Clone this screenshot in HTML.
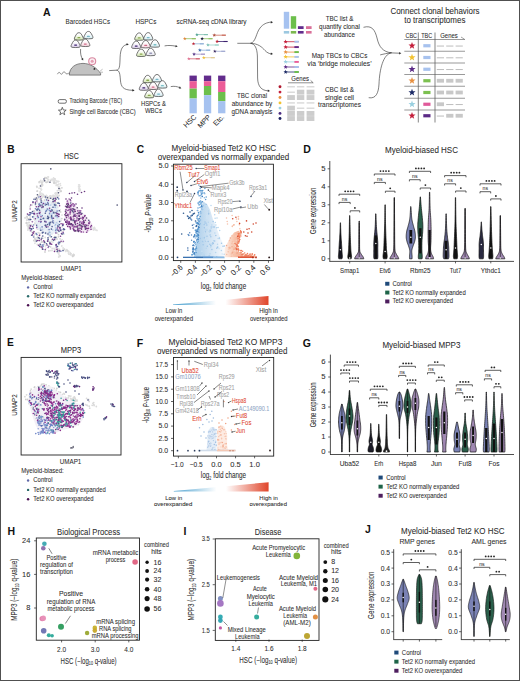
<!DOCTYPE html><html><head><meta charset="utf-8"><title>Figure</title><style>html,body{margin:0;padding:0;background:#fff;width:520px;height:681px;overflow:hidden}svg{display:block;font-family:"Liberation Sans",sans-serif}</style></head><body><svg width="520" height="681" viewBox="0 0 520 681" font-family="Liberation Sans, sans-serif" fill="#333"><defs><linearGradient id="cg_green" x1="0" y1="0" x2="0" y2="1"><stop offset="0.25" stop-color="#ffffff"/><stop offset="1" stop-color="#d2e6b0"/></linearGradient><linearGradient id="cg_blue" x1="0" y1="0" x2="0" y2="1"><stop offset="0.25" stop-color="#ffffff"/><stop offset="1" stop-color="#d4ecf2"/></linearGradient><linearGradient id="cg_purple" x1="0" y1="0" x2="0" y2="1"><stop offset="0.25" stop-color="#ffffff"/><stop offset="1" stop-color="#ddd0ec"/></linearGradient><linearGradient id="cg_pink" x1="0" y1="0" x2="0" y2="1"><stop offset="0.25" stop-color="#ffffff"/><stop offset="1" stop-color="#f6d2dc"/></linearGradient><linearGradient id="cg_gray" x1="0" y1="0" x2="0" y2="1"><stop offset="0.25" stop-color="#ffffff"/><stop offset="1" stop-color="#e4e4ee"/></linearGradient><linearGradient id="cg_teal" x1="0" y1="0" x2="0" y2="1"><stop offset="0.25" stop-color="#ffffff"/><stop offset="1" stop-color="#d6eef0"/></linearGradient><linearGradient id="gblue" x1="0" y1="0" x2="1" y2="0"><stop offset="0" stop-color="#a6cbea"/><stop offset="0.35" stop-color="#c4dcf0"/><stop offset="0.75" stop-color="#e4eef8"/><stop offset="1" stop-color="#fafcfe"/></linearGradient><linearGradient id="gred" x1="0" y1="0" x2="1" y2="0"><stop offset="0" stop-color="#fdeee6"/><stop offset="0.3" stop-color="#f8c4ac"/><stop offset="1" stop-color="#ec6a48"/></linearGradient><linearGradient id="gwedge" x1="0" y1="0" x2="1" y2="0"><stop offset="0" stop-color="#4aa0cf"/><stop offset="0.45" stop-color="#ffffff"/><stop offset="0.55" stop-color="#ffffff"/><stop offset="1" stop-color="#e0452a"/></linearGradient></defs><rect x="0" y="0" width="520" height="681" fill="#fff"/><text x="43.00" y="15.80" font-size="10.50" fill="#111" font-weight="bold">A</text><text x="87.80" y="24.20" font-size="7.26" text-anchor="middle" fill="#2c2c2c" textLength="44.50" lengthAdjust="spacingAndGlyphs" stroke="#2c2c2c" stroke-width="0.06">Barcoded HSCs</text><text x="145.90" y="24.20" font-size="7.26" text-anchor="middle" fill="#2c2c2c" textLength="21.00" lengthAdjust="spacingAndGlyphs" stroke="#2c2c2c" stroke-width="0.06">HSPCs</text><text x="211.60" y="24.20" font-size="7.26" text-anchor="middle" fill="#2c2c2c" textLength="70.00" lengthAdjust="spacingAndGlyphs" stroke="#2c2c2c" stroke-width="0.06">scRNA-seq cDNA library</text><g transform="translate(78.90,36.40) scale(1.0)"><path d="M -3.6,3.5 C -4.7,3.5 -4.8,2.0 -4.0,0.6 C -3.2,-0.9 -2.6,-2.2 -1.8,-3.0 C -0.9,-3.9 0.9,-3.9 1.8,-3.0 C 2.6,-2.2 3.2,-0.9 4.0,0.6 C 4.8,2.0 4.7,3.5 3.6,3.5 C 1.4,3.8 -1.4,3.8 -3.6,3.5 Z" fill="url(#cg_green)" stroke="#454545" stroke-width="0.75"/><rect x="-1.5" y="0.6" width="3.0" height="1.3" rx="0.6" fill="#8aa850"/></g><g transform="translate(88.40,35.10) scale(1.0)"><path d="M -3.6,3.5 C -4.7,3.5 -4.8,2.0 -4.0,0.6 C -3.2,-0.9 -2.6,-2.2 -1.8,-3.0 C -0.9,-3.9 0.9,-3.9 1.8,-3.0 C 2.6,-2.2 3.2,-0.9 4.0,0.6 C 4.8,2.0 4.7,3.5 3.6,3.5 C 1.4,3.8 -1.4,3.8 -3.6,3.5 Z" fill="url(#cg_blue)" stroke="#454545" stroke-width="0.75"/><rect x="-1.5" y="0.6" width="3.0" height="1.3" rx="0.6" fill="#7ab8c8"/></g><g transform="translate(75.60,43.80) scale(1.0)"><path d="M -3.6,3.5 C -4.7,3.5 -4.8,2.0 -4.0,0.6 C -3.2,-0.9 -2.6,-2.2 -1.8,-3.0 C -0.9,-3.9 0.9,-3.9 1.8,-3.0 C 2.6,-2.2 3.2,-0.9 4.0,0.6 C 4.8,2.0 4.7,3.5 3.6,3.5 C 1.4,3.8 -1.4,3.8 -3.6,3.5 Z" fill="url(#cg_purple)" stroke="#454545" stroke-width="0.75"/><rect x="-1.5" y="0.6" width="3.0" height="1.3" rx="0.6" fill="#3d2370"/></g><g transform="translate(85.30,42.80) scale(1.0)"><path d="M -3.6,3.5 C -4.7,3.5 -4.8,2.0 -4.0,0.6 C -3.2,-0.9 -2.6,-2.2 -1.8,-3.0 C -0.9,-3.9 0.9,-3.9 1.8,-3.0 C 2.6,-2.2 3.2,-0.9 4.0,0.6 C 4.8,2.0 4.7,3.5 3.6,3.5 C 1.4,3.8 -1.4,3.8 -3.6,3.5 Z" fill="url(#cg_pink)" stroke="#454545" stroke-width="0.75"/><rect x="-1.5" y="0.6" width="3.0" height="1.3" rx="0.6" fill="#d06a88"/></g><path d="M 80.6,49 C 80.2,53 81,57 82.6,59.2" fill="none" stroke="#2c2c2c" stroke-width="0.6"/><polygon points="83.20,60.40 81.05,59.10 83.15,57.89" fill="#2c2c2c"/><path d="M 57.4,74.2 C 58.4,72.2 59.4,71.6 60.2,73.2 C 61,74.8 62,74.6 62.8,72.8 C 63.6,71.2 64.6,71.4 65.4,73 C 66.2,74.4 67.4,74.2 69.6,72.6" fill="none" stroke="#444" stroke-width="0.55"/><path d="M 69.3,75.1 C 69.5,67 76,63.4 83,63.4 C 90,63.4 96.5,67.5 100.6,73.4 L 100.6,75.1 Z" fill="#c2c2c2" stroke="#4a4a4a" stroke-width="0.65"/><circle cx="92.2" cy="61.3" r="3.5" fill="#fbeef2" stroke="#d98aa2" stroke-width="1.1"/><circle cx="92.2" cy="61.3" r="1.5" fill="#e4a0b4"/><circle cx="94.4" cy="68.9" r="0.9" fill="#222"/><path d="M 100.2,71 L 102.6,69.2 M 100.2,72.2 L 103,72.2" fill="none" stroke="#555" stroke-width="0.4"/><path d="M 109.2,70.6 L 116.5,70.2 C 119.5,70 119.8,66 120,60 C 120.2,52 121,46 126.5,44.6" fill="none" stroke="#2c2c2c" stroke-width="0.6"/><path d="M 126,44.6 L 127.5,44.3" fill="none" stroke="#2c2c2c" stroke-width="0.6"/><polygon points="128.80,44.20 126.71,45.60 126.50,43.19" fill="#2c2c2c"/><path d="M 116.5,70.2 C 119.5,70.4 120,74 120.4,80 C 121,87 123,90 132.5,90.3" fill="none" stroke="#2c2c2c" stroke-width="0.6"/><path d="M 132,90.3 L 133,90.35" fill="none" stroke="#2c2c2c" stroke-width="0.6"/><polygon points="134.60,90.40 132.36,91.53 132.44,89.11" fill="#2c2c2c"/><g transform="translate(139.20,36.60) scale(1.0)"><path d="M -3.6,3.5 C -4.7,3.5 -4.8,2.0 -4.0,0.6 C -3.2,-0.9 -2.6,-2.2 -1.8,-3.0 C -0.9,-3.9 0.9,-3.9 1.8,-3.0 C 2.6,-2.2 3.2,-0.9 4.0,0.6 C 4.8,2.0 4.7,3.5 3.6,3.5 C 1.4,3.8 -1.4,3.8 -3.6,3.5 Z" fill="url(#cg_green)" stroke="#454545" stroke-width="0.75"/><rect x="-1.5" y="0.6" width="3.0" height="1.3" rx="0.6" fill="#8aa850"/></g><g transform="translate(148.20,36.30) scale(1.0)"><path d="M -3.6,3.5 C -4.7,3.5 -4.8,2.0 -4.0,0.6 C -3.2,-0.9 -2.6,-2.2 -1.8,-3.0 C -0.9,-3.9 0.9,-3.9 1.8,-3.0 C 2.6,-2.2 3.2,-0.9 4.0,0.6 C 4.8,2.0 4.7,3.5 3.6,3.5 C 1.4,3.8 -1.4,3.8 -3.6,3.5 Z" fill="url(#cg_blue)" stroke="#454545" stroke-width="0.75"/><rect x="-1.5" y="0.6" width="3.0" height="1.3" rx="0.6" fill="#7ab8c8"/></g><g transform="translate(136.20,44.80) scale(1.0)"><path d="M -3.6,3.5 C -4.7,3.5 -4.8,2.0 -4.0,0.6 C -3.2,-0.9 -2.6,-2.2 -1.8,-3.0 C -0.9,-3.9 0.9,-3.9 1.8,-3.0 C 2.6,-2.2 3.2,-0.9 4.0,0.6 C 4.8,2.0 4.7,3.5 3.6,3.5 C 1.4,3.8 -1.4,3.8 -3.6,3.5 Z" fill="url(#cg_purple)" stroke="#454545" stroke-width="0.75"/><rect x="-1.5" y="0.6" width="3.0" height="1.3" rx="0.6" fill="#3d2370"/></g><g transform="translate(145.70,44.20) scale(1.0)"><path d="M -3.6,3.5 C -4.7,3.5 -4.8,2.0 -4.0,0.6 C -3.2,-0.9 -2.6,-2.2 -1.8,-3.0 C -0.9,-3.9 0.9,-3.9 1.8,-3.0 C 2.6,-2.2 3.2,-0.9 4.0,0.6 C 4.8,2.0 4.7,3.5 3.6,3.5 C 1.4,3.8 -1.4,3.8 -3.6,3.5 Z" fill="url(#cg_pink)" stroke="#454545" stroke-width="0.75"/><rect x="-1.5" y="0.6" width="3.0" height="1.3" rx="0.6" fill="#d06a88"/></g><g transform="translate(155.00,43.50) scale(1.0)"><path d="M -3.6,3.5 C -4.7,3.5 -4.8,2.0 -4.0,0.6 C -3.2,-0.9 -2.6,-2.2 -1.8,-3.0 C -0.9,-3.9 0.9,-3.9 1.8,-3.0 C 2.6,-2.2 3.2,-0.9 4.0,0.6 C 4.8,2.0 4.7,3.5 3.6,3.5 C 1.4,3.8 -1.4,3.8 -3.6,3.5 Z" fill="url(#cg_teal)" stroke="#454545" stroke-width="0.75"/><rect x="-1.5" y="0.6" width="3.0" height="1.3" rx="0.6" fill="#7cc0c8"/></g><g transform="translate(141.10,52.80) scale(1.0)"><path d="M -3.6,3.5 C -4.7,3.5 -4.8,2.0 -4.0,0.6 C -3.2,-0.9 -2.6,-2.2 -1.8,-3.0 C -0.9,-3.9 0.9,-3.9 1.8,-3.0 C 2.6,-2.2 3.2,-0.9 4.0,0.6 C 4.8,2.0 4.7,3.5 3.6,3.5 C 1.4,3.8 -1.4,3.8 -3.6,3.5 Z" fill="url(#cg_green)" stroke="#454545" stroke-width="0.75"/><rect x="-1.5" y="0.6" width="3.0" height="1.3" rx="0.6" fill="#8aa850"/></g><g transform="translate(150.70,52.00) scale(1.0)"><path d="M -3.6,3.5 C -4.7,3.5 -4.8,2.0 -4.0,0.6 C -3.2,-0.9 -2.6,-2.2 -1.8,-3.0 C -0.9,-3.9 0.9,-3.9 1.8,-3.0 C 2.6,-2.2 3.2,-0.9 4.0,0.6 C 4.8,2.0 4.7,3.5 3.6,3.5 C 1.4,3.8 -1.4,3.8 -3.6,3.5 Z" fill="url(#cg_gray)" stroke="#454545" stroke-width="0.75"/><rect x="-1.5" y="0.6" width="3.0" height="1.3" rx="0.6" fill="#9a9ab8"/></g><g transform="translate(147.70,79.00) scale(1.0)"><path d="M -3.6,3.5 C -4.7,3.5 -4.8,2.0 -4.0,0.6 C -3.2,-0.9 -2.6,-2.2 -1.8,-3.0 C -0.9,-3.9 0.9,-3.9 1.8,-3.0 C 2.6,-2.2 3.2,-0.9 4.0,0.6 C 4.8,2.0 4.7,3.5 3.6,3.5 C 1.4,3.8 -1.4,3.8 -3.6,3.5 Z" fill="url(#cg_green)" stroke="#454545" stroke-width="0.75"/><rect x="-1.5" y="0.6" width="3.0" height="1.3" rx="0.6" fill="#8aa850"/></g><g transform="translate(157.00,78.20) scale(1.0)"><path d="M -3.6,3.5 C -4.7,3.5 -4.8,2.0 -4.0,0.6 C -3.2,-0.9 -2.6,-2.2 -1.8,-3.0 C -0.9,-3.9 0.9,-3.9 1.8,-3.0 C 2.6,-2.2 3.2,-0.9 4.0,0.6 C 4.8,2.0 4.7,3.5 3.6,3.5 C 1.4,3.8 -1.4,3.8 -3.6,3.5 Z" fill="url(#cg_blue)" stroke="#454545" stroke-width="0.75"/><rect x="-1.5" y="0.6" width="3.0" height="1.3" rx="0.6" fill="#7ab8c8"/></g><g transform="translate(143.80,86.60) scale(1.0)"><path d="M -3.6,3.5 C -4.7,3.5 -4.8,2.0 -4.0,0.6 C -3.2,-0.9 -2.6,-2.2 -1.8,-3.0 C -0.9,-3.9 0.9,-3.9 1.8,-3.0 C 2.6,-2.2 3.2,-0.9 4.0,0.6 C 4.8,2.0 4.7,3.5 3.6,3.5 C 1.4,3.8 -1.4,3.8 -3.6,3.5 Z" fill="url(#cg_purple)" stroke="#454545" stroke-width="0.75"/><rect x="-1.5" y="0.6" width="3.0" height="1.3" rx="0.6" fill="#3d2370"/></g><g transform="translate(153.10,85.80) scale(1.0)"><path d="M -3.6,3.5 C -4.7,3.5 -4.8,2.0 -4.0,0.6 C -3.2,-0.9 -2.6,-2.2 -1.8,-3.0 C -0.9,-3.9 0.9,-3.9 1.8,-3.0 C 2.6,-2.2 3.2,-0.9 4.0,0.6 C 4.8,2.0 4.7,3.5 3.6,3.5 C 1.4,3.8 -1.4,3.8 -3.6,3.5 Z" fill="url(#cg_pink)" stroke="#454545" stroke-width="0.75"/><rect x="-1.5" y="0.6" width="3.0" height="1.3" rx="0.6" fill="#d06a88"/></g><g transform="translate(162.40,84.40) scale(1.0)"><path d="M -3.6,3.5 C -4.7,3.5 -4.8,2.0 -4.0,0.6 C -3.2,-0.9 -2.6,-2.2 -1.8,-3.0 C -0.9,-3.9 0.9,-3.9 1.8,-3.0 C 2.6,-2.2 3.2,-0.9 4.0,0.6 C 4.8,2.0 4.7,3.5 3.6,3.5 C 1.4,3.8 -1.4,3.8 -3.6,3.5 Z" fill="url(#cg_teal)" stroke="#454545" stroke-width="0.75"/><rect x="-1.5" y="0.6" width="3.0" height="1.3" rx="0.6" fill="#7cc0c8"/></g><g transform="translate(149.20,94.20) scale(1.0)"><path d="M -3.6,3.5 C -4.7,3.5 -4.8,2.0 -4.0,0.6 C -3.2,-0.9 -2.6,-2.2 -1.8,-3.0 C -0.9,-3.9 0.9,-3.9 1.8,-3.0 C 2.6,-2.2 3.2,-0.9 4.0,0.6 C 4.8,2.0 4.7,3.5 3.6,3.5 C 1.4,3.8 -1.4,3.8 -3.6,3.5 Z" fill="url(#cg_green)" stroke="#454545" stroke-width="0.75"/><rect x="-1.5" y="0.6" width="3.0" height="1.3" rx="0.6" fill="#8aa850"/></g><g transform="translate(158.60,92.80) scale(1.0)"><path d="M -3.6,3.5 C -4.7,3.5 -4.8,2.0 -4.0,0.6 C -3.2,-0.9 -2.6,-2.2 -1.8,-3.0 C -0.9,-3.9 0.9,-3.9 1.8,-3.0 C 2.6,-2.2 3.2,-0.9 4.0,0.6 C 4.8,2.0 4.7,3.5 3.6,3.5 C 1.4,3.8 -1.4,3.8 -3.6,3.5 Z" fill="url(#cg_blue)" stroke="#454545" stroke-width="0.75"/><rect x="-1.5" y="0.6" width="3.0" height="1.3" rx="0.6" fill="#7ab8c8"/></g><text x="153.40" y="105.60" font-size="7.26" text-anchor="middle" fill="#2c2c2c" textLength="25.00" lengthAdjust="spacingAndGlyphs" stroke="#2c2c2c" stroke-width="0.06">HSPCs &amp;</text><text x="153.40" y="113.40" font-size="7.26" text-anchor="middle" fill="#2c2c2c" textLength="17.00" lengthAdjust="spacingAndGlyphs" stroke="#2c2c2c" stroke-width="0.06">WBCs</text><path d="M 164.6,45.9 C 168,45.2 172,45.4 175.8,46.2" fill="none" stroke="#2c2c2c" stroke-width="0.6"/><polygon points="177.70,46.60 175.30,47.33 175.80,44.96" fill="#2c2c2c"/><path d="M 170.8,86.6 C 174,86 177,86.4 179.6,87.6" fill="none" stroke="#2c2c2c" stroke-width="0.6"/><polygon points="181.30,88.40 178.79,88.57 179.82,86.37" fill="#2c2c2c"/><line x1="196.90" y1="34.60" x2="207.90" y2="34.60" stroke="#7fc0b0" stroke-width="0.8"/><rect x="203.90" y="34.05" width="4.00" height="1.10" fill="#7fc0b0"/><polygon points="196.90,32.70 197.37,33.95 198.71,34.01 197.66,34.85 198.02,36.14 196.90,35.40 195.78,36.14 196.14,34.85 195.09,34.01 196.43,33.95" fill="#5aa79a"/><line x1="214.20" y1="35.20" x2="225.80" y2="35.20" stroke="#c96a5a" stroke-width="0.8"/><rect x="221.80" y="34.65" width="4.00" height="1.10" fill="#c96a5a"/><polygon points="214.20,33.30 214.67,34.55 216.01,34.61 214.96,35.45 215.32,36.74 214.20,36.00 213.08,36.74 213.44,35.45 212.39,34.61 213.73,34.55" fill="#b05040"/><line x1="184.80" y1="38.70" x2="195.80" y2="38.70" stroke="#8fbf60" stroke-width="0.8"/><rect x="191.80" y="38.15" width="4.00" height="1.10" fill="#8fbf60"/><polygon points="184.80,36.80 185.27,38.05 186.61,38.11 185.56,38.95 185.92,40.24 184.80,39.50 183.68,40.24 184.04,38.95 182.99,38.11 184.33,38.05" fill="#e08a40"/><line x1="202.10" y1="38.70" x2="212.50" y2="38.70" stroke="#8fc060" stroke-width="0.8"/><rect x="208.50" y="38.15" width="4.00" height="1.10" fill="#8fc060"/><polygon points="202.10,36.80 202.57,38.05 203.91,38.11 202.86,38.95 203.22,40.24 202.10,39.50 200.98,40.24 201.34,38.95 200.29,38.11 201.63,38.05" fill="#222244"/><line x1="217.10" y1="41.50" x2="227.50" y2="41.50" stroke="#3d2370" stroke-width="0.8"/><rect x="223.50" y="40.95" width="4.00" height="1.10" fill="#3d2370"/><polygon points="217.10,39.60 217.57,40.85 218.91,40.91 217.86,41.75 218.22,43.04 217.10,42.30 215.98,43.04 216.34,41.75 215.29,40.91 216.63,40.85" fill="#c02030"/><line x1="193.50" y1="43.80" x2="203.80" y2="43.80" stroke="#8fb0d8" stroke-width="0.8"/><rect x="199.80" y="43.25" width="4.00" height="1.10" fill="#8fb0d8"/><polygon points="193.50,41.90 193.97,43.15 195.31,43.21 194.26,44.05 194.62,45.34 193.50,44.60 192.38,45.34 192.74,44.05 191.69,43.21 193.03,43.15" fill="#c02030"/><line x1="207.90" y1="45.00" x2="218.80" y2="45.00" stroke="#9ad0c8" stroke-width="0.8"/><rect x="214.80" y="44.45" width="4.00" height="1.10" fill="#9ad0c8"/><polygon points="207.90,43.10 208.37,44.35 209.71,44.41 208.66,45.25 209.02,46.54 207.90,45.80 206.78,46.54 207.14,45.25 206.09,44.41 207.43,44.35" fill="#7fc0b8"/><line x1="199.80" y1="50.20" x2="210.20" y2="50.20" stroke="#8fb0d8" stroke-width="0.8"/><rect x="206.20" y="49.65" width="4.00" height="1.10" fill="#8fb0d8"/><polygon points="199.80,48.30 200.27,49.55 201.61,49.61 200.56,50.45 200.92,51.74 199.80,51.00 198.68,51.74 199.04,50.45 197.99,49.61 199.33,49.55" fill="#3a6ab0"/><line x1="214.80" y1="51.30" x2="225.20" y2="51.30" stroke="#a0a8d0" stroke-width="0.8"/><rect x="221.20" y="50.75" width="4.00" height="1.10" fill="#a0a8d0"/><polygon points="214.80,49.40 215.27,50.65 216.61,50.71 215.56,51.55 215.92,52.84 214.80,52.10 213.68,52.84 214.04,51.55 212.99,50.71 214.33,50.65" fill="#3d2a60"/><line x1="194.00" y1="54.20" x2="205.00" y2="54.20" stroke="#a898c8" stroke-width="0.8"/><rect x="201.00" y="53.65" width="4.00" height="1.10" fill="#a898c8"/><polygon points="194.00,52.30 194.47,53.55 195.81,53.61 194.76,54.45 195.12,55.74 194.00,55.00 192.88,55.74 193.24,54.45 192.19,53.61 193.53,53.55" fill="#5a3a8a"/><line x1="203.80" y1="57.70" x2="214.80" y2="57.70" stroke="#e0c890" stroke-width="0.8"/><rect x="210.80" y="57.15" width="4.00" height="1.10" fill="#e0c890"/><polygon points="203.80,55.80 204.27,57.05 205.61,57.11 204.56,57.95 204.92,59.24 203.80,58.50 202.68,59.24 203.04,57.95 201.99,57.11 203.33,57.05" fill="#f0c040"/><line x1="188.80" y1="58.80" x2="199.80" y2="58.80" stroke="#d06070" stroke-width="0.8"/><rect x="195.80" y="58.25" width="4.00" height="1.10" fill="#d06070"/><polygon points="188.80,56.90 189.27,58.15 190.61,58.21 189.56,59.05 189.92,60.34 188.80,59.60 187.68,60.34 188.04,59.05 186.99,58.21 188.33,58.15" fill="#e07090"/><rect x="189.50" y="75.60" width="7.30" height="5.60" fill="#622c8c"/><rect x="189.50" y="81.20" width="7.30" height="7.40" fill="#ec5c98"/><rect x="189.50" y="88.60" width="7.30" height="9.90" fill="#6cbf4b"/><rect x="189.50" y="98.50" width="7.30" height="14.80" fill="#a6c2f0"/><rect x="203.90" y="75.60" width="7.30" height="5.60" fill="#622c8c"/><rect x="203.90" y="81.20" width="7.30" height="4.80" fill="#ec5c98"/><rect x="203.90" y="86.00" width="7.30" height="9.10" fill="#6cbf4b"/><rect x="203.90" y="95.10" width="7.30" height="18.20" fill="#a6c2f0"/><rect x="218.10" y="75.60" width="7.30" height="5.60" fill="#622c8c"/><rect x="218.10" y="81.20" width="7.30" height="10.80" fill="#ec5c98"/><rect x="218.10" y="92.00" width="7.30" height="9.10" fill="#6cbf4b"/><rect x="218.10" y="101.10" width="7.30" height="12.20" fill="#a6c2f0"/><text x="196.80" y="117.60" font-size="7.04" text-anchor="end" fill="#2c2c2c" transform="rotate(-45 196.80 117.60)" stroke="#2c2c2c" stroke-width="0.06">HSC</text><text x="211.20" y="117.60" font-size="7.04" text-anchor="end" fill="#2c2c2c" transform="rotate(-45 211.20 117.60)" stroke="#2c2c2c" stroke-width="0.06">MPP</text><text x="224.60" y="117.60" font-size="7.04" text-anchor="end" fill="#2c2c2c" transform="rotate(-45 224.60 117.60)" stroke="#2c2c2c" stroke-width="0.06">Etc.</text><text x="252.00" y="98.40" font-size="7.26" text-anchor="middle" fill="#2c2c2c" textLength="30.20" lengthAdjust="spacingAndGlyphs" stroke="#2c2c2c" stroke-width="0.06">TBC clonal</text><text x="252.00" y="106.30" font-size="7.26" text-anchor="middle" fill="#2c2c2c" textLength="40.40" lengthAdjust="spacingAndGlyphs" stroke="#2c2c2c" stroke-width="0.06">abundance by</text><text x="252.00" y="113.70" font-size="7.26" text-anchor="middle" fill="#2c2c2c" textLength="40.90" lengthAdjust="spacingAndGlyphs" stroke="#2c2c2c" stroke-width="0.06">gDNA analysis</text><rect x="58.20" y="99.60" width="8.20" height="3.60" fill="none" stroke="#333" stroke-width="0.7" rx="1.5"/><text x="69.40" y="103.30" font-size="6.82" fill="#2c2c2c" textLength="52.80" lengthAdjust="spacingAndGlyphs" stroke="#2c2c2c" stroke-width="0.06">Tracking Barcode (TBC)</text><polygon points="62.30,107.30 63.33,109.98 66.20,110.13 63.96,111.94 64.71,114.72 62.30,113.15 59.89,114.72 60.64,111.94 58.40,110.13 61.27,109.98" fill="none" stroke="#333" stroke-width="0.7" stroke-linejoin="round"/><text x="69.40" y="113.50" font-size="6.82" fill="#2c2c2c" textLength="66.30" lengthAdjust="spacingAndGlyphs" stroke="#2c2c2c" stroke-width="0.06">Single cell Barcode (CBC)</text><path d="M 237.3,43.3 L 250.5,43.3" fill="none" stroke="#2c2c2c" stroke-width="0.6"/><path d="M 250.5,43.3 C 256,42 256,33 260,28 C 263,24 267,22.4 271,22.2" fill="none" stroke="#2c2c2c" stroke-width="0.6"/><polygon points="273.00,22.20 270.80,23.41 270.80,20.99" fill="#2c2c2c"/><path d="M 250.5,43.3 C 258,43.5 262,47 265,50.5 C 267,52.6 269,53.6 271,53.8" fill="none" stroke="#2c2c2c" stroke-width="0.6"/><polygon points="273.00,53.90 270.70,54.91 270.91,52.50" fill="#2c2c2c"/><path d="M 250.5,43.3 C 255,44 257,48 257.4,56 L 257.6,78 C 257.8,87 262,90.5 268,90.8" fill="none" stroke="#2c2c2c" stroke-width="0.6"/><polygon points="270.00,90.90 267.74,91.99 267.87,89.58" fill="#2c2c2c"/><rect x="283.80" y="11.80" width="5.40" height="16.90" fill="#a6c2f0"/><rect x="290.80" y="16.20" width="5.40" height="12.50" fill="#6cbf4b"/><rect x="297.90" y="26.20" width="5.70" height="2.80" fill="#622c8c"/><rect x="306.00" y="26.20" width="5.60" height="2.80" fill="#d97098"/><rect x="283.80" y="31.00" width="5.40" height="2.60" fill="#9cc8e0"/><rect x="290.80" y="31.00" width="5.40" height="2.60" fill="#7cb850"/><rect x="297.90" y="31.00" width="5.70" height="2.60" fill="#622c8c"/><rect x="306.00" y="31.00" width="5.60" height="2.60" fill="#d97098"/><line x1="285.60" y1="41.70" x2="298.80" y2="41.70" stroke="#c41e3a" stroke-width="0.8"/><rect x="294.40" y="40.75" width="4.40" height="1.90" fill="#a7c2ee"/><polygon points="285.60,39.40 286.17,40.92 287.79,40.99 286.52,42.00 286.95,43.56 285.60,42.67 284.25,43.56 284.68,42.00 283.41,40.99 285.03,40.92" fill="#c41e3a"/><line x1="285.60" y1="47.10" x2="298.80" y2="47.10" stroke="#c41e3a" stroke-width="0.8"/><rect x="294.40" y="46.15" width="4.40" height="1.90" fill="#622c8c"/><polygon points="285.60,44.80 286.17,46.32 287.79,46.39 286.52,47.40 286.95,48.96 285.60,48.07 284.25,48.96 284.68,47.40 283.41,46.39 285.03,46.32" fill="#c41e3a"/><line x1="285.60" y1="52.10" x2="298.80" y2="52.10" stroke="#e89040" stroke-width="0.8"/><rect x="294.40" y="51.15" width="4.40" height="1.90" fill="#6cbf4b"/><polygon points="285.60,49.80 286.17,51.32 287.79,51.39 286.52,52.40 286.95,53.96 285.60,53.07 284.25,53.96 284.68,52.40 283.41,51.39 285.03,51.32" fill="#e89040"/><line x1="285.60" y1="56.90" x2="298.80" y2="56.90" stroke="#f2c230" stroke-width="0.8"/><rect x="294.40" y="55.95" width="4.40" height="1.90" fill="#a7c2ee"/><polygon points="285.60,54.60 286.17,56.12 287.79,56.19 286.52,57.20 286.95,58.76 285.60,57.87 284.25,58.76 284.68,57.20 283.41,56.19 285.03,56.12" fill="#f2c230"/><line x1="285.60" y1="61.90" x2="298.80" y2="61.90" stroke="#9ad0e0" stroke-width="0.8"/><rect x="294.40" y="60.95" width="4.40" height="1.90" fill="#ec5c98"/><polygon points="285.60,59.60 286.17,61.12 287.79,61.19 286.52,62.20 286.95,63.76 285.60,62.87 284.25,63.76 284.68,62.20 283.41,61.19 285.03,61.12" fill="#9ad0e0"/><line x1="285.60" y1="67.00" x2="298.80" y2="67.00" stroke="#5b2a86" stroke-width="0.8"/><rect x="294.40" y="66.05" width="4.40" height="1.90" fill="#a7c2ee"/><polygon points="285.60,64.70 286.17,66.22 287.79,66.29 286.52,67.30 286.95,68.86 285.60,67.97 284.25,68.86 284.68,67.30 283.41,66.29 285.03,66.22" fill="#5b2a86"/><line x1="285.60" y1="72.00" x2="298.80" y2="72.00" stroke="#1c2a66" stroke-width="0.8"/><rect x="294.40" y="71.05" width="4.40" height="1.90" fill="#6cbf4b"/><polygon points="285.60,69.70 286.17,71.22 287.79,71.29 286.52,72.30 286.95,73.86 285.60,72.97 284.25,73.86 284.68,72.30 283.41,71.29 285.03,71.22" fill="#1c2a66"/><text x="300.20" y="80.80" font-size="7.48" text-anchor="middle" fill="#2c2c2c" textLength="17.80" lengthAdjust="spacingAndGlyphs" stroke="#2c2c2c" stroke-width="0.06">Genes</text><path d="M 288,82.8 L 313.2,82.8 L 310.6,80.4" fill="none" stroke="#444" stroke-width="0.6"/><circle cx="280.0" cy="86.8" r="1.45" fill="#b0182e"/><circle cx="280.0" cy="92.1" r="1.45" fill="#c41e3a"/><circle cx="280.0" cy="97.5" r="1.45" fill="#e89040"/><circle cx="280.0" cy="102.9" r="1.45" fill="#f2c230"/><circle cx="280.0" cy="108.1" r="1.45" fill="#9ad0e0"/><circle cx="280.0" cy="113.4" r="1.45" fill="#4a2a80"/><circle cx="280.0" cy="118.5" r="1.45" fill="#1c2060"/><rect x="287.20" y="86.40" width="7.70" height="0.90" fill="#c4c4c4"/><rect x="296.90" y="86.40" width="7.40" height="0.90" fill="#c4c4c4"/><rect x="306.60" y="86.40" width="7.80" height="0.90" fill="#c4c4c4"/><rect x="287.20" y="91.70" width="7.70" height="0.90" fill="#c4c4c4"/><rect x="296.90" y="89.70" width="7.40" height="4.90" fill="#cdcdcd"/><rect x="306.60" y="89.70" width="7.80" height="4.90" fill="#cdcdcd"/><rect x="287.20" y="95.10" width="7.70" height="4.90" fill="#cdcdcd"/><rect x="296.90" y="95.10" width="7.40" height="4.90" fill="#cdcdcd"/><rect x="306.60" y="95.10" width="7.80" height="4.90" fill="#cdcdcd"/><rect x="287.20" y="102.50" width="7.70" height="0.90" fill="#c4c4c4"/><rect x="296.90" y="102.50" width="7.40" height="0.90" fill="#c4c4c4"/><rect x="306.60" y="102.50" width="7.80" height="0.90" fill="#c4c4c4"/><rect x="287.20" y="105.70" width="7.70" height="4.90" fill="#cdcdcd"/><rect x="296.90" y="107.70" width="7.40" height="0.90" fill="#c4c4c4"/><rect x="306.60" y="107.70" width="7.80" height="0.90" fill="#c4c4c4"/><rect x="287.20" y="111.00" width="7.70" height="4.90" fill="#cdcdcd"/><rect x="296.90" y="111.00" width="7.40" height="4.90" fill="#cdcdcd"/><rect x="306.60" y="111.00" width="7.80" height="4.90" fill="#cdcdcd"/><rect x="287.20" y="116.10" width="7.70" height="4.90" fill="#cdcdcd"/><rect x="296.90" y="116.10" width="7.40" height="4.90" fill="#cdcdcd"/><rect x="306.60" y="116.10" width="7.80" height="4.90" fill="#cdcdcd"/><text x="339.50" y="21.30" font-size="7.26" text-anchor="middle" fill="#2c2c2c" textLength="27.60" lengthAdjust="spacingAndGlyphs" stroke="#2c2c2c" stroke-width="0.06">TBC list &amp;</text><text x="339.50" y="29.20" font-size="7.26" text-anchor="middle" fill="#2c2c2c" textLength="40.80" lengthAdjust="spacingAndGlyphs" stroke="#2c2c2c" stroke-width="0.06">quantify clonal</text><text x="339.50" y="36.60" font-size="7.26" text-anchor="middle" fill="#2c2c2c" textLength="30.80" lengthAdjust="spacingAndGlyphs" stroke="#2c2c2c" stroke-width="0.06">abundance</text><text x="339.50" y="57.80" font-size="7.26" text-anchor="middle" fill="#2c2c2c" textLength="55.70" lengthAdjust="spacingAndGlyphs" stroke="#2c2c2c" stroke-width="0.06">Map TBCs to CBCs</text><text x="339.50" y="65.60" font-size="7.26" text-anchor="middle" fill="#2c2c2c" textLength="64.30" lengthAdjust="spacingAndGlyphs" stroke="#2c2c2c" stroke-width="0.06">via ‘bridge molecules’</text><text x="339.50" y="91.70" font-size="7.26" text-anchor="middle" fill="#2c2c2c" textLength="29.20" lengthAdjust="spacingAndGlyphs" stroke="#2c2c2c" stroke-width="0.06">CBC list &amp;</text><text x="339.50" y="99.50" font-size="7.26" text-anchor="middle" fill="#2c2c2c" textLength="29.00" lengthAdjust="spacingAndGlyphs" stroke="#2c2c2c" stroke-width="0.06">single cell</text><text x="339.50" y="107.10" font-size="7.26" text-anchor="middle" fill="#2c2c2c" textLength="42.80" lengthAdjust="spacingAndGlyphs" stroke="#2c2c2c" stroke-width="0.06">transcriptomes</text><path d="M 363.5,27.3 C 372,25 375,30 377,38 C 379,47 383,52 391.6,52.8" fill="none" stroke="#2c2c2c" stroke-width="0.6"/><path d="M 380.2,54.9 C 384,54 387,53.2 391.6,52.8" fill="none" stroke="#2c2c2c" stroke-width="0.6"/><path d="M 368.7,97.7 C 376,99 378.5,93 379,84 C 379.5,70 383,54 391.6,52.8" fill="none" stroke="#2c2c2c" stroke-width="0.6"/><path d="M 391.6,52.9 L 399,53.2" fill="none" stroke="#2c2c2c" stroke-width="0.6"/><polygon points="401.30,53.30 399.06,54.43 399.14,52.01" fill="#2c2c2c"/><text x="435.00" y="13.80" font-size="8.80" text-anchor="middle" fill="#2c2c2c" textLength="89.20" lengthAdjust="spacingAndGlyphs" stroke="#2c2c2c" stroke-width="0.06">Connect clonal behaviors</text><text x="434.80" y="22.70" font-size="8.80" text-anchor="middle" fill="#2c2c2c" textLength="61.20" lengthAdjust="spacingAndGlyphs" stroke="#2c2c2c" stroke-width="0.06">to transcriptomes</text><text x="411.30" y="37.80" font-size="6.60" text-anchor="middle" fill="#2c2c2c" textLength="11.50" lengthAdjust="spacingAndGlyphs" stroke="#2c2c2c" stroke-width="0.06">CBC</text><text x="426.70" y="37.80" font-size="6.60" text-anchor="middle" fill="#2c2c2c" textLength="11.00" lengthAdjust="spacingAndGlyphs" stroke="#2c2c2c" stroke-width="0.06">TBC</text><text x="449.00" y="37.80" font-size="6.60" text-anchor="middle" fill="#2c2c2c" textLength="17.50" lengthAdjust="spacingAndGlyphs" stroke="#2c2c2c" stroke-width="0.06">Genes</text><path d="M 461,37 L 464.5,39.2" fill="none" stroke="#444" stroke-width="0.5"/><line x1="418.30" y1="32.50" x2="418.30" y2="122.50" stroke="#333" stroke-width="0.6"/><line x1="435.00" y1="32.50" x2="435.00" y2="122.50" stroke="#333" stroke-width="0.6"/><line x1="404.30" y1="39.50" x2="465.00" y2="39.50" stroke="#555" stroke-width="0.6"/><line x1="404.30" y1="51.25" x2="465.00" y2="51.25" stroke="#555" stroke-width="0.6"/><line x1="404.30" y1="63.00" x2="465.00" y2="63.00" stroke="#555" stroke-width="0.6"/><line x1="404.30" y1="74.50" x2="465.00" y2="74.50" stroke="#555" stroke-width="0.6"/><line x1="404.30" y1="86.25" x2="465.00" y2="86.25" stroke="#555" stroke-width="0.6"/><line x1="404.30" y1="98.25" x2="465.00" y2="98.25" stroke="#555" stroke-width="0.6"/><line x1="404.30" y1="110.00" x2="465.00" y2="110.00" stroke="#555" stroke-width="0.6"/><polygon points="412.00,42.05 412.91,44.49 415.52,44.61 413.48,46.23 414.17,48.74 412.00,47.30 409.83,48.74 410.52,46.23 408.48,44.61 411.09,44.49" fill="#c41e3a"/><rect x="423.30" y="44.15" width="7.20" height="3.20" fill="#a7c2ee"/><rect x="436.80" y="45.55" width="7.20" height="1.00" fill="#bdbdbd"/><rect x="446.20" y="45.55" width="7.20" height="1.00" fill="#bdbdbd"/><rect x="455.60" y="45.55" width="7.20" height="1.00" fill="#bdbdbd"/><polygon points="412.00,53.80 412.91,56.24 415.52,56.36 413.48,57.98 414.17,60.49 412.00,59.05 409.83,60.49 410.52,57.98 408.48,56.36 411.09,56.24" fill="#f2c230"/><rect x="423.30" y="55.90" width="7.20" height="3.20" fill="#a7c2ee"/><rect x="436.80" y="57.30" width="7.20" height="1.00" fill="#bdbdbd"/><rect x="446.20" y="57.30" width="7.20" height="1.00" fill="#bdbdbd"/><rect x="455.60" y="57.30" width="7.20" height="1.00" fill="#bdbdbd"/><polygon points="412.00,65.55 412.91,67.99 415.52,68.11 413.48,69.73 414.17,72.24 412.00,70.80 409.83,72.24 410.52,69.73 408.48,68.11 411.09,67.99" fill="#5b2a86"/><rect x="423.30" y="67.65" width="7.20" height="3.20" fill="#a7c2ee"/><rect x="436.80" y="69.05" width="7.20" height="1.00" fill="#bdbdbd"/><rect x="446.20" y="69.05" width="7.20" height="1.00" fill="#bdbdbd"/><rect x="455.60" y="69.05" width="7.20" height="1.00" fill="#bdbdbd"/><polygon points="412.00,77.05 412.91,79.49 415.52,79.61 413.48,81.23 414.17,83.74 412.00,82.30 409.83,83.74 410.52,81.23 408.48,79.61 411.09,79.49" fill="#e89040"/><rect x="423.30" y="79.15" width="7.20" height="3.20" fill="#7cc050"/><rect x="436.80" y="78.85" width="7.20" height="3.80" fill="#c8c8c8"/><rect x="446.20" y="78.85" width="7.20" height="3.80" fill="#c8c8c8"/><rect x="455.60" y="78.85" width="7.20" height="3.80" fill="#c8c8c8"/><polygon points="412.00,88.80 412.91,91.24 415.52,91.36 413.48,92.98 414.17,95.49 412.00,94.05 409.83,95.49 410.52,92.98 408.48,91.36 411.09,91.24" fill="#1c2a66"/><rect x="423.30" y="90.90" width="7.20" height="3.20" fill="#7cc050"/><rect x="436.80" y="90.60" width="7.20" height="3.80" fill="#c8c8c8"/><rect x="446.20" y="90.60" width="7.20" height="3.80" fill="#c8c8c8"/><rect x="455.60" y="90.60" width="7.20" height="3.80" fill="#c8c8c8"/><polygon points="412.00,100.55 412.91,102.99 415.52,103.11 413.48,104.73 414.17,107.24 412.00,105.80 409.83,107.24 410.52,104.73 408.48,103.11 411.09,102.99" fill="#9ad0e0"/><rect x="423.30" y="102.65" width="7.20" height="3.20" fill="#e05a9a"/><rect x="436.80" y="102.35" width="7.20" height="3.80" fill="#c8c8c8"/><rect x="446.20" y="104.05" width="7.20" height="1.00" fill="#bdbdbd"/><rect x="455.60" y="104.05" width="7.20" height="1.00" fill="#bdbdbd"/><polygon points="412.00,112.05 412.91,114.49 415.52,114.61 413.48,116.23 414.17,118.74 412.00,117.30 409.83,118.74 410.52,116.23 408.48,114.61 411.09,114.49" fill="#c41e3a"/><rect x="423.30" y="114.15" width="7.20" height="3.20" fill="#5b2a86"/><rect x="436.80" y="115.55" width="7.20" height="1.00" fill="#bdbdbd"/><rect x="446.20" y="113.85" width="7.20" height="3.80" fill="#c8c8c8"/><rect x="455.60" y="113.85" width="7.20" height="3.80" fill="#c8c8c8"/><text x="7.20" y="153.10" font-size="10.20" fill="#111" font-weight="bold">B</text><text x="71.40" y="158.80" font-size="8.80" text-anchor="middle" fill="#2c2c2c" textLength="14.80" lengthAdjust="spacingAndGlyphs" stroke="#2c2c2c" stroke-width="0.06">HSC</text><circle cx="43.4" cy="194.6" r="0.9" fill="#e0e0e0"/><circle cx="56.8" cy="195.7" r="0.9" fill="#e0e0e0"/><circle cx="57.3" cy="194.9" r="0.9" fill="#e0e0e0"/><circle cx="41.3" cy="189.9" r="0.9" fill="#e0e0e0"/><circle cx="37.5" cy="191.0" r="0.9" fill="#e0e0e0"/><circle cx="47.8" cy="199.2" r="0.9" fill="#d2d2d2"/><circle cx="42.4" cy="182.6" r="0.9" fill="#d2d2d2"/><circle cx="59.2" cy="195.4" r="0.9" fill="#e0e0e0"/><circle cx="52.1" cy="196.1" r="0.9" fill="#e0e0e0"/><circle cx="54.8" cy="183.0" r="0.9" fill="#e0e0e0"/><circle cx="45.5" cy="180.8" r="0.9" fill="#e0e0e0"/><circle cx="55.3" cy="193.7" r="0.9" fill="#e0e0e0"/><circle cx="47.9" cy="179.9" r="0.9" fill="#e0e0e0"/><circle cx="42.5" cy="182.0" r="0.9" fill="#e0e0e0"/><circle cx="55.3" cy="180.1" r="0.9" fill="#e0e0e0"/><circle cx="41.8" cy="182.2" r="0.9" fill="#d2d2d2"/><circle cx="50.7" cy="180.6" r="0.9" fill="#d2d2d2"/><circle cx="54.1" cy="196.9" r="0.9" fill="#d2d2d2"/><circle cx="52.4" cy="198.1" r="0.9" fill="#e0e0e0"/><circle cx="46.7" cy="178.3" r="0.9" fill="#e0e0e0"/><circle cx="57.4" cy="185.0" r="0.9" fill="#e0e0e0"/><circle cx="42.5" cy="181.2" r="0.9" fill="#e0e0e0"/><circle cx="58.7" cy="181.3" r="0.9" fill="#e0e0e0"/><circle cx="47.3" cy="181.9" r="0.9" fill="#e0e0e0"/><circle cx="44.9" cy="177.6" r="0.9" fill="#d2d2d2"/><circle cx="44.4" cy="196.8" r="0.9" fill="#e0e0e0"/><circle cx="58.2" cy="193.0" r="0.9" fill="#e0e0e0"/><circle cx="53.2" cy="195.3" r="0.9" fill="#d2d2d2"/><circle cx="53.1" cy="196.4" r="0.9" fill="#e0e0e0"/><circle cx="56.2" cy="185.4" r="0.9" fill="#e0e0e0"/><circle cx="39.2" cy="182.4" r="0.9" fill="#d2d2d2"/><circle cx="56.9" cy="184.6" r="0.9" fill="#e0e0e0"/><circle cx="39.0" cy="195.4" r="0.9" fill="#d2d2d2"/><circle cx="51.9" cy="196.5" r="0.9" fill="#e0e0e0"/><circle cx="47.2" cy="198.3" r="0.9" fill="#e0e0e0"/><circle cx="46.4" cy="195.5" r="0.9" fill="#e0e0e0"/><circle cx="40.1" cy="194.0" r="0.9" fill="#d2d2d2"/><circle cx="48.4" cy="179.3" r="0.9" fill="#e0e0e0"/><circle cx="47.9" cy="181.8" r="0.9" fill="#d2d2d2"/><circle cx="54.9" cy="178.8" r="0.9" fill="#d2d2d2"/><circle cx="40.2" cy="192.3" r="0.9" fill="#e0e0e0"/><circle cx="45.9" cy="182.3" r="0.9" fill="#e0e0e0"/><circle cx="48.9" cy="196.8" r="0.9" fill="#e0e0e0"/><circle cx="55.3" cy="193.1" r="0.9" fill="#e0e0e0"/><circle cx="54.8" cy="196.2" r="0.9" fill="#e0e0e0"/><circle cx="58.7" cy="184.2" r="0.9" fill="#e0e0e0"/><circle cx="46.3" cy="197.4" r="0.9" fill="#e0e0e0"/><circle cx="54.9" cy="199.0" r="0.9" fill="#d2d2d2"/><circle cx="39.1" cy="188.2" r="0.9" fill="#e0e0e0"/><circle cx="54.7" cy="196.1" r="0.9" fill="#e0e0e0"/><circle cx="55.2" cy="183.5" r="0.9" fill="#e0e0e0"/><circle cx="59.5" cy="188.9" r="0.9" fill="#e0e0e0"/><circle cx="42.7" cy="185.1" r="0.9" fill="#e0e0e0"/><circle cx="61.1" cy="190.9" r="0.9" fill="#e0e0e0"/><circle cx="45.8" cy="197.3" r="0.9" fill="#e0e0e0"/><circle cx="53.6" cy="180.2" r="0.9" fill="#d2d2d2"/><circle cx="42.9" cy="194.7" r="0.9" fill="#d2d2d2"/><circle cx="61.0" cy="191.3" r="0.9" fill="#d2d2d2"/><circle cx="56.8" cy="180.9" r="0.9" fill="#e0e0e0"/><circle cx="40.5" cy="185.5" r="0.9" fill="#e0e0e0"/><circle cx="57.2" cy="192.9" r="0.9" fill="#e0e0e0"/><circle cx="48.4" cy="177.0" r="0.9" fill="#e0e0e0"/><circle cx="61.9" cy="187.8" r="0.9" fill="#d2d2d2"/><circle cx="41.7" cy="193.3" r="0.9" fill="#e0e0e0"/><circle cx="49.5" cy="197.1" r="0.9" fill="#e0e0e0"/><circle cx="60.5" cy="185.4" r="0.9" fill="#e0e0e0"/><circle cx="45.6" cy="178.4" r="0.9" fill="#e0e0e0"/><circle cx="46.0" cy="177.7" r="0.9" fill="#d2d2d2"/><circle cx="52.2" cy="179.9" r="0.9" fill="#e0e0e0"/><circle cx="54.0" cy="181.5" r="0.9" fill="#d2d2d2"/><circle cx="58.8" cy="190.1" r="0.9" fill="#e0e0e0"/><circle cx="60.6" cy="188.6" r="0.9" fill="#e0e0e0"/><circle cx="53.0" cy="195.9" r="0.9" fill="#d2d2d2"/><circle cx="54.3" cy="182.8" r="0.9" fill="#d2d2d2"/><circle cx="60.0" cy="190.8" r="0.9" fill="#e0e0e0"/><circle cx="42.4" cy="184.6" r="0.9" fill="#e0e0e0"/><circle cx="60.1" cy="190.2" r="0.9" fill="#e0e0e0"/><circle cx="59.0" cy="187.9" r="0.9" fill="#d2d2d2"/><circle cx="55.3" cy="183.2" r="0.9" fill="#e0e0e0"/><circle cx="44.4" cy="195.9" r="0.9" fill="#e0e0e0"/><circle cx="45.8" cy="197.6" r="0.9" fill="#e0e0e0"/><circle cx="58.3" cy="186.7" r="0.9" fill="#e0e0e0"/><circle cx="40.8" cy="180.4" r="0.9" fill="#e0e0e0"/><circle cx="59.2" cy="186.9" r="0.9" fill="#e0e0e0"/><circle cx="42.3" cy="185.9" r="0.9" fill="#e0e0e0"/><circle cx="50.1" cy="196.0" r="0.9" fill="#d2d2d2"/><circle cx="51.1" cy="198.3" r="0.9" fill="#e0e0e0"/><circle cx="41.8" cy="183.7" r="0.9" fill="#e0e0e0"/><circle cx="39.9" cy="182.3" r="0.9" fill="#e0e0e0"/><circle cx="42.3" cy="183.8" r="0.9" fill="#e0e0e0"/><circle cx="53.6" cy="180.3" r="0.9" fill="#e0e0e0"/><circle cx="53.6" cy="178.0" r="0.9" fill="#e0e0e0"/><circle cx="43.7" cy="180.9" r="0.9" fill="#e0e0e0"/><circle cx="48.6" cy="179.7" r="0.9" fill="#e0e0e0"/><circle cx="36.9" cy="187.1" r="0.9" fill="#e0e0e0"/><circle cx="60.3" cy="183.6" r="0.9" fill="#e0e0e0"/><circle cx="39.4" cy="181.6" r="0.9" fill="#d2d2d2"/><circle cx="52.5" cy="196.0" r="0.9" fill="#e0e0e0"/><circle cx="55.6" cy="194.7" r="0.9" fill="#e0e0e0"/><circle cx="46.8" cy="178.2" r="0.9" fill="#d2d2d2"/><circle cx="52.6" cy="199.2" r="0.9" fill="#e0e0e0"/><circle cx="53.6" cy="199.8" r="0.9" fill="#d2d2d2"/><circle cx="47.8" cy="200.9" r="0.9" fill="#e0e0e0"/><circle cx="36.8" cy="186.3" r="0.9" fill="#d2d2d2"/><circle cx="51.7" cy="197.9" r="0.9" fill="#e0e0e0"/><circle cx="42.7" cy="194.2" r="0.9" fill="#e0e0e0"/><circle cx="50.2" cy="182.0" r="0.9" fill="#e0e0e0"/><circle cx="41.5" cy="189.5" r="0.9" fill="#e0e0e0"/><circle cx="44.4" cy="180.5" r="0.9" fill="#e0e0e0"/><circle cx="60.7" cy="191.3" r="0.9" fill="#d2d2d2"/><circle cx="54.4" cy="195.9" r="0.9" fill="#e0e0e0"/><circle cx="53.4" cy="181.6" r="0.9" fill="#e0e0e0"/><circle cx="37.1" cy="191.2" r="0.9" fill="#d2d2d2"/><circle cx="46.3" cy="196.3" r="0.9" fill="#d2d2d2"/><circle cx="40.9" cy="181.8" r="0.9" fill="#e0e0e0"/><circle cx="58.0" cy="195.5" r="0.9" fill="#e0e0e0"/><circle cx="58.3" cy="197.1" r="0.9" fill="#e0e0e0"/><circle cx="53.9" cy="183.0" r="0.9" fill="#d2d2d2"/><circle cx="58.3" cy="196.6" r="0.9" fill="#e0e0e0"/><circle cx="41.3" cy="195.4" r="0.9" fill="#d2d2d2"/><circle cx="45.9" cy="196.0" r="0.9" fill="#e0e0e0"/><circle cx="47.4" cy="196.4" r="0.9" fill="#e0e0e0"/><circle cx="56.3" cy="193.7" r="0.9" fill="#e0e0e0"/><circle cx="42.3" cy="197.7" r="0.9" fill="#e0e0e0"/><circle cx="41.1" cy="186.7" r="0.9" fill="#e0e0e0"/><circle cx="57.3" cy="192.3" r="0.9" fill="#e0e0e0"/><circle cx="51.2" cy="179.3" r="0.9" fill="#e0e0e0"/><circle cx="36.9" cy="187.3" r="0.9" fill="#e0e0e0"/><circle cx="55.8" cy="182.1" r="0.9" fill="#e0e0e0"/><circle cx="56.3" cy="182.9" r="0.9" fill="#e0e0e0"/><circle cx="48.0" cy="176.9" r="0.9" fill="#e0e0e0"/><circle cx="57.4" cy="181.7" r="0.9" fill="#e0e0e0"/><circle cx="40.2" cy="191.6" r="0.9" fill="#e0e0e0"/><circle cx="52.7" cy="195.6" r="0.9" fill="#e0e0e0"/><circle cx="46.4" cy="196.4" r="0.9" fill="#e0e0e0"/><circle cx="58.5" cy="181.6" r="0.9" fill="#e0e0e0"/><circle cx="44.9" cy="196.2" r="0.9" fill="#e0e0e0"/><circle cx="40.8" cy="188.6" r="0.9" fill="#e0e0e0"/><circle cx="44.5" cy="200.1" r="0.9" fill="#d2d2d2"/><circle cx="41.9" cy="184.4" r="0.9" fill="#d2d2d2"/><circle cx="43.3" cy="195.9" r="0.9" fill="#e0e0e0"/><circle cx="40.1" cy="193.1" r="0.9" fill="#e0e0e0"/><circle cx="49.3" cy="198.6" r="0.9" fill="#e0e0e0"/><circle cx="46.1" cy="195.9" r="0.9" fill="#e0e0e0"/><circle cx="55.7" cy="192.8" r="0.9" fill="#e0e0e0"/><circle cx="47.2" cy="198.9" r="0.9" fill="#e0e0e0"/><circle cx="52.5" cy="179.1" r="0.9" fill="#e0e0e0"/><circle cx="57.8" cy="185.0" r="0.9" fill="#e0e0e0"/><circle cx="57.4" cy="190.6" r="0.9" fill="#e0e0e0"/><circle cx="46.4" cy="182.3" r="0.9" fill="#d2d2d2"/><circle cx="28.4" cy="228.6" r="0.9" fill="#d2d2d2"/><circle cx="29.7" cy="227.1" r="0.9" fill="#d2d2d2"/><circle cx="26.5" cy="223.3" r="0.9" fill="#d2d2d2"/><circle cx="28.4" cy="227.6" r="0.9" fill="#d2d2d2"/><circle cx="27.5" cy="225.7" r="0.9" fill="#e0e0e0"/><circle cx="27.2" cy="216.2" r="0.9" fill="#e0e0e0"/><circle cx="25.3" cy="217.7" r="0.9" fill="#d2d2d2"/><circle cx="27.5" cy="224.9" r="0.9" fill="#d2d2d2"/><circle cx="29.0" cy="222.5" r="0.9" fill="#d2d2d2"/><circle cx="28.3" cy="226.5" r="0.9" fill="#d2d2d2"/><circle cx="29.4" cy="224.9" r="0.9" fill="#d2d2d2"/><circle cx="28.1" cy="219.3" r="0.9" fill="#e0e0e0"/><circle cx="29.2" cy="226.0" r="0.9" fill="#d2d2d2"/><circle cx="29.1" cy="229.7" r="0.9" fill="#e0e0e0"/><circle cx="26.9" cy="222.9" r="0.9" fill="#d2d2d2"/><circle cx="27.5" cy="224.8" r="0.9" fill="#e0e0e0"/><circle cx="27.2" cy="217.9" r="0.9" fill="#d2d2d2"/><circle cx="26.7" cy="220.3" r="0.9" fill="#e0e0e0"/><circle cx="26.9" cy="216.7" r="0.9" fill="#d2d2d2"/><circle cx="27.6" cy="225.8" r="0.9" fill="#e0e0e0"/><circle cx="27.7" cy="223.2" r="0.9" fill="#e0e0e0"/><circle cx="25.1" cy="217.9" r="0.9" fill="#e0e0e0"/><circle cx="27.8" cy="230.0" r="0.9" fill="#e0e0e0"/><circle cx="26.4" cy="222.7" r="0.9" fill="#d2d2d2"/><circle cx="68.1" cy="251.2" r="0.9" fill="#e0e0e0"/><circle cx="73.6" cy="254.7" r="0.9" fill="#d2d2d2"/><circle cx="64.4" cy="249.2" r="0.9" fill="#d2d2d2"/><circle cx="63.8" cy="249.8" r="0.9" fill="#d2d2d2"/><circle cx="72.2" cy="255.4" r="0.9" fill="#e0e0e0"/><circle cx="72.7" cy="255.0" r="0.9" fill="#e0e0e0"/><circle cx="63.1" cy="248.0" r="0.9" fill="#e0e0e0"/><circle cx="66.8" cy="249.7" r="0.9" fill="#e0e0e0"/><circle cx="65.7" cy="251.4" r="0.9" fill="#e0e0e0"/><circle cx="70.5" cy="254.8" r="0.9" fill="#e0e0e0"/><circle cx="72.7" cy="255.8" r="0.9" fill="#d2d2d2"/><circle cx="66.2" cy="250.1" r="0.9" fill="#e0e0e0"/><circle cx="73.6" cy="256.0" r="0.9" fill="#e0e0e0"/><circle cx="67.9" cy="251.1" r="0.9" fill="#e0e0e0"/><circle cx="63.5" cy="249.6" r="0.9" fill="#e0e0e0"/><circle cx="73.5" cy="254.7" r="0.9" fill="#e0e0e0"/><circle cx="68.8" cy="251.5" r="0.9" fill="#e0e0e0"/><circle cx="72.7" cy="256.4" r="0.9" fill="#d2d2d2"/><circle cx="69.0" cy="254.1" r="0.9" fill="#d2d2d2"/><circle cx="68.4" cy="253.0" r="0.9" fill="#e0e0e0"/><circle cx="70.9" cy="253.7" r="0.9" fill="#d2d2d2"/><circle cx="70.2" cy="252.7" r="0.9" fill="#e0e0e0"/><circle cx="73.6" cy="254.4" r="0.9" fill="#e0e0e0"/><circle cx="66.9" cy="250.4" r="0.9" fill="#d2d2d2"/><circle cx="73.9" cy="255.1" r="0.9" fill="#d2d2d2"/><circle cx="66.0" cy="250.6" r="0.9" fill="#e0e0e0"/><circle cx="58.2" cy="251.6" r="0.9" fill="#e0e0e0"/><circle cx="59.7" cy="256.4" r="0.9" fill="#e0e0e0"/><circle cx="58.7" cy="257.0" r="0.9" fill="#e0e0e0"/><circle cx="58.1" cy="251.5" r="0.9" fill="#e0e0e0"/><circle cx="58.9" cy="252.6" r="0.9" fill="#e0e0e0"/><circle cx="57.6" cy="252.6" r="0.9" fill="#e0e0e0"/><circle cx="59.4" cy="255.4" r="0.9" fill="#e0e0e0"/><circle cx="58.8" cy="254.0" r="0.9" fill="#e0e0e0"/><circle cx="57.7" cy="251.1" r="0.9" fill="#e0e0e0"/><circle cx="57.4" cy="251.8" r="0.9" fill="#e0e0e0"/><circle cx="60.2" cy="255.9" r="0.9" fill="#e0e0e0"/><circle cx="58.0" cy="252.4" r="0.9" fill="#e0e0e0"/><circle cx="79.2" cy="191.3" r="0.9" fill="#e0e0e0"/><circle cx="79.5" cy="184.9" r="0.9" fill="#e0e0e0"/><circle cx="79.9" cy="190.8" r="0.9" fill="#e0e0e0"/><circle cx="78.7" cy="184.9" r="0.9" fill="#e0e0e0"/><circle cx="79.0" cy="190.5" r="0.9" fill="#e0e0e0"/><circle cx="79.8" cy="186.4" r="0.9" fill="#e0e0e0"/><circle cx="79.0" cy="188.5" r="0.9" fill="#e0e0e0"/><circle cx="79.3" cy="189.7" r="0.9" fill="#e0e0e0"/><circle cx="79.2" cy="188.0" r="0.9" fill="#e0e0e0"/><circle cx="80.3" cy="190.0" r="0.9" fill="#e0e0e0"/><circle cx="80.0" cy="189.1" r="0.9" fill="#e0e0e0"/><circle cx="78.6" cy="186.7" r="0.9" fill="#e0e0e0"/><circle cx="89.5" cy="225.4" r="0.9" fill="#e0e0e0"/><circle cx="93.7" cy="228.2" r="0.9" fill="#e0e0e0"/><circle cx="94.4" cy="227.5" r="0.9" fill="#e0e0e0"/><circle cx="92.0" cy="228.9" r="0.9" fill="#e0e0e0"/><circle cx="96.1" cy="230.2" r="0.9" fill="#e0e0e0"/><circle cx="89.9" cy="228.1" r="0.9" fill="#e0e0e0"/><circle cx="91.4" cy="226.0" r="0.9" fill="#e0e0e0"/><circle cx="94.4" cy="228.8" r="0.9" fill="#e0e0e0"/><circle cx="93.6" cy="229.8" r="0.9" fill="#e0e0e0"/><circle cx="88.5" cy="225.7" r="0.9" fill="#e0e0e0"/><circle cx="94.8" cy="228.4" r="0.9" fill="#e0e0e0"/><circle cx="94.8" cy="229.4" r="0.9" fill="#e0e0e0"/><circle cx="97.0" cy="230.4" r="0.9" fill="#e0e0e0"/><circle cx="90.5" cy="226.2" r="0.9" fill="#e0e0e0"/><circle cx="90.4" cy="228.2" r="0.9" fill="#e0e0e0"/><circle cx="90.1" cy="226.1" r="0.9" fill="#e0e0e0"/><circle cx="93.5" cy="229.8" r="0.9" fill="#e0e0e0"/><circle cx="92.1" cy="226.8" r="0.9" fill="#e0e0e0"/><circle cx="28.3" cy="218.9" r="0.9" fill="#d2d2d2"/><circle cx="60.1" cy="238.8" r="0.9" fill="#d2d2d2"/><circle cx="62.0" cy="215.1" r="0.9" fill="#e0e0e0"/><circle cx="62.1" cy="239.6" r="0.9" fill="#e0e0e0"/><circle cx="51.6" cy="218.0" r="0.9" fill="#e0e0e0"/><circle cx="38.8" cy="205.7" r="0.9" fill="#e0e0e0"/><circle cx="36.8" cy="216.4" r="0.9" fill="#d2d2d2"/><circle cx="34.0" cy="216.7" r="0.9" fill="#d2d2d2"/><circle cx="57.7" cy="221.2" r="0.9" fill="#e0e0e0"/><circle cx="44.3" cy="217.7" r="0.9" fill="#d2d2d2"/><circle cx="33.5" cy="217.2" r="0.9" fill="#d2d2d2"/><circle cx="27.2" cy="219.9" r="0.9" fill="#d2d2d2"/><circle cx="55.6" cy="198.2" r="0.9" fill="#e0e0e0"/><circle cx="35.9" cy="239.7" r="0.9" fill="#d2d2d2"/><circle cx="39.1" cy="211.8" r="0.9" fill="#d2d2d2"/><circle cx="49.8" cy="211.2" r="0.9" fill="#d2d2d2"/><circle cx="38.2" cy="212.0" r="0.9" fill="#e0e0e0"/><circle cx="55.2" cy="249.6" r="0.9" fill="#e0e0e0"/><circle cx="35.0" cy="223.7" r="0.9" fill="#d2d2d2"/><circle cx="35.7" cy="221.0" r="0.9" fill="#e0e0e0"/><circle cx="57.0" cy="239.1" r="0.9" fill="#d2d2d2"/><circle cx="55.8" cy="231.4" r="0.9" fill="#e0e0e0"/><circle cx="38.3" cy="217.0" r="0.9" fill="#d2d2d2"/><circle cx="55.1" cy="210.3" r="0.9" fill="#e0e0e0"/><circle cx="36.2" cy="200.7" r="0.9" fill="#e0e0e0"/><circle cx="45.2" cy="237.5" r="0.9" fill="#e0e0e0"/><circle cx="35.0" cy="220.3" r="0.9" fill="#e0e0e0"/><circle cx="52.0" cy="239.7" r="0.9" fill="#d2d2d2"/><circle cx="51.6" cy="202.9" r="0.9" fill="#d2d2d2"/><circle cx="37.3" cy="229.1" r="0.9" fill="#e0e0e0"/><circle cx="54.5" cy="207.5" r="0.9" fill="#e0e0e0"/><circle cx="35.5" cy="204.8" r="0.9" fill="#d2d2d2"/><circle cx="48.3" cy="215.0" r="0.9" fill="#e0e0e0"/><circle cx="34.9" cy="243.3" r="0.9" fill="#e0e0e0"/><circle cx="44.3" cy="243.9" r="0.9" fill="#d2d2d2"/><circle cx="37.3" cy="202.8" r="0.9" fill="#e0e0e0"/><circle cx="63.6" cy="230.0" r="0.9" fill="#d2d2d2"/><circle cx="40.4" cy="246.6" r="0.9" fill="#e0e0e0"/><circle cx="36.0" cy="241.5" r="0.9" fill="#d2d2d2"/><circle cx="30.1" cy="230.8" r="0.9" fill="#e0e0e0"/><circle cx="34.4" cy="217.4" r="0.9" fill="#e0e0e0"/><circle cx="33.9" cy="210.8" r="0.9" fill="#e0e0e0"/><circle cx="51.2" cy="207.7" r="0.9" fill="#e0e0e0"/><circle cx="38.6" cy="235.6" r="0.9" fill="#e0e0e0"/><circle cx="38.1" cy="207.7" r="0.9" fill="#d2d2d2"/><circle cx="47.2" cy="199.5" r="0.9" fill="#e0e0e0"/><circle cx="41.3" cy="228.1" r="0.9" fill="#e0e0e0"/><circle cx="52.8" cy="219.9" r="0.9" fill="#e0e0e0"/><circle cx="38.1" cy="229.1" r="0.9" fill="#e0e0e0"/><circle cx="42.1" cy="246.5" r="0.9" fill="#d2d2d2"/><circle cx="40.0" cy="207.4" r="0.9" fill="#d2d2d2"/><circle cx="60.8" cy="220.7" r="0.9" fill="#d2d2d2"/><circle cx="41.7" cy="247.6" r="0.9" fill="#e0e0e0"/><circle cx="47.3" cy="233.4" r="0.9" fill="#d2d2d2"/><circle cx="40.3" cy="225.4" r="0.9" fill="#e0e0e0"/><circle cx="36.9" cy="226.4" r="0.9" fill="#d2d2d2"/><circle cx="30.2" cy="224.6" r="0.9" fill="#d2d2d2"/><circle cx="63.7" cy="224.1" r="0.9" fill="#e0e0e0"/><circle cx="61.8" cy="218.6" r="0.9" fill="#d2d2d2"/><circle cx="49.9" cy="244.2" r="0.9" fill="#e0e0e0"/><circle cx="56.3" cy="208.8" r="0.9" fill="#e0e0e0"/><circle cx="58.7" cy="244.5" r="0.9" fill="#e0e0e0"/><circle cx="34.4" cy="219.3" r="0.9" fill="#e0e0e0"/><circle cx="40.8" cy="203.0" r="0.9" fill="#e0e0e0"/><circle cx="54.0" cy="248.5" r="0.9" fill="#e0e0e0"/><circle cx="47.7" cy="240.3" r="0.9" fill="#e0e0e0"/><circle cx="58.4" cy="202.7" r="0.9" fill="#e0e0e0"/><circle cx="47.2" cy="232.6" r="0.9" fill="#e0e0e0"/><circle cx="42.2" cy="230.0" r="0.9" fill="#e0e0e0"/><circle cx="51.4" cy="222.0" r="0.9" fill="#e0e0e0"/><circle cx="44.9" cy="209.6" r="0.9" fill="#d2d2d2"/><circle cx="56.1" cy="222.7" r="0.9" fill="#e0e0e0"/><circle cx="44.3" cy="202.1" r="0.9" fill="#e0e0e0"/><circle cx="42.6" cy="201.2" r="0.9" fill="#e0e0e0"/><circle cx="45.7" cy="198.2" r="0.9" fill="#e0e0e0"/><circle cx="56.0" cy="225.8" r="0.9" fill="#e0e0e0"/><circle cx="45.5" cy="218.0" r="0.9" fill="#d2d2d2"/><circle cx="57.5" cy="207.2" r="0.9" fill="#d2d2d2"/><circle cx="45.0" cy="252.0" r="0.9" fill="#d2d2d2"/><circle cx="39.5" cy="240.2" r="0.9" fill="#e0e0e0"/><circle cx="60.6" cy="211.9" r="0.9" fill="#d2d2d2"/><circle cx="31.5" cy="225.3" r="0.9" fill="#d2d2d2"/><circle cx="34.0" cy="211.2" r="0.9" fill="#e0e0e0"/><circle cx="38.3" cy="198.0" r="0.9" fill="#e0e0e0"/><circle cx="52.2" cy="248.4" r="0.9" fill="#e0e0e0"/><circle cx="56.3" cy="202.6" r="0.9" fill="#e0e0e0"/><circle cx="50.6" cy="216.9" r="0.9" fill="#d2d2d2"/><circle cx="47.4" cy="229.8" r="0.9" fill="#d2d2d2"/><circle cx="50.3" cy="218.9" r="0.9" fill="#d2d2d2"/><circle cx="48.3" cy="216.9" r="0.9" fill="#d2d2d2"/><circle cx="43.1" cy="206.2" r="0.9" fill="#d2d2d2"/><circle cx="35.8" cy="233.3" r="0.9" fill="#d2d2d2"/><circle cx="48.6" cy="234.8" r="0.9" fill="#e0e0e0"/><circle cx="31.8" cy="232.0" r="0.9" fill="#e0e0e0"/><circle cx="45.8" cy="248.4" r="0.9" fill="#e0e0e0"/><circle cx="34.8" cy="234.1" r="0.9" fill="#e0e0e0"/><circle cx="30.1" cy="216.8" r="0.9" fill="#e0e0e0"/><circle cx="48.5" cy="230.4" r="0.9" fill="#e0e0e0"/><circle cx="50.1" cy="223.7" r="0.9" fill="#e0e0e0"/><circle cx="50.6" cy="246.9" r="0.9" fill="#d2d2d2"/><circle cx="41.5" cy="211.3" r="0.9" fill="#e0e0e0"/><circle cx="50.9" cy="228.8" r="0.9" fill="#e0e0e0"/><circle cx="50.9" cy="221.8" r="0.9" fill="#d2d2d2"/><circle cx="54.3" cy="210.4" r="0.9" fill="#d2d2d2"/><circle cx="41.7" cy="209.8" r="0.9" fill="#e0e0e0"/><circle cx="56.1" cy="196.5" r="0.9" fill="#e0e0e0"/><circle cx="33.7" cy="231.5" r="0.9" fill="#e0e0e0"/><circle cx="50.8" cy="243.5" r="0.9" fill="#e0e0e0"/><circle cx="37.9" cy="213.4" r="0.9" fill="#e0e0e0"/><circle cx="60.3" cy="241.8" r="0.9" fill="#d2d2d2"/><circle cx="54.8" cy="223.1" r="0.9" fill="#d2d2d2"/><circle cx="43.5" cy="209.1" r="0.9" fill="#e0e0e0"/><circle cx="35.0" cy="198.1" r="0.9" fill="#e0e0e0"/><circle cx="54.9" cy="236.6" r="0.9" fill="#d2d2d2"/><circle cx="53.5" cy="211.4" r="0.9" fill="#e0e0e0"/><circle cx="42.8" cy="242.1" r="0.9" fill="#e0e0e0"/><circle cx="36.2" cy="233.5" r="0.9" fill="#d2d2d2"/><circle cx="35.1" cy="239.5" r="0.9" fill="#d2d2d2"/><circle cx="54.8" cy="215.0" r="0.9" fill="#d2d2d2"/><circle cx="38.7" cy="209.8" r="0.9" fill="#d2d2d2"/><circle cx="50.3" cy="236.5" r="0.9" fill="#e0e0e0"/><circle cx="58.4" cy="236.8" r="0.9" fill="#d2d2d2"/><circle cx="42.9" cy="238.3" r="0.9" fill="#e0e0e0"/><circle cx="37.9" cy="208.2" r="0.9" fill="#e0e0e0"/><circle cx="39.3" cy="204.1" r="0.9" fill="#e0e0e0"/><circle cx="50.5" cy="236.7" r="0.9" fill="#d2d2d2"/><circle cx="40.0" cy="243.8" r="0.9" fill="#d2d2d2"/><circle cx="59.5" cy="249.5" r="0.9" fill="#d2d2d2"/><circle cx="30.1" cy="207.9" r="0.9" fill="#e0e0e0"/><circle cx="57.3" cy="233.0" r="0.9" fill="#d2d2d2"/><circle cx="50.4" cy="212.7" r="0.9" fill="#e0e0e0"/><circle cx="33.9" cy="214.5" r="0.9" fill="#e0e0e0"/><circle cx="36.9" cy="237.8" r="0.9" fill="#e0e0e0"/><circle cx="45.4" cy="245.8" r="0.9" fill="#e0e0e0"/><circle cx="27.2" cy="220.0" r="0.9" fill="#e0e0e0"/><circle cx="55.8" cy="216.2" r="0.9" fill="#d2d2d2"/><circle cx="46.8" cy="208.5" r="0.9" fill="#d2d2d2"/><circle cx="33.8" cy="240.5" r="0.9" fill="#d2d2d2"/><circle cx="45.0" cy="242.6" r="0.9" fill="#e0e0e0"/><circle cx="45.1" cy="216.2" r="0.9" fill="#d2d2d2"/><circle cx="37.0" cy="208.4" r="0.9" fill="#d2d2d2"/><circle cx="45.2" cy="202.3" r="0.9" fill="#e0e0e0"/><circle cx="52.9" cy="242.0" r="0.9" fill="#e0e0e0"/><circle cx="39.7" cy="219.4" r="0.9" fill="#e0e0e0"/><circle cx="34.0" cy="211.2" r="0.9" fill="#d2d2d2"/><circle cx="45.3" cy="218.1" r="0.9" fill="#d2d2d2"/><circle cx="35.0" cy="222.9" r="0.9" fill="#e0e0e0"/><circle cx="55.1" cy="240.0" r="0.9" fill="#e0e0e0"/><circle cx="39.5" cy="215.0" r="0.9" fill="#e0e0e0"/><circle cx="58.5" cy="234.7" r="0.9" fill="#d2d2d2"/><circle cx="32.5" cy="221.6" r="0.9" fill="#d2d2d2"/><circle cx="48.4" cy="203.2" r="0.9" fill="#e0e0e0"/><circle cx="60.2" cy="209.8" r="0.9" fill="#e0e0e0"/><circle cx="37.6" cy="237.1" r="0.9" fill="#d2d2d2"/><circle cx="32.0" cy="205.0" r="0.9" fill="#e0e0e0"/><circle cx="38.6" cy="226.5" r="0.9" fill="#e0e0e0"/><circle cx="38.7" cy="206.9" r="0.9" fill="#d2d2d2"/><circle cx="54.1" cy="201.8" r="0.9" fill="#d2d2d2"/><circle cx="29.9" cy="218.4" r="0.9" fill="#d2d2d2"/><circle cx="56.7" cy="238.8" r="0.9" fill="#e0e0e0"/><circle cx="33.6" cy="233.2" r="0.9" fill="#e0e0e0"/><circle cx="34.0" cy="218.6" r="0.9" fill="#e0e0e0"/><circle cx="41.4" cy="242.2" r="0.9" fill="#d2d2d2"/><circle cx="45.3" cy="232.9" r="0.9" fill="#e0e0e0"/><circle cx="31.5" cy="231.2" r="0.9" fill="#e0e0e0"/><circle cx="54.6" cy="249.1" r="0.9" fill="#e0e0e0"/><circle cx="48.2" cy="239.8" r="0.9" fill="#e0e0e0"/><circle cx="34.8" cy="238.2" r="0.9" fill="#d2d2d2"/><circle cx="55.9" cy="236.9" r="0.9" fill="#d2d2d2"/><circle cx="52.2" cy="233.5" r="0.9" fill="#e0e0e0"/><circle cx="38.1" cy="232.7" r="0.9" fill="#e0e0e0"/><circle cx="42.2" cy="241.7" r="0.9" fill="#d2d2d2"/><circle cx="50.3" cy="210.5" r="0.9" fill="#e0e0e0"/><circle cx="43.6" cy="232.3" r="0.9" fill="#e0e0e0"/><circle cx="52.1" cy="250.4" r="0.9" fill="#e0e0e0"/><circle cx="51.3" cy="241.5" r="0.9" fill="#e0e0e0"/><circle cx="62.3" cy="226.3" r="0.9" fill="#e0e0e0"/><circle cx="48.2" cy="227.6" r="0.9" fill="#d2d2d2"/><circle cx="45.8" cy="233.3" r="0.9" fill="#d2d2d2"/><circle cx="46.1" cy="219.9" r="0.9" fill="#d2d2d2"/><circle cx="34.1" cy="236.0" r="0.9" fill="#e0e0e0"/><circle cx="55.4" cy="203.0" r="0.9" fill="#d2d2d2"/><circle cx="39.7" cy="199.1" r="0.9" fill="#e0e0e0"/><circle cx="41.4" cy="196.6" r="0.9" fill="#e0e0e0"/><circle cx="42.2" cy="236.8" r="0.9" fill="#e0e0e0"/><circle cx="36.2" cy="209.0" r="0.9" fill="#d2d2d2"/><circle cx="62.3" cy="226.7" r="0.9" fill="#e0e0e0"/><circle cx="56.9" cy="218.8" r="0.9" fill="#e0e0e0"/><circle cx="57.2" cy="233.0" r="0.9" fill="#e0e0e0"/><circle cx="47.7" cy="209.1" r="0.9" fill="#d2d2d2"/><circle cx="39.6" cy="233.3" r="0.9" fill="#d2d2d2"/><circle cx="57.5" cy="223.3" r="0.9" fill="#e0e0e0"/><circle cx="47.2" cy="203.1" r="0.9" fill="#d2d2d2"/><circle cx="39.7" cy="245.7" r="0.9" fill="#e0e0e0"/><circle cx="40.5" cy="210.7" r="0.9" fill="#e0e0e0"/><circle cx="53.9" cy="212.3" r="0.9" fill="#e0e0e0"/><circle cx="37.7" cy="223.9" r="0.9" fill="#e0e0e0"/><circle cx="50.6" cy="234.5" r="0.9" fill="#e0e0e0"/><circle cx="61.8" cy="246.0" r="0.9" fill="#e0e0e0"/><circle cx="58.0" cy="249.0" r="0.9" fill="#d2d2d2"/><circle cx="50.4" cy="196.7" r="0.9" fill="#e0e0e0"/><circle cx="62.7" cy="234.3" r="0.9" fill="#e0e0e0"/><circle cx="35.0" cy="241.4" r="0.9" fill="#e0e0e0"/><circle cx="56.6" cy="205.7" r="0.9" fill="#d2d2d2"/><circle cx="49.5" cy="241.7" r="0.9" fill="#d2d2d2"/><circle cx="60.5" cy="242.1" r="0.9" fill="#d2d2d2"/><circle cx="33.6" cy="236.5" r="0.9" fill="#e0e0e0"/><circle cx="54.6" cy="221.5" r="0.9" fill="#d2d2d2"/><circle cx="47.4" cy="211.3" r="0.9" fill="#e0e0e0"/><circle cx="31.4" cy="224.7" r="0.9" fill="#e0e0e0"/><circle cx="44.0" cy="204.3" r="0.9" fill="#e0e0e0"/><circle cx="45.2" cy="227.5" r="0.9" fill="#d2d2d2"/><circle cx="44.1" cy="228.8" r="0.9" fill="#e0e0e0"/><circle cx="58.4" cy="217.8" r="0.9" fill="#e0e0e0"/><circle cx="50.6" cy="233.1" r="0.9" fill="#e0e0e0"/><circle cx="49.5" cy="235.9" r="0.9" fill="#d2d2d2"/><circle cx="45.7" cy="224.3" r="0.9" fill="#d2d2d2"/><circle cx="50.1" cy="215.7" r="0.9" fill="#d2d2d2"/><circle cx="40.1" cy="223.7" r="0.9" fill="#e0e0e0"/><circle cx="55.7" cy="208.2" r="0.9" fill="#e0e0e0"/><circle cx="42.3" cy="228.3" r="0.9" fill="#d2d2d2"/><circle cx="37.3" cy="244.4" r="0.9" fill="#e0e0e0"/><circle cx="45.4" cy="211.7" r="0.9" fill="#e0e0e0"/><circle cx="63.6" cy="234.2" r="0.9" fill="#d2d2d2"/><circle cx="38.8" cy="214.4" r="0.9" fill="#e0e0e0"/><circle cx="48.6" cy="233.1" r="0.9" fill="#d2d2d2"/><circle cx="60.2" cy="227.8" r="0.9" fill="#e0e0e0"/><circle cx="37.6" cy="196.2" r="0.9" fill="#e0e0e0"/><circle cx="61.6" cy="231.5" r="0.9" fill="#e0e0e0"/><circle cx="56.5" cy="249.2" r="0.9" fill="#e0e0e0"/><circle cx="49.8" cy="232.6" r="0.9" fill="#d2d2d2"/><circle cx="49.0" cy="235.8" r="0.9" fill="#e0e0e0"/><circle cx="51.7" cy="222.7" r="0.9" fill="#d2d2d2"/><circle cx="29.9" cy="206.4" r="0.9" fill="#e0e0e0"/><circle cx="55.9" cy="249.5" r="0.9" fill="#e0e0e0"/><circle cx="40.2" cy="244.1" r="0.9" fill="#d2d2d2"/><circle cx="47.7" cy="210.9" r="0.9" fill="#e0e0e0"/><circle cx="42.3" cy="214.5" r="0.9" fill="#e0e0e0"/><circle cx="50.8" cy="250.6" r="0.9" fill="#e0e0e0"/><circle cx="47.9" cy="198.1" r="0.9" fill="#e0e0e0"/><circle cx="57.3" cy="229.6" r="0.9" fill="#d2d2d2"/><circle cx="43.2" cy="196.6" r="0.9" fill="#e0e0e0"/><circle cx="48.9" cy="250.8" r="0.9" fill="#d2d2d2"/><circle cx="44.4" cy="220.0" r="0.9" fill="#e0e0e0"/><circle cx="50.9" cy="208.3" r="0.9" fill="#e0e0e0"/><circle cx="52.4" cy="202.9" r="0.9" fill="#d2d2d2"/><circle cx="53.8" cy="210.0" r="0.9" fill="#d2d2d2"/><circle cx="55.9" cy="237.7" r="0.9" fill="#d2d2d2"/><circle cx="54.2" cy="200.7" r="0.9" fill="#e0e0e0"/><circle cx="53.4" cy="222.8" r="0.9" fill="#d2d2d2"/><circle cx="53.7" cy="196.5" r="0.9" fill="#e0e0e0"/><circle cx="51.1" cy="243.8" r="0.9" fill="#e0e0e0"/><circle cx="38.0" cy="238.6" r="0.9" fill="#e0e0e0"/><circle cx="59.2" cy="224.3" r="0.9" fill="#e0e0e0"/><circle cx="40.2" cy="229.6" r="0.9" fill="#e0e0e0"/><circle cx="52.1" cy="204.3" r="0.9" fill="#d2d2d2"/><circle cx="40.0" cy="233.7" r="0.9" fill="#e0e0e0"/><circle cx="42.1" cy="218.4" r="0.9" fill="#d2d2d2"/><circle cx="62.5" cy="241.9" r="0.9" fill="#e0e0e0"/><circle cx="37.3" cy="199.4" r="0.9" fill="#d2d2d2"/><path d="M 38.5,202.0 L 50.0,200.0 L 58.0,206.0 L 61.0,220.0 L 58.0,232.0 L 48.0,236.0 L 38.0,230.0 L 33.0,216.0 Z" fill="#e4ecf6" opacity="0.75"/><circle cx="52.7" cy="229.8" r="0.85" fill="#b8cce8"/><circle cx="50.0" cy="235.2" r="0.85" fill="#9eb8e0"/><circle cx="49.8" cy="211.1" r="0.85" fill="#b8cce8"/><circle cx="57.9" cy="213.6" r="0.85" fill="#9eb8e0"/><circle cx="49.8" cy="232.3" r="0.85" fill="#9eb8e0"/><circle cx="40.4" cy="215.2" r="0.85" fill="#b8cce8"/><circle cx="55.8" cy="231.9" r="0.85" fill="#b8cce8"/><circle cx="56.3" cy="229.2" r="0.85" fill="#9eb8e0"/><circle cx="49.0" cy="209.9" r="0.85" fill="#9eb8e0"/><circle cx="55.6" cy="224.6" r="0.85" fill="#9eb8e0"/><circle cx="42.7" cy="203.1" r="0.85" fill="#b8cce8"/><circle cx="55.3" cy="207.2" r="0.85" fill="#9eb8e0"/><circle cx="50.0" cy="224.4" r="0.85" fill="#b8cce8"/><circle cx="38.8" cy="209.2" r="0.85" fill="#9eb8e0"/><circle cx="55.2" cy="216.5" r="0.85" fill="#b8cce8"/><circle cx="55.6" cy="227.8" r="0.85" fill="#b8cce8"/><circle cx="49.2" cy="232.3" r="0.85" fill="#9eb8e0"/><circle cx="47.6" cy="217.2" r="0.85" fill="#b8cce8"/><circle cx="38.3" cy="206.9" r="0.85" fill="#b8cce8"/><circle cx="52.6" cy="213.1" r="0.85" fill="#b8cce8"/><circle cx="44.3" cy="218.6" r="0.85" fill="#b8cce8"/><circle cx="43.5" cy="203.8" r="0.85" fill="#b8cce8"/><circle cx="55.0" cy="205.6" r="0.85" fill="#b8cce8"/><circle cx="42.7" cy="218.7" r="0.85" fill="#b8cce8"/><circle cx="57.3" cy="217.5" r="0.85" fill="#b8cce8"/><circle cx="40.3" cy="228.1" r="0.85" fill="#b8cce8"/><circle cx="38.6" cy="206.5" r="0.85" fill="#b8cce8"/><circle cx="57.4" cy="216.5" r="0.85" fill="#9eb8e0"/><circle cx="49.7" cy="214.3" r="0.85" fill="#b8cce8"/><circle cx="48.8" cy="223.1" r="0.85" fill="#9eb8e0"/><circle cx="51.8" cy="214.2" r="0.85" fill="#b8cce8"/><circle cx="42.9" cy="232.5" r="0.85" fill="#9eb8e0"/><circle cx="55.0" cy="225.5" r="0.85" fill="#b8cce8"/><circle cx="37.1" cy="227.2" r="0.85" fill="#9eb8e0"/><circle cx="52.0" cy="210.8" r="0.85" fill="#b8cce8"/><circle cx="54.2" cy="203.8" r="0.85" fill="#b8cce8"/><circle cx="40.2" cy="204.5" r="0.85" fill="#b8cce8"/><circle cx="37.7" cy="208.6" r="0.85" fill="#b8cce8"/><circle cx="53.1" cy="207.0" r="0.85" fill="#b8cce8"/><circle cx="45.5" cy="203.5" r="0.85" fill="#9eb8e0"/><circle cx="56.6" cy="222.6" r="0.85" fill="#b8cce8"/><circle cx="42.5" cy="229.6" r="0.85" fill="#b8cce8"/><circle cx="50.6" cy="205.1" r="0.85" fill="#b8cce8"/><circle cx="48.5" cy="205.2" r="0.85" fill="#9eb8e0"/><circle cx="40.5" cy="214.8" r="0.85" fill="#b8cce8"/><circle cx="40.6" cy="230.2" r="0.85" fill="#b8cce8"/><circle cx="37.7" cy="217.7" r="0.85" fill="#b8cce8"/><circle cx="58.1" cy="224.1" r="0.85" fill="#b8cce8"/><circle cx="46.4" cy="210.3" r="0.85" fill="#b8cce8"/><circle cx="38.6" cy="213.1" r="0.85" fill="#9eb8e0"/><circle cx="29.8" cy="212.8" r="0.8" fill="#7a3a8a"/><circle cx="39.2" cy="204.0" r="0.8" fill="#4f5a8e"/><circle cx="58.1" cy="226.7" r="0.8" fill="#4f5a8e"/><circle cx="42.8" cy="249.3" r="0.8" fill="#4f5a8e"/><circle cx="48.1" cy="203.9" r="0.8" fill="#4f5a8e"/><circle cx="55.7" cy="237.6" r="0.8" fill="#4f5a8e"/><circle cx="49.5" cy="224.9" r="0.8" fill="#4f5a8e"/><circle cx="34.0" cy="231.7" r="0.8" fill="#7a3a8a"/><circle cx="57.3" cy="230.0" r="0.8" fill="#4f5a8e"/><circle cx="41.8" cy="238.2" r="0.8" fill="#4f5a8e"/><circle cx="57.3" cy="215.5" r="0.8" fill="#7a3a8a"/><circle cx="59.4" cy="224.7" r="0.8" fill="#4f5a8e"/><circle cx="61.1" cy="223.8" r="0.8" fill="#7a3a8a"/><circle cx="36.3" cy="206.7" r="0.8" fill="#7a3a8a"/><circle cx="40.2" cy="205.4" r="0.8" fill="#4f5a8e"/><circle cx="46.1" cy="222.0" r="0.8" fill="#6f80bc"/><circle cx="57.5" cy="246.6" r="0.8" fill="#4f5a8e"/><circle cx="53.5" cy="218.2" r="0.8" fill="#7a3a8a"/><circle cx="62.8" cy="224.8" r="0.8" fill="#6f80bc"/><circle cx="46.5" cy="227.3" r="0.8" fill="#4f5a8e"/><circle cx="33.0" cy="201.8" r="0.8" fill="#4f5a8e"/><circle cx="57.5" cy="197.6" r="0.8" fill="#4f5a8e"/><circle cx="53.0" cy="207.3" r="0.8" fill="#4f5a8e"/><circle cx="49.1" cy="229.6" r="0.8" fill="#6f80bc"/><circle cx="53.1" cy="201.8" r="0.8" fill="#7a3a8a"/><circle cx="53.7" cy="198.5" r="0.8" fill="#4f5a8e"/><circle cx="45.1" cy="225.2" r="0.8" fill="#4f5a8e"/><circle cx="30.7" cy="219.6" r="0.8" fill="#4f5a8e"/><circle cx="48.8" cy="246.3" r="0.8" fill="#4f5a8e"/><circle cx="48.1" cy="239.6" r="0.8" fill="#4f5a8e"/><circle cx="57.9" cy="250.8" r="0.8" fill="#4f5a8e"/><circle cx="42.2" cy="245.1" r="0.8" fill="#6f80bc"/><circle cx="56.0" cy="215.7" r="0.8" fill="#4f5a8e"/><circle cx="38.9" cy="221.4" r="0.8" fill="#9a6ab0"/><circle cx="57.0" cy="249.4" r="0.8" fill="#7a3a8a"/><circle cx="58.7" cy="198.9" r="0.8" fill="#6f80bc"/><circle cx="63.0" cy="250.6" r="0.8" fill="#4f5a8e"/><circle cx="42.3" cy="232.9" r="0.8" fill="#4f5a8e"/><circle cx="46.5" cy="199.9" r="0.8" fill="#6f80bc"/><circle cx="45.5" cy="197.0" r="0.8" fill="#4f5a8e"/><circle cx="63.4" cy="241.4" r="0.8" fill="#9a6ab0"/><circle cx="50.4" cy="243.3" r="0.8" fill="#7a3a8a"/><circle cx="50.8" cy="211.4" r="0.8" fill="#7a3a8a"/><circle cx="36.6" cy="227.6" r="0.8" fill="#9a6ab0"/><circle cx="50.0" cy="210.5" r="0.8" fill="#6f80bc"/><circle cx="37.1" cy="213.7" r="0.8" fill="#7a3a8a"/><circle cx="30.6" cy="230.7" r="0.8" fill="#9a6ab0"/><circle cx="45.8" cy="211.6" r="0.8" fill="#6f80bc"/><circle cx="46.6" cy="204.5" r="0.8" fill="#4f5a8e"/><circle cx="31.1" cy="213.0" r="0.8" fill="#4f5a8e"/><circle cx="37.1" cy="210.1" r="0.8" fill="#4f5a8e"/><circle cx="47.1" cy="245.1" r="0.8" fill="#7a3a8a"/><circle cx="48.0" cy="234.0" r="0.8" fill="#4f5a8e"/><circle cx="53.4" cy="222.9" r="0.8" fill="#6f80bc"/><circle cx="49.7" cy="223.3" r="0.8" fill="#4f5a8e"/><circle cx="35.4" cy="208.8" r="0.8" fill="#6f80bc"/><circle cx="40.8" cy="230.2" r="0.8" fill="#4f5a8e"/><circle cx="39.6" cy="246.4" r="0.8" fill="#4f5a8e"/><circle cx="47.5" cy="224.6" r="0.8" fill="#4f5a8e"/><circle cx="55.8" cy="205.1" r="0.8" fill="#4f5a8e"/><circle cx="59.6" cy="221.6" r="0.8" fill="#4f5a8e"/><circle cx="41.0" cy="221.6" r="0.8" fill="#7a3a8a"/><circle cx="30.2" cy="209.0" r="0.8" fill="#9a6ab0"/><circle cx="54.5" cy="204.9" r="0.8" fill="#4f5a8e"/><circle cx="39.6" cy="235.4" r="0.8" fill="#7a3a8a"/><circle cx="58.8" cy="244.0" r="0.8" fill="#6f80bc"/><circle cx="54.5" cy="239.4" r="0.8" fill="#7a3a8a"/><circle cx="44.3" cy="241.9" r="0.8" fill="#7a3a8a"/><circle cx="55.6" cy="230.2" r="0.8" fill="#6f80bc"/><circle cx="63.2" cy="229.4" r="0.8" fill="#6f80bc"/><circle cx="56.3" cy="247.0" r="0.8" fill="#7a3a8a"/><circle cx="40.7" cy="222.3" r="0.8" fill="#6f80bc"/><circle cx="53.9" cy="213.0" r="0.8" fill="#4f5a8e"/><circle cx="47.4" cy="218.4" r="0.8" fill="#4f5a8e"/><circle cx="56.4" cy="245.7" r="0.8" fill="#6f80bc"/><circle cx="43.1" cy="206.6" r="0.8" fill="#4f5a8e"/><circle cx="31.6" cy="229.6" r="0.8" fill="#6f80bc"/><circle cx="38.5" cy="245.3" r="0.8" fill="#7a3a8a"/><circle cx="42.5" cy="249.3" r="0.8" fill="#4f5a8e"/><circle cx="45.2" cy="249.8" r="0.8" fill="#7a3a8a"/><circle cx="46.0" cy="226.2" r="0.8" fill="#7a3a8a"/><circle cx="41.0" cy="216.8" r="0.8" fill="#7a3a8a"/><circle cx="52.1" cy="226.6" r="0.8" fill="#4f5a8e"/><circle cx="40.5" cy="219.3" r="0.8" fill="#6f80bc"/><circle cx="48.2" cy="247.4" r="0.8" fill="#9a6ab0"/><circle cx="44.8" cy="221.6" r="0.8" fill="#7a3a8a"/><circle cx="46.5" cy="243.7" r="0.8" fill="#4f5a8e"/><circle cx="57.9" cy="225.9" r="0.8" fill="#4f5a8e"/><circle cx="60.5" cy="236.3" r="0.8" fill="#7a3a8a"/><circle cx="42.2" cy="205.0" r="0.8" fill="#4f5a8e"/><circle cx="45.7" cy="225.4" r="0.8" fill="#4f5a8e"/><circle cx="33.0" cy="232.8" r="0.8" fill="#7a3a8a"/><circle cx="50.6" cy="198.3" r="0.8" fill="#4f5a8e"/><circle cx="56.4" cy="213.8" r="0.8" fill="#7a3a8a"/><circle cx="58.5" cy="230.2" r="0.8" fill="#7a3a8a"/><circle cx="33.6" cy="225.0" r="0.8" fill="#6f80bc"/><circle cx="36.3" cy="233.8" r="0.8" fill="#6f80bc"/><circle cx="64.5" cy="229.5" r="0.8" fill="#4f5a8e"/><circle cx="30.7" cy="205.0" r="0.8" fill="#7a3a8a"/><circle cx="32.6" cy="226.5" r="0.8" fill="#7a3a8a"/><circle cx="49.7" cy="243.1" r="0.8" fill="#4f5a8e"/><circle cx="38.5" cy="237.8" r="0.8" fill="#4f5a8e"/><circle cx="32.5" cy="211.5" r="0.8" fill="#4f5a8e"/><circle cx="60.9" cy="230.0" r="0.8" fill="#4f5a8e"/><circle cx="43.4" cy="218.4" r="0.8" fill="#4f5a8e"/><circle cx="60.4" cy="230.0" r="0.8" fill="#9a6ab0"/><circle cx="43.0" cy="232.2" r="0.8" fill="#4f5a8e"/><circle cx="59.0" cy="214.3" r="0.8" fill="#7a3a8a"/><circle cx="57.5" cy="213.6" r="0.8" fill="#7a3a8a"/><circle cx="63.1" cy="224.9" r="0.8" fill="#9a6ab0"/><circle cx="35.4" cy="218.7" r="0.8" fill="#7a3a8a"/><circle cx="34.5" cy="213.9" r="0.8" fill="#7a3a8a"/><circle cx="44.7" cy="242.3" r="0.8" fill="#4f5a8e"/><circle cx="32.7" cy="216.8" r="0.8" fill="#4f5a8e"/><circle cx="47.7" cy="202.5" r="0.8" fill="#6f80bc"/><circle cx="40.9" cy="219.5" r="0.8" fill="#4f5a8e"/><circle cx="39.6" cy="210.2" r="0.8" fill="#4f5a8e"/><circle cx="36.9" cy="209.7" r="0.8" fill="#4f5a8e"/><circle cx="51.6" cy="215.8" r="0.8" fill="#4f5a8e"/><circle cx="53.2" cy="201.2" r="0.8" fill="#4f5a8e"/><circle cx="58.2" cy="203.3" r="0.8" fill="#6f80bc"/><circle cx="58.3" cy="243.0" r="0.8" fill="#4f5a8e"/><circle cx="39.6" cy="238.2" r="0.8" fill="#4f5a8e"/><circle cx="62.7" cy="225.4" r="0.8" fill="#4f5a8e"/><circle cx="43.5" cy="203.5" r="0.8" fill="#7a3a8a"/><circle cx="48.7" cy="217.4" r="0.8" fill="#4f5a8e"/><circle cx="49.5" cy="208.3" r="0.8" fill="#7a3a8a"/><circle cx="30.7" cy="225.9" r="0.8" fill="#6f80bc"/><circle cx="36.4" cy="241.1" r="0.8" fill="#4f5a8e"/><circle cx="51.4" cy="229.1" r="0.8" fill="#4f5a8e"/><circle cx="41.1" cy="200.9" r="0.8" fill="#4f5a8e"/><circle cx="58.8" cy="214.6" r="0.8" fill="#7a3a8a"/><circle cx="30.2" cy="228.8" r="0.8" fill="#4f5a8e"/><circle cx="45.3" cy="213.2" r="0.8" fill="#4f5a8e"/><circle cx="38.0" cy="209.1" r="0.8" fill="#4f5a8e"/><circle cx="53.7" cy="212.4" r="0.8" fill="#4f5a8e"/><circle cx="61.1" cy="241.3" r="0.8" fill="#7a3a8a"/><circle cx="59.2" cy="203.6" r="0.8" fill="#4f5a8e"/><circle cx="51.6" cy="216.4" r="0.8" fill="#4f5a8e"/><circle cx="51.4" cy="236.8" r="0.8" fill="#4f5a8e"/><circle cx="58.7" cy="216.5" r="0.8" fill="#7a3a8a"/><circle cx="33.0" cy="202.6" r="0.8" fill="#7a3a8a"/><circle cx="54.3" cy="237.6" r="0.8" fill="#4f5a8e"/><circle cx="33.6" cy="213.6" r="0.8" fill="#4f5a8e"/><circle cx="27.5" cy="214.1" r="0.8" fill="#7a3a8a"/><circle cx="48.0" cy="237.9" r="0.8" fill="#4f5a8e"/><circle cx="42.8" cy="236.0" r="0.8" fill="#4f5a8e"/><circle cx="56.0" cy="212.6" r="0.8" fill="#4f5a8e"/><circle cx="59.0" cy="231.5" r="0.8" fill="#4f5a8e"/><circle cx="35.4" cy="202.3" r="0.8" fill="#7a3a8a"/><circle cx="54.9" cy="200.9" r="0.8" fill="#7a3a8a"/><circle cx="41.2" cy="239.7" r="0.8" fill="#7a3a8a"/><circle cx="36.9" cy="201.1" r="0.8" fill="#9a6ab0"/><circle cx="52.7" cy="239.2" r="0.8" fill="#7a3a8a"/><circle cx="50.2" cy="222.4" r="0.8" fill="#4f5a8e"/><circle cx="53.0" cy="220.9" r="0.8" fill="#6f80bc"/><circle cx="55.4" cy="198.4" r="0.8" fill="#7a3a8a"/><circle cx="57.1" cy="211.1" r="0.8" fill="#6f80bc"/><circle cx="63.4" cy="233.2" r="0.8" fill="#6f80bc"/><circle cx="35.6" cy="199.3" r="0.8" fill="#4f5a8e"/><circle cx="41.9" cy="207.6" r="0.8" fill="#4f5a8e"/><circle cx="51.9" cy="209.8" r="0.8" fill="#4f5a8e"/><circle cx="45.9" cy="221.9" r="0.8" fill="#9a6ab0"/><circle cx="39.6" cy="213.4" r="0.8" fill="#7a3a8a"/><circle cx="31.5" cy="228.9" r="0.8" fill="#4f5a8e"/><circle cx="57.5" cy="228.0" r="0.8" fill="#7a3a8a"/><circle cx="32.5" cy="234.9" r="0.8" fill="#7a3a8a"/><circle cx="43.8" cy="240.8" r="0.8" fill="#7a3a8a"/><circle cx="30.4" cy="212.8" r="0.8" fill="#4f5a8e"/><circle cx="34.0" cy="199.3" r="0.8" fill="#4f5a8e"/><circle cx="33.6" cy="237.0" r="0.8" fill="#6f80bc"/><circle cx="30.4" cy="214.8" r="0.8" fill="#6f80bc"/><circle cx="40.0" cy="205.7" r="0.8" fill="#4f5a8e"/><circle cx="55.0" cy="200.7" r="0.8" fill="#7a3a8a"/><circle cx="63.8" cy="228.9" r="0.8" fill="#4f5a8e"/><circle cx="44.9" cy="221.3" r="0.8" fill="#4f5a8e"/><circle cx="61.5" cy="233.6" r="0.8" fill="#7a3a8a"/><circle cx="62.1" cy="234.1" r="0.8" fill="#4f5a8e"/><circle cx="35.5" cy="203.9" r="0.8" fill="#4f5a8e"/><circle cx="55.9" cy="245.1" r="0.8" fill="#4f5a8e"/><circle cx="33.2" cy="233.3" r="0.8" fill="#7a3a8a"/><circle cx="56.3" cy="244.5" r="0.8" fill="#7a3a8a"/><circle cx="38.6" cy="206.6" r="0.8" fill="#7a3a8a"/><circle cx="38.4" cy="217.4" r="0.8" fill="#6f80bc"/><circle cx="40.3" cy="244.6" r="0.8" fill="#4f5a8e"/><circle cx="50.2" cy="243.9" r="0.8" fill="#7a3a8a"/><circle cx="60.9" cy="251.3" r="0.8" fill="#6f80bc"/><circle cx="45.3" cy="205.0" r="0.8" fill="#4f5a8e"/><circle cx="48.4" cy="200.5" r="0.8" fill="#7a3a8a"/><circle cx="32.3" cy="221.8" r="0.8" fill="#9a6ab0"/><circle cx="43.0" cy="207.0" r="0.8" fill="#7a3a8a"/><circle cx="59.0" cy="242.0" r="0.8" fill="#6f80bc"/><circle cx="36.9" cy="234.6" r="0.8" fill="#6f80bc"/><circle cx="42.3" cy="215.7" r="0.8" fill="#6f80bc"/><circle cx="51.7" cy="244.3" r="0.8" fill="#7a3a8a"/><circle cx="32.3" cy="213.2" r="0.8" fill="#6f80bc"/><circle cx="47.7" cy="216.2" r="0.8" fill="#4f5a8e"/><circle cx="29.3" cy="214.8" r="0.8" fill="#6f80bc"/><circle cx="63.1" cy="232.2" r="0.8" fill="#7a3a8a"/><circle cx="49.5" cy="213.2" r="0.8" fill="#6f80bc"/><circle cx="62.8" cy="224.0" r="0.8" fill="#7a3a8a"/><circle cx="37.6" cy="216.0" r="0.8" fill="#7a3a8a"/><circle cx="52.2" cy="222.1" r="0.8" fill="#4f5a8e"/><circle cx="51.5" cy="217.6" r="0.8" fill="#6f80bc"/><circle cx="42.1" cy="226.9" r="0.8" fill="#6f80bc"/><circle cx="41.3" cy="202.5" r="0.8" fill="#4f5a8e"/><circle cx="60.4" cy="228.0" r="0.8" fill="#4f5a8e"/><circle cx="59.3" cy="210.7" r="0.8" fill="#4f5a8e"/><circle cx="46.5" cy="210.6" r="0.8" fill="#6f80bc"/><circle cx="47.4" cy="209.1" r="0.8" fill="#6f80bc"/><circle cx="30.4" cy="225.9" r="0.8" fill="#7a3a8a"/><circle cx="29.1" cy="219.8" r="0.8" fill="#4f5a8e"/><circle cx="43.0" cy="246.5" r="0.8" fill="#6f80bc"/><circle cx="53.6" cy="240.2" r="0.8" fill="#4f5a8e"/><circle cx="41.1" cy="205.9" r="0.8" fill="#9a6ab0"/><circle cx="47.7" cy="241.3" r="0.8" fill="#4f5a8e"/><circle cx="56.0" cy="199.2" r="0.8" fill="#4f5a8e"/><circle cx="40.4" cy="196.7" r="0.8" fill="#7a3a8a"/><circle cx="34.2" cy="213.4" r="0.8" fill="#7a3a8a"/><circle cx="42.4" cy="248.0" r="0.8" fill="#7a3a8a"/><circle cx="59.7" cy="228.8" r="0.8" fill="#9a6ab0"/><circle cx="59.6" cy="205.7" r="0.8" fill="#7a3a8a"/><circle cx="39.2" cy="240.6" r="0.8" fill="#7a3a8a"/><circle cx="57.9" cy="203.0" r="0.8" fill="#4f5a8e"/><circle cx="54.5" cy="251.4" r="0.8" fill="#7a3a8a"/><circle cx="29.8" cy="228.0" r="0.8" fill="#7a3a8a"/><circle cx="52.1" cy="210.7" r="0.8" fill="#4f5a8e"/><circle cx="43.2" cy="245.0" r="0.8" fill="#6f80bc"/><circle cx="33.2" cy="228.3" r="0.8" fill="#4f5a8e"/><circle cx="52.5" cy="218.2" r="0.8" fill="#4f5a8e"/><circle cx="59.8" cy="227.4" r="0.8" fill="#7a3a8a"/><circle cx="57.2" cy="251.5" r="0.8" fill="#4f5a8e"/><circle cx="39.2" cy="204.7" r="0.8" fill="#6f80bc"/><circle cx="59.7" cy="242.8" r="0.8" fill="#4f5a8e"/><circle cx="52.2" cy="218.8" r="0.8" fill="#6f80bc"/><circle cx="41.2" cy="247.0" r="0.8" fill="#7a3a8a"/><circle cx="28.9" cy="215.1" r="0.8" fill="#4f5a8e"/><circle cx="60.5" cy="230.4" r="0.8" fill="#4f5a8e"/><circle cx="32.6" cy="217.0" r="0.8" fill="#6f80bc"/><circle cx="48.3" cy="218.6" r="0.8" fill="#4f5a8e"/><circle cx="38.9" cy="197.0" r="0.8" fill="#6f80bc"/><circle cx="31.6" cy="235.2" r="0.8" fill="#4f5a8e"/><circle cx="36.6" cy="225.2" r="0.8" fill="#4f5a8e"/><circle cx="48.0" cy="226.8" r="0.8" fill="#9a6ab0"/><circle cx="47.6" cy="241.1" r="0.8" fill="#7a3a8a"/><circle cx="55.9" cy="233.0" r="0.8" fill="#7a3a8a"/><circle cx="40.0" cy="212.3" r="0.8" fill="#7a3a8a"/><circle cx="59.7" cy="250.9" r="0.8" fill="#7a3a8a"/><circle cx="37.7" cy="240.6" r="0.8" fill="#7a3a8a"/><circle cx="45.6" cy="233.1" r="0.8" fill="#4f5a8e"/><circle cx="44.6" cy="180.8" r="0.8" fill="#55587a"/><circle cx="49.9" cy="182.3" r="0.8" fill="#55587a"/><circle cx="59.0" cy="188.5" r="0.8" fill="#55587a"/><circle cx="58.5" cy="192.8" r="0.8" fill="#55587a"/><circle cx="37.4" cy="194.8" r="0.8" fill="#55587a"/><circle cx="47.5" cy="197.7" r="0.8" fill="#55587a"/><circle cx="41.0" cy="199.0" r="0.8" fill="#55587a"/><circle cx="53.0" cy="199.5" r="0.8" fill="#55587a"/><circle cx="36.5" cy="198.0" r="0.8" fill="#55587a"/><circle cx="40.5" cy="186.0" r="0.8" fill="#55587a"/><circle cx="44.0" cy="179.0" r="0.8" fill="#55587a"/><path d="M 66.0,201.0 L 69.0,198.0 L 74.0,204.0 L 80.0,210.0 L 86.0,216.0 L 92.3,224.0 L 92.0,230.0 L 86.0,233.0 L 76.0,232.0 L 68.0,228.0 L 64.6,220.0 L 64.6,210.0 Z" fill="#f3e9f3"/><circle cx="79.9" cy="212.2" r="0.8" fill="#7a3488"/><circle cx="73.9" cy="209.3" r="0.8" fill="#5a5a88"/><circle cx="77.9" cy="210.9" r="0.8" fill="#7a3488"/><circle cx="71.1" cy="210.2" r="0.8" fill="#7a3488"/><circle cx="77.2" cy="213.6" r="0.8" fill="#55406e"/><circle cx="73.0" cy="203.9" r="0.8" fill="#7a3488"/><circle cx="73.0" cy="208.8" r="0.8" fill="#55406e"/><circle cx="79.9" cy="230.8" r="0.8" fill="#7a3488"/><circle cx="66.8" cy="204.3" r="0.8" fill="#55406e"/><circle cx="78.0" cy="229.5" r="0.8" fill="#7a3488"/><circle cx="69.2" cy="207.4" r="0.8" fill="#55406e"/><circle cx="70.6" cy="212.0" r="0.8" fill="#7a3488"/><circle cx="81.3" cy="228.2" r="0.8" fill="#55406e"/><circle cx="70.0" cy="223.7" r="0.8" fill="#5a5a88"/><circle cx="87.0" cy="228.6" r="0.8" fill="#7a3488"/><circle cx="68.4" cy="204.6" r="0.8" fill="#55406e"/><circle cx="88.8" cy="220.4" r="0.8" fill="#5a5a88"/><circle cx="70.5" cy="209.4" r="0.8" fill="#55406e"/><circle cx="66.2" cy="212.5" r="0.8" fill="#7a3488"/><circle cx="78.3" cy="218.9" r="0.8" fill="#7a3488"/><circle cx="81.6" cy="223.3" r="0.8" fill="#7a3488"/><circle cx="67.2" cy="203.5" r="0.8" fill="#7a3488"/><circle cx="79.5" cy="218.6" r="0.8" fill="#55406e"/><circle cx="82.8" cy="219.1" r="0.8" fill="#7a3488"/><circle cx="84.3" cy="224.7" r="0.8" fill="#a468b0"/><circle cx="73.2" cy="225.0" r="0.8" fill="#5a5a88"/><circle cx="77.2" cy="207.7" r="0.8" fill="#55406e"/><circle cx="64.9" cy="214.7" r="0.8" fill="#55406e"/><circle cx="66.3" cy="215.6" r="0.8" fill="#55406e"/><circle cx="69.5" cy="223.8" r="0.8" fill="#5a5a88"/><circle cx="69.1" cy="199.0" r="0.8" fill="#a468b0"/><circle cx="78.4" cy="220.3" r="0.8" fill="#7a3488"/><circle cx="73.6" cy="229.6" r="0.8" fill="#7a3488"/><circle cx="80.2" cy="212.3" r="0.8" fill="#5a5a88"/><circle cx="70.8" cy="206.8" r="0.8" fill="#7a3488"/><circle cx="70.2" cy="224.6" r="0.8" fill="#55406e"/><circle cx="70.6" cy="217.9" r="0.8" fill="#7a3488"/><circle cx="88.5" cy="228.4" r="0.8" fill="#7a3488"/><circle cx="85.4" cy="226.8" r="0.8" fill="#7a3488"/><circle cx="73.8" cy="215.0" r="0.8" fill="#a468b0"/><circle cx="69.1" cy="221.9" r="0.8" fill="#55406e"/><circle cx="77.1" cy="218.3" r="0.8" fill="#a468b0"/><circle cx="70.4" cy="228.9" r="0.8" fill="#7a3488"/><circle cx="86.2" cy="228.2" r="0.8" fill="#7a3488"/><circle cx="68.8" cy="223.8" r="0.8" fill="#7a3488"/><circle cx="69.3" cy="221.9" r="0.8" fill="#7a3488"/><circle cx="74.0" cy="230.1" r="0.8" fill="#55406e"/><circle cx="65.5" cy="206.2" r="0.8" fill="#a468b0"/><circle cx="73.4" cy="228.8" r="0.8" fill="#7a3488"/><circle cx="85.0" cy="215.5" r="0.8" fill="#7a3488"/><circle cx="74.4" cy="215.4" r="0.8" fill="#5a5a88"/><circle cx="74.3" cy="205.5" r="0.8" fill="#5a5a88"/><circle cx="89.1" cy="223.6" r="0.8" fill="#7a3488"/><circle cx="69.5" cy="207.3" r="0.8" fill="#7a3488"/><circle cx="65.8" cy="215.8" r="0.8" fill="#7a3488"/><circle cx="80.0" cy="210.7" r="0.8" fill="#7a3488"/><circle cx="83.7" cy="220.9" r="0.8" fill="#55406e"/><circle cx="79.8" cy="222.2" r="0.8" fill="#5a5a88"/><circle cx="88.8" cy="223.1" r="0.8" fill="#7a3488"/><circle cx="73.4" cy="212.7" r="0.8" fill="#5a5a88"/><circle cx="75.3" cy="211.5" r="0.8" fill="#7a3488"/><circle cx="64.7" cy="219.3" r="0.8" fill="#5a5a88"/><circle cx="71.7" cy="219.4" r="0.8" fill="#7a3488"/><circle cx="71.3" cy="204.9" r="0.8" fill="#7a3488"/><circle cx="88.0" cy="225.4" r="0.8" fill="#a468b0"/><circle cx="66.0" cy="222.3" r="0.8" fill="#7a3488"/><circle cx="82.5" cy="217.2" r="0.8" fill="#7a3488"/><circle cx="85.3" cy="227.9" r="0.8" fill="#55406e"/><circle cx="71.1" cy="220.0" r="0.8" fill="#55406e"/><circle cx="75.1" cy="222.9" r="0.8" fill="#7a3488"/><circle cx="79.2" cy="219.4" r="0.8" fill="#55406e"/><circle cx="73.5" cy="220.0" r="0.8" fill="#55406e"/><circle cx="70.8" cy="219.4" r="0.8" fill="#7a3488"/><circle cx="84.6" cy="216.3" r="0.8" fill="#7a3488"/><circle cx="70.7" cy="203.0" r="0.8" fill="#5a5a88"/><circle cx="79.2" cy="216.3" r="0.8" fill="#55406e"/><circle cx="69.4" cy="226.8" r="0.8" fill="#7a3488"/><circle cx="82.3" cy="227.0" r="0.8" fill="#a468b0"/><circle cx="75.2" cy="227.1" r="0.8" fill="#a468b0"/><circle cx="68.0" cy="203.4" r="0.8" fill="#7a3488"/><circle cx="67.4" cy="210.5" r="0.8" fill="#a468b0"/><circle cx="79.0" cy="213.8" r="0.8" fill="#7a3488"/><circle cx="77.9" cy="225.9" r="0.8" fill="#a468b0"/><circle cx="68.8" cy="221.8" r="0.8" fill="#7a3488"/><circle cx="74.9" cy="209.9" r="0.8" fill="#7a3488"/><circle cx="69.5" cy="223.1" r="0.8" fill="#7a3488"/><circle cx="73.6" cy="206.5" r="0.8" fill="#a468b0"/><circle cx="67.1" cy="220.3" r="0.8" fill="#a468b0"/><circle cx="70.2" cy="212.8" r="0.8" fill="#a468b0"/><circle cx="65.8" cy="213.5" r="0.8" fill="#7a3488"/><circle cx="75.9" cy="220.7" r="0.8" fill="#a468b0"/><circle cx="74.4" cy="211.5" r="0.8" fill="#55406e"/><circle cx="74.9" cy="221.3" r="0.8" fill="#7a3488"/><circle cx="66.6" cy="224.5" r="0.8" fill="#7a3488"/><circle cx="79.2" cy="215.4" r="0.8" fill="#a468b0"/><circle cx="81.0" cy="214.2" r="0.8" fill="#7a3488"/><circle cx="77.7" cy="229.2" r="0.8" fill="#7a3488"/><circle cx="78.2" cy="215.9" r="0.8" fill="#a468b0"/><circle cx="83.2" cy="223.9" r="0.8" fill="#7a3488"/><circle cx="65.7" cy="221.8" r="0.8" fill="#55406e"/><circle cx="85.9" cy="224.9" r="0.8" fill="#7a3488"/><circle cx="70.7" cy="200.7" r="0.8" fill="#a468b0"/><circle cx="67.4" cy="201.1" r="0.8" fill="#a468b0"/><circle cx="83.5" cy="222.9" r="0.8" fill="#7a3488"/><circle cx="66.1" cy="222.2" r="0.8" fill="#7a3488"/><circle cx="87.2" cy="228.5" r="0.8" fill="#7a3488"/><circle cx="73.9" cy="216.1" r="0.8" fill="#7a3488"/><circle cx="71.9" cy="209.0" r="0.8" fill="#7a3488"/><circle cx="78.8" cy="212.7" r="0.8" fill="#7a3488"/><circle cx="73.0" cy="228.3" r="0.8" fill="#a468b0"/><circle cx="70.2" cy="199.8" r="0.8" fill="#55406e"/><circle cx="75.0" cy="214.2" r="0.8" fill="#7a3488"/><circle cx="80.8" cy="210.8" r="0.8" fill="#a468b0"/><circle cx="73.3" cy="216.7" r="0.8" fill="#7a3488"/><circle cx="72.2" cy="225.9" r="0.8" fill="#7a3488"/><circle cx="84.3" cy="226.1" r="0.8" fill="#55406e"/><circle cx="77.2" cy="230.7" r="0.8" fill="#7a3488"/><circle cx="76.6" cy="220.4" r="0.8" fill="#7a3488"/><circle cx="83.3" cy="221.6" r="0.8" fill="#7a3488"/><circle cx="70.4" cy="227.3" r="0.8" fill="#7a3488"/><circle cx="67.4" cy="201.3" r="0.8" fill="#a468b0"/><circle cx="89.7" cy="222.0" r="0.8" fill="#7a3488"/><circle cx="66.2" cy="222.3" r="0.8" fill="#7a3488"/><circle cx="71.0" cy="218.4" r="0.8" fill="#7a3488"/><circle cx="86.7" cy="232.3" r="0.8" fill="#7a3488"/><circle cx="65.5" cy="211.3" r="0.8" fill="#55406e"/><circle cx="70.8" cy="217.1" r="0.8" fill="#7a3488"/><circle cx="77.5" cy="223.5" r="0.8" fill="#7a3488"/><circle cx="72.7" cy="210.2" r="0.8" fill="#a468b0"/><circle cx="78.4" cy="230.5" r="0.8" fill="#7a3488"/><circle cx="78.0" cy="228.2" r="0.8" fill="#55406e"/><circle cx="68.5" cy="207.5" r="0.8" fill="#a468b0"/><circle cx="81.2" cy="231.9" r="0.8" fill="#7a3488"/><circle cx="66.0" cy="209.7" r="0.8" fill="#7a3488"/><circle cx="71.5" cy="224.0" r="0.8" fill="#7a3488"/><circle cx="66.5" cy="217.6" r="0.8" fill="#7a3488"/><circle cx="79.9" cy="225.6" r="0.8" fill="#55406e"/><circle cx="75.0" cy="221.2" r="0.8" fill="#7a3488"/><circle cx="73.8" cy="227.5" r="0.8" fill="#a468b0"/><circle cx="67.8" cy="215.4" r="0.8" fill="#55406e"/><circle cx="67.9" cy="214.4" r="0.8" fill="#7a3488"/><circle cx="79.4" cy="215.7" r="0.8" fill="#7a3488"/><circle cx="70.1" cy="212.1" r="0.8" fill="#7a3488"/><circle cx="68.1" cy="206.4" r="0.8" fill="#a468b0"/><circle cx="78.5" cy="229.2" r="0.8" fill="#7a3488"/><circle cx="86.5" cy="218.0" r="0.8" fill="#55406e"/><circle cx="71.0" cy="224.3" r="0.8" fill="#7a3488"/><circle cx="75.5" cy="216.1" r="0.8" fill="#7a3488"/><circle cx="81.1" cy="225.4" r="0.8" fill="#55406e"/><circle cx="66.3" cy="206.6" r="0.8" fill="#55406e"/><circle cx="81.7" cy="222.2" r="0.8" fill="#a468b0"/><circle cx="74.1" cy="226.4" r="0.8" fill="#7a3488"/><circle cx="71.4" cy="223.7" r="0.8" fill="#55406e"/><circle cx="68.8" cy="210.1" r="0.8" fill="#7a3488"/><circle cx="70.1" cy="205.7" r="0.8" fill="#7a3488"/><circle cx="78.4" cy="225.3" r="0.8" fill="#a468b0"/><circle cx="85.4" cy="220.3" r="0.8" fill="#7a3488"/><circle cx="81.9" cy="227.6" r="0.8" fill="#a468b0"/><circle cx="67.2" cy="223.1" r="0.8" fill="#7a3488"/><circle cx="83.2" cy="224.1" r="0.8" fill="#7a3488"/><circle cx="87.5" cy="230.8" r="0.8" fill="#a468b0"/><circle cx="85.2" cy="227.1" r="0.8" fill="#a468b0"/><circle cx="81.0" cy="213.2" r="0.8" fill="#a468b0"/><circle cx="86.3" cy="228.5" r="0.8" fill="#7a3488"/><circle cx="91.4" cy="225.6" r="0.8" fill="#7a3488"/><circle cx="70.1" cy="214.0" r="0.8" fill="#7a3488"/><circle cx="78.2" cy="229.8" r="0.8" fill="#55406e"/><circle cx="86.3" cy="225.8" r="0.8" fill="#55406e"/><circle cx="90.7" cy="226.9" r="0.8" fill="#7a3488"/><circle cx="67.0" cy="220.8" r="0.8" fill="#a468b0"/><circle cx="74.0" cy="218.8" r="0.8" fill="#a468b0"/><circle cx="67.7" cy="226.4" r="0.8" fill="#7a3488"/><circle cx="81.4" cy="214.0" r="0.8" fill="#7a3488"/><circle cx="70.5" cy="210.4" r="0.8" fill="#a468b0"/><circle cx="67.0" cy="207.5" r="0.8" fill="#55406e"/><circle cx="76.8" cy="221.1" r="0.8" fill="#a468b0"/><circle cx="67.9" cy="221.9" r="0.8" fill="#7a3488"/><circle cx="74.6" cy="205.8" r="0.8" fill="#a468b0"/><circle cx="81.5" cy="229.3" r="0.8" fill="#7a3488"/><circle cx="78.4" cy="231.5" r="0.8" fill="#55406e"/><circle cx="77.2" cy="226.3" r="0.8" fill="#7a3488"/><circle cx="79.9" cy="228.2" r="0.8" fill="#55406e"/><circle cx="75.0" cy="230.5" r="0.8" fill="#a468b0"/><circle cx="81.9" cy="213.5" r="0.8" fill="#5a5a88"/><circle cx="74.6" cy="221.1" r="0.8" fill="#55406e"/><circle cx="75.0" cy="216.3" r="0.8" fill="#55406e"/><circle cx="83.5" cy="217.5" r="0.8" fill="#7a3488"/><circle cx="85.4" cy="229.2" r="0.8" fill="#55406e"/><circle cx="91.0" cy="229.2" r="0.8" fill="#7a3488"/><circle cx="80.9" cy="218.2" r="0.8" fill="#7a3488"/><circle cx="75.5" cy="224.2" r="0.8" fill="#55406e"/><circle cx="72.4" cy="224.7" r="0.8" fill="#7a3488"/><circle cx="79.7" cy="212.7" r="0.8" fill="#5a5a88"/><circle cx="82.6" cy="226.2" r="0.8" fill="#55406e"/><circle cx="84.3" cy="222.2" r="0.8" fill="#7a3488"/><circle cx="69.1" cy="218.1" r="0.8" fill="#a468b0"/><circle cx="68.5" cy="216.1" r="0.8" fill="#a468b0"/><circle cx="69.1" cy="223.8" r="0.8" fill="#7a3488"/><circle cx="72.8" cy="211.4" r="0.8" fill="#5a5a88"/><circle cx="70.1" cy="209.2" r="0.8" fill="#7a3488"/><circle cx="67.6" cy="207.1" r="0.8" fill="#7a3488"/><circle cx="72.0" cy="205.1" r="0.8" fill="#a468b0"/><circle cx="77.1" cy="227.3" r="0.8" fill="#55406e"/><circle cx="68.8" cy="224.5" r="0.8" fill="#7a3488"/><circle cx="80.1" cy="221.5" r="0.8" fill="#a468b0"/><circle cx="72.2" cy="210.7" r="0.8" fill="#5a5a88"/><circle cx="74.4" cy="230.9" r="0.8" fill="#7a3488"/><circle cx="79.8" cy="224.4" r="0.8" fill="#55406e"/><circle cx="76.0" cy="226.3" r="0.8" fill="#7a3488"/><circle cx="73.1" cy="220.6" r="0.8" fill="#5a5a88"/><circle cx="82.2" cy="222.2" r="0.8" fill="#a468b0"/><circle cx="75.5" cy="230.9" r="0.8" fill="#55406e"/><circle cx="74.1" cy="211.7" r="0.8" fill="#a468b0"/><circle cx="74.3" cy="204.5" r="0.8" fill="#a468b0"/><circle cx="79.3" cy="216.2" r="0.8" fill="#55406e"/><circle cx="76.0" cy="215.6" r="0.8" fill="#a468b0"/><circle cx="83.1" cy="218.2" r="0.8" fill="#7a3488"/><circle cx="88.0" cy="225.6" r="0.8" fill="#a468b0"/><circle cx="68.8" cy="221.5" r="0.8" fill="#a468b0"/><circle cx="78.5" cy="229.4" r="0.8" fill="#a468b0"/><circle cx="85.2" cy="226.7" r="0.8" fill="#55406e"/><circle cx="84.1" cy="222.6" r="0.8" fill="#55406e"/><circle cx="81.3" cy="226.8" r="0.8" fill="#7a3488"/><circle cx="70.5" cy="205.8" r="0.8" fill="#7a3488"/><circle cx="83.3" cy="232.1" r="0.8" fill="#a468b0"/><circle cx="74.6" cy="222.5" r="0.8" fill="#7a3488"/><circle cx="64.7" cy="220.0" r="0.8" fill="#7a3488"/><circle cx="76.9" cy="217.4" r="0.8" fill="#a468b0"/><circle cx="67.7" cy="205.9" r="0.8" fill="#55406e"/><circle cx="74.0" cy="209.6" r="0.8" fill="#55406e"/><circle cx="69.5" cy="193.5" r="0.8" fill="#6a3a80"/><circle cx="72.0" cy="193.0" r="0.8" fill="#6a3a80"/><circle cx="74.5" cy="192.8" r="0.8" fill="#6a3a80"/><circle cx="77.5" cy="194.2" r="0.8" fill="#6a3a80"/><circle cx="81.5" cy="192.5" r="0.8" fill="#6a3a80"/><circle cx="84.5" cy="191.5" r="0.8" fill="#6a3a80"/><circle cx="71.5" cy="198.0" r="0.8" fill="#6a3a80"/><circle cx="76.0" cy="204.0" r="0.8" fill="#6a3a80"/><circle cx="82.0" cy="208.0" r="0.8" fill="#6a3a80"/><circle cx="66.0" cy="199.0" r="0.8" fill="#6a3a80"/><circle cx="50.8" cy="168.8" r="0.85" fill="#55587a"/><circle cx="117.2" cy="205.0" r="0.85" fill="#55587a"/><rect x="21.10" y="163.70" width="100.80" height="98.30" fill="none" stroke="#222" stroke-width="0.9"/><text x="14.50" y="213.17" font-size="6.82" text-anchor="middle" fill="#2c2c2c" textLength="21.50" lengthAdjust="spacingAndGlyphs" transform="rotate(-90 14.50 211.00)" stroke="#2c2c2c" stroke-width="0.06">UMAP2</text><text x="71.20" y="270.70" font-size="6.82" text-anchor="middle" fill="#2c2c2c" textLength="20.90" lengthAdjust="spacingAndGlyphs" stroke="#2c2c2c" stroke-width="0.06">UMAP1</text><text x="21.20" y="280.30" font-size="7.15" fill="#2c2c2c" textLength="42.60" lengthAdjust="spacingAndGlyphs" stroke="#2c2c2c" stroke-width="0.06">Myeloid-biased:</text><circle cx="28.1" cy="287.4" r="1.2" fill="#6068a8"/><text x="33.30" y="289.27" font-size="7.15" fill="#2c2c2c" textLength="19.20" lengthAdjust="spacingAndGlyphs" stroke="#2c2c2c" stroke-width="0.06">Control</text><circle cx="28.1" cy="296.3" r="1.2" fill="#2a6a6a"/><text x="33.30" y="298.24" font-size="7.15" fill="#2c2c2c" textLength="72.50" lengthAdjust="spacingAndGlyphs" stroke="#2c2c2c" stroke-width="0.06">Tet2 KO normally expanded</text><circle cx="28.1" cy="305.3" r="1.2" fill="#4a1050"/><text x="33.30" y="307.21" font-size="7.15" fill="#2c2c2c" textLength="60.20" lengthAdjust="spacingAndGlyphs" stroke="#2c2c2c" stroke-width="0.06">Tet2 KO overexpanded</text><text x="136.80" y="153.40" font-size="10.20" fill="#111" font-weight="bold">C</text><text x="223.80" y="151.00" font-size="8.80" text-anchor="middle" fill="#2c2c2c" textLength="104.60" lengthAdjust="spacingAndGlyphs" stroke="#2c2c2c" stroke-width="0.06">Myeloid-biased Tet2 KO HSC</text><text x="223.50" y="160.20" font-size="8.80" text-anchor="middle" fill="#2c2c2c" textLength="131.60" lengthAdjust="spacingAndGlyphs" stroke="#2c2c2c" stroke-width="0.06">overexpanded vs normally expanded</text><path d="M 224.6,257.3 L 224.6,246.3 L 220.9,239.0 L 217.3,229.9 L 212.9,219.0 L 210.0,209.8 L 207.1,204.3 L 203.4,201.6 L 201.2,206.2 L 199.7,215.3 L 198.3,226.3 L 196.8,239.0 L 195.4,250.0 L 193.9,257.3 Z" fill="url(#gblue)"/><circle cx="198.2" cy="219.5" r="0.75" fill="#8ab8e0"/><circle cx="198.3" cy="220.4" r="0.75" fill="#3f7fbf"/><circle cx="200.2" cy="201.9" r="0.75" fill="#8ab8e0"/><circle cx="197.5" cy="242.1" r="0.75" fill="#5a9ad0"/><circle cx="198.9" cy="195.8" r="0.75" fill="#8ab8e0"/><circle cx="197.9" cy="192.7" r="0.75" fill="#8ab8e0"/><circle cx="196.4" cy="232.7" r="0.75" fill="#5a9ad0"/><circle cx="199.7" cy="190.7" r="0.75" fill="#5a9ad0"/><circle cx="201.4" cy="202.4" r="0.75" fill="#5a9ad0"/><circle cx="198.6" cy="220.3" r="0.75" fill="#8ab8e0"/><circle cx="197.3" cy="223.8" r="0.75" fill="#3f7fbf"/><circle cx="197.0" cy="233.4" r="0.75" fill="#5a9ad0"/><circle cx="191.8" cy="255.0" r="0.75" fill="#8ab8e0"/><circle cx="197.3" cy="236.4" r="0.75" fill="#5a9ad0"/><circle cx="201.7" cy="208.9" r="0.75" fill="#8ab8e0"/><circle cx="197.4" cy="215.9" r="0.75" fill="#3f7fbf"/><circle cx="192.8" cy="252.5" r="0.75" fill="#5a9ad0"/><circle cx="198.4" cy="203.5" r="0.75" fill="#3f7fbf"/><circle cx="194.5" cy="254.2" r="0.75" fill="#5a9ad0"/><circle cx="195.9" cy="231.0" r="0.75" fill="#5a9ad0"/><circle cx="200.9" cy="195.4" r="0.75" fill="#8ab8e0"/><circle cx="197.7" cy="239.8" r="0.75" fill="#5a9ad0"/><circle cx="202.2" cy="196.2" r="0.75" fill="#8ab8e0"/><circle cx="200.0" cy="201.4" r="0.75" fill="#3f7fbf"/><circle cx="199.2" cy="202.2" r="0.75" fill="#5a9ad0"/><circle cx="198.7" cy="232.3" r="0.75" fill="#3f7fbf"/><circle cx="201.2" cy="203.8" r="0.75" fill="#8ab8e0"/><circle cx="196.5" cy="242.7" r="0.75" fill="#8ab8e0"/><circle cx="200.6" cy="203.7" r="0.75" fill="#8ab8e0"/><circle cx="198.7" cy="232.2" r="0.75" fill="#8ab8e0"/><circle cx="201.2" cy="203.9" r="0.75" fill="#8ab8e0"/><circle cx="200.4" cy="211.6" r="0.75" fill="#5a9ad0"/><circle cx="199.9" cy="195.7" r="0.75" fill="#5a9ad0"/><circle cx="197.9" cy="229.4" r="0.75" fill="#3f7fbf"/><circle cx="194.3" cy="252.8" r="0.75" fill="#3f7fbf"/><circle cx="196.4" cy="246.9" r="0.75" fill="#5a9ad0"/><circle cx="193.3" cy="249.3" r="0.75" fill="#5a9ad0"/><circle cx="199.2" cy="202.2" r="0.75" fill="#8ab8e0"/><circle cx="198.2" cy="202.6" r="0.75" fill="#8ab8e0"/><circle cx="197.6" cy="229.5" r="0.75" fill="#5a9ad0"/><circle cx="197.9" cy="192.5" r="0.75" fill="#5a9ad0"/><circle cx="197.5" cy="236.2" r="0.75" fill="#8ab8e0"/><circle cx="198.2" cy="229.1" r="0.75" fill="#5a9ad0"/><circle cx="198.2" cy="237.4" r="0.75" fill="#5a9ad0"/><circle cx="196.1" cy="226.4" r="0.75" fill="#3f7fbf"/><circle cx="198.0" cy="208.1" r="0.75" fill="#5a9ad0"/><circle cx="200.8" cy="190.8" r="0.75" fill="#3f7fbf"/><circle cx="201.5" cy="193.6" r="0.75" fill="#5a9ad0"/><circle cx="199.1" cy="227.6" r="0.75" fill="#5a9ad0"/><circle cx="192.8" cy="248.0" r="0.75" fill="#8ab8e0"/><circle cx="196.2" cy="235.2" r="0.75" fill="#5a9ad0"/><circle cx="202.0" cy="191.9" r="0.75" fill="#8ab8e0"/><circle cx="194.5" cy="235.6" r="0.75" fill="#5a9ad0"/><circle cx="197.1" cy="231.6" r="0.75" fill="#8ab8e0"/><circle cx="197.4" cy="210.5" r="0.75" fill="#5a9ad0"/><circle cx="196.7" cy="225.6" r="0.75" fill="#8ab8e0"/><circle cx="195.3" cy="238.1" r="0.75" fill="#8ab8e0"/><circle cx="195.3" cy="250.0" r="0.75" fill="#8ab8e0"/><circle cx="193.1" cy="248.8" r="0.75" fill="#3f7fbf"/><circle cx="194.1" cy="241.5" r="0.75" fill="#3f7fbf"/><circle cx="197.6" cy="230.9" r="0.75" fill="#3f7fbf"/><circle cx="199.1" cy="230.0" r="0.75" fill="#8ab8e0"/><circle cx="192.3" cy="254.8" r="0.75" fill="#8ab8e0"/><circle cx="198.0" cy="215.2" r="0.75" fill="#3f7fbf"/><circle cx="197.1" cy="218.6" r="0.75" fill="#5a9ad0"/><circle cx="198.1" cy="239.4" r="0.75" fill="#3f7fbf"/><circle cx="199.4" cy="221.5" r="0.75" fill="#8ab8e0"/><circle cx="197.6" cy="222.4" r="0.75" fill="#8ab8e0"/><circle cx="202.1" cy="206.8" r="0.75" fill="#5a9ad0"/><circle cx="198.0" cy="234.5" r="0.75" fill="#5a9ad0"/><circle cx="194.0" cy="249.2" r="0.75" fill="#3f7fbf"/><circle cx="195.6" cy="248.5" r="0.75" fill="#8ab8e0"/><circle cx="200.5" cy="202.9" r="0.75" fill="#8ab8e0"/><circle cx="193.0" cy="249.6" r="0.75" fill="#3f7fbf"/><circle cx="198.2" cy="228.2" r="0.75" fill="#5a9ad0"/><circle cx="196.6" cy="222.3" r="0.75" fill="#8ab8e0"/><circle cx="194.5" cy="236.3" r="0.75" fill="#5a9ad0"/><circle cx="200.6" cy="200.9" r="0.75" fill="#5a9ad0"/><circle cx="200.5" cy="203.9" r="0.75" fill="#8ab8e0"/><circle cx="198.9" cy="222.3" r="0.75" fill="#8ab8e0"/><circle cx="194.3" cy="254.3" r="0.75" fill="#5a9ad0"/><circle cx="198.3" cy="191.9" r="0.75" fill="#5a9ad0"/><circle cx="196.1" cy="236.3" r="0.75" fill="#5a9ad0"/><circle cx="197.8" cy="242.1" r="0.75" fill="#5a9ad0"/><circle cx="200.5" cy="220.0" r="0.75" fill="#8ab8e0"/><circle cx="201.6" cy="205.5" r="0.75" fill="#5a9ad0"/><circle cx="197.3" cy="231.2" r="0.75" fill="#8ab8e0"/><circle cx="195.6" cy="232.7" r="0.75" fill="#8ab8e0"/><circle cx="198.0" cy="235.0" r="0.75" fill="#3f7fbf"/><circle cx="202.4" cy="201.7" r="0.75" fill="#3f7fbf"/><circle cx="197.8" cy="236.9" r="0.75" fill="#5a9ad0"/><circle cx="198.5" cy="212.4" r="0.75" fill="#3f7fbf"/><circle cx="196.1" cy="230.1" r="0.75" fill="#3f7fbf"/><circle cx="193.9" cy="241.6" r="0.75" fill="#5a9ad0"/><circle cx="193.5" cy="250.9" r="0.75" fill="#5a9ad0"/><circle cx="197.9" cy="219.5" r="0.75" fill="#8ab8e0"/><circle cx="198.8" cy="214.5" r="0.75" fill="#8ab8e0"/><circle cx="193.7" cy="241.9" r="0.75" fill="#3f7fbf"/><circle cx="198.2" cy="232.8" r="0.75" fill="#8ab8e0"/><circle cx="194.9" cy="243.5" r="0.75" fill="#8ab8e0"/><circle cx="198.4" cy="203.7" r="0.75" fill="#8ab8e0"/><circle cx="193.9" cy="254.0" r="0.75" fill="#8ab8e0"/><circle cx="197.8" cy="210.6" r="0.75" fill="#8ab8e0"/><circle cx="201.2" cy="213.0" r="0.75" fill="#3f7fbf"/><circle cx="196.5" cy="225.8" r="0.75" fill="#3f7fbf"/><circle cx="198.5" cy="191.7" r="0.75" fill="#5a9ad0"/><circle cx="197.1" cy="242.5" r="0.75" fill="#5a9ad0"/><circle cx="197.3" cy="241.8" r="0.75" fill="#5a9ad0"/><circle cx="197.0" cy="223.6" r="0.75" fill="#8ab8e0"/><circle cx="194.7" cy="234.8" r="0.75" fill="#3f7fbf"/><circle cx="196.1" cy="252.4" r="0.75" fill="#5a9ad0"/><circle cx="198.8" cy="224.5" r="0.75" fill="#8ab8e0"/><circle cx="196.9" cy="231.8" r="0.75" fill="#8ab8e0"/><circle cx="198.4" cy="226.7" r="0.75" fill="#3f7fbf"/><circle cx="193.5" cy="245.1" r="0.75" fill="#5a9ad0"/><circle cx="193.2" cy="245.4" r="0.75" fill="#3f7fbf"/><circle cx="198.8" cy="227.6" r="0.75" fill="#3f7fbf"/><circle cx="197.6" cy="222.8" r="0.75" fill="#5a9ad0"/><circle cx="194.1" cy="253.5" r="0.75" fill="#3f7fbf"/><circle cx="195.4" cy="242.4" r="0.75" fill="#3f7fbf"/><circle cx="198.5" cy="235.5" r="0.75" fill="#3f7fbf"/><circle cx="196.8" cy="216.7" r="0.75" fill="#8ab8e0"/><circle cx="200.0" cy="207.5" r="0.75" fill="#5a9ad0"/><circle cx="197.2" cy="218.1" r="0.75" fill="#8ab8e0"/><circle cx="199.0" cy="221.2" r="0.75" fill="#5a9ad0"/><circle cx="195.3" cy="230.2" r="0.75" fill="#5a9ad0"/><circle cx="197.9" cy="241.3" r="0.75" fill="#5a9ad0"/><circle cx="199.3" cy="204.7" r="0.75" fill="#5a9ad0"/><circle cx="198.8" cy="213.1" r="0.75" fill="#5a9ad0"/><circle cx="197.9" cy="238.0" r="0.75" fill="#3f7fbf"/><circle cx="201.3" cy="206.4" r="0.75" fill="#3f7fbf"/><circle cx="199.1" cy="218.6" r="0.75" fill="#3f7fbf"/><circle cx="199.3" cy="224.8" r="0.75" fill="#5a9ad0"/><circle cx="196.5" cy="231.2" r="0.75" fill="#3f7fbf"/><circle cx="194.7" cy="245.7" r="0.75" fill="#8ab8e0"/><circle cx="199.0" cy="205.0" r="0.75" fill="#8ab8e0"/><circle cx="195.6" cy="249.2" r="0.75" fill="#5a9ad0"/><circle cx="195.8" cy="250.6" r="0.75" fill="#8ab8e0"/><circle cx="196.5" cy="248.3" r="0.75" fill="#5a9ad0"/><circle cx="197.3" cy="237.7" r="0.75" fill="#5a9ad0"/><circle cx="195.7" cy="244.5" r="0.75" fill="#8ab8e0"/><circle cx="200.8" cy="198.0" r="0.75" fill="#8ab8e0"/><circle cx="201.2" cy="190.8" r="0.75" fill="#8ab8e0"/><circle cx="192.6" cy="249.4" r="0.75" fill="#5a9ad0"/><circle cx="196.9" cy="222.9" r="0.75" fill="#3f7fbf"/><circle cx="198.0" cy="235.0" r="0.75" fill="#5a9ad0"/><circle cx="202.3" cy="196.6" r="0.75" fill="#3f7fbf"/><circle cx="197.7" cy="223.6" r="0.75" fill="#5a9ad0"/><circle cx="201.6" cy="202.0" r="0.75" fill="#8ab8e0"/><circle cx="192.1" cy="254.6" r="0.75" fill="#5a9ad0"/><circle cx="198.1" cy="194.0" r="0.75" fill="#3f7fbf"/><circle cx="196.7" cy="240.1" r="0.75" fill="#3f7fbf"/><circle cx="198.3" cy="223.7" r="0.75" fill="#3f7fbf"/><circle cx="198.9" cy="190.7" r="0.75" fill="#8ab8e0"/><circle cx="200.5" cy="201.7" r="0.75" fill="#8ab8e0"/><circle cx="200.2" cy="216.6" r="0.75" fill="#5a9ad0"/><circle cx="200.1" cy="223.7" r="0.75" fill="#8ab8e0"/><circle cx="194.7" cy="242.4" r="0.75" fill="#8ab8e0"/><circle cx="197.5" cy="231.2" r="0.75" fill="#3f7fbf"/><circle cx="195.9" cy="222.7" r="0.75" fill="#8ab8e0"/><circle cx="201.8" cy="252.4" r="0.75" fill="#b8d6ee"/><circle cx="217.8" cy="247.0" r="0.75" fill="#b8d6ee"/><circle cx="221.4" cy="250.6" r="0.75" fill="#b8d6ee"/><circle cx="217.5" cy="244.2" r="0.75" fill="#b8d6ee"/><circle cx="204.4" cy="227.7" r="0.75" fill="#a0c6e8"/><circle cx="204.8" cy="237.2" r="0.75" fill="#b8d6ee"/><circle cx="201.0" cy="254.2" r="0.75" fill="#b8d6ee"/><circle cx="204.3" cy="238.4" r="0.75" fill="#b8d6ee"/><circle cx="210.3" cy="223.3" r="0.75" fill="#d0e4f4"/><circle cx="213.6" cy="240.7" r="0.75" fill="#b8d6ee"/><circle cx="212.8" cy="242.8" r="0.75" fill="#a0c6e8"/><circle cx="206.2" cy="204.4" r="0.75" fill="#a0c6e8"/><circle cx="205.4" cy="207.1" r="0.75" fill="#a0c6e8"/><circle cx="209.5" cy="255.5" r="0.75" fill="#b8d6ee"/><circle cx="212.2" cy="243.9" r="0.75" fill="#a0c6e8"/><circle cx="208.4" cy="211.0" r="0.75" fill="#b8d6ee"/><circle cx="210.1" cy="234.9" r="0.75" fill="#a0c6e8"/><circle cx="202.7" cy="238.1" r="0.75" fill="#b8d6ee"/><circle cx="202.6" cy="241.5" r="0.75" fill="#a0c6e8"/><circle cx="221.5" cy="243.3" r="0.75" fill="#a0c6e8"/><circle cx="224.3" cy="254.2" r="0.75" fill="#a0c6e8"/><circle cx="208.6" cy="255.8" r="0.75" fill="#a0c6e8"/><circle cx="210.0" cy="253.8" r="0.75" fill="#b8d6ee"/><circle cx="208.3" cy="256.1" r="0.75" fill="#d0e4f4"/><circle cx="213.1" cy="227.0" r="0.75" fill="#a0c6e8"/><circle cx="214.4" cy="227.0" r="0.75" fill="#a0c6e8"/><circle cx="211.8" cy="225.0" r="0.75" fill="#b8d6ee"/><circle cx="210.2" cy="257.2" r="0.75" fill="#d0e4f4"/><circle cx="197.4" cy="251.3" r="0.75" fill="#b8d6ee"/><circle cx="213.1" cy="221.6" r="0.75" fill="#a0c6e8"/><circle cx="214.9" cy="233.1" r="0.75" fill="#b8d6ee"/><circle cx="213.3" cy="243.6" r="0.75" fill="#a0c6e8"/><circle cx="201.5" cy="256.2" r="0.75" fill="#d0e4f4"/><circle cx="207.0" cy="236.3" r="0.75" fill="#a0c6e8"/><circle cx="210.8" cy="236.8" r="0.75" fill="#a0c6e8"/><circle cx="208.6" cy="213.3" r="0.75" fill="#a0c6e8"/><circle cx="216.8" cy="248.3" r="0.75" fill="#a0c6e8"/><circle cx="197.6" cy="246.7" r="0.75" fill="#b8d6ee"/><circle cx="206.9" cy="216.0" r="0.75" fill="#d0e4f4"/><circle cx="205.2" cy="238.0" r="0.75" fill="#d0e4f4"/><circle cx="203.9" cy="232.2" r="0.75" fill="#b8d6ee"/><circle cx="205.2" cy="207.0" r="0.75" fill="#d0e4f4"/><circle cx="211.2" cy="228.6" r="0.75" fill="#b8d6ee"/><circle cx="203.1" cy="244.8" r="0.75" fill="#a0c6e8"/><circle cx="200.4" cy="238.5" r="0.75" fill="#a0c6e8"/><circle cx="203.2" cy="242.0" r="0.75" fill="#b8d6ee"/><circle cx="202.6" cy="209.6" r="0.75" fill="#a0c6e8"/><circle cx="197.5" cy="241.1" r="0.75" fill="#b8d6ee"/><circle cx="222.1" cy="254.0" r="0.75" fill="#d0e4f4"/><circle cx="207.3" cy="246.3" r="0.75" fill="#a0c6e8"/><circle cx="203.6" cy="223.9" r="0.75" fill="#d0e4f4"/><circle cx="205.0" cy="222.0" r="0.75" fill="#a0c6e8"/><circle cx="206.0" cy="223.2" r="0.75" fill="#a0c6e8"/><circle cx="211.2" cy="246.0" r="0.75" fill="#b8d6ee"/><circle cx="199.3" cy="243.9" r="0.75" fill="#d0e4f4"/><circle cx="209.7" cy="231.9" r="0.75" fill="#b8d6ee"/><circle cx="210.7" cy="245.5" r="0.75" fill="#a0c6e8"/><circle cx="196.4" cy="242.7" r="0.75" fill="#d0e4f4"/><circle cx="198.3" cy="243.1" r="0.75" fill="#b8d6ee"/><circle cx="201.4" cy="213.9" r="0.75" fill="#b8d6ee"/><circle cx="209.9" cy="244.2" r="0.75" fill="#a0c6e8"/><circle cx="204.3" cy="255.5" r="0.75" fill="#b8d6ee"/><circle cx="209.1" cy="231.5" r="0.75" fill="#b8d6ee"/><circle cx="215.6" cy="252.6" r="0.75" fill="#b8d6ee"/><circle cx="219.3" cy="238.7" r="0.75" fill="#d0e4f4"/><circle cx="218.6" cy="248.0" r="0.75" fill="#d0e4f4"/><circle cx="210.0" cy="241.2" r="0.75" fill="#d0e4f4"/><circle cx="206.8" cy="225.0" r="0.75" fill="#a0c6e8"/><circle cx="216.7" cy="256.8" r="0.75" fill="#a0c6e8"/><circle cx="206.9" cy="217.9" r="0.75" fill="#d0e4f4"/><circle cx="197.4" cy="237.7" r="0.75" fill="#b8d6ee"/><circle cx="208.0" cy="234.1" r="0.75" fill="#d0e4f4"/><circle cx="201.1" cy="241.6" r="0.75" fill="#b8d6ee"/><circle cx="200.8" cy="211.9" r="0.75" fill="#a0c6e8"/><circle cx="199.2" cy="243.8" r="0.75" fill="#a0c6e8"/><circle cx="210.7" cy="247.1" r="0.75" fill="#b8d6ee"/><circle cx="201.9" cy="251.0" r="0.75" fill="#d0e4f4"/><circle cx="204.4" cy="232.1" r="0.75" fill="#d0e4f4"/><circle cx="208.7" cy="213.9" r="0.75" fill="#a0c6e8"/><circle cx="223.0" cy="246.2" r="0.75" fill="#a0c6e8"/><circle cx="210.1" cy="230.3" r="0.75" fill="#a0c6e8"/><circle cx="208.4" cy="222.3" r="0.75" fill="#b8d6ee"/><circle cx="215.8" cy="235.4" r="0.75" fill="#a0c6e8"/><circle cx="201.9" cy="250.0" r="0.75" fill="#b8d6ee"/><circle cx="213.5" cy="256.9" r="0.75" fill="#a0c6e8"/><circle cx="219.1" cy="248.7" r="0.75" fill="#d0e4f4"/><circle cx="208.6" cy="227.7" r="0.75" fill="#d0e4f4"/><circle cx="211.9" cy="249.4" r="0.75" fill="#a0c6e8"/><circle cx="210.6" cy="230.9" r="0.75" fill="#a0c6e8"/><circle cx="203.4" cy="205.8" r="0.75" fill="#a0c6e8"/><circle cx="208.2" cy="241.4" r="0.75" fill="#a0c6e8"/><circle cx="206.0" cy="227.3" r="0.75" fill="#d0e4f4"/><circle cx="219.4" cy="238.0" r="0.75" fill="#a0c6e8"/><circle cx="205.5" cy="241.1" r="0.75" fill="#a0c6e8"/><circle cx="211.2" cy="227.1" r="0.75" fill="#a0c6e8"/><circle cx="224.3" cy="246.1" r="0.75" fill="#a0c6e8"/><circle cx="205.4" cy="231.7" r="0.75" fill="#a0c6e8"/><circle cx="204.3" cy="223.4" r="0.75" fill="#b8d6ee"/><circle cx="201.8" cy="212.7" r="0.75" fill="#b8d6ee"/><circle cx="204.0" cy="254.2" r="0.75" fill="#b8d6ee"/><circle cx="214.7" cy="241.1" r="0.75" fill="#a0c6e8"/><circle cx="206.2" cy="248.2" r="0.75" fill="#b8d6ee"/><circle cx="206.4" cy="205.7" r="0.75" fill="#d0e4f4"/><circle cx="207.0" cy="230.1" r="0.75" fill="#b8d6ee"/><circle cx="217.4" cy="247.3" r="0.75" fill="#a0c6e8"/><circle cx="204.1" cy="224.6" r="0.75" fill="#a0c6e8"/><circle cx="206.2" cy="240.6" r="0.75" fill="#d0e4f4"/><circle cx="218.1" cy="238.4" r="0.75" fill="#b8d6ee"/><circle cx="204.4" cy="237.8" r="0.75" fill="#a0c6e8"/><circle cx="205.5" cy="230.0" r="0.75" fill="#b8d6ee"/><circle cx="193.8" cy="236.9" r="0.75" fill="#5a8ac0"/><circle cx="193.3" cy="248.1" r="0.75" fill="#3a6aa8"/><circle cx="189.7" cy="232.7" r="0.75" fill="#5a8ac0"/><circle cx="192.8" cy="251.3" r="0.75" fill="#3a6aa8"/><circle cx="192.9" cy="245.5" r="0.75" fill="#5a8ac0"/><circle cx="188.3" cy="216.7" r="0.75" fill="#5a8ac0"/><circle cx="191.6" cy="240.2" r="0.75" fill="#5a8ac0"/><circle cx="190.6" cy="218.2" r="0.75" fill="#8ab0d8"/><circle cx="187.8" cy="248.1" r="0.75" fill="#3a6aa8"/><circle cx="191.5" cy="235.0" r="0.75" fill="#5a8ac0"/><circle cx="193.8" cy="236.5" r="0.75" fill="#5a8ac0"/><circle cx="193.8" cy="224.5" r="0.75" fill="#8ab0d8"/><circle cx="188.7" cy="235.5" r="0.75" fill="#8ab0d8"/><circle cx="188.2" cy="234.5" r="0.75" fill="#5a8ac0"/><circle cx="192.4" cy="225.3" r="0.75" fill="#3a6aa8"/><circle cx="193.1" cy="228.1" r="0.75" fill="#3a6aa8"/><circle cx="193.6" cy="214.1" r="0.75" fill="#5a8ac0"/><circle cx="190.7" cy="219.0" r="0.75" fill="#5a8ac0"/><circle cx="191.6" cy="220.1" r="0.75" fill="#3a6aa8"/><circle cx="188.9" cy="235.3" r="0.75" fill="#5a8ac0"/><circle cx="192.2" cy="214.9" r="0.75" fill="#3a6aa8"/><circle cx="187.9" cy="250.3" r="0.75" fill="#3a6aa8"/><circle cx="202.4" cy="190.7" r="0.75" fill="#5a9ad0"/><circle cx="204.3" cy="197.7" r="0.75" fill="#8ab8e0"/><circle cx="205.6" cy="199.6" r="0.75" fill="#5a9ad0"/><circle cx="202.1" cy="193.8" r="0.75" fill="#8ab8e0"/><circle cx="202.9" cy="193.0" r="0.75" fill="#5a9ad0"/><circle cx="206.2" cy="197.1" r="0.75" fill="#5a9ad0"/><circle cx="204.9" cy="188.6" r="0.75" fill="#5a9ad0"/><circle cx="198.9" cy="184.9" r="0.75" fill="#5a9ad0"/><circle cx="202.7" cy="190.4" r="0.75" fill="#5a9ad0"/><circle cx="204.4" cy="193.0" r="0.75" fill="#5a9ad0"/><circle cx="201.0" cy="190.4" r="0.75" fill="#5a9ad0"/><circle cx="204.8" cy="193.8" r="0.75" fill="#8ab8e0"/><circle cx="200.4" cy="188.4" r="0.75" fill="#5a9ad0"/><circle cx="201.4" cy="194.2" r="0.75" fill="#5a9ad0"/><circle cx="201.0" cy="192.4" r="0.75" fill="#8ab8e0"/><circle cx="200.1" cy="188.4" r="0.75" fill="#8ab8e0"/><circle cx="219.7" cy="230.6" r="0.75" fill="#b8d6ee"/><circle cx="211.0" cy="205.5" r="0.75" fill="#b8d6ee"/><circle cx="216.8" cy="227.7" r="0.75" fill="#b8d6ee"/><circle cx="215.1" cy="218.3" r="0.75" fill="#b8d6ee"/><circle cx="215.4" cy="222.4" r="0.75" fill="#b8d6ee"/><circle cx="216.7" cy="227.5" r="0.75" fill="#b8d6ee"/><circle cx="217.0" cy="217.9" r="0.75" fill="#b8d6ee"/><circle cx="218.1" cy="227.6" r="0.75" fill="#b8d6ee"/><circle cx="215.9" cy="225.0" r="0.75" fill="#b8d6ee"/><circle cx="214.7" cy="214.7" r="0.75" fill="#b8d6ee"/><circle cx="187.5" cy="216.1" r="0.8" fill="#2f5a8f"/><circle cx="188.7" cy="218.4" r="0.8" fill="#2f5a8f"/><circle cx="191.0" cy="216.0" r="0.8" fill="#2f5a8f"/><circle cx="193.3" cy="213.8" r="0.8" fill="#2f5a8f"/><circle cx="194.4" cy="213.3" r="0.8" fill="#2f5a8f"/><circle cx="189.8" cy="217.6" r="0.8" fill="#2f5a8f"/><circle cx="192.2" cy="215.5" r="0.8" fill="#2f5a8f"/><circle cx="183.5" cy="213.3" r="0.8" fill="#2f5a8f"/><circle cx="181.7" cy="234.0" r="0.8" fill="#2f5a8f"/><circle cx="195.5" cy="221.0" r="0.8" fill="#2f5a8f"/><circle cx="196.5" cy="226.0" r="0.8" fill="#2f5a8f"/><circle cx="190.0" cy="212.0" r="0.8" fill="#2f5a8f"/><circle cx="192.0" cy="210.5" r="0.8" fill="#2f5a8f"/><rect x="196.00" y="256.40" width="28.60" height="1.90" fill="#8ab8e2"/><rect x="183.00" y="256.70" width="20.00" height="1.30" fill="#3a72b0"/><rect x="203.00" y="256.60" width="10.00" height="1.40" fill="#5a92cc"/><circle cx="177.5" cy="257.3" r="0.9" fill="#1f3f6f"/><path d="M 224.6,257.3 L 224.6,248.2 L 227.5,242.7 L 230.4,237.2 L 234.1,232.6 L 238.5,230.8 L 241.4,233.6 L 238.5,240.0 L 235.6,246.3 L 237.0,250.9 L 242.9,253.6 L 250.9,255.5 L 256.8,256.6 L 256.8,257.3 Z" fill="url(#gred)"/><circle cx="236.6" cy="240.4" r="0.75" fill="#f07a58"/><circle cx="251.7" cy="255.7" r="0.75" fill="#f49a7a"/><circle cx="247.5" cy="253.6" r="0.75" fill="#f07a58"/><circle cx="238.6" cy="243.0" r="0.75" fill="#f07a58"/><circle cx="240.9" cy="252.4" r="0.75" fill="#f07a58"/><circle cx="240.4" cy="250.4" r="0.75" fill="#f49a7a"/><circle cx="239.6" cy="237.5" r="0.75" fill="#f07a58"/><circle cx="243.0" cy="254.4" r="0.75" fill="#f49a7a"/><circle cx="240.3" cy="233.2" r="0.75" fill="#f07a58"/><circle cx="236.6" cy="238.4" r="0.75" fill="#f07a58"/><circle cx="236.5" cy="249.5" r="0.75" fill="#e05a3a"/><circle cx="239.2" cy="236.3" r="0.75" fill="#f49a7a"/><circle cx="241.1" cy="232.6" r="0.75" fill="#e05a3a"/><circle cx="239.4" cy="236.3" r="0.75" fill="#f07a58"/><circle cx="238.3" cy="246.4" r="0.75" fill="#f07a58"/><circle cx="255.0" cy="257.1" r="0.75" fill="#f49a7a"/><circle cx="238.9" cy="239.8" r="0.75" fill="#f49a7a"/><circle cx="238.0" cy="240.0" r="0.75" fill="#e05a3a"/><circle cx="236.9" cy="244.7" r="0.75" fill="#e05a3a"/><circle cx="241.3" cy="250.6" r="0.75" fill="#f07a58"/><circle cx="242.6" cy="251.3" r="0.75" fill="#f07a58"/><circle cx="243.1" cy="254.6" r="0.75" fill="#f49a7a"/><circle cx="251.0" cy="255.1" r="0.75" fill="#f07a58"/><circle cx="249.4" cy="254.5" r="0.75" fill="#f49a7a"/><circle cx="238.7" cy="239.1" r="0.75" fill="#f07a58"/><circle cx="238.9" cy="250.1" r="0.75" fill="#f07a58"/><circle cx="238.3" cy="238.9" r="0.75" fill="#f07a58"/><circle cx="235.3" cy="248.0" r="0.75" fill="#f49a7a"/><circle cx="250.2" cy="254.0" r="0.75" fill="#f07a58"/><circle cx="239.2" cy="233.4" r="0.75" fill="#f07a58"/><circle cx="239.1" cy="241.7" r="0.75" fill="#f07a58"/><circle cx="238.0" cy="240.8" r="0.75" fill="#e05a3a"/><circle cx="244.7" cy="253.0" r="0.75" fill="#f07a58"/><circle cx="237.4" cy="236.2" r="0.75" fill="#f07a58"/><circle cx="246.1" cy="255.1" r="0.75" fill="#e05a3a"/><circle cx="241.1" cy="231.8" r="0.75" fill="#f07a58"/><circle cx="238.4" cy="233.6" r="0.75" fill="#f07a58"/><circle cx="246.5" cy="254.4" r="0.75" fill="#f07a58"/><circle cx="237.5" cy="245.4" r="0.75" fill="#f07a58"/><circle cx="238.6" cy="236.4" r="0.75" fill="#f07a58"/><circle cx="237.2" cy="242.6" r="0.75" fill="#f49a7a"/><circle cx="238.4" cy="235.7" r="0.75" fill="#f07a58"/><circle cx="244.5" cy="254.4" r="0.75" fill="#f07a58"/><circle cx="239.1" cy="238.8" r="0.75" fill="#f49a7a"/><circle cx="237.0" cy="246.0" r="0.75" fill="#e05a3a"/><circle cx="238.8" cy="239.6" r="0.75" fill="#f07a58"/><circle cx="239.8" cy="239.5" r="0.75" fill="#f07a58"/><circle cx="241.2" cy="252.6" r="0.75" fill="#f49a7a"/><circle cx="254.5" cy="255.3" r="0.75" fill="#f49a7a"/><circle cx="252.4" cy="254.5" r="0.75" fill="#f49a7a"/><circle cx="242.0" cy="254.5" r="0.75" fill="#e05a3a"/><circle cx="237.5" cy="239.5" r="0.75" fill="#f07a58"/><circle cx="237.2" cy="246.8" r="0.75" fill="#f07a58"/><circle cx="237.1" cy="245.1" r="0.75" fill="#f07a58"/><circle cx="238.6" cy="241.7" r="0.75" fill="#f07a58"/><circle cx="238.4" cy="248.5" r="0.75" fill="#f49a7a"/><circle cx="239.3" cy="240.3" r="0.75" fill="#f07a58"/><circle cx="238.0" cy="246.4" r="0.75" fill="#f49a7a"/><circle cx="243.8" cy="253.7" r="0.75" fill="#f49a7a"/><circle cx="240.8" cy="231.8" r="0.75" fill="#f07a58"/><circle cx="240.3" cy="233.3" r="0.75" fill="#f07a58"/><circle cx="237.1" cy="249.6" r="0.75" fill="#f07a58"/><circle cx="237.6" cy="243.3" r="0.75" fill="#f07a58"/><circle cx="235.2" cy="243.4" r="0.75" fill="#f49a7a"/><circle cx="237.0" cy="240.5" r="0.75" fill="#f07a58"/><circle cx="236.8" cy="248.6" r="0.75" fill="#e05a3a"/><circle cx="236.1" cy="244.3" r="0.75" fill="#e05a3a"/><circle cx="246.4" cy="254.8" r="0.75" fill="#f49a7a"/><circle cx="237.0" cy="246.2" r="0.75" fill="#f07a58"/><circle cx="248.5" cy="256.1" r="0.75" fill="#f07a58"/><circle cx="252.2" cy="253.8" r="0.75" fill="#f07a58"/><circle cx="238.2" cy="249.8" r="0.75" fill="#f07a58"/><circle cx="254.7" cy="254.8" r="0.75" fill="#f07a58"/><circle cx="237.4" cy="239.2" r="0.75" fill="#f07a58"/><circle cx="240.5" cy="230.8" r="0.75" fill="#f07a58"/><circle cx="237.9" cy="239.8" r="0.75" fill="#f49a7a"/><circle cx="238.2" cy="251.6" r="0.75" fill="#f49a7a"/><circle cx="248.5" cy="256.5" r="0.75" fill="#f07a58"/><circle cx="235.2" cy="243.4" r="0.75" fill="#f07a58"/><circle cx="244.1" cy="254.4" r="0.75" fill="#f49a7a"/><circle cx="253.7" cy="257.0" r="0.75" fill="#f07a58"/><circle cx="241.0" cy="252.3" r="0.75" fill="#f49a7a"/><circle cx="237.1" cy="244.5" r="0.75" fill="#f49a7a"/><circle cx="238.2" cy="250.1" r="0.75" fill="#f07a58"/><circle cx="237.9" cy="243.4" r="0.75" fill="#f49a7a"/><circle cx="240.8" cy="236.0" r="0.75" fill="#f07a58"/><circle cx="238.8" cy="234.5" r="0.75" fill="#f07a58"/><circle cx="236.1" cy="248.0" r="0.75" fill="#f07a58"/><circle cx="237.6" cy="236.6" r="0.75" fill="#e05a3a"/><circle cx="240.9" cy="233.1" r="0.75" fill="#f49a7a"/><circle cx="235.3" cy="250.9" r="0.75" fill="#f8d6c6"/><circle cx="232.0" cy="235.7" r="0.75" fill="#f6c0a8"/><circle cx="243.4" cy="255.7" r="0.75" fill="#f8d6c6"/><circle cx="228.9" cy="249.0" r="0.75" fill="#f6c0a8"/><circle cx="254.6" cy="257.0" r="0.75" fill="#f6c0a8"/><circle cx="248.1" cy="257.1" r="0.75" fill="#f6c0a8"/><circle cx="236.6" cy="239.0" r="0.75" fill="#f8d6c6"/><circle cx="249.2" cy="256.8" r="0.75" fill="#f6c0a8"/><circle cx="240.3" cy="234.0" r="0.75" fill="#f6c0a8"/><circle cx="229.2" cy="247.4" r="0.75" fill="#f6c0a8"/><circle cx="231.9" cy="243.6" r="0.75" fill="#f6c0a8"/><circle cx="226.7" cy="254.5" r="0.75" fill="#f6c0a8"/><circle cx="240.1" cy="257.2" r="0.75" fill="#f6c0a8"/><circle cx="237.9" cy="252.2" r="0.75" fill="#f6c0a8"/><circle cx="226.5" cy="245.4" r="0.75" fill="#f0a88c"/><circle cx="231.4" cy="256.2" r="0.75" fill="#f6c0a8"/><circle cx="237.4" cy="252.1" r="0.75" fill="#f8d6c6"/><circle cx="249.3" cy="256.9" r="0.75" fill="#f6c0a8"/><circle cx="237.1" cy="240.6" r="0.75" fill="#f0a88c"/><circle cx="233.6" cy="254.8" r="0.75" fill="#f6c0a8"/><circle cx="235.9" cy="242.2" r="0.75" fill="#f6c0a8"/><circle cx="234.9" cy="245.0" r="0.75" fill="#f8d6c6"/><circle cx="231.2" cy="254.1" r="0.75" fill="#f6c0a8"/><circle cx="230.3" cy="238.1" r="0.75" fill="#f0a88c"/><circle cx="230.5" cy="240.3" r="0.75" fill="#f8d6c6"/><circle cx="229.4" cy="247.6" r="0.75" fill="#f6c0a8"/><circle cx="244.4" cy="254.3" r="0.75" fill="#f8d6c6"/><circle cx="232.0" cy="246.7" r="0.75" fill="#f0a88c"/><circle cx="239.7" cy="257.1" r="0.75" fill="#f8d6c6"/><circle cx="234.7" cy="250.3" r="0.75" fill="#f8d6c6"/><circle cx="237.5" cy="253.8" r="0.75" fill="#f6c0a8"/><circle cx="232.1" cy="253.1" r="0.75" fill="#f0a88c"/><circle cx="232.7" cy="252.2" r="0.75" fill="#f0a88c"/><circle cx="241.9" cy="253.7" r="0.75" fill="#f6c0a8"/><circle cx="233.6" cy="247.9" r="0.75" fill="#f6c0a8"/><circle cx="229.5" cy="240.5" r="0.75" fill="#f6c0a8"/><circle cx="237.1" cy="253.3" r="0.75" fill="#f0a88c"/><circle cx="234.7" cy="247.5" r="0.75" fill="#f6c0a8"/><circle cx="236.1" cy="236.0" r="0.75" fill="#f8d6c6"/><circle cx="236.2" cy="239.0" r="0.75" fill="#f6c0a8"/><circle cx="229.3" cy="247.5" r="0.75" fill="#f6c0a8"/><circle cx="239.2" cy="255.5" r="0.75" fill="#f6c0a8"/><circle cx="239.0" cy="232.5" r="0.75" fill="#f6c0a8"/><circle cx="233.6" cy="242.5" r="0.75" fill="#f8d6c6"/><circle cx="234.0" cy="249.2" r="0.75" fill="#f0a88c"/><circle cx="232.5" cy="241.7" r="0.75" fill="#f6c0a8"/><circle cx="238.1" cy="239.9" r="0.75" fill="#f8d6c6"/><circle cx="236.3" cy="240.7" r="0.75" fill="#f8d6c6"/><circle cx="253.5" cy="256.0" r="0.75" fill="#f6c0a8"/><circle cx="236.2" cy="243.1" r="0.75" fill="#f6c0a8"/><circle cx="255.8" cy="256.7" r="0.75" fill="#f8d6c6"/><circle cx="237.3" cy="252.8" r="0.75" fill="#f0a88c"/><circle cx="247.1" cy="257.2" r="0.75" fill="#f6c0a8"/><circle cx="236.5" cy="234.6" r="0.75" fill="#f6c0a8"/><circle cx="230.0" cy="248.0" r="0.75" fill="#f0a88c"/><circle cx="252.3" cy="255.8" r="0.75" fill="#f8d6c6"/><circle cx="228.2" cy="251.7" r="0.75" fill="#f6c0a8"/><circle cx="240.9" cy="234.1" r="0.75" fill="#f0a88c"/><circle cx="237.9" cy="232.3" r="0.75" fill="#f6c0a8"/><circle cx="239.4" cy="253.3" r="0.75" fill="#f6c0a8"/><circle cx="238.5" cy="219.0" r="0.75" fill="#f0a88c"/><circle cx="233.7" cy="225.0" r="0.75" fill="#f0a88c"/><circle cx="232.1" cy="215.6" r="0.75" fill="#f6c0a8"/><circle cx="236.5" cy="219.0" r="0.75" fill="#f6c0a8"/><circle cx="226.5" cy="217.9" r="0.75" fill="#f6c0a8"/><circle cx="238.5" cy="216.4" r="0.75" fill="#f6c0a8"/><circle cx="227.2" cy="221.5" r="0.75" fill="#f6c0a8"/><circle cx="239.5" cy="223.1" r="0.75" fill="#f6c0a8"/><circle cx="239.9" cy="228.8" r="0.75" fill="#f6c0a8"/><circle cx="239.3" cy="224.7" r="0.75" fill="#f6c0a8"/><circle cx="236.9" cy="221.4" r="0.75" fill="#f6c0a8"/><circle cx="232.3" cy="226.6" r="0.75" fill="#f6c0a8"/><circle cx="232.4" cy="226.0" r="0.75" fill="#f6c0a8"/><circle cx="238.3" cy="216.8" r="0.75" fill="#f6c0a8"/><circle cx="234.1" cy="224.8" r="0.75" fill="#f6c0a8"/><circle cx="227.5" cy="224.1" r="0.75" fill="#f6c0a8"/><circle cx="246.5" cy="220.9" r="0.8" fill="#d0482e"/><circle cx="253.3" cy="224.0" r="0.8" fill="#d0482e"/><circle cx="256.0" cy="223.0" r="0.8" fill="#d0482e"/><circle cx="247.0" cy="229.3" r="0.8" fill="#d0482e"/><circle cx="249.1" cy="228.8" r="0.8" fill="#d0482e"/><circle cx="243.8" cy="232.0" r="0.8" fill="#d0482e"/><circle cx="248.0" cy="233.0" r="0.8" fill="#d0482e"/><circle cx="251.7" cy="232.0" r="0.8" fill="#d0482e"/><circle cx="245.4" cy="235.7" r="0.8" fill="#d0482e"/><circle cx="247.0" cy="236.2" r="0.8" fill="#d0482e"/><circle cx="239.6" cy="223.5" r="0.8" fill="#d0482e"/><circle cx="235.9" cy="217.2" r="0.8" fill="#d0482e"/><circle cx="232.7" cy="218.8" r="0.8" fill="#d0482e"/><rect x="238.00" y="256.40" width="16.00" height="1.60" fill="#e0583a"/><circle cx="252.8" cy="257.4" r="0.9" fill="#b0301e"/><circle cx="256.0" cy="257.4" r="0.9" fill="#b0301e"/><circle cx="269.2" cy="257.4" r="0.95" fill="#2a1a1a"/><circle cx="269.2" cy="209.8" r="0.95" fill="#2a1a1a"/><path d="M 264.4,204.5 C 266,206.5 267.5,208.3 269,209.6" fill="none" stroke="#333" stroke-width="0.55"/><circle cx="177.2" cy="187.2" r="0.85" fill="#1f2f4f"/><circle cx="177.2" cy="190.7" r="0.85" fill="#1f2f4f"/><circle cx="187.0" cy="191.3" r="0.85" fill="#1f2f4f"/><text x="183.50" y="170.37" font-size="6.82" text-anchor="middle" fill="#e0442e" textLength="18.50" lengthAdjust="spacingAndGlyphs" stroke="#e0442e" stroke-width="0.06">Rbm25</text><text x="212.40" y="170.37" font-size="6.82" text-anchor="middle" fill="#e0442e" textLength="16.10" lengthAdjust="spacingAndGlyphs" stroke="#e0442e" stroke-width="0.06">Smap1</text><text x="193.90" y="176.67" font-size="6.82" text-anchor="middle" fill="#e0442e" textLength="11.60" lengthAdjust="spacingAndGlyphs" stroke="#e0442e" stroke-width="0.06">Tut7</text><text x="202.50" y="184.17" font-size="6.82" text-anchor="middle" fill="#e0442e" textLength="11.50" lengthAdjust="spacingAndGlyphs" stroke="#e0442e" stroke-width="0.06">Etv6</text><text x="183.20" y="208.47" font-size="6.82" text-anchor="middle" fill="#e0442e" textLength="17.90" lengthAdjust="spacingAndGlyphs" stroke="#e0442e" stroke-width="0.06">Ythdc1</text><text x="212.60" y="176.47" font-size="6.82" text-anchor="middle" fill="#a0a0a0" textLength="15.50" lengthAdjust="spacingAndGlyphs" stroke="#a0a0a0" stroke-width="0.06">Ogfrl1</text><text x="236.90" y="184.97" font-size="6.82" text-anchor="middle" fill="#a0a0a0" textLength="15.40" lengthAdjust="spacingAndGlyphs" stroke="#a0a0a0" stroke-width="0.06">Gsk3b</text><text x="220.70" y="190.27" font-size="6.82" text-anchor="middle" fill="#a0a0a0" textLength="17.90" lengthAdjust="spacingAndGlyphs" stroke="#a0a0a0" stroke-width="0.06">Mapk4</text><text x="218.40" y="196.87" font-size="6.82" text-anchor="middle" fill="#a0a0a0" textLength="15.60" lengthAdjust="spacingAndGlyphs" stroke="#a0a0a0" stroke-width="0.06">Runx3</text><text x="183.50" y="196.57" font-size="6.82" text-anchor="middle" fill="#a0a0a0" textLength="17.30" lengthAdjust="spacingAndGlyphs" stroke="#a0a0a0" stroke-width="0.06">Rpl23a</text><text x="258.10" y="190.47" font-size="6.82" text-anchor="middle" fill="#a0a0a0" textLength="18.20" lengthAdjust="spacingAndGlyphs" stroke="#a0a0a0" stroke-width="0.06">Rps3a1</text><text x="225.10" y="203.77" font-size="6.82" text-anchor="middle" fill="#a0a0a0" textLength="14.80" lengthAdjust="spacingAndGlyphs" stroke="#a0a0a0" stroke-width="0.06">Rps20</text><text x="223.20" y="211.97" font-size="6.82" text-anchor="middle" fill="#a0a0a0" textLength="18.50" lengthAdjust="spacingAndGlyphs" stroke="#a0a0a0" stroke-width="0.06">Rpl10a</text><text x="252.60" y="209.07" font-size="6.82" text-anchor="middle" fill="#a0a0a0" textLength="10.60" lengthAdjust="spacingAndGlyphs" stroke="#a0a0a0" stroke-width="0.06">Ubb</text><text x="268.20" y="202.67" font-size="6.82" text-anchor="middle" fill="#a0a0a0" textLength="9.50" lengthAdjust="spacingAndGlyphs" stroke="#a0a0a0" stroke-width="0.06">Xist</text><line x1="180.10" y1="171.70" x2="183.00" y2="190.10" stroke="#333" stroke-width="0.55"/><line x1="196.20" y1="168.50" x2="204.30" y2="168.50" stroke="#333" stroke-width="0.55"/><line x1="195.00" y1="175.70" x2="186.80" y2="182.60" stroke="#333" stroke-width="0.55"/><line x1="204.30" y1="174.50" x2="194.50" y2="181.50" stroke="#333" stroke-width="0.55"/><line x1="196.80" y1="183.80" x2="191.00" y2="185.50" stroke="#333" stroke-width="0.55"/><line x1="228.50" y1="183.20" x2="200.30" y2="186.60" stroke="#333" stroke-width="0.55"/><line x1="211.80" y1="187.80" x2="201.40" y2="187.20" stroke="#333" stroke-width="0.55"/><line x1="210.60" y1="192.40" x2="208.30" y2="190.10" stroke="#333" stroke-width="0.55"/><line x1="189.90" y1="202.80" x2="194.50" y2="193.60" stroke="#333" stroke-width="0.55"/><line x1="255.00" y1="191.00" x2="251.00" y2="196.00" stroke="#333" stroke-width="0.55"/><line x1="232.50" y1="201.60" x2="240.00" y2="201.00" stroke="#333" stroke-width="0.55"/><line x1="232.50" y1="209.00" x2="241.00" y2="207.00" stroke="#333" stroke-width="0.55"/><line x1="246.00" y1="207.00" x2="240.00" y2="208.00" stroke="#333" stroke-width="0.55"/><circle cx="183.0" cy="190.1" r="0.75" fill="#2a3a5a"/><circle cx="196.2" cy="168.5" r="0.75" fill="#2a3a5a"/><circle cx="186.8" cy="182.6" r="0.75" fill="#2a3a5a"/><circle cx="194.5" cy="181.5" r="0.75" fill="#2a3a5a"/><circle cx="191.0" cy="185.5" r="0.75" fill="#2a3a5a"/><circle cx="200.3" cy="186.6" r="0.75" fill="#2a3a5a"/><circle cx="201.4" cy="187.2" r="0.75" fill="#2a3a5a"/><circle cx="208.3" cy="190.1" r="0.75" fill="#2a3a5a"/><circle cx="194.5" cy="193.6" r="0.75" fill="#2a3a5a"/><circle cx="240.0" cy="201.2" r="0.75" fill="#2a3a5a"/><circle cx="241.0" cy="207.0" r="0.75" fill="#2a3a5a"/><circle cx="251.0" cy="196.5" r="0.75" fill="#2a3a5a"/><rect x="173.40" y="164.20" width="100.00" height="96.40" fill="none" stroke="#222" stroke-width="0.9"/><line x1="171.00" y1="166.00" x2="173.40" y2="166.00" stroke="#222" stroke-width="0.7"/><text x="168.60" y="168.31" font-size="7.26" text-anchor="end" fill="#2c2c2c" textLength="10.20" lengthAdjust="spacingAndGlyphs" stroke="#2c2c2c" stroke-width="0.06">5.0</text><line x1="171.00" y1="184.26" x2="173.40" y2="184.26" stroke="#222" stroke-width="0.7"/><text x="168.60" y="186.57" font-size="7.26" text-anchor="end" fill="#2c2c2c" textLength="10.20" lengthAdjust="spacingAndGlyphs" stroke="#2c2c2c" stroke-width="0.06">4.0</text><line x1="171.00" y1="202.52" x2="173.40" y2="202.52" stroke="#222" stroke-width="0.7"/><text x="168.60" y="204.83" font-size="7.26" text-anchor="end" fill="#2c2c2c" textLength="10.20" lengthAdjust="spacingAndGlyphs" stroke="#2c2c2c" stroke-width="0.06">3.0</text><line x1="171.00" y1="220.78" x2="173.40" y2="220.78" stroke="#222" stroke-width="0.7"/><text x="168.60" y="223.09" font-size="7.26" text-anchor="end" fill="#2c2c2c" textLength="10.20" lengthAdjust="spacingAndGlyphs" stroke="#2c2c2c" stroke-width="0.06">2.0</text><line x1="171.00" y1="239.04" x2="173.40" y2="239.04" stroke="#222" stroke-width="0.7"/><text x="168.60" y="241.35" font-size="7.26" text-anchor="end" fill="#2c2c2c" textLength="10.20" lengthAdjust="spacingAndGlyphs" stroke="#2c2c2c" stroke-width="0.06">1.0</text><line x1="171.00" y1="257.30" x2="173.40" y2="257.30" stroke="#222" stroke-width="0.7"/><text x="168.60" y="259.61" font-size="7.26" text-anchor="end" fill="#2c2c2c" textLength="10.20" lengthAdjust="spacingAndGlyphs" stroke="#2c2c2c" stroke-width="0.06">0.0</text><line x1="180.74" y1="260.60" x2="180.74" y2="262.80" stroke="#222" stroke-width="0.7"/><text x="183.14" y="268.00" font-size="7.92" text-anchor="end" fill="#2c2c2c" textLength="13.60" lengthAdjust="spacingAndGlyphs" transform="rotate(-45 183.14 268.00)" stroke="#2c2c2c" stroke-width="0.06">−0.6</text><line x1="195.36" y1="260.60" x2="195.36" y2="262.80" stroke="#222" stroke-width="0.7"/><text x="197.76" y="268.00" font-size="7.92" text-anchor="end" fill="#2c2c2c" textLength="13.60" lengthAdjust="spacingAndGlyphs" transform="rotate(-45 197.76 268.00)" stroke="#2c2c2c" stroke-width="0.06">−0.4</text><line x1="209.98" y1="260.60" x2="209.98" y2="262.80" stroke="#222" stroke-width="0.7"/><text x="212.38" y="268.00" font-size="7.92" text-anchor="end" fill="#2c2c2c" textLength="13.60" lengthAdjust="spacingAndGlyphs" transform="rotate(-45 212.38 268.00)" stroke="#2c2c2c" stroke-width="0.06">−0.2</text><line x1="224.60" y1="260.60" x2="224.60" y2="262.80" stroke="#222" stroke-width="0.7"/><text x="227.00" y="268.00" font-size="7.92" text-anchor="end" fill="#2c2c2c" textLength="11.20" lengthAdjust="spacingAndGlyphs" transform="rotate(-45 227.00 268.00)" stroke="#2c2c2c" stroke-width="0.06">0.0</text><line x1="239.22" y1="260.60" x2="239.22" y2="262.80" stroke="#222" stroke-width="0.7"/><text x="241.62" y="268.00" font-size="7.92" text-anchor="end" fill="#2c2c2c" textLength="11.20" lengthAdjust="spacingAndGlyphs" transform="rotate(-45 241.62 268.00)" stroke="#2c2c2c" stroke-width="0.06">0.2</text><line x1="253.84" y1="260.60" x2="253.84" y2="262.80" stroke="#222" stroke-width="0.7"/><text x="256.24" y="268.00" font-size="7.92" text-anchor="end" fill="#2c2c2c" textLength="11.20" lengthAdjust="spacingAndGlyphs" transform="rotate(-45 256.24 268.00)" stroke="#2c2c2c" stroke-width="0.06">0.4</text><line x1="268.46" y1="260.60" x2="268.46" y2="262.80" stroke="#222" stroke-width="0.7"/><text x="270.86" y="268.00" font-size="7.92" text-anchor="end" fill="#2c2c2c" textLength="11.20" lengthAdjust="spacingAndGlyphs" transform="rotate(-45 270.86 268.00)" stroke="#2c2c2c" stroke-width="0.06">0.6</text><text x="223.50" y="289.00" font-size="9.35" text-anchor="middle" fill="#2c2c2c" textLength="45.50" lengthAdjust="spacingAndGlyphs" stroke="#2c2c2c" stroke-width="0.06">log<tspan font-size="5.4" dy="1.8">2</tspan><tspan dy="-1.8"> fold change</tspan></text><text x="148.60" y="216.10" font-size="8.80" text-anchor="middle" fill="#2c2c2c" textLength="38.50" lengthAdjust="spacingAndGlyphs" transform="rotate(-90 148.60 213.30)" stroke="#2c2c2c" stroke-width="0.06">-log<tspan font-size="5.2" dy="1.8">10</tspan><tspan dy="-1.8"> </tspan><tspan font-style="italic">P</tspan>-value</text><path d="M 173,304.4 L 268.5,296 L 268.5,304.9 L 173,305.0 Z" fill="url(#gwedge)"/><text x="173.90" y="313.30" font-size="6.60" text-anchor="middle" fill="#2c2c2c" textLength="16.90" lengthAdjust="spacingAndGlyphs" stroke="#2c2c2c" stroke-width="0.06">Low in</text><text x="173.90" y="320.50" font-size="6.60" text-anchor="middle" fill="#2c2c2c" textLength="38.40" lengthAdjust="spacingAndGlyphs" stroke="#2c2c2c" stroke-width="0.06">overexpanded</text><text x="268.50" y="313.30" font-size="6.60" text-anchor="middle" fill="#2c2c2c" textLength="18.50" lengthAdjust="spacingAndGlyphs" stroke="#2c2c2c" stroke-width="0.06">High in</text><text x="268.80" y="320.50" font-size="6.60" text-anchor="middle" fill="#2c2c2c" textLength="37.50" lengthAdjust="spacingAndGlyphs" stroke="#2c2c2c" stroke-width="0.06">overexpanded</text><text x="303.30" y="153.40" font-size="10.50" fill="#111" font-weight="bold">D</text><text x="421.50" y="152.60" font-size="8.80" text-anchor="middle" fill="#2c2c2c" textLength="73.00" lengthAdjust="spacingAndGlyphs" stroke="#2c2c2c" stroke-width="0.06">Myeloid-biased HSC</text><line x1="329.80" y1="161.00" x2="329.80" y2="261.40" stroke="#222" stroke-width="0.8"/><line x1="329.40" y1="261.40" x2="514.00" y2="261.40" stroke="#222" stroke-width="0.8"/><line x1="327.60" y1="258.80" x2="329.80" y2="258.80" stroke="#222" stroke-width="0.7"/><text x="323.30" y="261.25" font-size="7.70" text-anchor="middle" fill="#2c2c2c" stroke="#2c2c2c" stroke-width="0.06">0</text><line x1="327.60" y1="240.80" x2="329.80" y2="240.80" stroke="#222" stroke-width="0.7"/><text x="323.30" y="243.25" font-size="7.70" text-anchor="middle" fill="#2c2c2c" stroke="#2c2c2c" stroke-width="0.06">1</text><line x1="327.60" y1="222.80" x2="329.80" y2="222.80" stroke="#222" stroke-width="0.7"/><text x="323.30" y="225.25" font-size="7.70" text-anchor="middle" fill="#2c2c2c" stroke="#2c2c2c" stroke-width="0.06">2</text><line x1="327.60" y1="204.80" x2="329.80" y2="204.80" stroke="#222" stroke-width="0.7"/><text x="323.30" y="207.25" font-size="7.70" text-anchor="middle" fill="#2c2c2c" stroke="#2c2c2c" stroke-width="0.06">3</text><line x1="327.60" y1="186.80" x2="329.80" y2="186.80" stroke="#222" stroke-width="0.7"/><text x="323.30" y="189.25" font-size="7.70" text-anchor="middle" fill="#2c2c2c" stroke="#2c2c2c" stroke-width="0.06">4</text><line x1="327.60" y1="168.80" x2="329.80" y2="168.80" stroke="#222" stroke-width="0.7"/><text x="323.30" y="171.25" font-size="7.70" text-anchor="middle" fill="#2c2c2c" stroke="#2c2c2c" stroke-width="0.06">5</text><text x="313.30" y="213.39" font-size="8.14" text-anchor="middle" fill="#2c2c2c" textLength="46.40" lengthAdjust="spacingAndGlyphs" transform="rotate(-90 313.30 210.80)" stroke="#2c2c2c" stroke-width="0.06">Gene expression</text><line x1="349.70" y1="261.40" x2="349.70" y2="263.40" stroke="#222" stroke-width="0.7"/><text x="349.70" y="273.30" font-size="6.60" text-anchor="middle" fill="#2c2c2c" textLength="19.20" lengthAdjust="spacingAndGlyphs" stroke="#2c2c2c" stroke-width="0.06">Smap1</text><line x1="385.10" y1="261.40" x2="385.10" y2="263.40" stroke="#222" stroke-width="0.7"/><text x="385.10" y="273.30" font-size="6.60" text-anchor="middle" fill="#2c2c2c" textLength="11.40" lengthAdjust="spacingAndGlyphs" stroke="#2c2c2c" stroke-width="0.06">Etv6</text><line x1="420.30" y1="261.40" x2="420.30" y2="263.40" stroke="#222" stroke-width="0.7"/><text x="420.30" y="273.30" font-size="6.60" text-anchor="middle" fill="#2c2c2c" textLength="20.50" lengthAdjust="spacingAndGlyphs" stroke="#2c2c2c" stroke-width="0.06">Rbm25</text><line x1="455.50" y1="261.40" x2="455.50" y2="263.40" stroke="#222" stroke-width="0.7"/><text x="455.50" y="273.30" font-size="6.60" text-anchor="middle" fill="#2c2c2c" textLength="11.50" lengthAdjust="spacingAndGlyphs" stroke="#2c2c2c" stroke-width="0.06">Tut7</text><line x1="490.80" y1="261.40" x2="490.80" y2="263.40" stroke="#222" stroke-width="0.7"/><text x="490.80" y="273.30" font-size="6.60" text-anchor="middle" fill="#2c2c2c" textLength="20.00" lengthAdjust="spacingAndGlyphs" stroke="#2c2c2c" stroke-width="0.06">Ythdc1</text><path d="M 342.00,258.80 L 342.05,258.60 L 342.13,258.35 L 342.23,258.03 L 342.31,257.65 L 342.38,257.19 L 342.40,256.64 L 342.38,255.99 L 342.33,255.25 L 342.25,254.44 L 342.16,253.55 L 342.08,252.60 L 342.00,251.60 L 341.93,250.53 L 341.87,249.36 L 341.81,248.14 L 341.74,246.88 L 341.67,245.63 L 341.60,244.40 L 341.52,243.20 L 341.44,242.00 L 341.35,240.80 L 341.26,239.60 L 341.18,238.40 L 341.10,237.20 L 341.03,236.00 L 340.97,234.80 L 340.91,233.60 L 340.85,232.40 L 340.80,231.20 L 340.75,230.00 L 340.71,228.72 L 340.66,227.33 L 340.63,225.95 L 340.60,224.67 L 340.57,223.58 L 340.55,222.80 L 340.25,222.80 L 340.23,223.58 L 340.20,224.67 L 340.17,225.95 L 340.14,227.33 L 340.09,228.72 L 340.05,230.00 L 340.00,231.20 L 339.95,232.40 L 339.89,233.60 L 339.83,234.80 L 339.77,236.00 L 339.70,237.20 L 339.62,238.40 L 339.54,239.60 L 339.45,240.80 L 339.36,242.00 L 339.28,243.20 L 339.20,244.40 L 339.13,245.63 L 339.06,246.88 L 338.99,248.14 L 338.93,249.36 L 338.87,250.53 L 338.80,251.60 L 338.72,252.60 L 338.64,253.55 L 338.55,254.44 L 338.47,255.25 L 338.42,255.99 L 338.40,256.64 L 338.42,257.19 L 338.49,257.65 L 338.57,258.03 L 338.67,258.35 L 338.75,258.60 L 338.80,258.80 Z" fill="#15151f" stroke="#111" stroke-width="0.7" stroke-linejoin="round"/><circle cx="340.4" cy="249.8" r="0.75" fill="#fff"/><path d="M 351.20,258.80 L 351.26,258.60 L 351.34,258.35 L 351.44,258.03 L 351.53,257.65 L 351.59,257.19 L 351.60,256.64 L 351.56,255.99 L 351.47,255.25 L 351.35,254.44 L 351.22,253.55 L 351.10,252.60 L 351.00,251.60 L 350.92,250.57 L 350.85,249.49 L 350.79,248.36 L 350.73,247.15 L 350.66,245.83 L 350.60,244.40 L 350.53,242.81 L 350.46,241.07 L 350.39,239.23 L 350.32,237.33 L 350.26,235.44 L 350.20,233.60 L 350.15,231.76 L 350.12,229.87 L 350.08,227.97 L 350.06,226.13 L 350.03,224.39 L 350.00,222.80 L 349.97,221.31 L 349.94,219.87 L 349.91,218.53 L 349.89,217.33 L 349.87,216.34 L 349.85,215.60 L 349.55,215.60 L 349.53,216.34 L 349.51,217.33 L 349.49,218.53 L 349.46,219.87 L 349.43,221.31 L 349.40,222.80 L 349.37,224.39 L 349.34,226.13 L 349.32,227.97 L 349.28,229.87 L 349.25,231.76 L 349.20,233.60 L 349.14,235.44 L 349.08,237.33 L 349.01,239.23 L 348.94,241.07 L 348.87,242.81 L 348.80,244.40 L 348.74,245.83 L 348.67,247.15 L 348.61,248.36 L 348.55,249.49 L 348.48,250.57 L 348.40,251.60 L 348.30,252.60 L 348.18,253.55 L 348.05,254.44 L 347.93,255.25 L 347.84,255.99 L 347.80,256.64 L 347.81,257.19 L 347.87,257.65 L 347.96,258.03 L 348.06,258.35 L 348.14,258.60 L 348.20,258.80 Z" fill="#111" stroke="#111" stroke-width="0.7" stroke-linejoin="round"/><circle cx="349.7" cy="257.9" r="0.75" fill="#fff"/><path d="M 363.80,258.80 L 363.76,258.63 L 363.71,258.40 L 363.65,258.12 L 363.56,257.80 L 363.41,257.43 L 363.20,257.00 L 362.89,256.50 L 362.49,255.93 L 362.03,255.31 L 361.57,254.67 L 361.15,254.02 L 360.80,253.40 L 360.53,252.90 L 360.30,252.53 L 360.11,252.16 L 359.95,251.67 L 359.81,250.92 L 359.70,249.80 L 359.62,248.26 L 359.58,246.40 L 359.57,244.29 L 359.57,242.00 L 359.57,239.61 L 359.55,237.20 L 359.52,234.52 L 359.48,231.47 L 359.44,228.31 L 359.40,225.33 L 359.37,222.80 L 359.35,221.00 L 359.05,221.00 L 359.03,222.80 L 359.00,225.33 L 358.96,228.31 L 358.92,231.47 L 358.88,234.52 L 358.85,237.20 L 358.83,239.61 L 358.83,242.00 L 358.83,244.29 L 358.82,246.40 L 358.78,248.26 L 358.70,249.80 L 358.59,250.92 L 358.45,251.67 L 358.29,252.16 L 358.10,252.53 L 357.87,252.90 L 357.60,253.40 L 357.25,254.02 L 356.83,254.67 L 356.37,255.31 L 355.91,255.93 L 355.51,256.50 L 355.20,257.00 L 354.99,257.43 L 354.84,257.80 L 354.75,258.12 L 354.69,258.40 L 354.64,258.63 L 354.60,258.80 Z" fill="#a088b2" stroke="#111" stroke-width="0.7" stroke-linejoin="round"/><line x1="359.20" y1="258.80" x2="359.20" y2="222.80" stroke="#111" stroke-width="0.6"/><circle cx="359.2" cy="257.9" r="0.75" fill="#fff"/><path d="M 377.60,258.80 L 377.64,258.62 L 377.69,258.41 L 377.76,258.15 L 377.82,257.79 L 377.87,257.30 L 377.90,256.64 L 377.91,255.77 L 377.89,254.72 L 377.87,253.53 L 377.84,252.28 L 377.82,251.02 L 377.80,249.80 L 377.80,248.62 L 377.81,247.43 L 377.83,246.22 L 377.84,245.01 L 377.83,243.80 L 377.80,242.60 L 377.74,241.42 L 377.65,240.27 L 377.55,239.11 L 377.44,237.93 L 377.32,236.70 L 377.20,235.40 L 377.07,234.05 L 376.94,232.67 L 376.79,231.24 L 376.65,229.73 L 376.52,228.13 L 376.40,226.40 L 376.30,224.36 L 376.21,222.00 L 376.12,219.54 L 376.05,217.20 L 375.99,215.21 L 375.95,213.80 L 375.65,213.80 L 375.61,215.21 L 375.55,217.20 L 375.48,219.54 L 375.39,222.00 L 375.30,224.36 L 375.20,226.40 L 375.08,228.13 L 374.95,229.73 L 374.81,231.24 L 374.66,232.67 L 374.53,234.05 L 374.40,235.40 L 374.28,236.70 L 374.16,237.93 L 374.05,239.11 L 373.95,240.27 L 373.86,241.42 L 373.80,242.60 L 373.77,243.80 L 373.76,245.01 L 373.77,246.22 L 373.79,247.43 L 373.80,248.62 L 373.80,249.80 L 373.78,251.02 L 373.76,252.28 L 373.73,253.53 L 373.71,254.72 L 373.69,255.77 L 373.70,256.64 L 373.73,257.30 L 373.78,257.79 L 373.84,258.15 L 373.91,258.41 L 373.96,258.62 L 374.00,258.80 Z" fill="#3a3a58" stroke="#111" stroke-width="0.7" stroke-linejoin="round"/><rect x="374.40" y="235.40" width="2.80" height="23.40" fill="#111"/><circle cx="375.8" cy="243.5" r="0.75" fill="#fff"/><path d="M 386.80,258.80 L 386.86,258.55 L 386.94,258.23 L 387.04,257.84 L 387.13,257.37 L 387.19,256.79 L 387.20,256.10 L 387.14,255.29 L 387.04,254.37 L 386.90,253.34 L 386.75,252.23 L 386.61,251.05 L 386.50,249.80 L 386.42,248.48 L 386.34,247.07 L 386.28,245.58 L 386.22,244.03 L 386.16,242.44 L 386.10,240.80 L 386.03,239.12 L 385.96,237.40 L 385.89,235.63 L 385.83,233.80 L 385.76,231.93 L 385.70,230.00 L 385.64,228.00 L 385.59,225.93 L 385.53,223.81 L 385.49,221.67 L 385.44,219.52 L 385.40,217.40 L 385.36,215.15 L 385.33,212.73 L 385.31,210.31 L 385.28,208.07 L 385.26,206.17 L 385.25,204.80 L 384.95,204.80 L 384.94,206.17 L 384.92,208.07 L 384.89,210.31 L 384.87,212.73 L 384.84,215.15 L 384.80,217.40 L 384.76,219.52 L 384.71,221.67 L 384.67,223.81 L 384.61,225.93 L 384.56,228.00 L 384.50,230.00 L 384.44,231.93 L 384.37,233.80 L 384.31,235.63 L 384.24,237.40 L 384.17,239.12 L 384.10,240.80 L 384.04,242.44 L 383.98,244.03 L 383.92,245.58 L 383.86,247.07 L 383.78,248.48 L 383.70,249.80 L 383.59,251.05 L 383.45,252.23 L 383.30,253.34 L 383.16,254.37 L 383.06,255.29 L 383.00,256.10 L 383.01,256.79 L 383.07,257.37 L 383.16,257.84 L 383.26,258.23 L 383.34,258.55 L 383.40,258.80 Z" fill="#111" stroke="#111" stroke-width="0.7" stroke-linejoin="round"/><circle cx="385.1" cy="251.6" r="0.75" fill="#fff"/><path d="M 398.80,258.80 L 398.74,258.63 L 398.67,258.40 L 398.58,258.12 L 398.46,257.80 L 398.31,257.43 L 398.10,257.00 L 397.82,256.51 L 397.47,255.97 L 397.08,255.37 L 396.68,254.73 L 396.31,254.07 L 396.00,253.40 L 395.75,252.85 L 395.53,252.43 L 395.33,251.99 L 395.17,251.37 L 395.02,250.39 L 394.90,248.90 L 394.81,246.98 L 394.75,244.77 L 394.72,242.21 L 394.70,239.23 L 394.68,235.79 L 394.65,231.80 L 394.61,226.69 L 394.57,220.40 L 394.53,213.63 L 394.50,207.10 L 394.47,201.52 L 394.45,197.60 L 394.15,197.60 L 394.13,201.52 L 394.10,207.10 L 394.07,213.63 L 394.03,220.40 L 393.99,226.69 L 393.95,231.80 L 393.92,235.79 L 393.90,239.23 L 393.88,242.21 L 393.85,244.77 L 393.79,246.98 L 393.70,248.90 L 393.58,250.39 L 393.43,251.37 L 393.27,251.99 L 393.07,252.43 L 392.85,252.85 L 392.60,253.40 L 392.29,254.07 L 391.92,254.73 L 391.52,255.37 L 391.13,255.97 L 390.78,256.51 L 390.50,257.00 L 390.29,257.43 L 390.14,257.80 L 390.02,258.12 L 389.93,258.40 L 389.86,258.63 L 389.80,258.80 Z" fill="#a088b2" stroke="#111" stroke-width="0.7" stroke-linejoin="round"/><line x1="394.30" y1="258.80" x2="394.30" y2="197.60" stroke="#111" stroke-width="0.6"/><circle cx="394.3" cy="257.9" r="0.75" fill="#fff"/><path d="M 412.10,258.80 L 412.10,258.54 L 412.11,258.20 L 412.12,257.79 L 412.12,257.30 L 412.12,256.74 L 412.10,256.10 L 412.05,255.35 L 411.97,254.47 L 411.88,253.51 L 411.80,252.53 L 411.77,251.58 L 411.80,250.70 L 411.91,249.90 L 412.07,249.13 L 412.28,248.39 L 412.51,247.67 L 412.76,246.94 L 413.00,246.20 L 413.25,245.45 L 413.53,244.70 L 413.82,243.95 L 414.11,243.20 L 414.38,242.45 L 414.60,241.70 L 414.79,240.96 L 414.97,240.23 L 415.13,239.51 L 415.25,238.77 L 415.35,238.00 L 415.40,237.20 L 415.41,236.35 L 415.39,235.47 L 415.34,234.56 L 415.25,233.63 L 415.14,232.71 L 415.00,231.80 L 414.82,230.90 L 414.61,230.00 L 414.36,229.10 L 414.10,228.20 L 413.84,227.30 L 413.60,226.40 L 413.36,225.50 L 413.11,224.60 L 412.86,223.70 L 412.61,222.80 L 412.39,221.90 L 412.20,221.00 L 412.04,220.14 L 411.91,219.33 L 411.80,218.53 L 411.70,217.67 L 411.60,216.71 L 411.50,215.60 L 411.39,214.20 L 411.29,212.53 L 411.18,210.76 L 411.09,209.07 L 411.01,207.62 L 410.95,206.60 L 410.65,206.60 L 410.59,207.62 L 410.51,209.07 L 410.42,210.76 L 410.31,212.53 L 410.21,214.20 L 410.10,215.60 L 410.00,216.71 L 409.90,217.67 L 409.80,218.53 L 409.69,219.33 L 409.56,220.14 L 409.40,221.00 L 409.21,221.90 L 408.99,222.80 L 408.74,223.70 L 408.49,224.60 L 408.24,225.50 L 408.00,226.40 L 407.76,227.30 L 407.50,228.20 L 407.24,229.10 L 406.99,230.00 L 406.78,230.90 L 406.60,231.80 L 406.46,232.71 L 406.35,233.63 L 406.26,234.56 L 406.21,235.47 L 406.19,236.35 L 406.20,237.20 L 406.25,238.00 L 406.35,238.77 L 406.47,239.51 L 406.63,240.23 L 406.81,240.96 L 407.00,241.70 L 407.23,242.45 L 407.49,243.20 L 407.78,243.95 L 408.07,244.70 L 408.35,245.45 L 408.60,246.20 L 408.84,246.94 L 409.09,247.67 L 409.32,248.39 L 409.53,249.13 L 409.69,249.90 L 409.80,250.70 L 409.83,251.58 L 409.80,252.53 L 409.72,253.51 L 409.63,254.47 L 409.55,255.35 L 409.50,256.10 L 409.48,256.74 L 409.48,257.30 L 409.48,257.79 L 409.49,258.20 L 409.50,258.54 L 409.50,258.80 Z" fill="#7a82b4" stroke="#111" stroke-width="0.7" stroke-linejoin="round"/><rect x="409.40" y="230.00" width="2.80" height="13.50" fill="#111"/><circle cx="410.8" cy="237.2" r="0.75" fill="#fff"/><path d="M 422.10,258.80 L 422.13,258.62 L 422.17,258.41 L 422.23,258.15 L 422.27,257.79 L 422.30,257.30 L 422.30,256.64 L 422.26,255.80 L 422.19,254.79 L 422.11,253.65 L 422.02,252.41 L 421.94,251.12 L 421.90,249.80 L 421.88,248.43 L 421.87,246.96 L 421.88,245.44 L 421.90,243.88 L 421.94,242.33 L 422.00,240.80 L 422.09,239.27 L 422.21,237.70 L 422.34,236.13 L 422.48,234.60 L 422.61,233.14 L 422.70,231.80 L 422.77,230.61 L 422.83,229.57 L 422.88,228.59 L 422.91,227.63 L 422.92,226.62 L 422.90,225.50 L 422.85,224.29 L 422.78,223.03 L 422.68,221.73 L 422.57,220.37 L 422.44,218.93 L 422.30,217.40 L 422.14,215.74 L 421.96,213.96 L 421.76,212.10 L 421.56,210.22 L 421.37,208.37 L 421.20,206.60 L 421.05,204.81 L 420.90,202.92 L 420.76,201.07 L 420.63,199.36 L 420.53,197.93 L 420.45,196.88 L 420.15,196.88 L 420.07,197.93 L 419.97,199.36 L 419.84,201.07 L 419.70,202.92 L 419.55,204.81 L 419.40,206.60 L 419.23,208.37 L 419.04,210.22 L 418.84,212.10 L 418.64,213.96 L 418.46,215.74 L 418.30,217.40 L 418.16,218.93 L 418.03,220.37 L 417.92,221.73 L 417.82,223.03 L 417.75,224.29 L 417.70,225.50 L 417.68,226.62 L 417.69,227.63 L 417.72,228.59 L 417.77,229.57 L 417.83,230.61 L 417.90,231.80 L 417.99,233.14 L 418.12,234.60 L 418.26,236.13 L 418.39,237.70 L 418.51,239.27 L 418.60,240.80 L 418.66,242.33 L 418.70,243.88 L 418.72,245.44 L 418.73,246.96 L 418.72,248.43 L 418.70,249.80 L 418.66,251.12 L 418.58,252.41 L 418.49,253.65 L 418.41,254.79 L 418.34,255.80 L 418.30,256.64 L 418.30,257.30 L 418.33,257.79 L 418.38,258.15 L 418.43,258.41 L 418.47,258.62 L 418.50,258.80 Z" fill="#2a5e4a" stroke="#111" stroke-width="0.7" stroke-linejoin="round"/><rect x="419.10" y="228.20" width="2.40" height="25.20" fill="#111"/><circle cx="420.3" cy="237.2" r="0.75" fill="#fff"/><path d="M 433.60,258.80 L 433.57,258.63 L 433.55,258.40 L 433.51,258.12 L 433.45,257.80 L 433.35,257.43 L 433.20,257.00 L 432.97,256.51 L 432.67,255.97 L 432.33,255.37 L 431.98,254.73 L 431.66,254.07 L 431.40,253.40 L 431.19,252.74 L 431.01,252.10 L 430.86,251.43 L 430.74,250.70 L 430.65,249.87 L 430.60,248.90 L 430.60,247.79 L 430.66,246.57 L 430.74,245.24 L 430.84,243.83 L 430.94,242.35 L 431.00,240.80 L 431.04,239.16 L 431.07,237.40 L 431.09,235.57 L 431.11,233.70 L 431.11,231.83 L 431.10,230.00 L 431.08,228.20 L 431.04,226.40 L 431.00,224.60 L 430.94,222.80 L 430.88,221.00 L 430.80,219.20 L 430.70,217.46 L 430.58,215.80 L 430.45,214.14 L 430.32,212.40 L 430.20,210.51 L 430.10,208.40 L 430.02,205.83 L 429.94,202.80 L 429.88,199.62 L 429.83,196.60 L 429.78,194.03 L 429.75,192.20 L 429.45,192.20 L 429.42,194.03 L 429.37,196.60 L 429.32,199.62 L 429.26,202.80 L 429.18,205.83 L 429.10,208.40 L 429.00,210.51 L 428.88,212.40 L 428.75,214.14 L 428.62,215.80 L 428.50,217.46 L 428.40,219.20 L 428.32,221.00 L 428.26,222.80 L 428.20,224.60 L 428.16,226.40 L 428.12,228.20 L 428.10,230.00 L 428.09,231.83 L 428.09,233.70 L 428.11,235.57 L 428.13,237.40 L 428.16,239.16 L 428.20,240.80 L 428.26,242.35 L 428.36,243.83 L 428.46,245.24 L 428.54,246.57 L 428.60,247.79 L 428.60,248.90 L 428.55,249.87 L 428.46,250.70 L 428.34,251.43 L 428.19,252.10 L 428.01,252.74 L 427.80,253.40 L 427.54,254.07 L 427.22,254.73 L 426.88,255.37 L 426.53,255.97 L 426.23,256.51 L 426.00,257.00 L 425.85,257.43 L 425.75,257.80 L 425.69,258.12 L 425.65,258.40 L 425.63,258.63 L 425.60,258.80 Z" fill="#a088b2" stroke="#111" stroke-width="0.7" stroke-linejoin="round"/><rect x="428.50" y="230.00" width="2.20" height="27.00" fill="#111"/><circle cx="429.6" cy="257.9" r="0.75" fill="#fff"/><path d="M 448.50,258.80 L 448.56,258.60 L 448.65,258.35 L 448.76,258.03 L 448.86,257.65 L 448.95,257.19 L 449.00,256.64 L 449.02,255.99 L 449.02,255.25 L 449.01,254.44 L 448.98,253.55 L 448.94,252.60 L 448.90,251.60 L 448.86,250.53 L 448.81,249.36 L 448.76,248.14 L 448.69,246.88 L 448.60,245.63 L 448.50,244.40 L 448.37,243.22 L 448.20,242.07 L 448.03,240.91 L 447.84,239.73 L 447.66,238.50 L 447.50,237.20 L 447.35,235.87 L 447.21,234.53 L 447.07,233.15 L 446.93,231.67 L 446.81,230.03 L 446.70,228.20 L 446.60,225.95 L 446.51,223.27 L 446.43,220.44 L 446.35,217.73 L 446.29,215.43 L 446.25,213.80 L 445.95,213.80 L 445.91,215.43 L 445.85,217.73 L 445.77,220.44 L 445.69,223.27 L 445.60,225.95 L 445.50,228.20 L 445.39,230.03 L 445.27,231.67 L 445.13,233.15 L 444.99,234.53 L 444.85,235.87 L 444.70,237.20 L 444.54,238.50 L 444.36,239.73 L 444.18,240.91 L 444.00,242.07 L 443.83,243.22 L 443.70,244.40 L 443.60,245.63 L 443.51,246.88 L 443.44,248.14 L 443.39,249.36 L 443.34,250.53 L 443.30,251.60 L 443.26,252.60 L 443.22,253.55 L 443.19,254.44 L 443.18,255.25 L 443.18,255.99 L 443.20,256.64 L 443.25,257.19 L 443.34,257.65 L 443.44,258.03 L 443.55,258.35 L 443.64,258.60 L 443.70,258.80 Z" fill="#5a5a80" stroke="#111" stroke-width="0.7" stroke-linejoin="round"/><rect x="444.70" y="240.80" width="2.80" height="18.00" fill="#111"/><circle cx="446.1" cy="249.8" r="0.75" fill="#fff"/><path d="M 457.20,258.80 L 457.25,258.55 L 457.34,258.23 L 457.43,257.84 L 457.52,257.37 L 457.58,256.79 L 457.60,256.10 L 457.57,255.29 L 457.50,254.37 L 457.40,253.34 L 457.29,252.23 L 457.19,251.05 L 457.10,249.80 L 457.03,248.52 L 456.97,247.20 L 456.91,245.81 L 456.84,244.30 L 456.78,242.64 L 456.70,240.80 L 456.61,238.71 L 456.50,236.40 L 456.39,233.94 L 456.29,231.40 L 456.18,228.86 L 456.10,226.40 L 456.03,224.00 L 455.97,221.60 L 455.92,219.20 L 455.88,216.80 L 455.84,214.40 L 455.80,212.00 L 455.76,209.43 L 455.73,206.67 L 455.71,203.90 L 455.68,201.33 L 455.66,199.17 L 455.65,197.60 L 455.35,197.60 L 455.34,199.17 L 455.32,201.33 L 455.29,203.90 L 455.27,206.67 L 455.24,209.43 L 455.20,212.00 L 455.16,214.40 L 455.12,216.80 L 455.08,219.20 L 455.03,221.60 L 454.97,224.00 L 454.90,226.40 L 454.82,228.86 L 454.71,231.40 L 454.61,233.94 L 454.50,236.40 L 454.39,238.71 L 454.30,240.80 L 454.22,242.64 L 454.16,244.30 L 454.09,245.81 L 454.03,247.20 L 453.97,248.52 L 453.90,249.80 L 453.81,251.05 L 453.71,252.23 L 453.60,253.34 L 453.50,254.37 L 453.43,255.29 L 453.40,256.10 L 453.42,256.79 L 453.48,257.37 L 453.57,257.84 L 453.66,258.23 L 453.75,258.55 L 453.80,258.80 Z" fill="#111" stroke="#111" stroke-width="0.7" stroke-linejoin="round"/><circle cx="455.5" cy="248.0" r="0.75" fill="#fff"/><path d="M 469.40,258.80 L 469.35,258.63 L 469.30,258.40 L 469.23,258.12 L 469.13,257.80 L 468.99,257.43 L 468.80,257.00 L 468.54,256.51 L 468.20,255.97 L 467.83,255.37 L 467.45,254.73 L 467.10,254.07 L 466.80,253.40 L 466.55,252.83 L 466.34,252.37 L 466.14,251.88 L 465.97,251.23 L 465.82,250.29 L 465.70,248.90 L 465.61,247.09 L 465.55,244.97 L 465.52,242.54 L 465.50,239.83 L 465.48,236.85 L 465.45,233.60 L 465.41,229.68 L 465.37,225.00 L 465.33,220.04 L 465.30,215.30 L 465.27,211.26 L 465.25,208.40 L 464.95,208.40 L 464.93,211.26 L 464.90,215.30 L 464.87,220.04 L 464.83,225.00 L 464.79,229.68 L 464.75,233.60 L 464.72,236.85 L 464.70,239.83 L 464.68,242.54 L 464.65,244.97 L 464.59,247.09 L 464.50,248.90 L 464.38,250.29 L 464.23,251.23 L 464.06,251.88 L 463.86,252.37 L 463.65,252.83 L 463.40,253.40 L 463.10,254.07 L 462.75,254.73 L 462.37,255.37 L 462.00,255.97 L 461.66,256.51 L 461.40,257.00 L 461.21,257.43 L 461.07,257.80 L 460.98,258.12 L 460.90,258.40 L 460.85,258.63 L 460.80,258.80 Z" fill="#a088b2" stroke="#111" stroke-width="0.7" stroke-linejoin="round"/><line x1="465.10" y1="258.80" x2="465.10" y2="208.40" stroke="#111" stroke-width="0.6"/><circle cx="465.1" cy="257.9" r="0.75" fill="#fff"/><path d="M 483.20,258.80 L 483.25,258.62 L 483.32,258.41 L 483.41,258.15 L 483.49,257.79 L 483.56,257.30 L 483.60,256.64 L 483.61,255.77 L 483.60,254.72 L 483.58,253.53 L 483.55,252.28 L 483.52,251.02 L 483.50,249.80 L 483.49,248.62 L 483.50,247.43 L 483.50,246.22 L 483.49,245.01 L 483.46,243.80 L 483.40,242.60 L 483.29,241.40 L 483.15,240.20 L 482.99,239.00 L 482.81,237.80 L 482.65,236.60 L 482.50,235.40 L 482.37,234.19 L 482.24,232.97 L 482.12,231.74 L 482.00,230.53 L 481.89,229.35 L 481.80,228.20 L 481.72,227.03 L 481.64,225.80 L 481.58,224.60 L 481.53,223.50 L 481.48,222.58 L 481.45,221.90 L 481.15,221.90 L 481.12,222.58 L 481.07,223.50 L 481.02,224.60 L 480.96,225.80 L 480.88,227.03 L 480.80,228.20 L 480.71,229.35 L 480.60,230.53 L 480.48,231.74 L 480.36,232.97 L 480.23,234.19 L 480.10,235.40 L 479.95,236.60 L 479.79,237.80 L 479.61,239.00 L 479.45,240.20 L 479.31,241.40 L 479.20,242.60 L 479.14,243.80 L 479.11,245.01 L 479.10,246.22 L 479.10,247.43 L 479.11,248.62 L 479.10,249.80 L 479.08,251.02 L 479.05,252.28 L 479.02,253.53 L 479.00,254.72 L 478.99,255.77 L 479.00,256.64 L 479.04,257.30 L 479.11,257.79 L 479.19,258.15 L 479.28,258.41 L 479.35,258.62 L 479.40,258.80 Z" fill="#2a2a40" stroke="#111" stroke-width="0.7" stroke-linejoin="round"/><circle cx="481.3" cy="244.4" r="0.75" fill="#fff"/><path d="M 492.60,258.80 L 492.64,258.55 L 492.71,258.23 L 492.78,257.84 L 492.85,257.37 L 492.89,256.79 L 492.90,256.10 L 492.86,255.29 L 492.79,254.37 L 492.70,253.34 L 492.60,252.23 L 492.49,251.05 L 492.40,249.80 L 492.32,248.52 L 492.23,247.20 L 492.15,245.81 L 492.07,244.30 L 491.98,242.64 L 491.90,240.80 L 491.82,238.78 L 491.73,236.60 L 491.65,234.28 L 491.56,231.80 L 491.48,229.18 L 491.40,226.40 L 491.32,223.18 L 491.23,219.47 L 491.14,215.60 L 491.06,211.93 L 491.00,208.82 L 490.95,206.60 L 490.65,206.60 L 490.60,208.82 L 490.54,211.93 L 490.46,215.60 L 490.37,219.47 L 490.28,223.18 L 490.20,226.40 L 490.12,229.18 L 490.04,231.80 L 489.95,234.28 L 489.87,236.60 L 489.78,238.78 L 489.70,240.80 L 489.62,242.64 L 489.53,244.30 L 489.45,245.81 L 489.37,247.20 L 489.28,248.52 L 489.20,249.80 L 489.11,251.05 L 489.00,252.23 L 488.90,253.34 L 488.81,254.37 L 488.74,255.29 L 488.70,256.10 L 488.71,256.79 L 488.75,257.37 L 488.82,257.84 L 488.89,258.23 L 488.96,258.55 L 489.00,258.80 Z" fill="#111" stroke="#111" stroke-width="0.7" stroke-linejoin="round"/><circle cx="490.8" cy="248.0" r="0.75" fill="#fff"/><path d="M 504.90,258.80 L 504.84,258.63 L 504.77,258.40 L 504.69,258.12 L 504.57,257.80 L 504.41,257.43 L 504.20,257.00 L 503.91,256.51 L 503.54,255.97 L 503.12,255.37 L 502.71,254.73 L 502.32,254.07 L 502.00,253.40 L 501.74,252.81 L 501.52,252.30 L 501.33,251.77 L 501.16,251.10 L 501.02,250.18 L 500.90,248.90 L 500.81,247.24 L 500.75,245.30 L 500.72,243.11 L 500.70,240.70 L 500.68,238.12 L 500.65,235.40 L 500.61,232.24 L 500.57,228.53 L 500.53,224.66 L 500.50,220.97 L 500.47,217.83 L 500.45,215.60 L 500.15,215.60 L 500.13,217.83 L 500.10,220.97 L 500.07,224.66 L 500.03,228.53 L 499.99,232.24 L 499.95,235.40 L 499.92,238.12 L 499.90,240.70 L 499.88,243.11 L 499.85,245.30 L 499.79,247.24 L 499.70,248.90 L 499.58,250.18 L 499.44,251.10 L 499.27,251.77 L 499.08,252.30 L 498.86,252.81 L 498.60,253.40 L 498.28,254.07 L 497.89,254.73 L 497.48,255.37 L 497.06,255.97 L 496.69,256.51 L 496.40,257.00 L 496.19,257.43 L 496.03,257.80 L 495.91,258.12 L 495.83,258.40 L 495.76,258.63 L 495.70,258.80 Z" fill="#a088b2" stroke="#111" stroke-width="0.7" stroke-linejoin="round"/><line x1="500.30" y1="258.80" x2="500.30" y2="215.60" stroke="#111" stroke-width="0.6"/><circle cx="500.3" cy="257.9" r="0.75" fill="#fff"/><path d="M 339.00,195.90 L 339.00,194.20 L 359.70,194.20 L 359.70,195.90" fill="none" stroke="#2a2a2a" stroke-width="0.75" stroke-linejoin="round"/><circle cx="345.2" cy="191.3" r="0.92" fill="#262626"/><circle cx="348.0" cy="191.3" r="0.92" fill="#262626"/><circle cx="350.7" cy="191.3" r="0.92" fill="#262626"/><circle cx="353.5" cy="191.3" r="0.92" fill="#262626"/><path d="M 339.00,204.10 L 339.00,202.40 L 350.20,202.40 L 350.20,204.10" fill="none" stroke="#2a2a2a" stroke-width="0.75" stroke-linejoin="round"/><text x="344.60" y="200.80" font-size="6.16" text-anchor="middle" textLength="5.50" lengthAdjust="spacingAndGlyphs" stroke="#333" stroke-width="0.06">ns</text><path d="M 350.20,212.50 L 350.20,210.80 L 359.70,210.80 L 359.70,212.50" fill="none" stroke="#2a2a2a" stroke-width="0.75" stroke-linejoin="round"/><circle cx="354.9" cy="207.9" r="0.92" fill="#262626"/><path d="M 374.30,175.70 L 374.30,174.00 L 395.00,174.00 L 395.00,175.70" fill="none" stroke="#2a2a2a" stroke-width="0.75" stroke-linejoin="round"/><circle cx="380.5" cy="171.1" r="0.92" fill="#262626"/><circle cx="383.3" cy="171.1" r="0.92" fill="#262626"/><circle cx="386.0" cy="171.1" r="0.92" fill="#262626"/><circle cx="388.8" cy="171.1" r="0.92" fill="#262626"/><path d="M 374.30,184.10 L 374.30,182.40 L 385.40,182.40 L 385.40,184.10" fill="none" stroke="#2a2a2a" stroke-width="0.75" stroke-linejoin="round"/><text x="379.85" y="180.80" font-size="6.16" text-anchor="middle" textLength="5.50" lengthAdjust="spacingAndGlyphs" stroke="#333" stroke-width="0.06">ns</text><path d="M 385.40,192.90 L 385.40,191.20 L 395.00,191.20 L 395.00,192.90" fill="none" stroke="#2a2a2a" stroke-width="0.75" stroke-linejoin="round"/><circle cx="390.2" cy="188.3" r="0.92" fill="#262626"/><path d="M 409.40,173.00 L 409.40,171.30 L 430.60,171.30 L 430.60,173.00" fill="none" stroke="#2a2a2a" stroke-width="0.75" stroke-linejoin="round"/><circle cx="415.9" cy="168.4" r="0.92" fill="#262626"/><circle cx="418.6" cy="168.4" r="0.92" fill="#262626"/><circle cx="421.4" cy="168.4" r="0.92" fill="#262626"/><circle cx="424.1" cy="168.4" r="0.92" fill="#262626"/><path d="M 409.40,181.40 L 409.40,179.70 L 420.20,179.70 L 420.20,181.40" fill="none" stroke="#2a2a2a" stroke-width="0.75" stroke-linejoin="round"/><text x="414.80" y="178.10" font-size="6.16" text-anchor="middle" textLength="5.50" lengthAdjust="spacingAndGlyphs" stroke="#333" stroke-width="0.06">ns</text><path d="M 420.20,189.70 L 420.20,188.00 L 430.60,188.00 L 430.60,189.70" fill="none" stroke="#2a2a2a" stroke-width="0.75" stroke-linejoin="round"/><circle cx="425.4" cy="185.1" r="0.92" fill="#262626"/><path d="M 444.60,177.30 L 444.60,175.60 L 466.00,175.60 L 466.00,177.30" fill="none" stroke="#2a2a2a" stroke-width="0.75" stroke-linejoin="round"/><circle cx="451.2" cy="172.7" r="0.92" fill="#262626"/><circle cx="453.9" cy="172.7" r="0.92" fill="#262626"/><circle cx="456.7" cy="172.7" r="0.92" fill="#262626"/><circle cx="459.4" cy="172.7" r="0.92" fill="#262626"/><path d="M 444.60,185.50 L 444.60,183.80 L 455.60,183.80 L 455.60,185.50" fill="none" stroke="#2a2a2a" stroke-width="0.75" stroke-linejoin="round"/><text x="450.10" y="182.20" font-size="6.16" text-anchor="middle" textLength="5.50" lengthAdjust="spacingAndGlyphs" stroke="#333" stroke-width="0.06">ns</text><path d="M 455.60,192.70 L 455.60,191.00 L 466.00,191.00 L 466.00,192.70" fill="none" stroke="#2a2a2a" stroke-width="0.75" stroke-linejoin="round"/><circle cx="460.8" cy="188.1" r="0.92" fill="#262626"/><path d="M 480.00,185.50 L 480.00,183.80 L 501.00,183.80 L 501.00,185.50" fill="none" stroke="#2a2a2a" stroke-width="0.75" stroke-linejoin="round"/><circle cx="486.4" cy="180.9" r="0.92" fill="#262626"/><circle cx="489.1" cy="180.9" r="0.92" fill="#262626"/><circle cx="491.9" cy="180.9" r="0.92" fill="#262626"/><circle cx="494.6" cy="180.9" r="0.92" fill="#262626"/><path d="M 480.00,193.40 L 480.00,191.70 L 490.70,191.70 L 490.70,193.40" fill="none" stroke="#2a2a2a" stroke-width="0.75" stroke-linejoin="round"/><text x="485.35" y="190.10" font-size="6.16" text-anchor="middle" textLength="5.50" lengthAdjust="spacingAndGlyphs" stroke="#333" stroke-width="0.06">ns</text><path d="M 490.70,200.60 L 490.70,198.90 L 501.00,198.90 L 501.00,200.60" fill="none" stroke="#2a2a2a" stroke-width="0.75" stroke-linejoin="round"/><circle cx="495.9" cy="196.0" r="0.92" fill="#262626"/><rect x="385.20" y="281.80" width="4.20" height="3.90" fill="#1f4a7a"/><text x="392.50" y="285.70" font-size="7.04" fill="#2c2c2c" textLength="19.40" lengthAdjust="spacingAndGlyphs" stroke="#2c2c2c" stroke-width="0.06">Control</text><rect x="385.20" y="290.60" width="4.20" height="3.90" fill="#1e6448"/><text x="392.50" y="294.50" font-size="7.04" fill="#2c2c2c" textLength="73.20" lengthAdjust="spacingAndGlyphs" stroke="#2c2c2c" stroke-width="0.06">Tet2 KO normally expanded</text><rect x="385.20" y="299.50" width="4.20" height="3.90" fill="#4e1e5e"/><text x="392.50" y="303.40" font-size="7.04" fill="#2c2c2c" textLength="60.50" lengthAdjust="spacingAndGlyphs" stroke="#2c2c2c" stroke-width="0.06">Tet2 KO overexpanded</text><text x="302.70" y="346.60" font-size="10.50" fill="#111" font-weight="bold">G</text><text x="421.40" y="348.40" font-size="8.80" text-anchor="middle" fill="#2c2c2c" textLength="78.00" lengthAdjust="spacingAndGlyphs" stroke="#2c2c2c" stroke-width="0.06">Myeloid-biased MPP3</text><line x1="330.40" y1="354.60" x2="330.40" y2="454.50" stroke="#222" stroke-width="0.8"/><line x1="330.00" y1="454.50" x2="514.00" y2="454.50" stroke="#222" stroke-width="0.8"/><line x1="328.20" y1="452.00" x2="330.40" y2="452.00" stroke="#222" stroke-width="0.7"/><text x="323.30" y="454.45" font-size="7.70" text-anchor="middle" fill="#2c2c2c" stroke="#2c2c2c" stroke-width="0.06">0</text><line x1="328.20" y1="437.00" x2="330.40" y2="437.00" stroke="#222" stroke-width="0.7"/><text x="323.30" y="439.45" font-size="7.70" text-anchor="middle" fill="#2c2c2c" stroke="#2c2c2c" stroke-width="0.06">1</text><line x1="328.20" y1="422.00" x2="330.40" y2="422.00" stroke="#222" stroke-width="0.7"/><text x="323.30" y="424.45" font-size="7.70" text-anchor="middle" fill="#2c2c2c" stroke="#2c2c2c" stroke-width="0.06">2</text><line x1="328.20" y1="407.00" x2="330.40" y2="407.00" stroke="#222" stroke-width="0.7"/><text x="323.30" y="409.45" font-size="7.70" text-anchor="middle" fill="#2c2c2c" stroke="#2c2c2c" stroke-width="0.06">3</text><line x1="328.20" y1="392.00" x2="330.40" y2="392.00" stroke="#222" stroke-width="0.7"/><text x="323.30" y="394.45" font-size="7.70" text-anchor="middle" fill="#2c2c2c" stroke="#2c2c2c" stroke-width="0.06">4</text><line x1="328.20" y1="377.00" x2="330.40" y2="377.00" stroke="#222" stroke-width="0.7"/><text x="323.30" y="379.45" font-size="7.70" text-anchor="middle" fill="#2c2c2c" stroke="#2c2c2c" stroke-width="0.06">5</text><line x1="328.20" y1="362.00" x2="330.40" y2="362.00" stroke="#222" stroke-width="0.7"/><text x="323.30" y="364.45" font-size="7.70" text-anchor="middle" fill="#2c2c2c" stroke="#2c2c2c" stroke-width="0.06">6</text><text x="313.20" y="407.39" font-size="8.14" text-anchor="middle" fill="#2c2c2c" textLength="45.00" lengthAdjust="spacingAndGlyphs" transform="rotate(-90 313.20 404.80)" stroke="#2c2c2c" stroke-width="0.06">Gene expression</text><line x1="349.50" y1="454.50" x2="349.50" y2="456.50" stroke="#222" stroke-width="0.7"/><text x="349.50" y="466.40" font-size="6.60" text-anchor="middle" fill="#2c2c2c" textLength="19.50" lengthAdjust="spacingAndGlyphs" stroke="#2c2c2c" stroke-width="0.06">Uba52</text><line x1="378.80" y1="454.50" x2="378.80" y2="456.50" stroke="#222" stroke-width="0.7"/><text x="378.80" y="466.40" font-size="6.60" text-anchor="middle" fill="#2c2c2c" textLength="9.20" lengthAdjust="spacingAndGlyphs" stroke="#2c2c2c" stroke-width="0.06">Erh</text><line x1="407.50" y1="454.50" x2="407.50" y2="456.50" stroke="#222" stroke-width="0.7"/><text x="407.50" y="466.40" font-size="6.60" text-anchor="middle" fill="#2c2c2c" textLength="17.50" lengthAdjust="spacingAndGlyphs" stroke="#2c2c2c" stroke-width="0.06">Hspa8</text><line x1="436.40" y1="454.50" x2="436.40" y2="456.50" stroke="#222" stroke-width="0.7"/><text x="436.40" y="466.40" font-size="6.60" text-anchor="middle" fill="#2c2c2c" textLength="11.00" lengthAdjust="spacingAndGlyphs" stroke="#2c2c2c" stroke-width="0.06">Jun</text><line x1="465.10" y1="454.50" x2="465.10" y2="456.50" stroke="#222" stroke-width="0.7"/><text x="465.10" y="466.40" font-size="6.60" text-anchor="middle" fill="#2c2c2c" textLength="13.00" lengthAdjust="spacingAndGlyphs" stroke="#2c2c2c" stroke-width="0.06">Fut8</text><line x1="494.00" y1="454.50" x2="494.00" y2="456.50" stroke="#222" stroke-width="0.7"/><text x="494.00" y="466.40" font-size="6.60" text-anchor="middle" fill="#2c2c2c" textLength="11.00" lengthAdjust="spacingAndGlyphs" stroke="#2c2c2c" stroke-width="0.06">Fos</text><path d="M 342.10,452.00 L 342.11,450.99 L 342.11,449.56 L 342.12,447.88 L 342.13,446.11 L 342.16,444.43 L 342.20,443.00 L 342.25,441.84 L 342.29,440.83 L 342.34,439.91 L 342.42,439.00 L 342.54,438.05 L 342.70,437.00 L 342.94,435.84 L 343.24,434.61 L 343.58,433.34 L 343.93,432.06 L 344.24,430.77 L 344.50,429.50 L 344.71,428.25 L 344.89,427.00 L 345.05,425.75 L 345.17,424.50 L 345.26,423.25 L 345.30,422.00 L 345.29,420.73 L 345.23,419.44 L 345.14,418.16 L 345.01,416.89 L 344.86,415.66 L 344.70,414.50 L 344.51,413.40 L 344.29,412.33 L 344.04,411.31 L 343.78,410.33 L 343.53,409.40 L 343.30,408.50 L 343.07,407.61 L 342.84,406.72 L 342.61,405.88 L 342.40,405.11 L 342.23,404.47 L 342.10,404.00 L 341.70,404.00 L 341.57,404.47 L 341.40,405.11 L 341.19,405.88 L 340.96,406.72 L 340.73,407.61 L 340.50,408.50 L 340.27,409.40 L 340.02,410.33 L 339.76,411.31 L 339.51,412.33 L 339.29,413.40 L 339.10,414.50 L 338.94,415.66 L 338.79,416.89 L 338.66,418.16 L 338.57,419.44 L 338.51,420.73 L 338.50,422.00 L 338.54,423.25 L 338.63,424.50 L 338.75,425.75 L 338.91,427.00 L 339.09,428.25 L 339.30,429.50 L 339.56,430.77 L 339.87,432.06 L 340.22,433.34 L 340.56,434.61 L 340.86,435.84 L 341.10,437.00 L 341.26,438.05 L 341.38,439.00 L 341.46,439.91 L 341.51,440.83 L 341.55,441.84 L 341.60,443.00 L 341.64,444.43 L 341.67,446.11 L 341.68,447.88 L 341.69,449.56 L 341.69,450.99 L 341.70,452.00 Z" fill="#7a82b4" stroke="#111" stroke-width="0.7" stroke-linejoin="round"/><line x1="341.90" y1="452.00" x2="341.90" y2="404.00" stroke="#111" stroke-width="0.6"/><rect x="341.00" y="416.00" width="1.80" height="13.50" fill="#111"/><circle cx="341.9" cy="422.8" r="0.75" fill="#fff"/><path d="M 349.70,452.00 L 349.70,450.66 L 349.70,448.78 L 349.69,446.56 L 349.70,444.22 L 349.74,441.97 L 349.80,440.00 L 349.89,438.33 L 350.01,436.78 L 350.14,435.31 L 350.30,433.89 L 350.49,432.47 L 350.70,431.00 L 350.96,429.47 L 351.28,427.89 L 351.62,426.31 L 351.96,424.78 L 352.26,423.33 L 352.50,422.00 L 352.67,420.84 L 352.81,419.83 L 352.92,418.91 L 352.99,418.00 L 353.01,417.05 L 353.00,416.00 L 352.94,414.85 L 352.83,413.67 L 352.68,412.44 L 352.50,411.17 L 352.31,409.85 L 352.10,408.50 L 351.86,407.09 L 351.59,405.61 L 351.29,404.09 L 351.00,402.56 L 350.73,401.02 L 350.50,399.50 L 350.31,397.90 L 350.14,396.17 L 350.00,394.44 L 349.88,392.83 L 349.78,391.48 L 349.70,390.50 L 349.30,390.50 L 349.22,391.48 L 349.12,392.83 L 349.00,394.44 L 348.86,396.17 L 348.69,397.90 L 348.50,399.50 L 348.27,401.02 L 348.00,402.56 L 347.71,404.09 L 347.41,405.61 L 347.14,407.09 L 346.90,408.50 L 346.69,409.85 L 346.50,411.17 L 346.32,412.44 L 346.17,413.67 L 346.06,414.85 L 346.00,416.00 L 345.99,417.05 L 346.01,418.00 L 346.08,418.91 L 346.19,419.83 L 346.33,420.84 L 346.50,422.00 L 346.74,423.33 L 347.04,424.78 L 347.38,426.31 L 347.72,427.89 L 348.04,429.47 L 348.30,431.00 L 348.51,432.47 L 348.70,433.89 L 348.86,435.31 L 348.99,436.78 L 349.11,438.33 L 349.20,440.00 L 349.26,441.97 L 349.30,444.22 L 349.31,446.56 L 349.30,448.78 L 349.30,450.66 L 349.30,452.00 Z" fill="#2a5e4a" stroke="#111" stroke-width="0.7" stroke-linejoin="round"/><line x1="349.50" y1="452.00" x2="349.50" y2="390.50" stroke="#111" stroke-width="0.6"/><rect x="348.60" y="408.50" width="1.80" height="16.50" fill="#111"/><circle cx="349.5" cy="416.0" r="0.75" fill="#fff"/><path d="M 357.60,452.00 L 357.61,451.17 L 357.62,450.00 L 357.64,448.62 L 357.67,447.17 L 357.72,445.75 L 357.80,444.50 L 357.91,443.41 L 358.05,442.39 L 358.21,441.41 L 358.39,440.44 L 358.59,439.48 L 358.80,438.50 L 359.05,437.50 L 359.34,436.50 L 359.64,435.50 L 359.94,434.50 L 360.20,433.50 L 360.40,432.50 L 360.54,431.52 L 360.64,430.56 L 360.71,429.59 L 360.74,428.61 L 360.73,427.59 L 360.70,426.50 L 360.62,425.35 L 360.50,424.17 L 360.34,422.94 L 360.17,421.67 L 359.98,420.35 L 359.80,419.00 L 359.62,417.57 L 359.41,416.06 L 359.21,414.50 L 359.00,412.94 L 358.79,411.43 L 358.60,410.00 L 358.41,408.58 L 358.21,407.11 L 358.02,405.69 L 357.85,404.39 L 357.71,403.30 L 357.60,402.50 L 357.20,402.50 L 357.09,403.30 L 356.95,404.39 L 356.77,405.69 L 356.59,407.11 L 356.39,408.58 L 356.20,410.00 L 356.01,411.43 L 355.80,412.94 L 355.59,414.50 L 355.39,416.06 L 355.18,417.57 L 355.00,419.00 L 354.82,420.35 L 354.63,421.67 L 354.46,422.94 L 354.30,424.17 L 354.18,425.35 L 354.10,426.50 L 354.07,427.59 L 354.06,428.61 L 354.09,429.59 L 354.16,430.56 L 354.26,431.52 L 354.40,432.50 L 354.60,433.50 L 354.86,434.50 L 355.16,435.50 L 355.46,436.50 L 355.75,437.50 L 356.00,438.50 L 356.21,439.48 L 356.41,440.44 L 356.59,441.41 L 356.75,442.39 L 356.89,443.41 L 357.00,444.50 L 357.08,445.75 L 357.13,447.17 L 357.16,448.62 L 357.18,450.00 L 357.19,451.17 L 357.20,452.00 Z" fill="#a088b2" stroke="#111" stroke-width="0.7" stroke-linejoin="round"/><line x1="357.40" y1="452.00" x2="357.40" y2="402.50" stroke="#111" stroke-width="0.6"/><rect x="356.50" y="420.50" width="1.80" height="15.00" fill="#111"/><circle cx="357.4" cy="428.8" r="0.75" fill="#fff"/><path d="M 373.00,452.00 L 373.08,451.85 L 373.19,451.67 L 373.32,451.44 L 373.45,451.17 L 373.55,450.85 L 373.60,450.50 L 373.60,450.09 L 373.56,449.61 L 373.50,449.09 L 373.41,448.56 L 373.31,448.02 L 373.20,447.50 L 373.05,447.00 L 372.86,446.50 L 372.65,446.00 L 372.45,445.50 L 372.29,445.00 L 372.20,444.50 L 372.19,444.00 L 372.26,443.50 L 372.36,443.00 L 372.47,442.50 L 372.56,442.00 L 372.60,441.50 L 372.58,441.02 L 372.54,440.56 L 372.48,440.09 L 372.39,439.61 L 372.30,439.09 L 372.20,438.50 L 372.09,437.91 L 371.95,437.33 L 371.80,436.72 L 371.66,436.00 L 371.52,435.11 L 371.40,434.00 L 371.30,432.48 L 371.21,430.56 L 371.12,428.47 L 371.05,426.44 L 370.99,424.71 L 370.95,423.50 L 370.65,423.50 L 370.61,424.71 L 370.55,426.44 L 370.48,428.47 L 370.39,430.56 L 370.30,432.48 L 370.20,434.00 L 370.08,435.11 L 369.94,436.00 L 369.80,436.72 L 369.65,437.33 L 369.51,437.91 L 369.40,438.50 L 369.30,439.09 L 369.21,439.61 L 369.12,440.09 L 369.06,440.56 L 369.02,441.02 L 369.00,441.50 L 369.04,442.00 L 369.13,442.50 L 369.24,443.00 L 369.34,443.50 L 369.41,444.00 L 369.40,444.50 L 369.31,445.00 L 369.15,445.50 L 368.95,446.00 L 368.74,446.50 L 368.55,447.00 L 368.40,447.50 L 368.29,448.02 L 368.19,448.56 L 368.10,449.09 L 368.04,449.61 L 368.00,450.09 L 368.00,450.50 L 368.05,450.85 L 368.15,451.17 L 368.28,451.44 L 368.41,451.67 L 368.52,451.85 L 368.60,452.00 Z" fill="#1a1a26" stroke="#111" stroke-width="0.7" stroke-linejoin="round"/><circle cx="370.8" cy="442.2" r="0.75" fill="#fff"/><path d="M 381.00,452.00 L 381.08,451.85 L 381.19,451.67 L 381.32,451.44 L 381.45,451.17 L 381.55,450.85 L 381.60,450.50 L 381.60,450.09 L 381.57,449.61 L 381.51,449.09 L 381.42,448.56 L 381.32,448.02 L 381.20,447.50 L 381.04,447.00 L 380.83,446.50 L 380.61,446.00 L 380.39,445.50 L 380.21,445.00 L 380.10,444.50 L 380.08,444.00 L 380.12,443.50 L 380.21,443.00 L 380.30,442.50 L 380.37,442.00 L 380.40,441.50 L 380.38,441.02 L 380.33,440.56 L 380.26,440.09 L 380.18,439.61 L 380.09,439.09 L 380.00,438.50 L 379.90,437.90 L 379.78,437.31 L 379.65,436.67 L 379.52,435.94 L 379.40,435.07 L 379.30,434.00 L 379.22,432.57 L 379.14,430.78 L 379.08,428.84 L 379.03,426.97 L 378.98,425.37 L 378.95,424.25 L 378.65,424.25 L 378.62,425.37 L 378.57,426.97 L 378.52,428.84 L 378.46,430.78 L 378.38,432.57 L 378.30,434.00 L 378.20,435.07 L 378.08,435.94 L 377.95,436.67 L 377.82,437.31 L 377.70,437.90 L 377.60,438.50 L 377.51,439.09 L 377.42,439.61 L 377.34,440.09 L 377.27,440.56 L 377.22,441.02 L 377.20,441.50 L 377.23,442.00 L 377.30,442.50 L 377.39,443.00 L 377.48,443.50 L 377.52,444.00 L 377.50,444.50 L 377.39,445.00 L 377.21,445.50 L 376.99,446.00 L 376.77,446.50 L 376.56,447.00 L 376.40,447.50 L 376.28,448.02 L 376.18,448.56 L 376.09,449.09 L 376.03,449.61 L 376.00,450.09 L 376.00,450.50 L 376.05,450.85 L 376.15,451.17 L 376.28,451.44 L 376.41,451.67 L 376.52,451.85 L 376.60,452.00 Z" fill="#111" stroke="#111" stroke-width="0.7" stroke-linejoin="round"/><circle cx="378.8" cy="442.2" r="0.75" fill="#fff"/><path d="M 389.50,452.00 L 389.49,451.85 L 389.49,451.64 L 389.47,451.39 L 389.45,451.11 L 389.39,450.81 L 389.30,450.50 L 389.15,450.19 L 388.95,449.86 L 388.73,449.52 L 388.49,449.14 L 388.28,448.72 L 388.10,448.25 L 387.96,447.72 L 387.84,447.14 L 387.74,446.52 L 387.65,445.86 L 387.57,445.19 L 387.50,444.50 L 387.44,443.81 L 387.41,443.11 L 387.38,442.39 L 387.36,441.64 L 387.33,440.85 L 387.30,440.00 L 387.26,439.24 L 387.21,438.61 L 387.16,437.94 L 387.11,437.06 L 387.05,435.80 L 387.00,434.00 L 386.94,431.31 L 386.87,427.78 L 386.81,423.88 L 386.74,420.06 L 386.69,416.78 L 386.65,414.50 L 386.35,414.50 L 386.31,416.78 L 386.26,420.06 L 386.19,423.88 L 386.13,427.78 L 386.06,431.31 L 386.00,434.00 L 385.95,435.80 L 385.89,437.06 L 385.84,437.94 L 385.79,438.61 L 385.74,439.24 L 385.70,440.00 L 385.67,440.85 L 385.64,441.64 L 385.62,442.39 L 385.59,443.11 L 385.56,443.81 L 385.50,444.50 L 385.43,445.19 L 385.35,445.86 L 385.26,446.52 L 385.16,447.14 L 385.04,447.72 L 384.90,448.25 L 384.72,448.72 L 384.51,449.14 L 384.27,449.52 L 384.05,449.86 L 383.85,450.19 L 383.70,450.50 L 383.61,450.81 L 383.55,451.11 L 383.53,451.39 L 383.51,451.64 L 383.51,451.85 L 383.50,452.00 Z" fill="#222" stroke="#111" stroke-width="0.7" stroke-linejoin="round"/><circle cx="386.5" cy="451.2" r="0.9" fill="#fff"/><path d="M 399.55,438.50 L 399.56,436.60 L 399.57,433.89 L 399.59,430.72 L 399.62,427.44 L 399.69,424.42 L 399.80,422.00 L 399.96,420.23 L 400.17,418.83 L 400.42,417.69 L 400.68,416.67 L 400.94,415.65 L 401.20,414.50 L 401.48,413.23 L 401.79,411.94 L 402.11,410.66 L 402.40,409.39 L 402.64,408.16 L 402.80,407.00 L 402.87,405.91 L 402.88,404.89 L 402.83,403.91 L 402.74,402.94 L 402.63,401.98 L 402.50,401.00 L 402.34,399.97 L 402.14,398.89 L 401.92,397.81 L 401.68,396.78 L 401.43,395.83 L 401.20,395.00 L 400.96,394.29 L 400.69,393.67 L 400.42,393.12 L 400.17,392.67 L 399.95,392.29 L 399.80,392.00 L 399.00,392.00 L 398.85,392.29 L 398.63,392.67 L 398.38,393.12 L 398.11,393.67 L 397.84,394.29 L 397.60,395.00 L 397.37,395.83 L 397.12,396.78 L 396.88,397.81 L 396.66,398.89 L 396.46,399.97 L 396.30,401.00 L 396.17,401.98 L 396.06,402.94 L 395.97,403.91 L 395.92,404.89 L 395.93,405.91 L 396.00,407.00 L 396.16,408.16 L 396.40,409.39 L 396.69,410.66 L 397.01,411.94 L 397.32,413.23 L 397.60,414.50 L 397.86,415.65 L 398.12,416.67 L 398.38,417.69 L 398.63,418.83 L 398.84,420.23 L 399.00,422.00 L 399.11,424.42 L 399.18,427.44 L 399.21,430.72 L 399.23,433.89 L 399.24,436.60 L 399.25,438.50 Z" fill="#7a82b4" stroke="#111" stroke-width="0.7" stroke-linejoin="round"/><line x1="399.40" y1="438.50" x2="399.40" y2="392.00" stroke="#111" stroke-width="0.6"/><rect x="398.50" y="401.00" width="1.80" height="10.50" fill="#111"/><circle cx="399.4" cy="406.2" r="0.75" fill="#fff"/><path d="M 407.65,452.00 L 407.65,449.45 L 407.65,445.83 L 407.64,441.59 L 407.66,437.17 L 407.71,432.99 L 407.80,429.50 L 407.95,426.66 L 408.13,424.11 L 408.35,421.81 L 408.59,419.72 L 408.85,417.80 L 409.10,416.00 L 409.38,414.40 L 409.70,413.06 L 410.04,411.88 L 410.35,410.78 L 410.62,409.68 L 410.80,408.50 L 410.90,407.25 L 410.96,406.00 L 410.96,404.75 L 410.91,403.50 L 410.82,402.25 L 410.70,401.00 L 410.52,399.72 L 410.27,398.39 L 409.97,397.06 L 409.67,395.78 L 409.37,394.58 L 409.10,393.50 L 408.85,392.52 L 408.60,391.61 L 408.35,390.78 L 408.13,390.06 L 407.94,389.45 L 407.80,389.00 L 407.20,389.00 L 407.06,389.45 L 406.87,390.06 L 406.65,390.78 L 406.40,391.61 L 406.15,392.52 L 405.90,393.50 L 405.63,394.58 L 405.33,395.78 L 405.03,397.06 L 404.73,398.39 L 404.48,399.72 L 404.30,401.00 L 404.18,402.25 L 404.09,403.50 L 404.04,404.75 L 404.04,406.00 L 404.10,407.25 L 404.20,408.50 L 404.38,409.68 L 404.65,410.78 L 404.96,411.88 L 405.30,413.06 L 405.62,414.40 L 405.90,416.00 L 406.15,417.80 L 406.41,419.72 L 406.65,421.81 L 406.87,424.11 L 407.05,426.66 L 407.20,429.50 L 407.29,432.99 L 407.34,437.17 L 407.36,441.59 L 407.35,445.83 L 407.35,449.45 L 407.35,452.00 Z" fill="#2a5e4a" stroke="#111" stroke-width="0.7" stroke-linejoin="round"/><line x1="407.50" y1="452.00" x2="407.50" y2="389.00" stroke="#111" stroke-width="0.6"/><rect x="406.60" y="401.00" width="1.80" height="12.00" fill="#111"/><circle cx="407.5" cy="407.0" r="0.75" fill="#fff"/><path d="M 415.55,452.00 L 415.55,449.47 L 415.54,445.89 L 415.53,441.69 L 415.54,437.28 L 415.60,433.08 L 415.70,429.50 L 415.87,426.48 L 416.10,423.67 L 416.37,421.06 L 416.65,418.67 L 416.93,416.48 L 417.20,414.50 L 417.47,412.82 L 417.75,411.44 L 418.04,410.28 L 418.30,409.22 L 418.53,408.16 L 418.70,407.00 L 418.82,405.73 L 418.89,404.44 L 418.93,403.16 L 418.93,401.89 L 418.89,400.66 L 418.80,399.50 L 418.66,398.40 L 418.45,397.33 L 418.21,396.31 L 417.94,395.33 L 417.66,394.40 L 417.40,393.50 L 417.13,392.61 L 416.82,391.72 L 416.51,390.88 L 416.22,390.11 L 415.98,389.47 L 415.80,389.00 L 415.00,389.00 L 414.82,389.47 L 414.58,390.11 L 414.29,390.88 L 413.98,391.72 L 413.67,392.61 L 413.40,393.50 L 413.14,394.40 L 412.86,395.33 L 412.59,396.31 L 412.35,397.33 L 412.14,398.40 L 412.00,399.50 L 411.91,400.66 L 411.87,401.89 L 411.87,403.16 L 411.91,404.44 L 411.98,405.73 L 412.10,407.00 L 412.27,408.16 L 412.50,409.22 L 412.76,410.28 L 413.05,411.44 L 413.33,412.82 L 413.60,414.50 L 413.87,416.48 L 414.15,418.67 L 414.43,421.06 L 414.70,423.67 L 414.93,426.48 L 415.10,429.50 L 415.20,433.08 L 415.26,437.28 L 415.27,441.69 L 415.26,445.89 L 415.25,449.47 L 415.25,452.00 Z" fill="#a088b2" stroke="#111" stroke-width="0.7" stroke-linejoin="round"/><line x1="415.40" y1="452.00" x2="415.40" y2="389.00" stroke="#111" stroke-width="0.6"/><rect x="414.50" y="398.00" width="1.80" height="12.00" fill="#111"/><circle cx="415.4" cy="403.2" r="0.75" fill="#fff"/><path d="M 430.50,452.00 L 430.45,451.71 L 430.37,451.33 L 430.29,450.88 L 430.20,450.33 L 430.14,449.71 L 430.10,449.00 L 430.09,448.21 L 430.10,447.33 L 430.12,446.38 L 430.17,445.33 L 430.22,444.21 L 430.30,443.00 L 430.40,441.67 L 430.53,440.22 L 430.67,438.69 L 430.83,437.11 L 430.97,435.53 L 431.10,434.00 L 431.22,432.50 L 431.34,431.00 L 431.45,429.50 L 431.55,428.00 L 431.64,426.50 L 431.70,425.00 L 431.75,423.50 L 431.78,422.00 L 431.80,420.50 L 431.80,419.00 L 431.76,417.50 L 431.70,416.00 L 431.59,414.48 L 431.44,412.94 L 431.27,411.41 L 431.08,409.89 L 430.88,408.41 L 430.70,407.00 L 430.52,405.65 L 430.33,404.33 L 430.13,403.06 L 429.94,401.83 L 429.76,400.65 L 429.60,399.50 L 429.45,398.34 L 429.31,397.17 L 429.18,396.03 L 429.07,395.00 L 428.97,394.14 L 428.90,393.50 L 428.50,393.50 L 428.43,394.14 L 428.33,395.00 L 428.22,396.03 L 428.09,397.17 L 427.95,398.34 L 427.80,399.50 L 427.64,400.65 L 427.46,401.83 L 427.27,403.06 L 427.07,404.33 L 426.88,405.65 L 426.70,407.00 L 426.52,408.41 L 426.32,409.89 L 426.13,411.41 L 425.96,412.94 L 425.81,414.48 L 425.70,416.00 L 425.64,417.50 L 425.60,419.00 L 425.60,420.50 L 425.62,422.00 L 425.65,423.50 L 425.70,425.00 L 425.76,426.50 L 425.85,428.00 L 425.95,429.50 L 426.06,431.00 L 426.18,432.50 L 426.30,434.00 L 426.43,435.53 L 426.57,437.11 L 426.73,438.69 L 426.87,440.22 L 427.00,441.67 L 427.10,443.00 L 427.18,444.21 L 427.23,445.33 L 427.28,446.38 L 427.30,447.33 L 427.31,448.21 L 427.30,449.00 L 427.26,449.71 L 427.20,450.33 L 427.11,450.88 L 427.03,451.33 L 426.95,451.71 L 426.90,452.00 Z" fill="#7a82b4" stroke="#111" stroke-width="0.7" stroke-linejoin="round"/><rect x="427.60" y="416.00" width="2.20" height="24.00" fill="#111"/><circle cx="428.7" cy="427.4" r="0.75" fill="#fff"/><path d="M 438.40,452.00 L 438.34,451.71 L 438.25,451.33 L 438.14,450.88 L 438.04,450.33 L 437.95,449.71 L 437.90,449.00 L 437.87,448.21 L 437.86,447.33 L 437.86,446.38 L 437.88,445.33 L 437.92,444.21 L 438.00,443.00 L 438.12,441.67 L 438.29,440.22 L 438.48,438.69 L 438.68,437.11 L 438.86,435.53 L 439.00,434.00 L 439.11,432.50 L 439.20,431.00 L 439.28,429.50 L 439.34,428.00 L 439.38,426.50 L 439.40,425.00 L 439.40,423.50 L 439.38,422.00 L 439.34,420.50 L 439.29,419.00 L 439.20,417.50 L 439.10,416.00 L 438.97,414.55 L 438.80,413.17 L 438.62,411.78 L 438.42,410.33 L 438.21,408.76 L 438.00,407.00 L 437.77,404.85 L 437.50,402.33 L 437.23,399.69 L 436.97,397.17 L 436.76,395.02 L 436.60,393.50 L 436.20,393.50 L 436.04,395.02 L 435.83,397.17 L 435.57,399.69 L 435.30,402.33 L 435.03,404.85 L 434.80,407.00 L 434.59,408.76 L 434.38,410.33 L 434.18,411.78 L 434.00,413.17 L 433.83,414.55 L 433.70,416.00 L 433.60,417.50 L 433.51,419.00 L 433.46,420.50 L 433.42,422.00 L 433.40,423.50 L 433.40,425.00 L 433.42,426.50 L 433.46,428.00 L 433.52,429.50 L 433.60,431.00 L 433.69,432.50 L 433.80,434.00 L 433.94,435.53 L 434.12,437.11 L 434.32,438.69 L 434.51,440.22 L 434.68,441.67 L 434.80,443.00 L 434.88,444.21 L 434.92,445.33 L 434.94,446.38 L 434.94,447.33 L 434.93,448.21 L 434.90,449.00 L 434.85,449.71 L 434.76,450.33 L 434.66,450.88 L 434.55,451.33 L 434.46,451.71 L 434.40,452.00 Z" fill="#2a5e4a" stroke="#111" stroke-width="0.7" stroke-linejoin="round"/><rect x="435.30" y="417.50" width="2.20" height="27.00" fill="#111"/><circle cx="436.4" cy="427.4" r="0.75" fill="#fff"/><path d="M 446.10,452.00 L 446.06,451.71 L 446.00,451.33 L 445.93,450.88 L 445.87,450.33 L 445.82,449.71 L 445.80,449.00 L 445.81,448.21 L 445.84,447.33 L 445.88,446.38 L 445.94,445.33 L 446.01,444.21 L 446.10,443.00 L 446.21,441.67 L 446.34,440.22 L 446.48,438.69 L 446.63,437.11 L 446.77,435.53 L 446.90,434.00 L 447.02,432.50 L 447.14,431.00 L 447.25,429.50 L 447.35,428.00 L 447.44,426.50 L 447.50,425.00 L 447.55,423.50 L 447.58,422.00 L 447.60,420.50 L 447.60,419.00 L 447.56,417.50 L 447.50,416.00 L 447.39,414.50 L 447.25,413.00 L 447.07,411.50 L 446.89,410.00 L 446.69,408.50 L 446.50,407.00 L 446.31,405.52 L 446.10,404.06 L 445.89,402.59 L 445.68,401.11 L 445.48,399.59 L 445.30,398.00 L 445.13,396.22 L 444.97,394.22 L 444.83,392.19 L 444.69,390.28 L 444.58,388.66 L 444.50,387.50 L 444.10,387.50 L 444.02,388.66 L 443.91,390.28 L 443.77,392.19 L 443.63,394.22 L 443.47,396.22 L 443.30,398.00 L 443.12,399.59 L 442.92,401.11 L 442.71,402.59 L 442.50,404.06 L 442.29,405.52 L 442.10,407.00 L 441.91,408.50 L 441.71,410.00 L 441.53,411.50 L 441.35,413.00 L 441.21,414.50 L 441.10,416.00 L 441.04,417.50 L 441.00,419.00 L 441.00,420.50 L 441.02,422.00 L 441.05,423.50 L 441.10,425.00 L 441.16,426.50 L 441.25,428.00 L 441.35,429.50 L 441.46,431.00 L 441.58,432.50 L 441.70,434.00 L 441.83,435.53 L 441.97,437.11 L 442.12,438.69 L 442.26,440.22 L 442.39,441.67 L 442.50,443.00 L 442.59,444.21 L 442.66,445.33 L 442.72,446.38 L 442.76,447.33 L 442.79,448.21 L 442.80,449.00 L 442.78,449.71 L 442.73,450.33 L 442.67,450.88 L 442.60,451.33 L 442.54,451.71 L 442.50,452.00 Z" fill="#a088b2" stroke="#111" stroke-width="0.7" stroke-linejoin="round"/><rect x="443.20" y="411.50" width="2.20" height="22.50" fill="#111"/><circle cx="444.3" cy="422.8" r="0.75" fill="#fff"/><path d="M 459.80,452.00 L 459.86,451.69 L 459.96,451.28 L 460.06,450.78 L 460.16,450.22 L 460.21,449.62 L 460.20,449.00 L 460.10,448.34 L 459.91,447.61 L 459.69,446.84 L 459.47,446.06 L 459.29,445.27 L 459.20,444.50 L 459.21,443.77 L 459.30,443.06 L 459.44,442.34 L 459.59,441.61 L 459.72,440.84 L 459.80,440.00 L 459.85,439.09 L 459.89,438.11 L 459.91,437.09 L 459.91,436.06 L 459.88,435.02 L 459.80,434.00 L 459.67,433.00 L 459.49,432.00 L 459.27,431.00 L 459.04,430.00 L 458.81,429.00 L 458.60,428.00 L 458.39,426.93 L 458.16,425.78 L 457.93,424.62 L 457.71,423.56 L 457.53,422.65 L 457.40,422.00 L 456.60,422.00 L 456.47,422.65 L 456.29,423.56 L 456.07,424.62 L 455.84,425.78 L 455.61,426.93 L 455.40,428.00 L 455.19,429.00 L 454.96,430.00 L 454.73,431.00 L 454.51,432.00 L 454.33,433.00 L 454.20,434.00 L 454.12,435.02 L 454.09,436.06 L 454.09,437.09 L 454.11,438.11 L 454.15,439.09 L 454.20,440.00 L 454.28,440.84 L 454.41,441.61 L 454.56,442.34 L 454.70,443.06 L 454.79,443.77 L 454.80,444.50 L 454.71,445.27 L 454.53,446.06 L 454.31,446.84 L 454.09,447.61 L 453.90,448.34 L 453.80,449.00 L 453.79,449.62 L 453.84,450.22 L 453.94,450.78 L 454.04,451.28 L 454.14,451.69 L 454.20,452.00 Z" fill="#7a82b4" stroke="#111" stroke-width="0.7" stroke-linejoin="round"/><rect x="456.00" y="432.50" width="2.00" height="15.00" fill="#111"/><circle cx="457.0" cy="439.2" r="0.75" fill="#fff"/><path d="M 467.90,452.00 L 467.96,451.69 L 468.06,451.28 L 468.16,450.78 L 468.26,450.22 L 468.31,449.62 L 468.30,449.00 L 468.20,448.35 L 468.02,447.67 L 467.80,446.94 L 467.58,446.17 L 467.40,445.35 L 467.30,444.50 L 467.30,443.60 L 467.37,442.67 L 467.48,441.69 L 467.59,440.67 L 467.68,439.60 L 467.70,438.50 L 467.67,437.35 L 467.60,436.17 L 467.51,434.94 L 467.40,433.67 L 467.26,432.35 L 467.10,431.00 L 466.90,429.59 L 466.66,428.11 L 466.39,426.59 L 466.12,425.06 L 465.88,423.52 L 465.70,422.00 L 465.57,420.40 L 465.48,418.67 L 465.41,416.94 L 465.37,415.33 L 465.33,413.98 L 465.30,413.00 L 464.90,413.00 L 464.87,413.98 L 464.83,415.33 L 464.79,416.94 L 464.72,418.67 L 464.63,420.40 L 464.50,422.00 L 464.32,423.52 L 464.08,425.06 L 463.81,426.59 L 463.54,428.11 L 463.30,429.59 L 463.10,431.00 L 462.94,432.35 L 462.80,433.67 L 462.69,434.94 L 462.60,436.17 L 462.53,437.35 L 462.50,438.50 L 462.53,439.60 L 462.61,440.67 L 462.72,441.69 L 462.83,442.67 L 462.90,443.60 L 462.90,444.50 L 462.80,445.35 L 462.62,446.17 L 462.40,446.94 L 462.18,447.67 L 462.00,448.35 L 461.90,449.00 L 461.89,449.62 L 461.94,450.22 L 462.04,450.78 L 462.14,451.28 L 462.24,451.69 L 462.30,452.00 Z" fill="#2a5e4a" stroke="#111" stroke-width="0.7" stroke-linejoin="round"/><rect x="464.10" y="432.50" width="2.00" height="15.00" fill="#111"/><circle cx="465.1" cy="439.2" r="0.75" fill="#fff"/><path d="M 475.90,452.00 L 475.96,451.69 L 476.06,451.28 L 476.16,450.78 L 476.26,450.22 L 476.31,449.62 L 476.30,449.00 L 476.19,448.35 L 476.00,447.67 L 475.77,446.94 L 475.55,446.17 L 475.38,445.35 L 475.30,444.50 L 475.34,443.59 L 475.46,442.61 L 475.64,441.59 L 475.83,440.56 L 475.99,439.52 L 476.10,438.50 L 476.16,437.52 L 476.20,436.56 L 476.23,435.59 L 476.22,434.61 L 476.18,433.59 L 476.10,432.50 L 475.97,431.34 L 475.79,430.11 L 475.57,428.84 L 475.34,427.56 L 475.11,426.27 L 474.90,425.00 L 474.70,423.75 L 474.50,422.50 L 474.31,421.25 L 474.12,420.00 L 473.95,418.75 L 473.80,417.50 L 473.68,416.16 L 473.57,414.72 L 473.48,413.28 L 473.41,411.94 L 473.35,410.82 L 473.30,410.00 L 472.90,410.00 L 472.85,410.82 L 472.79,411.94 L 472.72,413.28 L 472.63,414.72 L 472.52,416.16 L 472.40,417.50 L 472.25,418.75 L 472.08,420.00 L 471.89,421.25 L 471.70,422.50 L 471.50,423.75 L 471.30,425.00 L 471.09,426.27 L 470.86,427.56 L 470.63,428.84 L 470.41,430.11 L 470.23,431.34 L 470.10,432.50 L 470.02,433.59 L 469.98,434.61 L 469.98,435.59 L 470.00,436.56 L 470.04,437.52 L 470.10,438.50 L 470.21,439.52 L 470.37,440.56 L 470.56,441.59 L 470.74,442.61 L 470.86,443.59 L 470.90,444.50 L 470.82,445.35 L 470.65,446.17 L 470.43,446.94 L 470.20,447.67 L 470.01,448.35 L 469.90,449.00 L 469.89,449.62 L 469.94,450.22 L 470.04,450.78 L 470.14,451.28 L 470.24,451.69 L 470.30,452.00 Z" fill="#a088b2" stroke="#111" stroke-width="0.7" stroke-linejoin="round"/><rect x="472.10" y="426.50" width="2.00" height="16.50" fill="#111"/><circle cx="473.1" cy="435.5" r="0.75" fill="#fff"/><path d="M 489.10,452.00 L 489.13,451.74 L 489.17,451.44 L 489.23,451.06 L 489.27,450.56 L 489.30,449.88 L 489.30,449.00 L 489.27,447.86 L 489.22,446.50 L 489.15,444.97 L 489.07,443.33 L 488.99,441.66 L 488.90,440.00 L 488.81,438.35 L 488.72,436.67 L 488.62,434.94 L 488.52,433.17 L 488.41,431.35 L 488.30,429.50 L 488.18,427.59 L 488.04,425.61 L 487.91,423.59 L 487.77,421.56 L 487.63,419.52 L 487.50,417.50 L 487.37,415.52 L 487.25,413.56 L 487.12,411.59 L 487.00,409.61 L 486.90,407.59 L 486.80,405.50 L 486.72,403.18 L 486.64,400.61 L 486.58,398.00 L 486.53,395.56 L 486.48,393.49 L 486.45,392.00 L 486.15,392.00 L 486.12,393.49 L 486.07,395.56 L 486.02,398.00 L 485.96,400.61 L 485.88,403.18 L 485.80,405.50 L 485.70,407.59 L 485.60,409.61 L 485.48,411.59 L 485.35,413.56 L 485.23,415.52 L 485.10,417.50 L 484.97,419.52 L 484.83,421.56 L 484.69,423.59 L 484.56,425.61 L 484.42,427.59 L 484.30,429.50 L 484.19,431.35 L 484.08,433.17 L 483.98,434.94 L 483.88,436.67 L 483.79,438.35 L 483.70,440.00 L 483.61,441.66 L 483.53,443.33 L 483.45,444.97 L 483.38,446.50 L 483.33,447.86 L 483.30,449.00 L 483.30,449.88 L 483.33,450.56 L 483.38,451.06 L 483.43,451.44 L 483.47,451.74 L 483.50,452.00 Z" fill="#7a82b4" stroke="#111" stroke-width="0.7" stroke-linejoin="round"/><rect x="485.10" y="428.00" width="2.40" height="24.00" fill="#111"/><circle cx="486.3" cy="438.5" r="0.75" fill="#fff"/><path d="M 496.80,452.00 L 496.83,451.74 L 496.87,451.44 L 496.93,451.06 L 496.97,450.56 L 497.00,449.88 L 497.00,449.00 L 496.97,447.86 L 496.92,446.50 L 496.85,444.97 L 496.77,443.33 L 496.69,441.66 L 496.60,440.00 L 496.51,438.35 L 496.42,436.67 L 496.33,434.94 L 496.22,433.17 L 496.11,431.35 L 496.00,429.50 L 495.88,427.59 L 495.74,425.61 L 495.61,423.59 L 495.47,421.56 L 495.33,419.52 L 495.20,417.50 L 495.07,415.52 L 494.95,413.56 L 494.82,411.59 L 494.70,409.61 L 494.60,407.59 L 494.50,405.50 L 494.42,403.18 L 494.34,400.61 L 494.28,398.00 L 494.23,395.56 L 494.18,393.49 L 494.15,392.00 L 493.85,392.00 L 493.82,393.49 L 493.77,395.56 L 493.72,398.00 L 493.66,400.61 L 493.58,403.18 L 493.50,405.50 L 493.40,407.59 L 493.30,409.61 L 493.18,411.59 L 493.05,413.56 L 492.93,415.52 L 492.80,417.50 L 492.67,419.52 L 492.53,421.56 L 492.39,423.59 L 492.26,425.61 L 492.12,427.59 L 492.00,429.50 L 491.89,431.35 L 491.78,433.17 L 491.67,434.94 L 491.58,436.67 L 491.49,438.35 L 491.40,440.00 L 491.31,441.66 L 491.23,443.33 L 491.15,444.97 L 491.08,446.50 L 491.03,447.86 L 491.00,449.00 L 491.00,449.88 L 491.03,450.56 L 491.07,451.06 L 491.13,451.44 L 491.17,451.74 L 491.20,452.00 Z" fill="#2a5e4a" stroke="#111" stroke-width="0.7" stroke-linejoin="round"/><rect x="492.80" y="423.50" width="2.40" height="28.50" fill="#111"/><circle cx="494.0" cy="438.5" r="0.75" fill="#fff"/><path d="M 504.80,452.00 L 504.83,451.74 L 504.87,451.44 L 504.91,451.06 L 504.96,450.56 L 504.99,449.88 L 505.00,449.00 L 504.99,447.86 L 504.97,446.50 L 504.94,444.97 L 504.90,443.33 L 504.85,441.66 L 504.80,440.00 L 504.75,438.35 L 504.70,436.67 L 504.64,434.94 L 504.57,433.17 L 504.49,431.35 L 504.40,429.50 L 504.29,427.59 L 504.17,425.61 L 504.04,423.59 L 503.90,421.56 L 503.75,419.52 L 503.60,417.50 L 503.44,415.50 L 503.26,413.50 L 503.08,411.50 L 502.90,409.50 L 502.74,407.50 L 502.60,405.50 L 502.49,403.36 L 502.39,401.06 L 502.31,398.75 L 502.25,396.61 L 502.19,394.81 L 502.15,393.50 L 501.85,393.50 L 501.81,394.81 L 501.75,396.61 L 501.69,398.75 L 501.61,401.06 L 501.51,403.36 L 501.40,405.50 L 501.26,407.50 L 501.10,409.50 L 500.92,411.50 L 500.74,413.50 L 500.56,415.50 L 500.40,417.50 L 500.25,419.52 L 500.10,421.56 L 499.96,423.59 L 499.83,425.61 L 499.71,427.59 L 499.60,429.50 L 499.51,431.35 L 499.43,433.17 L 499.36,434.94 L 499.30,436.67 L 499.25,438.35 L 499.20,440.00 L 499.15,441.66 L 499.10,443.33 L 499.06,444.97 L 499.03,446.50 L 499.01,447.86 L 499.00,449.00 L 499.01,449.88 L 499.04,450.56 L 499.09,451.06 L 499.13,451.44 L 499.17,451.74 L 499.20,452.00 Z" fill="#a088b2" stroke="#111" stroke-width="0.7" stroke-linejoin="round"/><rect x="500.80" y="419.00" width="2.40" height="33.00" fill="#111"/><circle cx="502.0" cy="432.5" r="0.75" fill="#fff"/><path d="M 344.20,366.70 L 344.20,365.00 L 358.50,365.00 L 358.50,366.70" fill="none" stroke="#2a2a2a" stroke-width="0.75" stroke-linejoin="round"/><circle cx="347.2" cy="362.1" r="0.92" fill="#262626"/><circle cx="350.0" cy="362.1" r="0.92" fill="#262626"/><circle cx="352.7" cy="362.1" r="0.92" fill="#262626"/><circle cx="355.5" cy="362.1" r="0.92" fill="#262626"/><path d="M 340.80,374.70 L 340.80,373.00 L 349.50,373.00 L 349.50,374.70" fill="none" stroke="#2a2a2a" stroke-width="0.75" stroke-linejoin="round"/><circle cx="341.0" cy="370.1" r="0.92" fill="#262626"/><circle cx="343.8" cy="370.1" r="0.92" fill="#262626"/><circle cx="346.5" cy="370.1" r="0.92" fill="#262626"/><circle cx="349.3" cy="370.1" r="0.92" fill="#262626"/><path d="M 349.50,382.70 L 349.50,381.00 L 358.50,381.00 L 358.50,382.70" fill="none" stroke="#2a2a2a" stroke-width="0.75" stroke-linejoin="round"/><circle cx="349.9" cy="378.1" r="0.92" fill="#262626"/><circle cx="352.6" cy="378.1" r="0.92" fill="#262626"/><circle cx="355.4" cy="378.1" r="0.92" fill="#262626"/><circle cx="358.1" cy="378.1" r="0.92" fill="#262626"/><path d="M 370.30,390.90 L 370.30,389.20 L 387.00,389.20 L 387.00,390.90" fill="none" stroke="#2a2a2a" stroke-width="0.75" stroke-linejoin="round"/><circle cx="374.5" cy="386.3" r="0.92" fill="#262626"/><circle cx="377.3" cy="386.3" r="0.92" fill="#262626"/><circle cx="380.0" cy="386.3" r="0.92" fill="#262626"/><circle cx="382.8" cy="386.3" r="0.92" fill="#262626"/><path d="M 369.60,399.50 L 369.60,397.80 L 378.80,397.80 L 378.80,399.50" fill="none" stroke="#2a2a2a" stroke-width="0.75" stroke-linejoin="round"/><text x="374.20" y="396.20" font-size="6.16" text-anchor="middle" textLength="5.50" lengthAdjust="spacingAndGlyphs" stroke="#333" stroke-width="0.06">ns</text><path d="M 378.80,407.10 L 378.80,405.40 L 387.00,405.40 L 387.00,407.10" fill="none" stroke="#2a2a2a" stroke-width="0.75" stroke-linejoin="round"/><circle cx="378.8" cy="402.5" r="0.92" fill="#262626"/><circle cx="381.5" cy="402.5" r="0.92" fill="#262626"/><circle cx="384.3" cy="402.5" r="0.92" fill="#262626"/><circle cx="387.0" cy="402.5" r="0.92" fill="#262626"/><path d="M 399.30,368.00 L 399.30,366.30 L 415.40,366.30 L 415.40,368.00" fill="none" stroke="#2a2a2a" stroke-width="0.75" stroke-linejoin="round"/><circle cx="403.2" cy="363.4" r="0.92" fill="#262626"/><circle cx="406.0" cy="363.4" r="0.92" fill="#262626"/><circle cx="408.7" cy="363.4" r="0.92" fill="#262626"/><circle cx="411.5" cy="363.4" r="0.92" fill="#262626"/><path d="M 398.60,377.10 L 398.60,375.40 L 405.80,375.40 L 405.80,377.10" fill="none" stroke="#2a2a2a" stroke-width="0.75" stroke-linejoin="round"/><text x="402.20" y="373.80" font-size="6.16" text-anchor="middle" textLength="5.50" lengthAdjust="spacingAndGlyphs" stroke="#333" stroke-width="0.06">ns</text><path d="M 407.50,384.70 L 407.50,383.00 L 415.40,383.00 L 415.40,384.70" fill="none" stroke="#2a2a2a" stroke-width="0.75" stroke-linejoin="round"/><circle cx="407.3" cy="380.1" r="0.92" fill="#262626"/><circle cx="410.1" cy="380.1" r="0.92" fill="#262626"/><circle cx="412.8" cy="380.1" r="0.92" fill="#262626"/><circle cx="415.6" cy="380.1" r="0.92" fill="#262626"/><path d="M 428.20,366.70 L 428.20,365.00 L 444.30,365.00 L 444.30,366.70" fill="none" stroke="#2a2a2a" stroke-width="0.75" stroke-linejoin="round"/><circle cx="434.9" cy="362.1" r="0.92" fill="#262626"/><circle cx="437.6" cy="362.1" r="0.92" fill="#262626"/><path d="M 427.50,374.40 L 427.50,372.70 L 434.70,372.70 L 434.70,374.40" fill="none" stroke="#2a2a2a" stroke-width="0.75" stroke-linejoin="round"/><text x="431.10" y="371.10" font-size="6.16" text-anchor="middle" textLength="5.50" lengthAdjust="spacingAndGlyphs" stroke="#333" stroke-width="0.06">ns</text><path d="M 436.30,381.90 L 436.30,380.20 L 444.30,380.20 L 444.30,381.90" fill="none" stroke="#2a2a2a" stroke-width="0.75" stroke-linejoin="round"/><circle cx="438.9" cy="377.3" r="0.92" fill="#262626"/><circle cx="441.7" cy="377.3" r="0.92" fill="#262626"/><path d="M 456.30,386.50 L 456.30,384.80 L 472.40,384.80 L 472.40,386.50" fill="none" stroke="#2a2a2a" stroke-width="0.75" stroke-linejoin="round"/><circle cx="460.2" cy="381.9" r="0.92" fill="#262626"/><circle cx="463.0" cy="381.9" r="0.92" fill="#262626"/><circle cx="465.7" cy="381.9" r="0.92" fill="#262626"/><circle cx="468.5" cy="381.9" r="0.92" fill="#262626"/><path d="M 455.60,394.40 L 455.60,392.70 L 462.80,392.70 L 462.80,394.40" fill="none" stroke="#2a2a2a" stroke-width="0.75" stroke-linejoin="round"/><text x="459.20" y="391.10" font-size="6.16" text-anchor="middle" textLength="5.50" lengthAdjust="spacingAndGlyphs" stroke="#333" stroke-width="0.06">ns</text><path d="M 464.70,401.60 L 464.70,399.90 L 472.40,399.90 L 472.40,401.60" fill="none" stroke="#2a2a2a" stroke-width="0.75" stroke-linejoin="round"/><circle cx="464.4" cy="397.0" r="0.92" fill="#262626"/><circle cx="467.2" cy="397.0" r="0.92" fill="#262626"/><circle cx="469.9" cy="397.0" r="0.92" fill="#262626"/><circle cx="472.7" cy="397.0" r="0.92" fill="#262626"/><path d="M 485.10,372.00 L 485.10,370.30 L 500.80,370.30 L 500.80,372.00" fill="none" stroke="#2a2a2a" stroke-width="0.75" stroke-linejoin="round"/><circle cx="491.6" cy="367.4" r="0.92" fill="#262626"/><circle cx="494.3" cy="367.4" r="0.92" fill="#262626"/><path d="M 484.40,380.50 L 484.40,378.80 L 491.60,378.80 L 491.60,380.50" fill="none" stroke="#2a2a2a" stroke-width="0.75" stroke-linejoin="round"/><text x="488.00" y="377.20" font-size="6.16" text-anchor="middle" textLength="5.50" lengthAdjust="spacingAndGlyphs" stroke="#333" stroke-width="0.06">ns</text><path d="M 494.00,388.40 L 494.00,386.70 L 500.80,386.70 L 500.80,388.40" fill="none" stroke="#2a2a2a" stroke-width="0.75" stroke-linejoin="round"/><circle cx="496.0" cy="383.8" r="0.92" fill="#262626"/><circle cx="498.8" cy="383.8" r="0.92" fill="#262626"/><rect x="378.50" y="475.60" width="4.20" height="3.90" fill="#1f4a7a"/><text x="386.20" y="479.50" font-size="7.04" fill="#2c2c2c" textLength="19.40" lengthAdjust="spacingAndGlyphs" stroke="#2c2c2c" stroke-width="0.06">Control</text><rect x="378.50" y="484.70" width="4.20" height="3.90" fill="#1e6448"/><text x="386.20" y="488.60" font-size="7.04" fill="#2c2c2c" textLength="73.20" lengthAdjust="spacingAndGlyphs" stroke="#2c2c2c" stroke-width="0.06">Tet2 KO normally expanded</text><rect x="378.50" y="493.80" width="4.20" height="3.90" fill="#4e1e5e"/><text x="386.20" y="497.70" font-size="7.04" fill="#2c2c2c" textLength="60.50" lengthAdjust="spacingAndGlyphs" stroke="#2c2c2c" stroke-width="0.06">Tet2 KO overexpanded</text><text x="365.00" y="533.40" font-size="10.50" fill="#111" font-weight="bold">J</text><text x="452.80" y="533.60" font-size="8.80" text-anchor="middle" fill="#2c2c2c" textLength="103.60" lengthAdjust="spacingAndGlyphs" stroke="#2c2c2c" stroke-width="0.06">Myeloid-biased Tet2 KO HSC</text><text x="417.20" y="544.00" font-size="7.70" text-anchor="middle" fill="#2c2c2c" textLength="35.60" lengthAdjust="spacingAndGlyphs" stroke="#2c2c2c" stroke-width="0.06">RMP genes</text><text x="489.00" y="544.00" font-size="7.70" text-anchor="middle" fill="#2c2c2c" textLength="35.20" lengthAdjust="spacingAndGlyphs" stroke="#2c2c2c" stroke-width="0.06">AML genes</text><line x1="393.70" y1="549.20" x2="393.70" y2="639.60" stroke="#222" stroke-width="0.8"/><line x1="393.30" y1="639.60" x2="442.20" y2="639.60" stroke="#222" stroke-width="0.8"/><line x1="391.50" y1="631.70" x2="393.70" y2="631.70" stroke="#222" stroke-width="0.7"/><text x="390.10" y="634.15" font-size="7.70" text-anchor="end" fill="#2c2c2c" textLength="9.40" lengthAdjust="spacingAndGlyphs" stroke="#2c2c2c" stroke-width="0.06">0.0</text><line x1="391.50" y1="615.80" x2="393.70" y2="615.80" stroke="#222" stroke-width="0.7"/><text x="390.10" y="618.25" font-size="7.70" text-anchor="end" fill="#2c2c2c" textLength="9.40" lengthAdjust="spacingAndGlyphs" stroke="#2c2c2c" stroke-width="0.06">0.1</text><line x1="391.50" y1="599.90" x2="393.70" y2="599.90" stroke="#222" stroke-width="0.7"/><text x="390.10" y="602.35" font-size="7.70" text-anchor="end" fill="#2c2c2c" textLength="9.40" lengthAdjust="spacingAndGlyphs" stroke="#2c2c2c" stroke-width="0.06">0.2</text><line x1="391.50" y1="584.00" x2="393.70" y2="584.00" stroke="#222" stroke-width="0.7"/><text x="390.10" y="586.45" font-size="7.70" text-anchor="end" fill="#2c2c2c" textLength="9.40" lengthAdjust="spacingAndGlyphs" stroke="#2c2c2c" stroke-width="0.06">0.3</text><line x1="391.50" y1="568.10" x2="393.70" y2="568.10" stroke="#222" stroke-width="0.7"/><text x="390.10" y="570.55" font-size="7.70" text-anchor="end" fill="#2c2c2c" textLength="9.40" lengthAdjust="spacingAndGlyphs" stroke="#2c2c2c" stroke-width="0.06">0.4</text><line x1="391.50" y1="552.20" x2="393.70" y2="552.20" stroke="#222" stroke-width="0.7"/><text x="390.10" y="554.65" font-size="7.70" text-anchor="end" fill="#2c2c2c" textLength="9.40" lengthAdjust="spacingAndGlyphs" stroke="#2c2c2c" stroke-width="0.06">0.5</text><line x1="461.30" y1="549.20" x2="461.30" y2="639.60" stroke="#222" stroke-width="0.8"/><line x1="460.90" y1="639.60" x2="509.80" y2="639.60" stroke="#222" stroke-width="0.8"/><line x1="459.10" y1="631.70" x2="461.30" y2="631.70" stroke="#222" stroke-width="0.7"/><text x="457.70" y="634.15" font-size="7.70" text-anchor="end" fill="#2c2c2c" textLength="9.40" lengthAdjust="spacingAndGlyphs" stroke="#2c2c2c" stroke-width="0.06">0.0</text><line x1="459.10" y1="615.80" x2="461.30" y2="615.80" stroke="#222" stroke-width="0.7"/><text x="457.70" y="618.25" font-size="7.70" text-anchor="end" fill="#2c2c2c" textLength="9.40" lengthAdjust="spacingAndGlyphs" stroke="#2c2c2c" stroke-width="0.06">0.1</text><line x1="459.10" y1="599.90" x2="461.30" y2="599.90" stroke="#222" stroke-width="0.7"/><text x="457.70" y="602.35" font-size="7.70" text-anchor="end" fill="#2c2c2c" textLength="9.40" lengthAdjust="spacingAndGlyphs" stroke="#2c2c2c" stroke-width="0.06">0.2</text><line x1="459.10" y1="584.00" x2="461.30" y2="584.00" stroke="#222" stroke-width="0.7"/><text x="457.70" y="586.45" font-size="7.70" text-anchor="end" fill="#2c2c2c" textLength="9.40" lengthAdjust="spacingAndGlyphs" stroke="#2c2c2c" stroke-width="0.06">0.3</text><line x1="459.10" y1="568.10" x2="461.30" y2="568.10" stroke="#222" stroke-width="0.7"/><text x="457.70" y="570.55" font-size="7.70" text-anchor="end" fill="#2c2c2c" textLength="9.40" lengthAdjust="spacingAndGlyphs" stroke="#2c2c2c" stroke-width="0.06">0.4</text><line x1="459.10" y1="552.20" x2="461.30" y2="552.20" stroke="#222" stroke-width="0.7"/><text x="457.70" y="554.65" font-size="7.70" text-anchor="end" fill="#2c2c2c" textLength="9.40" lengthAdjust="spacingAndGlyphs" stroke="#2c2c2c" stroke-width="0.06">0.5</text><text x="371.40" y="597.79" font-size="8.14" text-anchor="middle" fill="#2c2c2c" textLength="47.60" lengthAdjust="spacingAndGlyphs" transform="rotate(-90 371.40 595.20)" stroke="#2c2c2c" stroke-width="0.06">Gene expression</text><line x1="403.20" y1="639.60" x2="403.20" y2="641.60" stroke="#222" stroke-width="0.7"/><line x1="419.40" y1="639.60" x2="419.40" y2="641.60" stroke="#222" stroke-width="0.7"/><line x1="435.90" y1="639.60" x2="435.90" y2="641.60" stroke="#222" stroke-width="0.7"/><line x1="474.00" y1="639.60" x2="474.00" y2="641.60" stroke="#222" stroke-width="0.7"/><line x1="489.80" y1="639.60" x2="489.80" y2="641.60" stroke="#222" stroke-width="0.7"/><line x1="505.70" y1="639.60" x2="505.70" y2="641.60" stroke="#222" stroke-width="0.7"/><path d="M 403.40,631.70 L 403.42,630.26 L 403.45,628.23 L 403.48,625.84 L 403.53,623.34 L 403.60,620.97 L 403.70,618.98 L 403.82,617.36 L 403.96,615.92 L 404.12,614.61 L 404.31,613.39 L 404.53,612.21 L 404.80,611.03 L 405.13,609.88 L 405.52,608.79 L 405.94,607.75 L 406.38,606.73 L 406.81,605.71 L 407.20,604.67 L 407.59,603.61 L 408.01,602.55 L 408.42,601.49 L 408.79,600.43 L 409.06,599.37 L 409.20,598.31 L 409.20,597.25 L 409.07,596.19 L 408.86,595.13 L 408.59,594.07 L 408.29,593.01 L 408.00,591.95 L 407.69,590.89 L 407.34,589.83 L 406.97,588.77 L 406.58,587.71 L 406.18,586.65 L 405.80,585.59 L 405.40,584.46 L 404.96,583.23 L 404.51,582.01 L 404.10,580.88 L 403.75,579.92 L 403.50,579.23 L 402.90,579.23 L 402.65,579.92 L 402.30,580.88 L 401.89,582.01 L 401.44,583.23 L 401.00,584.46 L 400.60,585.59 L 400.22,586.65 L 399.82,587.71 L 399.43,588.77 L 399.06,589.83 L 398.71,590.89 L 398.40,591.95 L 398.11,593.01 L 397.81,594.07 L 397.54,595.13 L 397.33,596.19 L 397.20,597.25 L 397.20,598.31 L 397.34,599.37 L 397.61,600.43 L 397.98,601.49 L 398.39,602.55 L 398.81,603.61 L 399.20,604.67 L 399.59,605.71 L 400.02,606.73 L 400.46,607.75 L 400.88,608.79 L 401.27,609.88 L 401.60,611.03 L 401.87,612.21 L 402.09,613.39 L 402.28,614.61 L 402.44,615.92 L 402.58,617.36 L 402.70,618.98 L 402.80,620.97 L 402.87,623.34 L 402.92,625.84 L 402.95,628.23 L 402.98,630.26 L 403.00,631.70 Z" fill="#7a82b4" stroke="#111" stroke-width="0.6" stroke-linejoin="round"/><line x1="403.20" y1="631.70" x2="403.20" y2="579.23" stroke="#111" stroke-width="0.6"/><rect x="402.50" y="592.75" width="1.40" height="9.54" fill="#111"/><circle cx="403.2" cy="597.5" r="0.75" fill="#fff"/><path d="M 421.40,623.75 L 421.49,623.46 L 421.63,623.10 L 421.79,622.66 L 421.95,622.10 L 422.09,621.41 L 422.20,620.57 L 422.27,619.58 L 422.32,618.45 L 422.35,617.19 L 422.37,615.80 L 422.39,614.28 L 422.40,612.62 L 422.41,610.78 L 422.42,608.73 L 422.43,606.56 L 422.42,604.32 L 422.41,602.08 L 422.40,599.90 L 422.38,597.72 L 422.36,595.48 L 422.34,593.24 L 422.30,591.07 L 422.26,589.02 L 422.20,587.18 L 422.14,585.54 L 422.07,584.06 L 421.99,582.71 L 421.90,581.47 L 421.77,580.32 L 421.60,579.23 L 421.36,578.20 L 421.05,577.23 L 420.71,576.35 L 420.38,575.58 L 420.10,574.94 L 419.90,574.46 L 418.90,574.46 L 418.70,574.94 L 418.42,575.58 L 418.09,576.35 L 417.75,577.23 L 417.44,578.20 L 417.20,579.23 L 417.03,580.32 L 416.90,581.47 L 416.81,582.71 L 416.73,584.06 L 416.66,585.54 L 416.60,587.18 L 416.54,589.02 L 416.50,591.07 L 416.46,593.24 L 416.44,595.48 L 416.42,597.72 L 416.40,599.90 L 416.39,602.08 L 416.38,604.32 L 416.37,606.56 L 416.38,608.73 L 416.39,610.78 L 416.40,612.62 L 416.41,614.28 L 416.43,615.80 L 416.45,617.19 L 416.48,618.45 L 416.53,619.58 L 416.60,620.57 L 416.71,621.41 L 416.85,622.10 L 417.01,622.66 L 417.17,623.10 L 417.31,623.46 L 417.40,623.75 Z" fill="#2a5e4a" stroke="#111" stroke-width="0.6" stroke-linejoin="round"/><line x1="419.40" y1="623.75" x2="419.40" y2="574.46" stroke="#111" stroke-width="0.6"/><rect x="418.70" y="591.95" width="1.40" height="20.67" fill="#111"/><circle cx="419.4" cy="602.3" r="0.75" fill="#fff"/><path d="M 436.50,628.52 L 436.60,628.21 L 436.74,627.81 L 436.91,627.33 L 437.10,626.75 L 437.30,626.09 L 437.50,625.34 L 437.72,624.50 L 437.96,623.57 L 438.21,622.56 L 438.46,621.45 L 438.70,620.26 L 438.90,618.98 L 439.08,617.57 L 439.25,616.04 L 439.40,614.41 L 439.53,612.74 L 439.63,611.07 L 439.70,609.44 L 439.73,607.87 L 439.73,606.32 L 439.70,604.77 L 439.65,603.20 L 439.58,601.58 L 439.50,599.90 L 439.41,598.10 L 439.29,596.19 L 439.16,594.24 L 439.02,592.30 L 438.86,590.46 L 438.70,588.77 L 438.52,587.22 L 438.33,585.77 L 438.12,584.40 L 437.91,583.12 L 437.70,581.92 L 437.50,580.82 L 437.29,579.79 L 437.06,578.82 L 436.82,577.94 L 436.61,577.17 L 436.43,576.53 L 436.30,576.05 L 435.50,576.05 L 435.37,576.53 L 435.19,577.17 L 434.97,577.94 L 434.74,578.82 L 434.51,579.79 L 434.30,580.82 L 434.10,581.92 L 433.89,583.12 L 433.67,584.40 L 433.47,585.77 L 433.28,587.22 L 433.10,588.77 L 432.94,590.46 L 432.78,592.30 L 432.64,594.24 L 432.51,596.19 L 432.39,598.10 L 432.30,599.90 L 432.22,601.58 L 432.15,603.20 L 432.10,604.77 L 432.07,606.32 L 432.07,607.87 L 432.10,609.44 L 432.17,611.07 L 432.27,612.74 L 432.40,614.41 L 432.55,616.04 L 432.72,617.57 L 432.90,618.98 L 433.10,620.26 L 433.34,621.45 L 433.59,622.56 L 433.84,623.57 L 434.08,624.50 L 434.30,625.34 L 434.50,626.09 L 434.70,626.75 L 434.89,627.33 L 435.06,627.81 L 435.20,628.21 L 435.30,628.52 Z" fill="#a088b2" stroke="#111" stroke-width="0.6" stroke-linejoin="round"/><line x1="435.90" y1="626.93" x2="435.90" y2="576.05" stroke="#111" stroke-width="0.6"/><rect x="435.20" y="599.90" width="1.40" height="15.90" fill="#111"/><circle cx="435.9" cy="607.9" r="0.75" fill="#fff"/><path d="M 474.15,636.47 L 474.18,635.03 L 474.20,633.00 L 474.24,630.61 L 474.30,628.11 L 474.42,625.74 L 474.60,623.75 L 474.86,622.15 L 475.18,620.75 L 475.55,619.48 L 475.96,618.27 L 476.38,617.07 L 476.80,615.80 L 477.27,614.46 L 477.82,613.09 L 478.39,611.73 L 478.91,610.38 L 479.33,609.08 L 479.60,607.85 L 479.69,606.72 L 479.66,605.67 L 479.53,604.67 L 479.32,603.67 L 479.07,602.62 L 478.80,601.49 L 478.48,600.24 L 478.08,598.90 L 477.64,597.52 L 477.19,596.13 L 476.76,594.79 L 476.40,593.54 L 476.10,592.37 L 475.84,591.24 L 475.60,590.16 L 475.39,589.12 L 475.19,588.13 L 475.00,587.18 L 474.82,586.24 L 474.66,585.30 L 474.51,584.40 L 474.39,583.59 L 474.28,582.91 L 474.20,582.41 L 473.80,582.41 L 473.72,582.91 L 473.61,583.59 L 473.49,584.40 L 473.34,585.30 L 473.18,586.24 L 473.00,587.18 L 472.81,588.13 L 472.61,589.12 L 472.40,590.16 L 472.16,591.24 L 471.90,592.37 L 471.60,593.54 L 471.24,594.79 L 470.81,596.13 L 470.36,597.52 L 469.92,598.90 L 469.52,600.24 L 469.20,601.49 L 468.93,602.62 L 468.68,603.67 L 468.47,604.67 L 468.34,605.67 L 468.31,606.72 L 468.40,607.85 L 468.67,609.08 L 469.09,610.38 L 469.61,611.73 L 470.18,613.09 L 470.73,614.46 L 471.20,615.80 L 471.62,617.07 L 472.04,618.27 L 472.45,619.48 L 472.82,620.75 L 473.14,622.15 L 473.40,623.75 L 473.58,625.74 L 473.70,628.11 L 473.76,630.61 L 473.80,633.00 L 473.82,635.03 L 473.85,636.47 Z" fill="#7a82b4" stroke="#111" stroke-width="0.6" stroke-linejoin="round"/><line x1="474.00" y1="636.47" x2="474.00" y2="582.41" stroke="#111" stroke-width="0.6"/><rect x="473.30" y="601.49" width="1.40" height="9.54" fill="#111"/><circle cx="474.0" cy="606.3" r="0.75" fill="#fff"/><path d="M 489.95,636.47 L 490.03,635.41 L 490.12,633.94 L 490.24,632.20 L 490.39,630.35 L 490.57,628.54 L 490.80,626.93 L 491.10,625.53 L 491.48,624.22 L 491.89,622.96 L 492.31,621.69 L 492.69,620.38 L 493.00,618.98 L 493.25,617.48 L 493.48,615.92 L 493.68,614.31 L 493.83,612.68 L 493.94,611.05 L 494.00,609.44 L 494.00,607.83 L 493.95,606.20 L 493.85,604.57 L 493.72,602.96 L 493.56,601.40 L 493.40,599.90 L 493.22,598.46 L 493.01,597.07 L 492.78,595.73 L 492.53,594.42 L 492.27,593.16 L 492.00,591.95 L 491.70,590.72 L 491.36,589.48 L 491.01,588.27 L 490.68,587.18 L 490.40,586.26 L 490.20,585.59 L 489.40,585.59 L 489.20,586.26 L 488.92,587.18 L 488.59,588.27 L 488.24,589.48 L 487.90,590.72 L 487.60,591.95 L 487.33,593.16 L 487.07,594.42 L 486.82,595.73 L 486.59,597.07 L 486.38,598.46 L 486.20,599.90 L 486.04,601.40 L 485.88,602.96 L 485.75,604.57 L 485.65,606.20 L 485.60,607.83 L 485.60,609.44 L 485.66,611.05 L 485.77,612.68 L 485.93,614.31 L 486.12,615.92 L 486.35,617.48 L 486.60,618.98 L 486.91,620.38 L 487.29,621.69 L 487.71,622.96 L 488.12,624.22 L 488.50,625.53 L 488.80,626.93 L 489.03,628.54 L 489.21,630.35 L 489.36,632.20 L 489.48,633.94 L 489.57,635.41 L 489.65,636.47 Z" fill="#2a5e4a" stroke="#111" stroke-width="0.6" stroke-linejoin="round"/><line x1="489.80" y1="636.47" x2="489.80" y2="585.59" stroke="#111" stroke-width="0.6"/><rect x="489.10" y="601.49" width="1.40" height="14.31" fill="#111"/><circle cx="489.8" cy="609.4" r="0.75" fill="#fff"/><path d="M 506.00,631.70 L 506.10,631.20 L 506.24,630.52 L 506.40,629.71 L 506.60,628.81 L 506.83,627.87 L 507.10,626.93 L 507.44,625.96 L 507.87,624.93 L 508.32,623.85 L 508.78,622.75 L 509.18,621.65 L 509.50,620.57 L 509.74,619.53 L 509.93,618.51 L 510.07,617.49 L 510.16,616.45 L 510.21,615.36 L 510.20,614.21 L 510.13,613.00 L 509.99,611.74 L 509.79,610.43 L 509.57,609.09 L 509.33,607.70 L 509.10,606.26 L 508.86,604.76 L 508.60,603.20 L 508.32,601.59 L 508.04,599.96 L 507.77,598.33 L 507.50,596.72 L 507.23,595.02 L 506.94,593.19 L 506.65,591.35 L 506.39,589.65 L 506.16,588.22 L 506.00,587.18 L 505.40,587.18 L 505.24,588.22 L 505.01,589.65 L 504.75,591.35 L 504.46,593.19 L 504.17,595.02 L 503.90,596.72 L 503.63,598.33 L 503.36,599.96 L 503.08,601.59 L 502.80,603.20 L 502.54,604.76 L 502.30,606.26 L 502.07,607.70 L 501.83,609.09 L 501.61,610.43 L 501.41,611.74 L 501.27,613.00 L 501.20,614.21 L 501.19,615.36 L 501.24,616.45 L 501.33,617.49 L 501.47,618.51 L 501.66,619.53 L 501.90,620.57 L 502.22,621.65 L 502.62,622.75 L 503.07,623.85 L 503.53,624.93 L 503.96,625.96 L 504.30,626.93 L 504.57,627.87 L 504.80,628.81 L 505.00,629.71 L 505.16,630.52 L 505.30,631.20 L 505.40,631.70 Z" fill="#a088b2" stroke="#111" stroke-width="0.6" stroke-linejoin="round"/><line x1="505.70" y1="631.70" x2="505.70" y2="587.18" stroke="#111" stroke-width="0.6"/><rect x="505.00" y="607.85" width="1.40" height="12.72" fill="#111"/><circle cx="505.7" cy="614.2" r="0.75" fill="#fff"/><path d="M 403.20,555.60 L 403.20,553.90 L 435.90,553.90 L 435.90,555.60" fill="none" stroke="#2a2a2a" stroke-width="0.75" stroke-linejoin="round"/><circle cx="415.4" cy="551.0" r="0.92" fill="#262626"/><circle cx="418.2" cy="551.0" r="0.92" fill="#262626"/><circle cx="420.9" cy="551.0" r="0.92" fill="#262626"/><circle cx="423.7" cy="551.0" r="0.92" fill="#262626"/><path d="M 403.20,564.20 L 403.20,562.50 L 419.40,562.50 L 419.40,564.20" fill="none" stroke="#2a2a2a" stroke-width="0.75" stroke-linejoin="round"/><circle cx="411.3" cy="559.6" r="0.92" fill="#262626"/><path d="M 419.40,571.50 L 419.40,569.80 L 435.90,569.80 L 435.90,571.50" fill="none" stroke="#2a2a2a" stroke-width="0.75" stroke-linejoin="round"/><circle cx="427.6" cy="566.9" r="0.92" fill="#262626"/><path d="M 474.00,561.00 L 474.00,559.30 L 505.70,559.30 L 505.70,561.00" fill="none" stroke="#2a2a2a" stroke-width="0.75" stroke-linejoin="round"/><circle cx="485.7" cy="556.4" r="0.92" fill="#262626"/><circle cx="488.5" cy="556.4" r="0.92" fill="#262626"/><circle cx="491.2" cy="556.4" r="0.92" fill="#262626"/><circle cx="494.0" cy="556.4" r="0.92" fill="#262626"/><path d="M 474.00,569.00 L 474.00,567.30 L 489.80,567.30 L 489.80,569.00" fill="none" stroke="#2a2a2a" stroke-width="0.75" stroke-linejoin="round"/><text x="481.90" y="565.70" font-size="6.16" text-anchor="middle" textLength="5.50" lengthAdjust="spacingAndGlyphs" stroke="#333" stroke-width="0.06">ns</text><path d="M 489.80,576.30 L 489.80,574.60 L 505.70,574.60 L 505.70,576.30" fill="none" stroke="#2a2a2a" stroke-width="0.75" stroke-linejoin="round"/><circle cx="496.4" cy="571.7" r="0.92" fill="#262626"/><circle cx="499.1" cy="571.7" r="0.92" fill="#262626"/><rect x="394.30" y="650.60" width="4.20" height="3.90" fill="#1f4a7a"/><text x="401.80" y="654.50" font-size="7.04" fill="#2c2c2c" textLength="19.40" lengthAdjust="spacingAndGlyphs" stroke="#2c2c2c" stroke-width="0.06">Control</text><rect x="394.30" y="659.70" width="4.20" height="3.90" fill="#1e6448"/><text x="401.80" y="663.60" font-size="7.04" fill="#2c2c2c" textLength="73.20" lengthAdjust="spacingAndGlyphs" stroke="#2c2c2c" stroke-width="0.06">Tet2 KO normally expanded</text><rect x="394.30" y="668.80" width="4.20" height="3.90" fill="#4e1e5e"/><text x="401.80" y="672.70" font-size="7.04" fill="#2c2c2c" textLength="60.50" lengthAdjust="spacingAndGlyphs" stroke="#2c2c2c" stroke-width="0.06">Tet2 KO overexpanded</text><text x="7.00" y="346.40" font-size="10.20" fill="#111" font-weight="bold">E</text><text x="71.00" y="352.80" font-size="8.80" text-anchor="middle" fill="#2c2c2c" textLength="20.50" lengthAdjust="spacingAndGlyphs" stroke="#2c2c2c" stroke-width="0.06">MPP3</text><circle cx="30.3" cy="398.9" r="0.9" fill="#dadada"/><circle cx="42.2" cy="388.0" r="0.9" fill="#cfcfcf"/><circle cx="54.7" cy="394.8" r="0.9" fill="#dadada"/><circle cx="38.1" cy="396.5" r="0.9" fill="#dadada"/><circle cx="54.2" cy="388.3" r="0.9" fill="#dadada"/><circle cx="52.1" cy="403.1" r="0.9" fill="#dadada"/><circle cx="42.9" cy="385.7" r="0.9" fill="#cfcfcf"/><circle cx="38.0" cy="386.6" r="0.9" fill="#cfcfcf"/><circle cx="41.2" cy="395.7" r="0.9" fill="#dadada"/><circle cx="42.4" cy="387.3" r="0.9" fill="#dadada"/><circle cx="56.9" cy="388.4" r="0.9" fill="#cfcfcf"/><circle cx="58.0" cy="400.4" r="0.9" fill="#cfcfcf"/><circle cx="46.1" cy="399.8" r="0.9" fill="#dadada"/><circle cx="42.1" cy="402.0" r="0.9" fill="#dadada"/><circle cx="39.6" cy="391.4" r="0.9" fill="#dadada"/><circle cx="27.5" cy="399.5" r="0.9" fill="#cfcfcf"/><circle cx="42.8" cy="394.3" r="0.9" fill="#dadada"/><circle cx="52.4" cy="388.1" r="0.9" fill="#dadada"/><circle cx="45.1" cy="397.3" r="0.9" fill="#dadada"/><circle cx="30.5" cy="391.0" r="0.9" fill="#cfcfcf"/><circle cx="37.2" cy="396.7" r="0.9" fill="#dadada"/><circle cx="54.9" cy="400.9" r="0.9" fill="#dadada"/><circle cx="50.0" cy="398.5" r="0.9" fill="#cfcfcf"/><circle cx="60.4" cy="392.4" r="0.9" fill="#cfcfcf"/><circle cx="60.5" cy="396.6" r="0.9" fill="#cfcfcf"/><circle cx="42.7" cy="391.6" r="0.9" fill="#dadada"/><circle cx="53.4" cy="394.1" r="0.9" fill="#cfcfcf"/><circle cx="35.0" cy="392.6" r="0.9" fill="#dadada"/><circle cx="52.3" cy="394.0" r="0.9" fill="#dadada"/><circle cx="60.4" cy="395.1" r="0.9" fill="#dadada"/><circle cx="55.9" cy="401.3" r="0.9" fill="#cfcfcf"/><circle cx="46.9" cy="392.8" r="0.9" fill="#dadada"/><circle cx="56.3" cy="390.1" r="0.9" fill="#dadada"/><circle cx="34.5" cy="400.7" r="0.9" fill="#dadada"/><circle cx="24.9" cy="396.7" r="0.9" fill="#dadada"/><circle cx="56.4" cy="396.4" r="0.9" fill="#dadada"/><circle cx="39.4" cy="405.1" r="0.9" fill="#cfcfcf"/><circle cx="41.0" cy="386.2" r="0.9" fill="#cfcfcf"/><circle cx="48.9" cy="385.9" r="0.9" fill="#dadada"/><circle cx="36.3" cy="394.4" r="0.9" fill="#dadada"/><circle cx="38.4" cy="399.3" r="0.9" fill="#dadada"/><circle cx="25.8" cy="399.4" r="0.9" fill="#cfcfcf"/><circle cx="53.4" cy="401.2" r="0.9" fill="#dadada"/><circle cx="41.6" cy="384.5" r="0.9" fill="#cfcfcf"/><circle cx="30.7" cy="399.4" r="0.9" fill="#dadada"/><circle cx="50.5" cy="390.2" r="0.9" fill="#dadada"/><circle cx="38.8" cy="390.1" r="0.9" fill="#cfcfcf"/><circle cx="35.2" cy="394.6" r="0.9" fill="#dadada"/><circle cx="46.8" cy="394.7" r="0.9" fill="#dadada"/><circle cx="50.6" cy="395.1" r="0.9" fill="#dadada"/><circle cx="36.1" cy="405.8" r="0.9" fill="#dadada"/><circle cx="54.9" cy="400.5" r="0.9" fill="#dadada"/><circle cx="48.5" cy="393.2" r="0.9" fill="#dadada"/><circle cx="38.8" cy="392.2" r="0.9" fill="#dadada"/><circle cx="33.4" cy="399.2" r="0.9" fill="#cfcfcf"/><circle cx="51.5" cy="393.5" r="0.9" fill="#dadada"/><circle cx="38.6" cy="394.2" r="0.9" fill="#dadada"/><circle cx="42.2" cy="394.3" r="0.9" fill="#dadada"/><circle cx="57.8" cy="400.9" r="0.9" fill="#dadada"/><circle cx="52.8" cy="398.4" r="0.9" fill="#cfcfcf"/><circle cx="50.6" cy="398.7" r="0.9" fill="#dadada"/><circle cx="58.8" cy="391.9" r="0.9" fill="#dadada"/><circle cx="35.9" cy="390.2" r="0.9" fill="#dadada"/><circle cx="29.5" cy="395.7" r="0.9" fill="#dadada"/><circle cx="35.5" cy="404.7" r="0.9" fill="#dadada"/><circle cx="41.6" cy="385.5" r="0.9" fill="#cfcfcf"/><circle cx="50.8" cy="387.7" r="0.9" fill="#dadada"/><circle cx="48.4" cy="398.7" r="0.9" fill="#dadada"/><circle cx="33.7" cy="402.4" r="0.9" fill="#dadada"/><circle cx="49.9" cy="387.6" r="0.9" fill="#dadada"/><circle cx="34.5" cy="391.7" r="0.9" fill="#cfcfcf"/><circle cx="41.7" cy="393.0" r="0.9" fill="#dadada"/><circle cx="34.7" cy="387.0" r="0.9" fill="#dadada"/><circle cx="34.4" cy="387.3" r="0.9" fill="#cfcfcf"/><circle cx="59.5" cy="399.2" r="0.9" fill="#dadada"/><circle cx="43.0" cy="383.9" r="0.9" fill="#dadada"/><circle cx="50.6" cy="388.5" r="0.9" fill="#dadada"/><circle cx="44.7" cy="385.2" r="0.9" fill="#dadada"/><circle cx="41.3" cy="403.6" r="0.9" fill="#dadada"/><circle cx="29.1" cy="401.2" r="0.9" fill="#cfcfcf"/><circle cx="44.1" cy="384.1" r="0.9" fill="#dadada"/><circle cx="39.3" cy="395.7" r="0.9" fill="#dadada"/><circle cx="54.5" cy="402.4" r="0.9" fill="#cfcfcf"/><circle cx="46.1" cy="384.9" r="0.9" fill="#cfcfcf"/><circle cx="52.4" cy="400.5" r="0.9" fill="#dadada"/><circle cx="47.0" cy="397.3" r="0.9" fill="#dadada"/><circle cx="54.4" cy="390.8" r="0.9" fill="#dadada"/><circle cx="37.4" cy="389.9" r="0.9" fill="#dadada"/><circle cx="26.6" cy="394.8" r="0.9" fill="#dadada"/><circle cx="31.2" cy="389.2" r="0.9" fill="#dadada"/><circle cx="73.6" cy="398.5" r="0.9" fill="#dadada"/><circle cx="70.8" cy="396.1" r="0.9" fill="#dadada"/><circle cx="74.6" cy="397.2" r="0.9" fill="#dadada"/><circle cx="70.7" cy="398.3" r="0.9" fill="#dadada"/><circle cx="74.2" cy="396.9" r="0.9" fill="#dadada"/><circle cx="77.0" cy="400.1" r="0.9" fill="#dadada"/><circle cx="75.6" cy="401.0" r="0.9" fill="#dadada"/><circle cx="67.8" cy="401.4" r="0.9" fill="#dadada"/><circle cx="67.0" cy="398.1" r="0.9" fill="#dadada"/><circle cx="75.1" cy="398.5" r="0.9" fill="#dadada"/><circle cx="75.5" cy="399.4" r="0.9" fill="#dadada"/><circle cx="70.8" cy="400.1" r="0.9" fill="#dadada"/><circle cx="68.5" cy="397.8" r="0.9" fill="#dadada"/><circle cx="70.5" cy="401.0" r="0.9" fill="#dadada"/><circle cx="62.5" cy="394.4" r="0.9" fill="#dadada"/><circle cx="72.8" cy="399.7" r="0.9" fill="#dadada"/><circle cx="68.6" cy="395.8" r="0.9" fill="#dadada"/><circle cx="65.3" cy="397.4" r="0.9" fill="#dadada"/><circle cx="71.7" cy="400.0" r="0.9" fill="#dadada"/><circle cx="74.6" cy="401.9" r="0.9" fill="#dadada"/><circle cx="73.3" cy="397.8" r="0.9" fill="#dadada"/><circle cx="64.5" cy="399.3" r="0.9" fill="#dadada"/><circle cx="67.4" cy="400.3" r="0.9" fill="#dadada"/><circle cx="69.2" cy="395.9" r="0.9" fill="#dadada"/><circle cx="72.0" cy="398.9" r="0.9" fill="#dadada"/><circle cx="65.0" cy="399.8" r="0.9" fill="#dadada"/><circle cx="77.0" cy="400.9" r="0.9" fill="#dadada"/><circle cx="66.2" cy="398.3" r="0.9" fill="#dadada"/><circle cx="64.4" cy="394.1" r="0.9" fill="#dadada"/><circle cx="63.9" cy="393.4" r="0.9" fill="#dadada"/><circle cx="93.7" cy="402.6" r="0.9" fill="#dadada"/><circle cx="96.3" cy="406.5" r="0.9" fill="#dadada"/><circle cx="94.1" cy="405.5" r="0.9" fill="#dadada"/><circle cx="89.2" cy="406.2" r="0.9" fill="#dadada"/><circle cx="89.1" cy="401.5" r="0.9" fill="#dadada"/><circle cx="92.9" cy="403.3" r="0.9" fill="#dadada"/><circle cx="92.2" cy="405.3" r="0.9" fill="#dadada"/><circle cx="88.6" cy="399.4" r="0.9" fill="#dadada"/><circle cx="86.6" cy="398.4" r="0.9" fill="#dadada"/><circle cx="85.6" cy="404.6" r="0.9" fill="#dadada"/><circle cx="89.7" cy="408.2" r="0.9" fill="#dadada"/><circle cx="93.8" cy="404.6" r="0.9" fill="#dadada"/><circle cx="87.4" cy="405.6" r="0.9" fill="#dadada"/><circle cx="86.9" cy="405.2" r="0.9" fill="#dadada"/><path d="M 30.0,392.0 L 36.0,387.0 L 44.0,385.0 L 52.0,387.0 L 58.0,392.0 L 66.0,398.0 L 74.0,402.0 L 82.0,405.0 L 85.0,411.0 L 83.0,419.0 L 79.0,425.0 L 72.0,428.0 L 62.0,430.0 L 56.0,433.0 L 48.0,434.0 L 40.0,432.0 L 36.0,426.0 L 33.0,418.0 L 30.0,408.0 L 28.0,400.0 Z" fill="#f3f0f6"/><circle cx="57.7" cy="417.5" r="0.8" fill="#8a2a8a"/><circle cx="45.2" cy="400.6" r="0.8" fill="#dadada"/><circle cx="48.4" cy="423.5" r="0.8" fill="#8a2a8a"/><circle cx="56.4" cy="428.7" r="0.8" fill="#dadada"/><circle cx="69.0" cy="411.0" r="0.8" fill="#8a2a8a"/><circle cx="47.4" cy="417.5" r="0.8" fill="#3a9a9a"/><circle cx="50.2" cy="424.3" r="0.8" fill="#8a2a8a"/><circle cx="44.4" cy="389.4" r="0.8" fill="#8a2a8a"/><circle cx="73.2" cy="421.9" r="0.8" fill="#8a2a8a"/><circle cx="45.6" cy="390.5" r="0.8" fill="#3a9a9a"/><circle cx="53.2" cy="396.3" r="0.8" fill="#6f86c8"/><circle cx="77.3" cy="405.8" r="0.8" fill="#6a2a7a"/><circle cx="63.8" cy="408.2" r="0.8" fill="#4a5080"/><circle cx="48.7" cy="394.7" r="0.8" fill="#6f86c8"/><circle cx="45.4" cy="401.2" r="0.8" fill="#8a2a8a"/><circle cx="80.1" cy="405.9" r="0.8" fill="#8a2a8a"/><circle cx="29.8" cy="395.5" r="0.8" fill="#dadada"/><circle cx="47.2" cy="417.7" r="0.8" fill="#8a2a8a"/><circle cx="65.1" cy="407.1" r="0.8" fill="#6a2a7a"/><circle cx="58.1" cy="403.4" r="0.8" fill="#8a2a8a"/><circle cx="61.9" cy="425.8" r="0.8" fill="#6a2a7a"/><circle cx="55.4" cy="401.1" r="0.8" fill="#dadada"/><circle cx="66.7" cy="422.8" r="0.8" fill="#6a2a7a"/><circle cx="46.7" cy="403.6" r="0.8" fill="#dadada"/><circle cx="37.5" cy="404.4" r="0.8" fill="#3a9a9a"/><circle cx="43.6" cy="398.1" r="0.8" fill="#dadada"/><circle cx="62.9" cy="421.4" r="0.8" fill="#dadada"/><circle cx="56.5" cy="419.4" r="0.8" fill="#4a5080"/><circle cx="83.2" cy="417.1" r="0.8" fill="#6f86c8"/><circle cx="65.9" cy="399.4" r="0.8" fill="#8a2a8a"/><circle cx="50.0" cy="391.7" r="0.8" fill="#8a2a8a"/><circle cx="33.3" cy="407.3" r="0.8" fill="#dadada"/><circle cx="34.3" cy="410.0" r="0.8" fill="#8a2a8a"/><circle cx="53.4" cy="419.9" r="0.8" fill="#6f86c8"/><circle cx="50.3" cy="420.7" r="0.8" fill="#8a2a8a"/><circle cx="47.9" cy="419.4" r="0.8" fill="#dadada"/><circle cx="63.6" cy="400.3" r="0.8" fill="#6a2a7a"/><circle cx="47.7" cy="430.9" r="0.8" fill="#6f86c8"/><circle cx="64.0" cy="425.1" r="0.8" fill="#8a2a8a"/><circle cx="47.4" cy="393.2" r="0.8" fill="#6f86c8"/><circle cx="40.1" cy="386.2" r="0.8" fill="#dadada"/><circle cx="37.9" cy="413.1" r="0.8" fill="#4a5080"/><circle cx="42.4" cy="395.6" r="0.8" fill="#6f86c8"/><circle cx="73.1" cy="426.9" r="0.8" fill="#6a2a7a"/><circle cx="46.3" cy="399.9" r="0.8" fill="#6f86c8"/><circle cx="80.3" cy="407.6" r="0.8" fill="#6a2a7a"/><circle cx="55.7" cy="429.6" r="0.8" fill="#8a2a8a"/><circle cx="73.8" cy="420.4" r="0.8" fill="#8a2a8a"/><circle cx="45.6" cy="391.9" r="0.8" fill="#3a9a9a"/><circle cx="53.1" cy="413.1" r="0.8" fill="#6f86c8"/><circle cx="62.6" cy="404.5" r="0.8" fill="#6f86c8"/><circle cx="45.0" cy="422.4" r="0.8" fill="#8a2a8a"/><circle cx="37.1" cy="405.1" r="0.8" fill="#8a2a8a"/><circle cx="42.9" cy="402.3" r="0.8" fill="#4a5080"/><circle cx="34.6" cy="411.1" r="0.8" fill="#8a2a8a"/><circle cx="32.5" cy="394.9" r="0.8" fill="#8a2a8a"/><circle cx="47.5" cy="399.3" r="0.8" fill="#dadada"/><circle cx="65.5" cy="408.2" r="0.8" fill="#dadada"/><circle cx="67.1" cy="400.5" r="0.8" fill="#3a9a9a"/><circle cx="70.5" cy="411.2" r="0.8" fill="#dadada"/><circle cx="43.1" cy="417.9" r="0.8" fill="#dadada"/><circle cx="58.1" cy="429.4" r="0.8" fill="#8a2a8a"/><circle cx="70.8" cy="405.8" r="0.8" fill="#4a5080"/><circle cx="42.2" cy="397.6" r="0.8" fill="#dadada"/><circle cx="64.7" cy="415.8" r="0.8" fill="#8a2a8a"/><circle cx="44.7" cy="432.4" r="0.8" fill="#8a2a8a"/><circle cx="58.7" cy="419.1" r="0.8" fill="#4a5080"/><circle cx="52.5" cy="405.6" r="0.8" fill="#6a2a7a"/><circle cx="67.5" cy="406.1" r="0.8" fill="#8a2a8a"/><circle cx="44.6" cy="403.5" r="0.8" fill="#8a2a8a"/><circle cx="81.1" cy="415.9" r="0.8" fill="#dadada"/><circle cx="56.0" cy="413.7" r="0.8" fill="#dadada"/><circle cx="31.4" cy="402.8" r="0.8" fill="#6f86c8"/><circle cx="47.4" cy="406.0" r="0.8" fill="#8a2a8a"/><circle cx="41.3" cy="394.1" r="0.8" fill="#6f86c8"/><circle cx="61.9" cy="420.3" r="0.8" fill="#6a2a7a"/><circle cx="76.3" cy="408.6" r="0.8" fill="#dadada"/><circle cx="50.6" cy="425.2" r="0.8" fill="#6f86c8"/><circle cx="30.4" cy="393.1" r="0.8" fill="#8a2a8a"/><circle cx="61.4" cy="416.5" r="0.8" fill="#6f86c8"/><circle cx="51.0" cy="432.2" r="0.8" fill="#6f86c8"/><circle cx="57.3" cy="393.8" r="0.8" fill="#8a2a8a"/><circle cx="47.2" cy="390.6" r="0.8" fill="#6f86c8"/><circle cx="65.2" cy="411.9" r="0.8" fill="#dadada"/><circle cx="69.5" cy="404.7" r="0.8" fill="#dadada"/><circle cx="83.6" cy="410.7" r="0.8" fill="#8a2a8a"/><circle cx="48.4" cy="409.4" r="0.8" fill="#8a2a8a"/><circle cx="33.8" cy="404.5" r="0.8" fill="#3a9a9a"/><circle cx="74.5" cy="422.3" r="0.8" fill="#dadada"/><circle cx="73.7" cy="405.2" r="0.8" fill="#3a9a9a"/><circle cx="54.9" cy="398.3" r="0.8" fill="#dadada"/><circle cx="52.3" cy="423.3" r="0.8" fill="#dadada"/><circle cx="72.3" cy="403.6" r="0.8" fill="#6f86c8"/><circle cx="38.8" cy="402.7" r="0.8" fill="#dadada"/><circle cx="53.4" cy="432.1" r="0.8" fill="#8a2a8a"/><circle cx="43.6" cy="417.5" r="0.8" fill="#dadada"/><circle cx="82.0" cy="408.0" r="0.8" fill="#dadada"/><circle cx="41.0" cy="397.7" r="0.8" fill="#dadada"/><circle cx="36.0" cy="411.8" r="0.8" fill="#dadada"/><circle cx="39.5" cy="415.8" r="0.8" fill="#4a5080"/><circle cx="83.1" cy="410.2" r="0.8" fill="#6f86c8"/><circle cx="79.5" cy="421.9" r="0.8" fill="#8a2a8a"/><circle cx="73.8" cy="404.6" r="0.8" fill="#dadada"/><circle cx="82.9" cy="409.2" r="0.8" fill="#6f86c8"/><circle cx="40.9" cy="398.5" r="0.8" fill="#8a2a8a"/><circle cx="37.6" cy="420.8" r="0.8" fill="#8a2a8a"/><circle cx="62.1" cy="414.3" r="0.8" fill="#6a2a7a"/><circle cx="60.3" cy="430.4" r="0.8" fill="#8a2a8a"/><circle cx="33.3" cy="413.5" r="0.8" fill="#8a2a8a"/><circle cx="67.2" cy="425.8" r="0.8" fill="#8a2a8a"/><circle cx="55.6" cy="403.8" r="0.8" fill="#6f86c8"/><circle cx="49.3" cy="408.4" r="0.8" fill="#3a9a9a"/><circle cx="59.5" cy="413.9" r="0.8" fill="#8a2a8a"/><circle cx="68.2" cy="419.8" r="0.8" fill="#dadada"/><circle cx="61.1" cy="398.2" r="0.8" fill="#3a9a9a"/><circle cx="45.5" cy="420.2" r="0.8" fill="#8a2a8a"/><circle cx="30.1" cy="397.9" r="0.8" fill="#dadada"/><circle cx="50.2" cy="410.6" r="0.8" fill="#dadada"/><circle cx="67.6" cy="423.3" r="0.8" fill="#dadada"/><circle cx="47.8" cy="408.2" r="0.8" fill="#dadada"/><circle cx="42.3" cy="408.8" r="0.8" fill="#3a9a9a"/><circle cx="36.9" cy="408.4" r="0.8" fill="#3a9a9a"/><circle cx="37.4" cy="411.0" r="0.8" fill="#6f86c8"/><circle cx="42.8" cy="430.0" r="0.8" fill="#8a2a8a"/><circle cx="42.9" cy="387.0" r="0.8" fill="#3a9a9a"/><circle cx="80.5" cy="416.1" r="0.8" fill="#8a2a8a"/><circle cx="45.9" cy="427.4" r="0.8" fill="#8a2a8a"/><circle cx="47.8" cy="405.5" r="0.8" fill="#dadada"/><circle cx="45.0" cy="403.9" r="0.8" fill="#8a2a8a"/><circle cx="59.3" cy="428.0" r="0.8" fill="#8a2a8a"/><circle cx="58.1" cy="416.2" r="0.8" fill="#4a5080"/><circle cx="51.2" cy="416.7" r="0.8" fill="#8a2a8a"/><circle cx="62.5" cy="413.1" r="0.8" fill="#dadada"/><circle cx="36.9" cy="418.0" r="0.8" fill="#6f86c8"/><circle cx="57.9" cy="425.7" r="0.8" fill="#4a5080"/><circle cx="52.8" cy="416.6" r="0.8" fill="#8a2a8a"/><circle cx="77.7" cy="410.4" r="0.8" fill="#8a2a8a"/><circle cx="55.4" cy="431.3" r="0.8" fill="#dadada"/><circle cx="52.3" cy="398.0" r="0.8" fill="#dadada"/><circle cx="44.2" cy="385.9" r="0.8" fill="#8a2a8a"/><circle cx="54.8" cy="418.0" r="0.8" fill="#8a2a8a"/><circle cx="47.1" cy="420.7" r="0.8" fill="#6f86c8"/><circle cx="38.0" cy="419.8" r="0.8" fill="#6f86c8"/><circle cx="67.6" cy="408.7" r="0.8" fill="#dadada"/><circle cx="74.3" cy="420.4" r="0.8" fill="#6f86c8"/><circle cx="62.7" cy="403.5" r="0.8" fill="#8a2a8a"/><circle cx="78.4" cy="424.6" r="0.8" fill="#dadada"/><circle cx="77.0" cy="412.0" r="0.8" fill="#dadada"/><circle cx="55.0" cy="433.1" r="0.8" fill="#8a2a8a"/><circle cx="49.6" cy="413.0" r="0.8" fill="#dadada"/><circle cx="57.7" cy="423.7" r="0.8" fill="#6f86c8"/><circle cx="66.6" cy="424.0" r="0.8" fill="#3a9a9a"/><circle cx="37.6" cy="420.2" r="0.8" fill="#8a2a8a"/><circle cx="39.8" cy="419.1" r="0.8" fill="#dadada"/><circle cx="50.7" cy="415.5" r="0.8" fill="#8a2a8a"/><circle cx="78.8" cy="409.0" r="0.8" fill="#3a9a9a"/><circle cx="35.6" cy="418.6" r="0.8" fill="#dadada"/><circle cx="39.3" cy="423.2" r="0.8" fill="#dadada"/><circle cx="84.6" cy="412.7" r="0.8" fill="#3a9a9a"/><circle cx="47.7" cy="423.3" r="0.8" fill="#8a2a8a"/><circle cx="36.6" cy="398.7" r="0.8" fill="#4a5080"/><circle cx="34.2" cy="403.9" r="0.8" fill="#8a2a8a"/><circle cx="35.3" cy="406.6" r="0.8" fill="#8a2a8a"/><circle cx="51.5" cy="390.1" r="0.8" fill="#dadada"/><circle cx="43.3" cy="400.7" r="0.8" fill="#6f86c8"/><circle cx="36.4" cy="408.8" r="0.8" fill="#8a2a8a"/><circle cx="35.5" cy="401.4" r="0.8" fill="#dadada"/><circle cx="36.8" cy="413.1" r="0.8" fill="#6f86c8"/><circle cx="41.2" cy="399.8" r="0.8" fill="#dadada"/><circle cx="47.5" cy="397.1" r="0.8" fill="#8a2a8a"/><circle cx="30.5" cy="397.2" r="0.8" fill="#6f86c8"/><circle cx="45.6" cy="390.1" r="0.8" fill="#dadada"/><circle cx="42.4" cy="400.3" r="0.8" fill="#6f86c8"/><circle cx="38.7" cy="404.0" r="0.8" fill="#6f86c8"/><circle cx="38.4" cy="395.1" r="0.8" fill="#8a2a8a"/><circle cx="34.6" cy="413.3" r="0.8" fill="#6f86c8"/><circle cx="36.8" cy="405.1" r="0.8" fill="#8a2a8a"/><circle cx="35.8" cy="401.5" r="0.8" fill="#6f86c8"/><circle cx="35.4" cy="399.9" r="0.8" fill="#dadada"/><circle cx="38.3" cy="399.3" r="0.8" fill="#4a5080"/><circle cx="34.6" cy="403.6" r="0.8" fill="#6f86c8"/><circle cx="38.7" cy="397.7" r="0.8" fill="#8a2a8a"/><circle cx="47.3" cy="395.6" r="0.8" fill="#6f86c8"/><circle cx="32.9" cy="407.5" r="0.8" fill="#4a5080"/><circle cx="29.0" cy="400.9" r="0.8" fill="#6f86c8"/><circle cx="31.0" cy="392.9" r="0.8" fill="#dadada"/><circle cx="42.6" cy="400.0" r="0.8" fill="#8a2a8a"/><circle cx="51.5" cy="390.2" r="0.8" fill="#6f86c8"/><circle cx="47.9" cy="393.9" r="0.8" fill="#8a2a8a"/><circle cx="38.6" cy="390.3" r="0.8" fill="#6f86c8"/><circle cx="36.9" cy="409.3" r="0.8" fill="#4a5080"/><circle cx="28.7" cy="403.8" r="0.8" fill="#dadada"/><circle cx="37.9" cy="412.4" r="0.8" fill="#8a2a8a"/><circle cx="36.6" cy="397.5" r="0.8" fill="#6f86c8"/><circle cx="32.3" cy="397.8" r="0.8" fill="#4a5080"/><circle cx="48.8" cy="390.1" r="0.8" fill="#4a5080"/><circle cx="34.5" cy="396.6" r="0.8" fill="#8a2a8a"/><circle cx="51.5" cy="390.6" r="0.8" fill="#6f86c8"/><circle cx="49.5" cy="394.9" r="0.8" fill="#4a5080"/><circle cx="39.2" cy="389.2" r="0.8" fill="#8a2a8a"/><circle cx="30.6" cy="396.4" r="0.8" fill="#6f86c8"/><circle cx="40.4" cy="401.0" r="0.8" fill="#8a2a8a"/><circle cx="45.2" cy="400.6" r="0.8" fill="#4a5080"/><circle cx="40.8" cy="404.9" r="0.8" fill="#6f86c8"/><circle cx="34.0" cy="397.3" r="0.8" fill="#6f86c8"/><circle cx="38.1" cy="409.7" r="0.8" fill="#8a2a8a"/><circle cx="40.3" cy="399.5" r="0.8" fill="#dadada"/><circle cx="31.1" cy="403.5" r="0.8" fill="#8a2a8a"/><circle cx="43.0" cy="393.4" r="0.8" fill="#8a2a8a"/><circle cx="38.8" cy="388.6" r="0.8" fill="#8a2a8a"/><circle cx="30.8" cy="405.3" r="0.8" fill="#6f86c8"/><circle cx="30.4" cy="402.7" r="0.8" fill="#8a2a8a"/><circle cx="34.8" cy="414.8" r="0.8" fill="#4a5080"/><circle cx="39.0" cy="392.9" r="0.8" fill="#dadada"/><circle cx="36.1" cy="405.3" r="0.8" fill="#8a2a8a"/><circle cx="46.1" cy="392.5" r="0.8" fill="#8a2a8a"/><circle cx="30.1" cy="396.7" r="0.8" fill="#6f86c8"/><circle cx="35.2" cy="411.4" r="0.8" fill="#6f86c8"/><circle cx="46.5" cy="393.6" r="0.8" fill="#8a2a8a"/><circle cx="39.0" cy="405.8" r="0.8" fill="#dadada"/><circle cx="49.4" cy="392.0" r="0.8" fill="#dadada"/><circle cx="39.3" cy="405.4" r="0.8" fill="#dadada"/><circle cx="39.0" cy="411.2" r="0.8" fill="#6f86c8"/><circle cx="35.3" cy="413.9" r="0.8" fill="#dadada"/><circle cx="47.9" cy="397.0" r="0.8" fill="#8a2a8a"/><circle cx="28.6" cy="400.6" r="0.8" fill="#dadada"/><circle cx="29.7" cy="394.1" r="0.8" fill="#6f86c8"/><circle cx="44.8" cy="397.4" r="0.8" fill="#6f86c8"/><circle cx="38.8" cy="387.4" r="0.8" fill="#4a5080"/><circle cx="30.5" cy="401.2" r="0.8" fill="#dadada"/><circle cx="32.8" cy="398.5" r="0.8" fill="#dadada"/><circle cx="41.5" cy="392.2" r="0.8" fill="#8a2a8a"/><circle cx="29.4" cy="402.1" r="0.8" fill="#6f86c8"/><circle cx="38.2" cy="410.5" r="0.8" fill="#6f86c8"/><circle cx="38.7" cy="409.2" r="0.8" fill="#8a2a8a"/><circle cx="36.6" cy="415.2" r="0.8" fill="#8a2a8a"/><circle cx="47.9" cy="390.0" r="0.8" fill="#4a5080"/><circle cx="42.7" cy="390.3" r="0.8" fill="#6f86c8"/><circle cx="34.5" cy="412.3" r="0.8" fill="#dadada"/><circle cx="51.2" cy="391.5" r="0.8" fill="#6f86c8"/><circle cx="45.1" cy="389.1" r="0.8" fill="#6f86c8"/><circle cx="31.8" cy="404.5" r="0.8" fill="#8a2a8a"/><circle cx="48.2" cy="390.9" r="0.8" fill="#dadada"/><circle cx="46.9" cy="398.0" r="0.8" fill="#4a5080"/><circle cx="44.2" cy="389.9" r="0.8" fill="#dadada"/><circle cx="38.6" cy="402.5" r="0.8" fill="#dadada"/><circle cx="33.2" cy="409.0" r="0.8" fill="#4a5080"/><circle cx="37.9" cy="411.2" r="0.8" fill="#8a2a8a"/><circle cx="32.2" cy="407.6" r="0.8" fill="#dadada"/><circle cx="38.7" cy="398.2" r="0.8" fill="#6f86c8"/><circle cx="37.7" cy="412.9" r="0.8" fill="#8a2a8a"/><circle cx="39.4" cy="410.9" r="0.8" fill="#dadada"/><circle cx="38.8" cy="390.1" r="0.8" fill="#8a2a8a"/><circle cx="47.7" cy="392.1" r="0.8" fill="#8a2a8a"/><circle cx="29.6" cy="400.5" r="0.8" fill="#8a2a8a"/><circle cx="50.0" cy="392.4" r="0.8" fill="#8a2a8a"/><circle cx="44.9" cy="388.4" r="0.8" fill="#4a5080"/><circle cx="43.0" cy="386.9" r="0.8" fill="#6f86c8"/><circle cx="46.8" cy="391.2" r="0.8" fill="#4a5080"/><circle cx="38.1" cy="398.5" r="0.8" fill="#dadada"/><circle cx="37.5" cy="414.1" r="0.8" fill="#dadada"/><circle cx="41.3" cy="389.3" r="0.8" fill="#8a2a8a"/><circle cx="42.2" cy="392.4" r="0.8" fill="#dadada"/><circle cx="42.2" cy="389.5" r="0.8" fill="#dadada"/><circle cx="40.5" cy="396.4" r="0.8" fill="#8a2a8a"/><circle cx="40.9" cy="392.6" r="0.8" fill="#dadada"/><circle cx="45.1" cy="391.1" r="0.8" fill="#8a2a8a"/><circle cx="45.5" cy="392.3" r="0.8" fill="#4a5080"/><circle cx="31.8" cy="398.8" r="0.8" fill="#6f86c8"/><circle cx="35.7" cy="402.6" r="0.8" fill="#6f86c8"/><circle cx="50.3" cy="402.4" r="0.8" fill="#8a2a8a"/><circle cx="77.3" cy="412.5" r="0.8" fill="#a040a0"/><circle cx="72.4" cy="422.5" r="0.8" fill="#a040a0"/><circle cx="49.9" cy="407.8" r="0.8" fill="#8a2a8a"/><circle cx="67.6" cy="413.9" r="0.8" fill="#8a2a8a"/><circle cx="49.9" cy="420.7" r="0.8" fill="#3a9a9a"/><circle cx="71.5" cy="422.4" r="0.8" fill="#6a2a7a"/><circle cx="69.0" cy="424.1" r="0.8" fill="#8a2a8a"/><circle cx="77.3" cy="416.0" r="0.8" fill="#8a2a8a"/><circle cx="68.6" cy="423.1" r="0.8" fill="#8a2a8a"/><circle cx="55.8" cy="419.9" r="0.8" fill="#3a9a9a"/><circle cx="82.4" cy="408.7" r="0.8" fill="#8a2a8a"/><circle cx="58.5" cy="404.0" r="0.8" fill="#6a2a7a"/><circle cx="54.8" cy="413.4" r="0.8" fill="#a040a0"/><circle cx="51.3" cy="405.2" r="0.8" fill="#8a2a8a"/><circle cx="71.9" cy="408.0" r="0.8" fill="#8a2a8a"/><circle cx="81.2" cy="414.8" r="0.8" fill="#8a2a8a"/><circle cx="74.4" cy="406.1" r="0.8" fill="#8a2a8a"/><circle cx="58.3" cy="420.7" r="0.8" fill="#6a2a7a"/><circle cx="59.8" cy="403.5" r="0.8" fill="#8a2a8a"/><circle cx="67.6" cy="413.8" r="0.8" fill="#6a2a7a"/><circle cx="73.4" cy="416.0" r="0.8" fill="#a040a0"/><circle cx="80.7" cy="414.5" r="0.8" fill="#8a2a8a"/><circle cx="63.7" cy="407.0" r="0.8" fill="#8a2a8a"/><circle cx="72.5" cy="412.4" r="0.8" fill="#8a2a8a"/><circle cx="59.1" cy="409.0" r="0.8" fill="#8a2a8a"/><circle cx="76.0" cy="423.5" r="0.8" fill="#6a2a7a"/><circle cx="52.3" cy="417.9" r="0.8" fill="#8a2a8a"/><circle cx="52.5" cy="409.2" r="0.8" fill="#8a2a8a"/><circle cx="71.4" cy="420.8" r="0.8" fill="#8a2a8a"/><circle cx="70.9" cy="405.6" r="0.8" fill="#6a2a7a"/><circle cx="61.6" cy="425.3" r="0.8" fill="#8a2a8a"/><circle cx="64.5" cy="418.2" r="0.8" fill="#8a2a8a"/><circle cx="58.2" cy="420.0" r="0.8" fill="#6a2a7a"/><circle cx="54.2" cy="402.0" r="0.8" fill="#8a2a8a"/><circle cx="51.7" cy="415.2" r="0.8" fill="#8a2a8a"/><circle cx="65.1" cy="418.1" r="0.8" fill="#6a2a7a"/><circle cx="67.5" cy="406.8" r="0.8" fill="#8a2a8a"/><circle cx="73.7" cy="408.0" r="0.8" fill="#a040a0"/><circle cx="50.8" cy="413.4" r="0.8" fill="#a040a0"/><circle cx="70.2" cy="407.7" r="0.8" fill="#8a2a8a"/><circle cx="54.6" cy="421.0" r="0.8" fill="#8a2a8a"/><circle cx="77.3" cy="419.5" r="0.8" fill="#a040a0"/><circle cx="64.7" cy="407.9" r="0.8" fill="#a040a0"/><circle cx="61.5" cy="405.2" r="0.8" fill="#8a2a8a"/><circle cx="70.4" cy="412.1" r="0.8" fill="#6a2a7a"/><circle cx="58.9" cy="415.8" r="0.8" fill="#8a2a8a"/><circle cx="78.1" cy="422.2" r="0.8" fill="#8a2a8a"/><circle cx="65.8" cy="410.4" r="0.8" fill="#a040a0"/><circle cx="52.0" cy="403.1" r="0.8" fill="#8a2a8a"/><circle cx="69.4" cy="427.1" r="0.8" fill="#a040a0"/><circle cx="56.8" cy="406.9" r="0.8" fill="#8a2a8a"/><circle cx="53.8" cy="415.7" r="0.8" fill="#6a2a7a"/><circle cx="82.8" cy="412.6" r="0.8" fill="#8a2a8a"/><circle cx="47.1" cy="404.1" r="0.8" fill="#8a2a8a"/><circle cx="50.9" cy="401.2" r="0.8" fill="#a040a0"/><circle cx="62.0" cy="421.2" r="0.8" fill="#6a2a7a"/><circle cx="58.6" cy="402.0" r="0.8" fill="#a040a0"/><circle cx="70.9" cy="407.3" r="0.8" fill="#8a2a8a"/><circle cx="68.8" cy="426.0" r="0.8" fill="#a040a0"/><circle cx="48.2" cy="405.2" r="0.8" fill="#8a2a8a"/><circle cx="47.6" cy="413.6" r="0.8" fill="#a040a0"/><circle cx="53.7" cy="422.9" r="0.8" fill="#8a2a8a"/><circle cx="47.9" cy="401.3" r="0.8" fill="#6a2a7a"/><circle cx="60.1" cy="425.3" r="0.8" fill="#8a2a8a"/><circle cx="77.2" cy="421.1" r="0.8" fill="#8a2a8a"/><circle cx="74.9" cy="416.8" r="0.8" fill="#6a2a7a"/><circle cx="60.5" cy="404.3" r="0.8" fill="#6a2a7a"/><circle cx="64.3" cy="412.1" r="0.8" fill="#3a9a9a"/><circle cx="66.1" cy="405.3" r="0.8" fill="#8a2a8a"/><circle cx="62.7" cy="421.6" r="0.8" fill="#a040a0"/><circle cx="46.3" cy="413.0" r="0.8" fill="#8a2a8a"/><circle cx="48.1" cy="414.3" r="0.8" fill="#8a2a8a"/><circle cx="67.6" cy="405.8" r="0.8" fill="#6a2a7a"/><circle cx="71.1" cy="425.8" r="0.8" fill="#3a9a9a"/><circle cx="56.1" cy="411.7" r="0.8" fill="#8a2a8a"/><circle cx="47.2" cy="417.4" r="0.8" fill="#6a2a7a"/><circle cx="44.3" cy="403.2" r="0.8" fill="#8a2a8a"/><circle cx="59.0" cy="404.3" r="0.8" fill="#8a2a8a"/><circle cx="52.5" cy="422.8" r="0.8" fill="#8a2a8a"/><circle cx="76.5" cy="421.6" r="0.8" fill="#a040a0"/><circle cx="60.0" cy="417.7" r="0.8" fill="#a040a0"/><circle cx="49.2" cy="401.3" r="0.8" fill="#a040a0"/><circle cx="52.3" cy="406.1" r="0.8" fill="#8a2a8a"/><circle cx="50.1" cy="407.6" r="0.8" fill="#8a2a8a"/><circle cx="77.6" cy="420.5" r="0.8" fill="#8a2a8a"/><circle cx="80.8" cy="415.2" r="0.8" fill="#6a2a7a"/><circle cx="43.9" cy="410.0" r="0.8" fill="#8a2a8a"/><circle cx="70.0" cy="427.0" r="0.8" fill="#6a2a7a"/><circle cx="56.1" cy="423.3" r="0.8" fill="#8a2a8a"/><circle cx="83.4" cy="413.5" r="0.8" fill="#6a2a7a"/><circle cx="59.4" cy="421.0" r="0.8" fill="#6a2a7a"/><circle cx="61.7" cy="422.5" r="0.8" fill="#3a9a9a"/><circle cx="54.4" cy="407.2" r="0.8" fill="#3a9a9a"/><circle cx="56.8" cy="410.3" r="0.8" fill="#6a2a7a"/><circle cx="54.9" cy="412.8" r="0.8" fill="#8a2a8a"/><circle cx="61.1" cy="422.3" r="0.8" fill="#a040a0"/><circle cx="54.0" cy="421.8" r="0.8" fill="#a040a0"/><circle cx="68.7" cy="413.7" r="0.8" fill="#3a9a9a"/><circle cx="66.1" cy="426.3" r="0.8" fill="#8a2a8a"/><circle cx="57.7" cy="403.7" r="0.8" fill="#a040a0"/><circle cx="61.8" cy="409.0" r="0.8" fill="#8a2a8a"/><circle cx="62.9" cy="408.6" r="0.8" fill="#8a2a8a"/><circle cx="52.0" cy="414.7" r="0.8" fill="#6a2a7a"/><circle cx="67.3" cy="420.5" r="0.8" fill="#8a2a8a"/><circle cx="63.7" cy="416.0" r="0.8" fill="#a040a0"/><circle cx="54.5" cy="407.9" r="0.8" fill="#8a2a8a"/><circle cx="63.6" cy="425.7" r="0.8" fill="#a040a0"/><circle cx="65.1" cy="419.6" r="0.8" fill="#8a2a8a"/><circle cx="65.1" cy="417.1" r="0.8" fill="#6a2a7a"/><circle cx="66.4" cy="420.6" r="0.8" fill="#a040a0"/><circle cx="56.0" cy="409.9" r="0.8" fill="#a040a0"/><circle cx="79.4" cy="415.5" r="0.8" fill="#6a2a7a"/><circle cx="58.2" cy="412.7" r="0.8" fill="#8a2a8a"/><circle cx="55.7" cy="407.8" r="0.8" fill="#8a2a8a"/><circle cx="50.8" cy="410.4" r="0.8" fill="#6a2a7a"/><circle cx="77.9" cy="408.9" r="0.8" fill="#a040a0"/><circle cx="48.8" cy="417.5" r="0.8" fill="#6a2a7a"/><circle cx="76.1" cy="421.7" r="0.8" fill="#a040a0"/><circle cx="48.6" cy="420.2" r="0.8" fill="#a040a0"/><circle cx="70.3" cy="426.8" r="0.8" fill="#8a2a8a"/><circle cx="62.1" cy="427.1" r="0.8" fill="#8a2a8a"/><circle cx="57.1" cy="408.3" r="0.8" fill="#8a2a8a"/><circle cx="60.7" cy="414.2" r="0.8" fill="#8a2a8a"/><circle cx="63.5" cy="426.0" r="0.8" fill="#8a2a8a"/><circle cx="72.1" cy="422.2" r="0.8" fill="#a040a0"/><circle cx="70.1" cy="410.9" r="0.8" fill="#a040a0"/><circle cx="75.9" cy="416.0" r="0.8" fill="#6a2a7a"/><circle cx="60.2" cy="405.1" r="0.8" fill="#8a2a8a"/><circle cx="72.8" cy="413.8" r="0.8" fill="#6a2a7a"/><circle cx="69.8" cy="426.2" r="0.8" fill="#8a2a8a"/><circle cx="51.9" cy="415.9" r="0.8" fill="#6a2a7a"/><circle cx="70.5" cy="417.9" r="0.8" fill="#8a2a8a"/><circle cx="67.8" cy="426.2" r="0.8" fill="#a040a0"/><circle cx="61.7" cy="420.5" r="0.8" fill="#8a2a8a"/><circle cx="66.3" cy="421.5" r="0.8" fill="#a040a0"/><circle cx="65.2" cy="414.3" r="0.8" fill="#6a2a7a"/><circle cx="74.0" cy="410.4" r="0.8" fill="#6a2a7a"/><circle cx="53.4" cy="402.2" r="0.8" fill="#8a2a8a"/><circle cx="50.3" cy="411.4" r="0.8" fill="#8a2a8a"/><circle cx="75.0" cy="419.2" r="0.8" fill="#8a2a8a"/><circle cx="50.4" cy="411.6" r="0.8" fill="#a040a0"/><circle cx="77.3" cy="419.3" r="0.8" fill="#8a2a8a"/><circle cx="77.2" cy="414.2" r="0.8" fill="#8a2a8a"/><circle cx="79.9" cy="418.8" r="0.8" fill="#8a2a8a"/><circle cx="45.8" cy="413.3" r="0.8" fill="#a040a0"/><circle cx="61.0" cy="414.9" r="0.8" fill="#8a2a8a"/><circle cx="67.8" cy="411.4" r="0.8" fill="#8a2a8a"/><circle cx="51.7" cy="416.6" r="0.8" fill="#a040a0"/><circle cx="64.8" cy="417.0" r="0.8" fill="#6a2a7a"/><circle cx="72.1" cy="419.5" r="0.8" fill="#8a2a8a"/><circle cx="82.6" cy="413.8" r="0.8" fill="#8a2a8a"/><circle cx="72.7" cy="421.3" r="0.8" fill="#8a2a8a"/><circle cx="73.2" cy="418.9" r="0.8" fill="#a040a0"/><circle cx="62.4" cy="425.8" r="0.8" fill="#8a2a8a"/><circle cx="56.3" cy="406.3" r="0.8" fill="#8a2a8a"/><circle cx="46.7" cy="418.2" r="0.8" fill="#a040a0"/><circle cx="81.1" cy="409.9" r="0.8" fill="#8a2a8a"/><circle cx="64.6" cy="416.8" r="0.8" fill="#a040a0"/><circle cx="66.5" cy="419.4" r="0.8" fill="#6a2a7a"/><circle cx="66.4" cy="409.3" r="0.8" fill="#8a2a8a"/><circle cx="51.9" cy="421.9" r="0.8" fill="#8a2a8a"/><circle cx="54.0" cy="424.0" r="0.8" fill="#8a2a8a"/><circle cx="70.3" cy="405.6" r="0.8" fill="#8a2a8a"/><circle cx="70.6" cy="423.3" r="0.8" fill="#3a9a9a"/><circle cx="60.9" cy="414.9" r="0.8" fill="#8a2a8a"/><circle cx="69.5" cy="407.6" r="0.8" fill="#3a9a9a"/><circle cx="77.0" cy="417.2" r="0.8" fill="#8a2a8a"/><circle cx="60.9" cy="415.3" r="0.8" fill="#3a9a9a"/><circle cx="74.1" cy="413.2" r="0.8" fill="#8a2a8a"/><circle cx="50.2" cy="415.3" r="0.8" fill="#a040a0"/><circle cx="69.0" cy="416.8" r="0.8" fill="#8a2a8a"/><circle cx="64.2" cy="418.5" r="0.8" fill="#a040a0"/><circle cx="53.5" cy="417.6" r="0.8" fill="#8a2a8a"/><circle cx="74.3" cy="408.5" r="0.8" fill="#3a9a9a"/><circle cx="71.4" cy="414.8" r="0.8" fill="#6a2a7a"/><circle cx="66.9" cy="407.5" r="0.8" fill="#8a2a8a"/><circle cx="61.6" cy="408.2" r="0.8" fill="#8a2a8a"/><circle cx="51.6" cy="405.8" r="0.8" fill="#3a9a9a"/><circle cx="58.5" cy="421.0" r="0.8" fill="#8a2a8a"/><circle cx="60.9" cy="422.4" r="0.8" fill="#8a2a8a"/><circle cx="63.3" cy="416.7" r="0.8" fill="#8a2a8a"/><circle cx="72.3" cy="405.5" r="0.8" fill="#8a2a8a"/><circle cx="49.4" cy="401.3" r="0.8" fill="#8a2a8a"/><circle cx="54.6" cy="409.4" r="0.8" fill="#8a2a8a"/><circle cx="47.9" cy="418.5" r="0.8" fill="#a040a0"/><circle cx="44.1" cy="408.9" r="0.8" fill="#8a2a8a"/><circle cx="61.8" cy="405.7" r="0.8" fill="#a040a0"/><circle cx="58.6" cy="402.3" r="0.8" fill="#6a2a7a"/><circle cx="61.8" cy="420.7" r="0.8" fill="#a040a0"/><circle cx="53.1" cy="410.8" r="0.8" fill="#a040a0"/><circle cx="82.7" cy="415.5" r="0.8" fill="#6a2a7a"/><circle cx="56.7" cy="412.2" r="0.8" fill="#8a2a8a"/><circle cx="63.3" cy="408.0" r="0.8" fill="#8a2a8a"/><circle cx="44.2" cy="402.4" r="0.8" fill="#a040a0"/><circle cx="53.1" cy="410.2" r="0.8" fill="#a040a0"/><circle cx="61.2" cy="419.0" r="0.8" fill="#a040a0"/><circle cx="58.9" cy="405.6" r="0.8" fill="#8a2a8a"/><circle cx="78.4" cy="416.1" r="0.8" fill="#a040a0"/><circle cx="66.6" cy="413.6" r="0.8" fill="#8a2a8a"/><circle cx="43.8" cy="409.7" r="0.8" fill="#8a2a8a"/><circle cx="80.8" cy="409.0" r="0.8" fill="#a040a0"/><circle cx="58.6" cy="410.2" r="0.8" fill="#6a2a7a"/><circle cx="69.5" cy="414.2" r="0.8" fill="#8a2a8a"/><circle cx="75.1" cy="408.8" r="0.8" fill="#8a2a8a"/><circle cx="59.9" cy="410.2" r="0.8" fill="#a040a0"/><circle cx="51.5" cy="411.1" r="0.8" fill="#a040a0"/><circle cx="62.0" cy="409.5" r="0.8" fill="#8a2a8a"/><circle cx="57.4" cy="414.9" r="0.8" fill="#a040a0"/><circle cx="63.4" cy="421.2" r="0.8" fill="#8a2a8a"/><circle cx="53.4" cy="419.5" r="0.8" fill="#a040a0"/><circle cx="45.5" cy="405.3" r="0.8" fill="#8a2a8a"/><circle cx="80.1" cy="413.5" r="0.8" fill="#8a2a8a"/><circle cx="53.0" cy="413.1" r="0.8" fill="#6a2a7a"/><circle cx="67.5" cy="425.0" r="0.8" fill="#8a2a8a"/><circle cx="67.9" cy="419.9" r="0.8" fill="#a040a0"/><circle cx="79.3" cy="408.9" r="0.8" fill="#8a2a8a"/><circle cx="61.4" cy="427.0" r="0.8" fill="#8a2a8a"/><circle cx="60.8" cy="411.9" r="0.8" fill="#8a2a8a"/><circle cx="61.9" cy="411.9" r="0.8" fill="#3a9a9a"/><circle cx="78.0" cy="408.2" r="0.8" fill="#8a2a8a"/><circle cx="55.0" cy="418.1" r="0.8" fill="#a040a0"/><circle cx="69.1" cy="406.3" r="0.8" fill="#8a2a8a"/><circle cx="78.0" cy="407.8" r="0.8" fill="#6a2a7a"/><circle cx="65.9" cy="424.0" r="0.8" fill="#a040a0"/><circle cx="75.4" cy="409.4" r="0.8" fill="#a040a0"/><circle cx="72.8" cy="413.0" r="0.8" fill="#8a2a8a"/><circle cx="69.3" cy="422.6" r="0.8" fill="#a040a0"/><circle cx="78.4" cy="414.3" r="0.8" fill="#a040a0"/><circle cx="80.5" cy="416.5" r="0.8" fill="#8a2a8a"/><circle cx="59.4" cy="419.1" r="0.8" fill="#8a2a8a"/><circle cx="75.0" cy="417.1" r="0.8" fill="#8a2a8a"/><circle cx="48.7" cy="419.2" r="0.8" fill="#a040a0"/><circle cx="68.3" cy="412.2" r="0.8" fill="#8a2a8a"/><circle cx="54.9" cy="411.7" r="0.8" fill="#6a2a7a"/><circle cx="43.1" cy="409.0" r="0.8" fill="#8a2a8a"/><circle cx="50.2" cy="408.2" r="0.8" fill="#8a2a8a"/><circle cx="75.2" cy="424.3" r="0.8" fill="#6a2a7a"/><circle cx="68.9" cy="416.8" r="0.8" fill="#8a2a8a"/><circle cx="70.3" cy="426.7" r="0.8" fill="#a040a0"/><circle cx="53.0" cy="408.1" r="0.8" fill="#3a9a9a"/><circle cx="52.9" cy="404.3" r="0.8" fill="#a040a0"/><circle cx="56.3" cy="417.4" r="0.8" fill="#8a2a8a"/><circle cx="52.4" cy="416.5" r="0.8" fill="#8a2a8a"/><circle cx="70.4" cy="415.6" r="0.8" fill="#8a2a8a"/><circle cx="51.4" cy="402.2" r="0.8" fill="#8a2a8a"/><circle cx="72.2" cy="409.3" r="0.8" fill="#8a2a8a"/><circle cx="68.7" cy="406.0" r="0.8" fill="#a040a0"/><circle cx="50.5" cy="418.9" r="0.8" fill="#a040a0"/><circle cx="53.9" cy="413.5" r="0.8" fill="#8a2a8a"/><circle cx="58.7" cy="423.4" r="0.8" fill="#6a2a7a"/><circle cx="68.9" cy="425.4" r="0.8" fill="#a040a0"/><circle cx="70.5" cy="415.5" r="0.8" fill="#a040a0"/><circle cx="65.8" cy="407.9" r="0.8" fill="#8a2a8a"/><circle cx="48.4" cy="411.7" r="0.8" fill="#6a2a7a"/><circle cx="48.4" cy="401.4" r="0.8" fill="#6a2a7a"/><circle cx="69.1" cy="421.6" r="0.8" fill="#8a2a8a"/><circle cx="46.6" cy="414.6" r="0.8" fill="#8a2a8a"/><circle cx="76.2" cy="418.0" r="0.8" fill="#8a2a8a"/><circle cx="54.1" cy="419.8" r="0.8" fill="#8a2a8a"/><circle cx="65.9" cy="425.3" r="0.8" fill="#3a9a9a"/><circle cx="74.6" cy="423.1" r="0.8" fill="#8a2a8a"/><circle cx="57.7" cy="407.3" r="0.8" fill="#8a2a8a"/><circle cx="46.4" cy="401.6" r="0.8" fill="#8a2a8a"/><circle cx="56.6" cy="410.6" r="0.8" fill="#8a2a8a"/><circle cx="77.2" cy="410.2" r="0.8" fill="#8a2a8a"/><circle cx="76.0" cy="412.6" r="0.8" fill="#a040a0"/><circle cx="54.4" cy="423.5" r="0.8" fill="#3a9a9a"/><circle cx="52.6" cy="404.1" r="0.8" fill="#a040a0"/><circle cx="70.2" cy="405.8" r="0.8" fill="#3a9a9a"/><circle cx="62.1" cy="427.5" r="0.8" fill="#6a2a7a"/><circle cx="76.2" cy="412.4" r="0.8" fill="#8a2a8a"/><circle cx="60.5" cy="418.5" r="0.8" fill="#a040a0"/><circle cx="74.2" cy="410.5" r="0.8" fill="#8a2a8a"/><circle cx="80.2" cy="412.2" r="0.8" fill="#3a9a9a"/><circle cx="70.6" cy="422.1" r="0.8" fill="#6a2a7a"/><circle cx="51.2" cy="413.6" r="0.8" fill="#6a2a7a"/><circle cx="47.5" cy="410.4" r="0.8" fill="#a040a0"/><circle cx="52.1" cy="412.2" r="0.8" fill="#8a2a8a"/><circle cx="64.5" cy="407.6" r="0.8" fill="#8a2a8a"/><circle cx="74.1" cy="412.3" r="0.8" fill="#6a2a7a"/><circle cx="75.8" cy="405.8" r="0.8" fill="#8a2a8a"/><circle cx="48.6" cy="412.8" r="0.8" fill="#8a2a8a"/><circle cx="70.6" cy="410.2" r="0.8" fill="#6a2a7a"/><circle cx="66.6" cy="416.5" r="0.8" fill="#8a2a8a"/><circle cx="60.2" cy="403.5" r="0.8" fill="#6a2a7a"/><circle cx="56.2" cy="408.0" r="0.8" fill="#a040a0"/><circle cx="60.1" cy="403.0" r="0.8" fill="#6a2a7a"/><circle cx="59.4" cy="410.8" r="0.8" fill="#6a2a7a"/><circle cx="63.6" cy="425.1" r="0.8" fill="#8a2a8a"/><circle cx="76.3" cy="423.6" r="0.8" fill="#8a2a8a"/><circle cx="64.8" cy="424.3" r="0.8" fill="#8a2a8a"/><circle cx="52.8" cy="416.5" r="0.8" fill="#a040a0"/><circle cx="80.9" cy="415.5" r="0.8" fill="#8a2a8a"/><circle cx="65.8" cy="414.0" r="0.8" fill="#8a2a8a"/><circle cx="54.6" cy="424.4" r="0.8" fill="#6a2a7a"/><circle cx="68.3" cy="420.9" r="0.8" fill="#6a2a7a"/><circle cx="51.6" cy="403.3" r="0.8" fill="#8a2a8a"/><circle cx="48.0" cy="408.2" r="0.8" fill="#a040a0"/><circle cx="71.8" cy="407.9" r="0.8" fill="#8a2a8a"/><circle cx="46.7" cy="408.7" r="0.8" fill="#8a2a8a"/><circle cx="56.4" cy="423.3" r="0.8" fill="#8a2a8a"/><circle cx="49.4" cy="401.4" r="0.8" fill="#6a2a7a"/><circle cx="58.0" cy="422.3" r="0.8" fill="#8a2a8a"/><circle cx="64.4" cy="408.0" r="0.8" fill="#8a2a8a"/><circle cx="69.3" cy="410.8" r="0.8" fill="#8a2a8a"/><circle cx="56.8" cy="401.1" r="0.8" fill="#8a2a8a"/><circle cx="80.7" cy="415.7" r="0.8" fill="#8a2a8a"/><circle cx="62.4" cy="414.9" r="0.8" fill="#8a2a8a"/><circle cx="65.3" cy="407.6" r="0.8" fill="#8a2a8a"/><circle cx="52.3" cy="409.5" r="0.8" fill="#a040a0"/><circle cx="45.0" cy="413.5" r="0.8" fill="#6a2a7a"/><circle cx="75.0" cy="409.5" r="0.8" fill="#8a2a8a"/><circle cx="70.6" cy="420.0" r="0.8" fill="#3a9a9a"/><circle cx="53.5" cy="419.7" r="0.8" fill="#3a9a9a"/><circle cx="64.8" cy="419.4" r="0.8" fill="#8a2a8a"/><circle cx="54.9" cy="411.1" r="0.8" fill="#8a2a8a"/><circle cx="47.8" cy="410.3" r="0.8" fill="#6a2a7a"/><circle cx="63.7" cy="414.5" r="0.8" fill="#6a2a7a"/><circle cx="73.8" cy="420.6" r="0.8" fill="#8a2a8a"/><circle cx="45.7" cy="395.0" r="0.8" fill="#6a2a7a"/><circle cx="41.6" cy="392.6" r="0.8" fill="#6a2a7a"/><circle cx="48.9" cy="396.6" r="0.8" fill="#8a2a8a"/><circle cx="47.9" cy="390.7" r="0.8" fill="#6f86c8"/><circle cx="54.3" cy="394.9" r="0.8" fill="#8a2a8a"/><circle cx="40.9" cy="393.2" r="0.8" fill="#8a2a8a"/><circle cx="47.0" cy="401.0" r="0.8" fill="#6a2a7a"/><circle cx="45.3" cy="392.3" r="0.8" fill="#8a2a8a"/><circle cx="49.0" cy="395.3" r="0.8" fill="#8a2a8a"/><circle cx="50.0" cy="394.2" r="0.8" fill="#8a2a8a"/><circle cx="42.6" cy="399.7" r="0.8" fill="#6a2a7a"/><circle cx="51.1" cy="395.2" r="0.8" fill="#6a2a7a"/><circle cx="53.4" cy="397.4" r="0.8" fill="#8a2a8a"/><circle cx="51.1" cy="399.4" r="0.8" fill="#8a2a8a"/><circle cx="41.8" cy="397.6" r="0.8" fill="#6a2a7a"/><circle cx="49.2" cy="400.9" r="0.8" fill="#8a2a8a"/><circle cx="50.9" cy="397.7" r="0.8" fill="#6f86c8"/><circle cx="48.7" cy="398.2" r="0.8" fill="#6a2a7a"/><circle cx="51.4" cy="392.0" r="0.8" fill="#8a2a8a"/><circle cx="54.1" cy="395.7" r="0.8" fill="#6a2a7a"/><circle cx="44.6" cy="391.4" r="0.8" fill="#6a2a7a"/><circle cx="50.5" cy="392.2" r="0.8" fill="#8a2a8a"/><circle cx="45.8" cy="398.9" r="0.8" fill="#6a2a7a"/><circle cx="41.3" cy="393.8" r="0.8" fill="#8a2a8a"/><circle cx="52.1" cy="393.0" r="0.8" fill="#8a2a8a"/><circle cx="47.9" cy="395.0" r="0.8" fill="#6a2a7a"/><circle cx="43.6" cy="396.7" r="0.8" fill="#8a2a8a"/><circle cx="53.8" cy="397.6" r="0.8" fill="#6f86c8"/><circle cx="45.7" cy="392.4" r="0.8" fill="#6a2a7a"/><circle cx="41.5" cy="395.0" r="0.8" fill="#8a2a8a"/><circle cx="54.5" cy="394.7" r="0.8" fill="#8a2a8a"/><circle cx="50.6" cy="395.8" r="0.8" fill="#8a2a8a"/><circle cx="43.8" cy="392.0" r="0.8" fill="#6f86c8"/><circle cx="49.1" cy="398.6" r="0.8" fill="#6a2a7a"/><circle cx="43.6" cy="400.2" r="0.8" fill="#6f86c8"/><circle cx="41.5" cy="393.8" r="0.8" fill="#8a2a8a"/><circle cx="49.6" cy="399.4" r="0.8" fill="#6f86c8"/><circle cx="50.3" cy="398.7" r="0.8" fill="#8a2a8a"/><circle cx="49.9" cy="397.0" r="0.8" fill="#6f86c8"/><circle cx="48.2" cy="393.9" r="0.8" fill="#8a2a8a"/><circle cx="45.7" cy="393.3" r="0.8" fill="#8a2a8a"/><circle cx="44.2" cy="394.9" r="0.8" fill="#8a2a8a"/><circle cx="47.3" cy="390.6" r="0.8" fill="#8a2a8a"/><circle cx="45.0" cy="391.1" r="0.8" fill="#8a2a8a"/><circle cx="54.2" cy="395.6" r="0.8" fill="#8a2a8a"/><circle cx="49.2" cy="393.2" r="0.8" fill="#6f86c8"/><circle cx="43.4" cy="399.4" r="0.8" fill="#8a2a8a"/><circle cx="49.1" cy="391.3" r="0.8" fill="#6f86c8"/><circle cx="53.7" cy="397.5" r="0.8" fill="#8a2a8a"/><circle cx="50.4" cy="394.6" r="0.8" fill="#8a2a8a"/><circle cx="46.4" cy="396.2" r="0.8" fill="#6a2a7a"/><circle cx="50.2" cy="395.9" r="0.8" fill="#6a2a7a"/><circle cx="44.0" cy="393.7" r="0.8" fill="#6a2a7a"/><circle cx="47.9" cy="394.3" r="0.8" fill="#8a2a8a"/><circle cx="51.4" cy="395.7" r="0.8" fill="#8a2a8a"/><circle cx="46.5" cy="396.9" r="0.8" fill="#6f86c8"/><circle cx="50.1" cy="393.9" r="0.8" fill="#8a2a8a"/><circle cx="44.5" cy="392.2" r="0.8" fill="#8a2a8a"/><circle cx="52.0" cy="394.6" r="0.8" fill="#8a2a8a"/><circle cx="42.6" cy="398.8" r="0.8" fill="#6f86c8"/><circle cx="51.4" cy="420.7" r="0.8" fill="#6f86c8"/><circle cx="38.5" cy="421.2" r="0.8" fill="#6f86c8"/><circle cx="46.9" cy="428.2" r="0.8" fill="#4f62a8"/><circle cx="52.6" cy="431.4" r="0.8" fill="#8ea0d8"/><circle cx="45.4" cy="427.5" r="0.8" fill="#4f62a8"/><circle cx="51.3" cy="429.9" r="0.8" fill="#8ea0d8"/><circle cx="46.1" cy="430.3" r="0.8" fill="#6f86c8"/><circle cx="54.6" cy="424.0" r="0.8" fill="#8ea0d8"/><circle cx="42.5" cy="420.9" r="0.8" fill="#6f86c8"/><circle cx="41.1" cy="419.1" r="0.8" fill="#4f62a8"/><circle cx="52.0" cy="422.2" r="0.8" fill="#6f86c8"/><circle cx="41.2" cy="432.1" r="0.8" fill="#6f86c8"/><circle cx="40.4" cy="417.3" r="0.8" fill="#8ea0d8"/><circle cx="40.8" cy="423.1" r="0.8" fill="#6f86c8"/><circle cx="48.9" cy="430.7" r="0.8" fill="#4f62a8"/><circle cx="38.9" cy="417.1" r="0.8" fill="#4f62a8"/><circle cx="45.8" cy="425.0" r="0.8" fill="#6f86c8"/><circle cx="45.3" cy="432.1" r="0.8" fill="#8ea0d8"/><circle cx="43.2" cy="428.7" r="0.8" fill="#6f86c8"/><circle cx="55.2" cy="425.7" r="0.8" fill="#3a9a9a"/><circle cx="45.2" cy="425.0" r="0.8" fill="#6f86c8"/><circle cx="39.0" cy="422.7" r="0.8" fill="#6f86c8"/><circle cx="43.7" cy="429.6" r="0.8" fill="#8ea0d8"/><circle cx="46.6" cy="425.7" r="0.8" fill="#3a9a9a"/><circle cx="47.0" cy="424.2" r="0.8" fill="#8ea0d8"/><circle cx="40.4" cy="425.2" r="0.8" fill="#6f86c8"/><circle cx="52.9" cy="429.8" r="0.8" fill="#6f86c8"/><circle cx="56.1" cy="424.7" r="0.8" fill="#6f86c8"/><circle cx="38.2" cy="423.3" r="0.8" fill="#6f86c8"/><circle cx="51.8" cy="430.9" r="0.8" fill="#6f86c8"/><circle cx="47.4" cy="425.5" r="0.8" fill="#6f86c8"/><circle cx="45.9" cy="433.4" r="0.8" fill="#6f86c8"/><circle cx="45.0" cy="426.1" r="0.8" fill="#8ea0d8"/><circle cx="49.5" cy="433.7" r="0.8" fill="#6f86c8"/><circle cx="53.3" cy="430.8" r="0.8" fill="#3a9a9a"/><circle cx="42.0" cy="425.6" r="0.8" fill="#4f62a8"/><circle cx="38.2" cy="428.7" r="0.8" fill="#8ea0d8"/><circle cx="41.8" cy="421.4" r="0.8" fill="#4f62a8"/><circle cx="52.1" cy="425.3" r="0.8" fill="#4f62a8"/><circle cx="43.1" cy="430.6" r="0.8" fill="#6f86c8"/><circle cx="52.5" cy="425.6" r="0.8" fill="#6f86c8"/><circle cx="45.9" cy="428.0" r="0.8" fill="#8ea0d8"/><circle cx="51.1" cy="425.0" r="0.8" fill="#6f86c8"/><circle cx="41.3" cy="426.0" r="0.8" fill="#4f62a8"/><circle cx="52.6" cy="432.7" r="0.8" fill="#6f86c8"/><circle cx="47.7" cy="432.9" r="0.8" fill="#3a9a9a"/><circle cx="40.6" cy="416.9" r="0.8" fill="#8ea0d8"/><circle cx="39.0" cy="425.1" r="0.8" fill="#6f86c8"/><circle cx="53.1" cy="431.6" r="0.8" fill="#3a9a9a"/><circle cx="41.8" cy="419.5" r="0.8" fill="#8ea0d8"/><circle cx="47.7" cy="418.2" r="0.8" fill="#4f62a8"/><circle cx="44.6" cy="428.8" r="0.8" fill="#8ea0d8"/><circle cx="44.2" cy="419.5" r="0.8" fill="#6f86c8"/><circle cx="49.5" cy="428.2" r="0.8" fill="#3a9a9a"/><circle cx="57.3" cy="427.5" r="0.8" fill="#6f86c8"/><circle cx="37.7" cy="422.1" r="0.8" fill="#6f86c8"/><circle cx="48.3" cy="422.9" r="0.8" fill="#3a9a9a"/><circle cx="55.4" cy="425.7" r="0.8" fill="#6f86c8"/><circle cx="47.6" cy="430.2" r="0.8" fill="#8ea0d8"/><circle cx="41.5" cy="416.4" r="0.8" fill="#8ea0d8"/><circle cx="42.6" cy="416.8" r="0.8" fill="#6f86c8"/><circle cx="46.4" cy="419.3" r="0.8" fill="#8ea0d8"/><circle cx="50.9" cy="425.6" r="0.8" fill="#6f86c8"/><circle cx="44.1" cy="424.9" r="0.8" fill="#6f86c8"/><circle cx="51.8" cy="420.7" r="0.8" fill="#6f86c8"/><circle cx="47.2" cy="423.9" r="0.8" fill="#6f86c8"/><circle cx="53.6" cy="421.0" r="0.8" fill="#6f86c8"/><circle cx="53.6" cy="431.4" r="0.8" fill="#4f62a8"/><circle cx="51.7" cy="421.1" r="0.8" fill="#3a9a9a"/><circle cx="52.6" cy="431.4" r="0.8" fill="#6f86c8"/><circle cx="41.9" cy="421.2" r="0.8" fill="#8ea0d8"/><circle cx="46.7" cy="433.6" r="0.8" fill="#8ea0d8"/><circle cx="39.3" cy="423.9" r="0.8" fill="#6f86c8"/><circle cx="39.8" cy="421.0" r="0.8" fill="#4f62a8"/><circle cx="43.9" cy="423.2" r="0.8" fill="#6f86c8"/><circle cx="42.1" cy="428.6" r="0.8" fill="#6f86c8"/><circle cx="44.8" cy="420.8" r="0.8" fill="#6f86c8"/><circle cx="49.2" cy="428.4" r="0.8" fill="#8ea0d8"/><circle cx="41.3" cy="417.1" r="0.8" fill="#3a9a9a"/><circle cx="48.7" cy="429.8" r="0.8" fill="#8ea0d8"/><circle cx="41.2" cy="417.0" r="0.8" fill="#8ea0d8"/><circle cx="51.2" cy="424.4" r="0.8" fill="#6f86c8"/><circle cx="53.3" cy="432.9" r="0.8" fill="#6f86c8"/><circle cx="43.2" cy="430.5" r="0.8" fill="#6f86c8"/><circle cx="41.4" cy="431.3" r="0.8" fill="#6f86c8"/><circle cx="50.0" cy="426.7" r="0.8" fill="#4f62a8"/><circle cx="40.8" cy="421.6" r="0.8" fill="#6f86c8"/><circle cx="50.9" cy="430.1" r="0.8" fill="#3a9a9a"/><circle cx="39.1" cy="418.2" r="0.8" fill="#4f62a8"/><circle cx="53.7" cy="427.5" r="0.8" fill="#8ea0d8"/><circle cx="40.1" cy="432.2" r="0.8" fill="#6f86c8"/><circle cx="38.7" cy="434.2" r="0.8" fill="#6f86c8"/><circle cx="43.2" cy="432.9" r="0.8" fill="#6f86c8"/><circle cx="41.8" cy="431.7" r="0.8" fill="#6f86c8"/><circle cx="42.7" cy="432.1" r="0.8" fill="#6f86c8"/><circle cx="43.2" cy="431.8" r="0.8" fill="#6f86c8"/><circle cx="38.1" cy="432.6" r="0.8" fill="#6f86c8"/><circle cx="35.8" cy="433.6" r="0.8" fill="#6f86c8"/><circle cx="41.9" cy="433.0" r="0.8" fill="#6f86c8"/><circle cx="40.4" cy="433.7" r="0.8" fill="#6f86c8"/><circle cx="60.2" cy="421.9" r="0.8" fill="#3a9a9a"/><circle cx="60.5" cy="419.5" r="0.8" fill="#3a9a9a"/><circle cx="58.4" cy="421.8" r="0.8" fill="#3a9a9a"/><circle cx="57.3" cy="422.1" r="0.8" fill="#3a9a9a"/><circle cx="62.4" cy="412.3" r="0.8" fill="#3a9a9a"/><circle cx="60.1" cy="415.2" r="0.8" fill="#2a8a8a"/><circle cx="61.8" cy="407.5" r="0.8" fill="#3a9a9a"/><circle cx="58.9" cy="418.1" r="0.8" fill="#2a8a8a"/><circle cx="63.0" cy="415.9" r="0.8" fill="#3a9a9a"/><circle cx="62.8" cy="415.2" r="0.8" fill="#2a8a8a"/><circle cx="63.3" cy="414.8" r="0.8" fill="#3a9a9a"/><circle cx="61.2" cy="417.1" r="0.8" fill="#3a9a9a"/><circle cx="58.7" cy="411.9" r="0.8" fill="#3a9a9a"/><circle cx="60.4" cy="414.7" r="0.8" fill="#3a9a9a"/><circle cx="59.1" cy="418.1" r="0.8" fill="#2a8a8a"/><circle cx="59.2" cy="412.8" r="0.8" fill="#3a9a9a"/><circle cx="63.0" cy="415.4" r="0.8" fill="#3a9a9a"/><circle cx="57.8" cy="421.8" r="0.8" fill="#3a9a9a"/><circle cx="59.3" cy="426.0" r="0.8" fill="#3a9a9a"/><circle cx="59.5" cy="415.6" r="0.8" fill="#3a9a9a"/><circle cx="60.0" cy="409.3" r="0.8" fill="#3a9a9a"/><circle cx="58.8" cy="424.1" r="0.8" fill="#2a8a8a"/><circle cx="61.0" cy="421.8" r="0.8" fill="#3a9a9a"/><circle cx="59.1" cy="417.2" r="0.8" fill="#3a9a9a"/><circle cx="60.2" cy="415.5" r="0.8" fill="#3a9a9a"/><circle cx="63.6" cy="412.1" r="0.8" fill="#3a9a9a"/><circle cx="57.8" cy="422.1" r="0.8" fill="#3a9a9a"/><circle cx="63.3" cy="413.1" r="0.8" fill="#2a8a8a"/><circle cx="59.1" cy="426.8" r="0.8" fill="#2a8a8a"/><circle cx="60.9" cy="405.1" r="0.8" fill="#3a9a9a"/><circle cx="59.5" cy="413.4" r="0.8" fill="#3a9a9a"/><circle cx="62.6" cy="426.4" r="0.8" fill="#2a8a8a"/><circle cx="60.0" cy="406.0" r="0.8" fill="#2a8a8a"/><circle cx="58.8" cy="416.0" r="0.8" fill="#3a9a9a"/><circle cx="60.6" cy="409.4" r="0.8" fill="#3a9a9a"/><circle cx="64.7" cy="419.7" r="0.8" fill="#3a9a9a"/><circle cx="58.6" cy="414.8" r="0.8" fill="#3a9a9a"/><circle cx="65.5" cy="420.5" r="0.8" fill="#3a9a9a"/><circle cx="55.1" cy="414.3" r="0.8" fill="#3a9a9a"/><circle cx="58.5" cy="415.4" r="0.8" fill="#3a9a9a"/><circle cx="69.3" cy="414.4" r="0.8" fill="#3a9a9a"/><circle cx="60.3" cy="419.9" r="0.8" fill="#3a9a9a"/><circle cx="59.2" cy="413.6" r="0.8" fill="#3a9a9a"/><circle cx="69.6" cy="413.6" r="0.8" fill="#3a9a9a"/><circle cx="54.8" cy="412.3" r="0.8" fill="#3a9a9a"/><circle cx="53.4" cy="417.3" r="0.8" fill="#3a9a9a"/><circle cx="58.2" cy="415.1" r="0.8" fill="#3a9a9a"/><circle cx="56.9" cy="429.0" r="0.8" fill="#3a9a9a"/><circle cx="67.3" cy="424.0" r="0.8" fill="#3a9a9a"/><circle cx="55.0" cy="411.6" r="0.8" fill="#3a9a9a"/><circle cx="61.2" cy="426.7" r="0.8" fill="#3a9a9a"/><circle cx="68.7" cy="411.8" r="0.8" fill="#3a9a9a"/><circle cx="65.2" cy="425.3" r="0.8" fill="#3a9a9a"/><circle cx="56.9" cy="424.9" r="0.8" fill="#3a9a9a"/><circle cx="57.2" cy="410.4" r="0.8" fill="#3a9a9a"/><circle cx="62.2" cy="416.9" r="0.8" fill="#3a9a9a"/><circle cx="53.8" cy="415.2" r="0.8" fill="#3a9a9a"/><circle cx="59.8" cy="414.7" r="0.8" fill="#3a9a9a"/><circle cx="59.2" cy="421.7" r="0.8" fill="#3a9a9a"/><circle cx="65.8" cy="423.1" r="0.8" fill="#3a9a9a"/><circle cx="73.3" cy="403.3" r="0.8" fill="#3a9a9a"/><circle cx="73.8" cy="407.7" r="0.8" fill="#3a9a9a"/><circle cx="72.2" cy="404.5" r="0.8" fill="#3a9a9a"/><circle cx="73.2" cy="400.2" r="0.8" fill="#3a9a9a"/><circle cx="73.5" cy="405.5" r="0.8" fill="#3a9a9a"/><circle cx="73.9" cy="403.2" r="0.8" fill="#3a9a9a"/><circle cx="73.9" cy="400.5" r="0.8" fill="#3a9a9a"/><circle cx="73.1" cy="403.5" r="0.8" fill="#3a9a9a"/><circle cx="72.6" cy="404.2" r="0.8" fill="#3a9a9a"/><circle cx="73.8" cy="407.2" r="0.8" fill="#3a9a9a"/><circle cx="46.8" cy="374.5" r="0.8" fill="#4a5080"/><circle cx="57.5" cy="373.1" r="0.8" fill="#6a2a7a"/><circle cx="57.4" cy="371.5" r="0.8" fill="#4a5080"/><circle cx="56.5" cy="372.1" r="0.8" fill="#4a5080"/><circle cx="55.2" cy="371.5" r="0.8" fill="#6a2a7a"/><circle cx="48.2" cy="371.6" r="0.8" fill="#4a5080"/><circle cx="47.8" cy="373.6" r="0.8" fill="#7a7a9a"/><circle cx="45.9" cy="374.5" r="0.8" fill="#7a7a9a"/><circle cx="54.8" cy="372.7" r="0.8" fill="#6a2a7a"/><circle cx="54.4" cy="378.0" r="0.8" fill="#7a7a9a"/><circle cx="49.2" cy="370.5" r="0.8" fill="#4a5080"/><circle cx="56.5" cy="371.1" r="0.8" fill="#4a5080"/><circle cx="46.5" cy="370.7" r="0.8" fill="#4a5080"/><circle cx="52.3" cy="371.1" r="0.8" fill="#6a2a7a"/><circle cx="54.4" cy="372.7" r="0.8" fill="#7a7a9a"/><circle cx="48.1" cy="371.9" r="0.8" fill="#4a5080"/><circle cx="53.6" cy="373.2" r="0.8" fill="#4a5080"/><circle cx="57.7" cy="378.0" r="0.8" fill="#4a5080"/><circle cx="46.4" cy="374.9" r="0.8" fill="#4a5080"/><circle cx="47.2" cy="375.2" r="0.8" fill="#7a7a9a"/><circle cx="50.0" cy="376.9" r="0.8" fill="#4a5080"/><circle cx="57.9" cy="375.1" r="0.8" fill="#4a5080"/><circle cx="55.7" cy="374.7" r="0.8" fill="#4a5080"/><circle cx="48.3" cy="374.9" r="0.8" fill="#4a5080"/><circle cx="57.3" cy="372.0" r="0.8" fill="#4a5080"/><circle cx="47.8" cy="374.2" r="0.8" fill="#7a7a9a"/><circle cx="49.1" cy="370.8" r="0.8" fill="#7a7a9a"/><circle cx="49.9" cy="372.4" r="0.8" fill="#4a5080"/><circle cx="57.4" cy="377.4" r="0.8" fill="#4a5080"/><circle cx="49.6" cy="376.9" r="0.8" fill="#4a5080"/><circle cx="50.3" cy="371.9" r="0.8" fill="#4a5080"/><circle cx="52.1" cy="370.9" r="0.8" fill="#6a2a7a"/><circle cx="58.3" cy="373.9" r="0.8" fill="#4a5080"/><circle cx="46.6" cy="371.5" r="0.8" fill="#4a5080"/><circle cx="57.6" cy="371.1" r="0.8" fill="#7a7a9a"/><circle cx="54.5" cy="376.2" r="0.8" fill="#4a5080"/><circle cx="58.8" cy="373.7" r="0.8" fill="#4a5080"/><circle cx="56.4" cy="375.7" r="0.8" fill="#4a5080"/><circle cx="56.0" cy="373.5" r="0.8" fill="#4a5080"/><circle cx="51.8" cy="376.9" r="0.8" fill="#7a7a9a"/><circle cx="56.7" cy="383.1" r="0.8" fill="#3a9a9a"/><circle cx="58.7" cy="386.6" r="0.8" fill="#4a5080"/><circle cx="58.0" cy="385.4" r="0.8" fill="#3a9a9a"/><circle cx="58.7" cy="383.3" r="0.8" fill="#4a5080"/><circle cx="57.5" cy="382.2" r="0.8" fill="#4a5080"/><circle cx="57.9" cy="383.9" r="0.8" fill="#3a9a9a"/><circle cx="59.5" cy="386.8" r="0.8" fill="#3a9a9a"/><circle cx="56.8" cy="382.1" r="0.8" fill="#3a9a9a"/><circle cx="57.3" cy="383.6" r="0.8" fill="#3a9a9a"/><circle cx="59.3" cy="386.6" r="0.8" fill="#4a5080"/><circle cx="58.9" cy="386.7" r="0.8" fill="#4a5080"/><circle cx="56.7" cy="379.0" r="0.8" fill="#4a5080"/><circle cx="71.7" cy="370.5" r="0.8" fill="#4a5080"/><circle cx="69.1" cy="369.1" r="0.8" fill="#4f62a8"/><circle cx="70.3" cy="363.3" r="0.8" fill="#3a9a9a"/><circle cx="73.1" cy="367.4" r="0.8" fill="#4f62a8"/><circle cx="76.1" cy="363.8" r="0.8" fill="#4a5080"/><circle cx="70.7" cy="367.2" r="0.8" fill="#4a5080"/><circle cx="70.4" cy="363.3" r="0.8" fill="#3a9a9a"/><circle cx="68.6" cy="365.9" r="0.8" fill="#4f62a8"/><circle cx="74.6" cy="366.5" r="0.8" fill="#4a5080"/><circle cx="75.2" cy="363.7" r="0.8" fill="#4f62a8"/><circle cx="75.4" cy="367.4" r="0.8" fill="#6a2a7a"/><circle cx="69.7" cy="366.5" r="0.8" fill="#4a5080"/><circle cx="72.6" cy="364.9" r="0.8" fill="#4a5080"/><circle cx="70.0" cy="366.2" r="0.8" fill="#4f62a8"/><circle cx="75.7" cy="369.0" r="0.8" fill="#4a5080"/><circle cx="68.1" cy="364.1" r="0.8" fill="#4a5080"/><circle cx="77.0" cy="369.7" r="0.8" fill="#4a5080"/><circle cx="74.4" cy="369.5" r="0.8" fill="#3a9a9a"/><circle cx="75.6" cy="366.4" r="0.8" fill="#4a5080"/><circle cx="68.3" cy="365.9" r="0.8" fill="#3a9a9a"/><circle cx="75.8" cy="363.7" r="0.8" fill="#3a9a9a"/><circle cx="74.1" cy="364.7" r="0.8" fill="#4a5080"/><circle cx="73.4" cy="365.7" r="0.8" fill="#4a5080"/><circle cx="67.8" cy="365.5" r="0.8" fill="#3a9a9a"/><circle cx="71.8" cy="367.5" r="0.8" fill="#4a5080"/><circle cx="77.1" cy="369.3" r="0.8" fill="#4f62a8"/><circle cx="70.1" cy="368.6" r="0.8" fill="#6a2a7a"/><circle cx="72.2" cy="363.1" r="0.8" fill="#4a5080"/><circle cx="68.5" cy="365.3" r="0.8" fill="#4f62a8"/><circle cx="72.9" cy="370.7" r="0.8" fill="#4f62a8"/><circle cx="69.7" cy="368.0" r="0.8" fill="#4a5080"/><circle cx="77.1" cy="365.4" r="0.8" fill="#4a5080"/><circle cx="82.4" cy="378.2" r="0.8" fill="#4a5080"/><circle cx="85.3" cy="378.2" r="0.8" fill="#4a5080"/><circle cx="87.5" cy="377.6" r="0.8" fill="#4a5080"/><circle cx="87.7" cy="377.2" r="0.8" fill="#4a5080"/><circle cx="85.2" cy="377.9" r="0.8" fill="#4a5080"/><circle cx="83.8" cy="377.2" r="0.8" fill="#4a5080"/><circle cx="89.2" cy="377.5" r="0.8" fill="#4a5080"/><circle cx="84.1" cy="377.6" r="0.8" fill="#4a5080"/><circle cx="87.7" cy="378.5" r="0.8" fill="#4a5080"/><circle cx="81.8" cy="377.1" r="0.8" fill="#4a5080"/><circle cx="81.9" cy="377.4" r="0.8" fill="#4a5080"/><circle cx="89.4" cy="377.5" r="0.8" fill="#4a5080"/><circle cx="76.8" cy="386.7" r="0.8" fill="#4a5080"/><circle cx="76.7" cy="385.5" r="0.8" fill="#6a2a7a"/><circle cx="77.0" cy="386.2" r="0.8" fill="#4a5080"/><circle cx="75.0" cy="386.5" r="0.8" fill="#4a5080"/><circle cx="74.5" cy="385.6" r="0.8" fill="#4a5080"/><circle cx="78.0" cy="386.1" r="0.8" fill="#4a5080"/><circle cx="76.1" cy="385.5" r="0.8" fill="#4a5080"/><circle cx="79.5" cy="386.6" r="0.8" fill="#6a2a7a"/><circle cx="74.8" cy="387.3" r="0.8" fill="#6a2a7a"/><circle cx="74.3" cy="386.2" r="0.8" fill="#6a2a7a"/><circle cx="75.0" cy="386.5" r="0.8" fill="#4a5080"/><circle cx="73.7" cy="386.5" r="0.8" fill="#6a2a7a"/><circle cx="93.0" cy="388.6" r="0.8" fill="#6a2a7a"/><circle cx="94.1" cy="388.0" r="0.8" fill="#6a2a7a"/><circle cx="92.8" cy="390.0" r="0.8" fill="#6a2a7a"/><circle cx="93.5" cy="389.3" r="0.8" fill="#4a5080"/><circle cx="93.1" cy="386.7" r="0.8" fill="#6a2a7a"/><circle cx="93.0" cy="389.9" r="0.8" fill="#6a2a7a"/><circle cx="112.6" cy="404.1" r="0.8" fill="#4a5080"/><circle cx="112.5" cy="404.3" r="0.8" fill="#4a5080"/><circle cx="113.1" cy="404.7" r="0.8" fill="#6a2a7a"/><circle cx="113.1" cy="406.1" r="0.8" fill="#4a5080"/><circle cx="112.1" cy="405.8" r="0.8" fill="#4a5080"/><circle cx="114.5" cy="406.5" r="0.8" fill="#4a5080"/><circle cx="111.0" cy="404.1" r="0.8" fill="#4a5080"/><circle cx="113.8" cy="406.5" r="0.8" fill="#4a5080"/><circle cx="104.9" cy="418.0" r="0.8" fill="#4a5080"/><circle cx="103.9" cy="418.7" r="0.8" fill="#4a5080"/><circle cx="106.0" cy="417.7" r="0.8" fill="#6a2a7a"/><circle cx="106.5" cy="416.9" r="0.8" fill="#6a2a7a"/><circle cx="105.8" cy="417.7" r="0.8" fill="#4a5080"/><circle cx="104.1" cy="419.8" r="0.8" fill="#4a5080"/><circle cx="105.4" cy="418.6" r="0.8" fill="#4a5080"/><circle cx="83.3" cy="405.4" r="0.8" fill="#4a5080"/><circle cx="82.6" cy="404.0" r="0.8" fill="#4a5080"/><circle cx="82.3" cy="404.4" r="0.8" fill="#4a5080"/><circle cx="83.0" cy="404.1" r="0.8" fill="#4a5080"/><circle cx="83.0" cy="403.3" r="0.8" fill="#4a5080"/><circle cx="82.5" cy="404.4" r="0.8" fill="#4a5080"/><circle cx="70.8" cy="448.0" r="0.75" fill="#666677"/><circle cx="72.1" cy="448.0" r="0.75" fill="#666677"/><circle cx="73.1" cy="447.5" r="0.75" fill="#666677"/><circle cx="71.4" cy="447.7" r="0.75" fill="#666677"/><circle cx="73.2" cy="446.4" r="0.75" fill="#666677"/><circle cx="68.0" cy="380.0" r="0.8" fill="#4a5080"/><circle cx="70.0" cy="383.0" r="0.8" fill="#4a5080"/><circle cx="64.0" cy="384.0" r="0.8" fill="#4a5080"/><circle cx="75.0" cy="391.0" r="0.8" fill="#4a5080"/><circle cx="79.0" cy="394.0" r="0.8" fill="#4a5080"/><circle cx="88.0" cy="400.0" r="0.8" fill="#4a5080"/><circle cx="66.0" cy="392.0" r="0.8" fill="#4a5080"/><rect x="21.10" y="357.40" width="99.90" height="97.60" fill="none" stroke="#222" stroke-width="0.9"/><text x="14.50" y="407.17" font-size="6.82" text-anchor="middle" fill="#2c2c2c" textLength="21.50" lengthAdjust="spacingAndGlyphs" transform="rotate(-90 14.50 405.00)" stroke="#2c2c2c" stroke-width="0.06">UMAP2</text><text x="70.60" y="463.80" font-size="6.82" text-anchor="middle" fill="#2c2c2c" textLength="21.50" lengthAdjust="spacingAndGlyphs" stroke="#2c2c2c" stroke-width="0.06">UMAP1</text><text x="21.20" y="473.00" font-size="7.15" fill="#2c2c2c" textLength="42.60" lengthAdjust="spacingAndGlyphs" stroke="#2c2c2c" stroke-width="0.06">Myeloid-biased:</text><circle cx="28.1" cy="480.5" r="1.2" fill="#6068a8"/><text x="33.30" y="482.40" font-size="7.15" fill="#2c2c2c" textLength="19.20" lengthAdjust="spacingAndGlyphs" stroke="#2c2c2c" stroke-width="0.06">Control</text><circle cx="28.1" cy="489.9" r="1.2" fill="#2a6a6a"/><text x="33.30" y="491.80" font-size="7.15" fill="#2c2c2c" textLength="72.50" lengthAdjust="spacingAndGlyphs" stroke="#2c2c2c" stroke-width="0.06">Tet2 KO normally expanded</text><circle cx="28.1" cy="499.3" r="1.2" fill="#4a1050"/><text x="33.30" y="501.20" font-size="7.15" fill="#2c2c2c" textLength="60.20" lengthAdjust="spacingAndGlyphs" stroke="#2c2c2c" stroke-width="0.06">Tet2 KO overexpanded</text><text x="136.80" y="347.20" font-size="10.50" fill="#111" font-weight="bold">F</text><text x="225.40" y="344.60" font-size="8.80" text-anchor="middle" fill="#2c2c2c" textLength="113.80" lengthAdjust="spacingAndGlyphs" stroke="#2c2c2c" stroke-width="0.06">Myeloid-biased Tet2 KO MPP3</text><text x="222.20" y="354.20" font-size="8.80" text-anchor="middle" fill="#2c2c2c" textLength="130.50" lengthAdjust="spacingAndGlyphs" stroke="#2c2c2c" stroke-width="0.06">overexpanded vs normally expanded</text><path d="M 216.5,450.5 L 216.5,430.0 L 214.0,427.0 L 211.0,427.0 L 208.5,430.0 L 207.5,436.0 L 207.0,444.0 L 206.5,450.5 Z" fill="#e4edf7"/><circle cx="210.4" cy="443.1" r="0.72" fill="#b4cce8"/><circle cx="214.1" cy="430.5" r="0.72" fill="#c8daee"/><circle cx="213.1" cy="430.2" r="0.72" fill="#c8daee"/><circle cx="211.0" cy="436.7" r="0.72" fill="#9cbce0"/><circle cx="215.9" cy="436.5" r="0.72" fill="#b4cce8"/><circle cx="209.8" cy="435.6" r="0.72" fill="#9cbce0"/><circle cx="208.6" cy="432.1" r="0.72" fill="#c8daee"/><circle cx="212.0" cy="449.4" r="0.72" fill="#9cbce0"/><circle cx="210.1" cy="431.8" r="0.72" fill="#9cbce0"/><circle cx="213.9" cy="447.4" r="0.72" fill="#c8daee"/><circle cx="208.7" cy="445.7" r="0.72" fill="#c8daee"/><circle cx="208.4" cy="442.1" r="0.72" fill="#b4cce8"/><circle cx="209.8" cy="436.3" r="0.72" fill="#c8daee"/><circle cx="214.9" cy="449.6" r="0.72" fill="#9cbce0"/><circle cx="216.4" cy="445.6" r="0.72" fill="#b4cce8"/><circle cx="208.3" cy="441.7" r="0.72" fill="#c8daee"/><circle cx="213.2" cy="429.2" r="0.72" fill="#b4cce8"/><circle cx="215.7" cy="441.1" r="0.72" fill="#c8daee"/><circle cx="215.6" cy="442.3" r="0.72" fill="#9cbce0"/><circle cx="208.5" cy="437.7" r="0.72" fill="#c8daee"/><circle cx="210.9" cy="445.5" r="0.72" fill="#c8daee"/><circle cx="216.3" cy="429.8" r="0.72" fill="#b4cce8"/><circle cx="209.9" cy="443.8" r="0.72" fill="#9cbce0"/><circle cx="211.3" cy="438.7" r="0.72" fill="#c8daee"/><circle cx="209.3" cy="435.8" r="0.72" fill="#c8daee"/><circle cx="212.9" cy="427.9" r="0.72" fill="#b4cce8"/><circle cx="207.9" cy="444.0" r="0.72" fill="#c8daee"/><circle cx="216.2" cy="445.0" r="0.72" fill="#b4cce8"/><circle cx="214.2" cy="450.1" r="0.72" fill="#b4cce8"/><circle cx="209.3" cy="431.1" r="0.72" fill="#b4cce8"/><circle cx="207.7" cy="447.3" r="0.72" fill="#b4cce8"/><circle cx="212.6" cy="431.9" r="0.72" fill="#b4cce8"/><circle cx="214.7" cy="434.0" r="0.72" fill="#b4cce8"/><circle cx="211.0" cy="443.3" r="0.72" fill="#c8daee"/><circle cx="215.1" cy="436.4" r="0.72" fill="#c8daee"/><circle cx="213.7" cy="437.8" r="0.72" fill="#c8daee"/><circle cx="211.2" cy="430.1" r="0.72" fill="#b4cce8"/><circle cx="214.3" cy="444.5" r="0.72" fill="#9cbce0"/><circle cx="213.4" cy="440.6" r="0.72" fill="#b4cce8"/><circle cx="215.0" cy="429.8" r="0.72" fill="#b4cce8"/><circle cx="207.9" cy="435.9" r="0.72" fill="#b4cce8"/><circle cx="210.8" cy="443.7" r="0.72" fill="#c8daee"/><circle cx="208.9" cy="445.3" r="0.72" fill="#c8daee"/><circle cx="212.6" cy="448.0" r="0.72" fill="#b4cce8"/><circle cx="208.5" cy="446.1" r="0.72" fill="#b4cce8"/><circle cx="210.5" cy="446.2" r="0.72" fill="#b4cce8"/><circle cx="208.5" cy="432.0" r="0.72" fill="#b4cce8"/><circle cx="213.5" cy="435.7" r="0.72" fill="#c8daee"/><circle cx="212.7" cy="438.3" r="0.72" fill="#b4cce8"/><circle cx="215.9" cy="433.5" r="0.72" fill="#b4cce8"/><circle cx="209.5" cy="438.1" r="0.72" fill="#b4cce8"/><circle cx="214.1" cy="434.1" r="0.72" fill="#9cbce0"/><circle cx="212.3" cy="436.5" r="0.72" fill="#c8daee"/><circle cx="208.8" cy="441.2" r="0.72" fill="#9cbce0"/><circle cx="211.9" cy="434.5" r="0.72" fill="#b4cce8"/><circle cx="199.5" cy="427.7" r="0.75" fill="#9ab8dc"/><circle cx="202.8" cy="424.4" r="0.75" fill="#9ab8dc"/><circle cx="206.9" cy="419.5" r="0.75" fill="#9ab8dc"/><circle cx="205.2" cy="409.7" r="0.75" fill="#9ab8dc"/><circle cx="211.8" cy="411.3" r="0.75" fill="#9ab8dc"/><circle cx="210.1" cy="414.6" r="0.75" fill="#9ab8dc"/><circle cx="213.4" cy="417.9" r="0.75" fill="#9ab8dc"/><circle cx="204.0" cy="432.0" r="0.75" fill="#9ab8dc"/><circle cx="206.0" cy="438.0" r="0.75" fill="#9ab8dc"/><circle cx="201.0" cy="436.0" r="0.75" fill="#9ab8dc"/><circle cx="209.0" cy="422.0" r="0.75" fill="#9ab8dc"/><circle cx="212.0" cy="421.0" r="0.75" fill="#9ab8dc"/><path d="M 217.2,450.5 L 217.2,432.0 L 218.5,427.0 L 221.0,425.0 L 224.0,426.0 L 226.0,430.0 L 227.3,436.0 L 227.0,444.0 L 228.0,450.5 Z" fill="#fdebe2"/><circle cx="223.4" cy="429.8" r="0.72" fill="#f6c4ae"/><circle cx="223.1" cy="449.0" r="0.72" fill="#f8d4c4"/><circle cx="222.8" cy="446.9" r="0.72" fill="#f6c4ae"/><circle cx="221.4" cy="442.3" r="0.72" fill="#f8d4c4"/><circle cx="219.6" cy="435.5" r="0.72" fill="#f8d4c4"/><circle cx="219.8" cy="443.0" r="0.72" fill="#f6c4ae"/><circle cx="220.7" cy="450.1" r="0.72" fill="#f8d4c4"/><circle cx="217.9" cy="431.3" r="0.72" fill="#f6c4ae"/><circle cx="217.7" cy="433.0" r="0.72" fill="#f6c4ae"/><circle cx="221.6" cy="438.7" r="0.72" fill="#f6c4ae"/><circle cx="225.9" cy="436.2" r="0.72" fill="#f6c4ae"/><circle cx="222.4" cy="442.5" r="0.72" fill="#f2ac90"/><circle cx="226.1" cy="443.5" r="0.72" fill="#f6c4ae"/><circle cx="219.0" cy="427.3" r="0.72" fill="#f2ac90"/><circle cx="217.8" cy="439.5" r="0.72" fill="#f2ac90"/><circle cx="220.7" cy="434.9" r="0.72" fill="#f6c4ae"/><circle cx="225.1" cy="436.5" r="0.72" fill="#f6c4ae"/><circle cx="226.0" cy="443.8" r="0.72" fill="#f2ac90"/><circle cx="225.2" cy="448.2" r="0.72" fill="#f6c4ae"/><circle cx="223.2" cy="445.0" r="0.72" fill="#f6c4ae"/><circle cx="218.7" cy="439.9" r="0.72" fill="#f2ac90"/><circle cx="221.3" cy="430.8" r="0.72" fill="#f6c4ae"/><circle cx="220.6" cy="432.0" r="0.72" fill="#f6c4ae"/><circle cx="224.4" cy="433.7" r="0.72" fill="#f6c4ae"/><circle cx="219.6" cy="431.6" r="0.72" fill="#f2ac90"/><circle cx="219.0" cy="444.2" r="0.72" fill="#f6c4ae"/><circle cx="225.7" cy="431.8" r="0.72" fill="#f8d4c4"/><circle cx="221.9" cy="427.0" r="0.72" fill="#f6c4ae"/><circle cx="225.8" cy="438.8" r="0.72" fill="#f6c4ae"/><circle cx="221.0" cy="442.6" r="0.72" fill="#f6c4ae"/><circle cx="217.9" cy="440.3" r="0.72" fill="#f6c4ae"/><circle cx="226.3" cy="439.0" r="0.72" fill="#f8d4c4"/><circle cx="218.5" cy="443.0" r="0.72" fill="#f8d4c4"/><circle cx="226.4" cy="447.5" r="0.72" fill="#f8d4c4"/><circle cx="223.6" cy="444.6" r="0.72" fill="#f6c4ae"/><circle cx="223.1" cy="445.1" r="0.72" fill="#f8d4c4"/><circle cx="223.1" cy="446.8" r="0.72" fill="#f2ac90"/><circle cx="220.0" cy="426.9" r="0.72" fill="#f8d4c4"/><circle cx="218.8" cy="449.7" r="0.72" fill="#f6c4ae"/><circle cx="223.0" cy="445.8" r="0.72" fill="#f2ac90"/><circle cx="218.7" cy="436.6" r="0.72" fill="#f6c4ae"/><circle cx="222.2" cy="428.4" r="0.72" fill="#f2ac90"/><circle cx="221.0" cy="434.9" r="0.72" fill="#f2ac90"/><circle cx="226.1" cy="433.6" r="0.72" fill="#f6c4ae"/><circle cx="224.4" cy="429.8" r="0.72" fill="#f6c4ae"/><circle cx="224.8" cy="443.8" r="0.72" fill="#f8d4c4"/><circle cx="220.9" cy="446.9" r="0.72" fill="#f8d4c4"/><circle cx="218.0" cy="447.9" r="0.72" fill="#f8d4c4"/><circle cx="220.3" cy="429.3" r="0.72" fill="#f6c4ae"/><circle cx="226.0" cy="446.6" r="0.72" fill="#f6c4ae"/><circle cx="219.1" cy="426.9" r="0.72" fill="#f6c4ae"/><circle cx="220.4" cy="426.3" r="0.72" fill="#f6c4ae"/><circle cx="221.6" cy="438.1" r="0.72" fill="#f6c4ae"/><circle cx="218.8" cy="449.8" r="0.72" fill="#f2ac90"/><circle cx="224.8" cy="447.9" r="0.72" fill="#f6c4ae"/><circle cx="224.0" cy="401.5" r="0.75" fill="#f0a080"/><circle cx="231.4" cy="411.3" r="0.75" fill="#f0a080"/><circle cx="233.0" cy="416.2" r="0.75" fill="#f0a080"/><circle cx="234.6" cy="424.4" r="0.75" fill="#f0a080"/><circle cx="231.4" cy="430.1" r="0.75" fill="#f0a080"/><circle cx="225.7" cy="423.6" r="0.75" fill="#f0a080"/><circle cx="222.0" cy="420.0" r="0.75" fill="#f0a080"/><circle cx="228.0" cy="418.0" r="0.75" fill="#f0a080"/><circle cx="219.0" cy="423.0" r="0.75" fill="#f0a080"/><rect x="197.90" y="449.70" width="37.60" height="1.60" fill="#d0dcea"/><rect x="217.00" y="449.70" width="18.50" height="1.60" fill="#f4c8b4"/><circle cx="177.5" cy="450.7" r="0.85" fill="#2a3a5a"/><circle cx="188.0" cy="450.7" r="0.85" fill="#2a3a5a"/><circle cx="194.6" cy="450.7" r="0.85" fill="#2a3a5a"/><circle cx="199.5" cy="450.7" r="0.85" fill="#2a3a5a"/><circle cx="230.0" cy="450.7" r="0.8" fill="#c08070"/><circle cx="233.0" cy="450.7" r="0.8" fill="#c08070"/><circle cx="270.0" cy="450.5" r="0.9" fill="#2a1a1a"/><text x="211.25" y="366.74" font-size="7.04" text-anchor="middle" fill="#a0a0a0" textLength="14.90" lengthAdjust="spacingAndGlyphs" stroke="#a0a0a0" stroke-width="0.06">Rpl34</text><text x="190.10" y="373.14" font-size="7.04" text-anchor="middle" fill="#e0442e" textLength="17.00" lengthAdjust="spacingAndGlyphs" stroke="#e0442e" stroke-width="0.06">Uba52</text><text x="188.00" y="379.04" font-size="7.04" text-anchor="middle" fill="#90a6c6" textLength="25.40" lengthAdjust="spacingAndGlyphs" stroke="#90a6c6" stroke-width="0.06">Gm10076</text><text x="226.60" y="379.44" font-size="7.04" text-anchor="middle" fill="#a0a0a0" textLength="15.80" lengthAdjust="spacingAndGlyphs" stroke="#a0a0a0" stroke-width="0.06">Rps29</text><text x="187.45" y="390.64" font-size="7.04" text-anchor="middle" fill="#a0a0a0" textLength="24.30" lengthAdjust="spacingAndGlyphs" stroke="#a0a0a0" stroke-width="0.06">Gm11808</text><text x="226.60" y="390.04" font-size="7.04" text-anchor="middle" fill="#a0a0a0" textLength="15.80" lengthAdjust="spacingAndGlyphs" stroke="#a0a0a0" stroke-width="0.06">Rps21</text><text x="185.85" y="399.14" font-size="7.04" text-anchor="middle" fill="#a0a0a0" textLength="19.10" lengthAdjust="spacingAndGlyphs" stroke="#a0a0a0" stroke-width="0.06">Tmsb10</text><text x="223.10" y="397.04" font-size="7.04" text-anchor="middle" fill="#a0a0a0" textLength="12.20" lengthAdjust="spacingAndGlyphs" stroke="#a0a0a0" stroke-width="0.06">Rps2</text><text x="239.10" y="402.74" font-size="7.04" text-anchor="middle" fill="#e0442e" textLength="14.20" lengthAdjust="spacingAndGlyphs" stroke="#e0442e" stroke-width="0.06">Hspa8</text><text x="186.40" y="406.34" font-size="7.04" text-anchor="middle" fill="#a0a0a0" textLength="13.80" lengthAdjust="spacingAndGlyphs" stroke="#a0a0a0" stroke-width="0.06">Rpl38</text><text x="210.20" y="406.34" font-size="7.04" text-anchor="middle" fill="#a0a0a0" textLength="19.00" lengthAdjust="spacingAndGlyphs" stroke="#a0a0a0" stroke-width="0.06">Rps27a</text><text x="254.10" y="411.24" font-size="7.04" text-anchor="middle" fill="#90a6c6" textLength="30.60" lengthAdjust="spacingAndGlyphs" stroke="#90a6c6" stroke-width="0.06">AC149090.1</text><text x="186.95" y="413.34" font-size="7.04" text-anchor="middle" fill="#a0a0a0" textLength="23.30" lengthAdjust="spacingAndGlyphs" stroke="#a0a0a0" stroke-width="0.06">Gm42418</text><text x="241.60" y="418.24" font-size="7.04" text-anchor="middle" fill="#e0442e" textLength="11.20" lengthAdjust="spacingAndGlyphs" stroke="#e0442e" stroke-width="0.06">Fut8</text><text x="196.95" y="420.74" font-size="7.04" text-anchor="middle" fill="#e0442e" textLength="9.50" lengthAdjust="spacingAndGlyphs" stroke="#e0442e" stroke-width="0.06">Erh</text><text x="246.45" y="425.34" font-size="7.04" text-anchor="middle" fill="#e0442e" textLength="9.90" lengthAdjust="spacingAndGlyphs" stroke="#e0442e" stroke-width="0.06">Fos</text><text x="240.55" y="433.44" font-size="7.04" text-anchor="middle" fill="#e0442e" textLength="9.10" lengthAdjust="spacingAndGlyphs" stroke="#e0442e" stroke-width="0.06">Jun</text><text x="261.00" y="371.64" font-size="7.04" text-anchor="middle" fill="#a0a0a0" textLength="10.60" lengthAdjust="spacingAndGlyphs" stroke="#a0a0a0" stroke-width="0.06">Xist</text><line x1="194.30" y1="361.30" x2="202.80" y2="364.50" stroke="#333" stroke-width="0.6"/><line x1="177.40" y1="361.30" x2="177.40" y2="370.00" stroke="#333" stroke-width="0.6"/><line x1="189.00" y1="361.00" x2="189.00" y2="365.50" stroke="#333" stroke-width="0.6"/><line x1="199.60" y1="386.00" x2="202.00" y2="383.00" stroke="#333" stroke-width="0.6"/><line x1="197.00" y1="395.00" x2="206.00" y2="386.00" stroke="#333" stroke-width="0.6"/><line x1="194.00" y1="402.50" x2="209.00" y2="391.00" stroke="#333" stroke-width="0.6"/><line x1="209.00" y1="396.00" x2="210.50" y2="399.50" stroke="#333" stroke-width="0.6"/><line x1="221.00" y1="383.00" x2="214.00" y2="389.00" stroke="#333" stroke-width="0.6"/><line x1="222.00" y1="391.50" x2="215.00" y2="397.00" stroke="#333" stroke-width="0.6"/><line x1="223.40" y1="399.50" x2="223.40" y2="407.30" stroke="#333" stroke-width="0.6"/><line x1="231.50" y1="401.00" x2="228.50" y2="402.50" stroke="#333" stroke-width="0.6"/><line x1="238.00" y1="409.00" x2="233.00" y2="410.00" stroke="#333" stroke-width="0.6"/><line x1="235.50" y1="416.00" x2="231.50" y2="416.50" stroke="#333" stroke-width="0.6"/><line x1="240.50" y1="423.10" x2="236.00" y2="424.00" stroke="#333" stroke-width="0.6"/><line x1="235.50" y1="431.20" x2="232.00" y2="432.00" stroke="#333" stroke-width="0.6"/><line x1="197.50" y1="410.00" x2="201.50" y2="407.00" stroke="#333" stroke-width="0.6"/><line x1="202.00" y1="416.50" x2="206.00" y2="414.50" stroke="#333" stroke-width="0.6"/><line x1="262.00" y1="366.00" x2="268.50" y2="361.00" stroke="#333" stroke-width="0.6"/><circle cx="177.4" cy="361.0" r="0.7" fill="#333"/><circle cx="189.0" cy="361.0" r="0.7" fill="#333"/><circle cx="269.5" cy="360.5" r="0.7" fill="#333"/><circle cx="202.0" cy="383.0" r="0.7" fill="#333"/><circle cx="206.0" cy="386.0" r="0.7" fill="#333"/><circle cx="209.0" cy="391.0" r="0.7" fill="#333"/><circle cx="214.0" cy="389.0" r="0.7" fill="#333"/><circle cx="215.0" cy="397.0" r="0.7" fill="#333"/><circle cx="228.5" cy="402.6" r="0.7" fill="#333"/><circle cx="233.0" cy="410.0" r="0.7" fill="#333"/><circle cx="231.5" cy="416.5" r="0.7" fill="#333"/><circle cx="236.0" cy="424.0" r="0.7" fill="#333"/><circle cx="232.0" cy="432.0" r="0.7" fill="#333"/><circle cx="201.5" cy="407.0" r="0.7" fill="#333"/><circle cx="206.0" cy="414.5" r="0.7" fill="#333"/><rect x="173.50" y="357.50" width="100.20" height="98.60" fill="none" stroke="#222" stroke-width="0.9"/><line x1="171.00" y1="364.60" x2="173.50" y2="364.60" stroke="#222" stroke-width="0.7"/><text x="168.00" y="366.91" font-size="7.26" text-anchor="end" fill="#2c2c2c" textLength="12.40" lengthAdjust="spacingAndGlyphs" stroke="#2c2c2c" stroke-width="0.06">17.5</text><line x1="171.00" y1="376.90" x2="173.50" y2="376.90" stroke="#222" stroke-width="0.7"/><text x="168.00" y="379.21" font-size="7.26" text-anchor="end" fill="#2c2c2c" textLength="12.40" lengthAdjust="spacingAndGlyphs" stroke="#2c2c2c" stroke-width="0.06">15.0</text><line x1="171.00" y1="389.20" x2="173.50" y2="389.20" stroke="#222" stroke-width="0.7"/><text x="168.00" y="391.51" font-size="7.26" text-anchor="end" fill="#2c2c2c" textLength="12.40" lengthAdjust="spacingAndGlyphs" stroke="#2c2c2c" stroke-width="0.06">12.5</text><line x1="171.00" y1="401.50" x2="173.50" y2="401.50" stroke="#222" stroke-width="0.7"/><text x="168.00" y="403.81" font-size="7.26" text-anchor="end" fill="#2c2c2c" textLength="12.40" lengthAdjust="spacingAndGlyphs" stroke="#2c2c2c" stroke-width="0.06">10.0</text><line x1="171.00" y1="413.80" x2="173.50" y2="413.80" stroke="#222" stroke-width="0.7"/><text x="168.00" y="416.11" font-size="7.26" text-anchor="end" fill="#2c2c2c" textLength="9.60" lengthAdjust="spacingAndGlyphs" stroke="#2c2c2c" stroke-width="0.06">7.5</text><line x1="171.00" y1="426.10" x2="173.50" y2="426.10" stroke="#222" stroke-width="0.7"/><text x="168.00" y="428.41" font-size="7.26" text-anchor="end" fill="#2c2c2c" textLength="9.60" lengthAdjust="spacingAndGlyphs" stroke="#2c2c2c" stroke-width="0.06">5.0</text><line x1="171.00" y1="438.40" x2="173.50" y2="438.40" stroke="#222" stroke-width="0.7"/><text x="168.00" y="440.71" font-size="7.26" text-anchor="end" fill="#2c2c2c" textLength="9.60" lengthAdjust="spacingAndGlyphs" stroke="#2c2c2c" stroke-width="0.06">2.5</text><line x1="171.00" y1="450.70" x2="173.50" y2="450.70" stroke="#222" stroke-width="0.7"/><text x="168.00" y="453.01" font-size="7.26" text-anchor="end" fill="#2c2c2c" textLength="9.60" lengthAdjust="spacingAndGlyphs" stroke="#2c2c2c" stroke-width="0.06">0.0</text><line x1="178.40" y1="456.10" x2="178.40" y2="458.30" stroke="#222" stroke-width="0.7"/><text x="177.20" y="467.25" font-size="7.70" text-anchor="middle" fill="#2c2c2c" textLength="13.00" lengthAdjust="spacingAndGlyphs" stroke="#2c2c2c" stroke-width="0.06">−1.0</text><line x1="197.45" y1="456.10" x2="197.45" y2="458.30" stroke="#222" stroke-width="0.7"/><text x="196.25" y="467.25" font-size="7.70" text-anchor="middle" fill="#2c2c2c" textLength="13.00" lengthAdjust="spacingAndGlyphs" stroke="#2c2c2c" stroke-width="0.06">−0.5</text><line x1="216.50" y1="456.10" x2="216.50" y2="458.30" stroke="#222" stroke-width="0.7"/><text x="216.50" y="467.25" font-size="7.70" text-anchor="middle" fill="#2c2c2c" textLength="10.50" lengthAdjust="spacingAndGlyphs" stroke="#2c2c2c" stroke-width="0.06">0.0</text><line x1="235.55" y1="456.10" x2="235.55" y2="458.30" stroke="#222" stroke-width="0.7"/><text x="235.55" y="467.25" font-size="7.70" text-anchor="middle" fill="#2c2c2c" textLength="10.50" lengthAdjust="spacingAndGlyphs" stroke="#2c2c2c" stroke-width="0.06">0.5</text><line x1="254.60" y1="456.10" x2="254.60" y2="458.30" stroke="#222" stroke-width="0.7"/><text x="254.60" y="467.25" font-size="7.70" text-anchor="middle" fill="#2c2c2c" textLength="10.50" lengthAdjust="spacingAndGlyphs" stroke="#2c2c2c" stroke-width="0.06">1.0</text><text x="223.50" y="478.00" font-size="9.35" text-anchor="middle" fill="#2c2c2c" textLength="45.30" lengthAdjust="spacingAndGlyphs" stroke="#2c2c2c" stroke-width="0.06">log<tspan font-size="5.4" dy="1.8">2</tspan><tspan dy="-1.8"> fold change</tspan></text><text x="145.80" y="407.80" font-size="8.80" text-anchor="middle" fill="#2c2c2c" textLength="36.00" lengthAdjust="spacingAndGlyphs" transform="rotate(-90 145.80 405.00)" stroke="#2c2c2c" stroke-width="0.06">-log<tspan font-size="5.2" dy="1.8">10</tspan><tspan dy="-1.8"> </tspan><tspan font-style="italic">P</tspan>-value</text><path d="M 173.8,490.9 L 268.6,482.3 L 268.6,491.5 L 173.8,491.5 Z" fill="url(#gwedge)"/><text x="173.80" y="499.66" font-size="6.16" text-anchor="middle" fill="#2c2c2c" textLength="16.90" lengthAdjust="spacingAndGlyphs" stroke="#2c2c2c" stroke-width="0.06">Low in</text><text x="173.10" y="506.46" font-size="6.16" text-anchor="middle" fill="#2c2c2c" textLength="38.40" lengthAdjust="spacingAndGlyphs" stroke="#2c2c2c" stroke-width="0.06">overexpanded</text><text x="268.60" y="499.66" font-size="6.16" text-anchor="middle" fill="#2c2c2c" textLength="18.50" lengthAdjust="spacingAndGlyphs" stroke="#2c2c2c" stroke-width="0.06">High in</text><text x="268.20" y="506.46" font-size="6.16" text-anchor="middle" fill="#2c2c2c" textLength="37.50" lengthAdjust="spacingAndGlyphs" stroke="#2c2c2c" stroke-width="0.06">overexpanded</text><text x="7.40" y="534.80" font-size="10.50" fill="#111" font-weight="bold">H</text><text x="88.60" y="534.60" font-size="8.80" text-anchor="middle" fill="#2c2c2c" textLength="63.00" lengthAdjust="spacingAndGlyphs" stroke="#2c2c2c" stroke-width="0.06">Biological Process</text><rect x="36.30" y="538.00" width="103.20" height="102.20" fill="none" stroke="#222" stroke-width="0.9"/><line x1="34.10" y1="608.00" x2="36.30" y2="608.00" stroke="#222" stroke-width="0.7"/><text x="30.30" y="610.38" font-size="7.48" text-anchor="end" fill="#2c2c2c" stroke="#2c2c2c" stroke-width="0.06">8</text><line x1="34.10" y1="574.40" x2="36.30" y2="574.40" stroke="#222" stroke-width="0.7"/><text x="30.30" y="576.78" font-size="7.48" text-anchor="end" fill="#2c2c2c" stroke="#2c2c2c" stroke-width="0.06">16</text><line x1="34.10" y1="540.80" x2="36.30" y2="540.80" stroke="#222" stroke-width="0.7"/><text x="30.30" y="543.18" font-size="7.48" text-anchor="end" fill="#2c2c2c" stroke="#2c2c2c" stroke-width="0.06">24</text><line x1="61.60" y1="640.20" x2="61.60" y2="642.40" stroke="#222" stroke-width="0.7"/><text x="61.60" y="651.88" font-size="7.48" text-anchor="middle" fill="#2c2c2c" textLength="9.00" lengthAdjust="spacingAndGlyphs" stroke="#2c2c2c" stroke-width="0.06">2.0</text><line x1="95.20" y1="640.20" x2="95.20" y2="642.40" stroke="#222" stroke-width="0.7"/><text x="95.20" y="651.88" font-size="7.48" text-anchor="middle" fill="#2c2c2c" textLength="9.00" lengthAdjust="spacingAndGlyphs" stroke="#2c2c2c" stroke-width="0.06">3.0</text><line x1="128.80" y1="640.20" x2="128.80" y2="642.40" stroke="#222" stroke-width="0.7"/><text x="128.80" y="651.88" font-size="7.48" text-anchor="middle" fill="#2c2c2c" textLength="9.00" lengthAdjust="spacingAndGlyphs" stroke="#2c2c2c" stroke-width="0.06">4.0</text><text x="88.60" y="663.59" font-size="8.14" text-anchor="middle" fill="#2c2c2c" textLength="56.00" lengthAdjust="spacingAndGlyphs" stroke="#2c2c2c" stroke-width="0.06">HSC (−log<tspan font-size="5" dy="1.6">10</tspan><tspan dy="-1.6"> q-value)</tspan></text><text x="14.50" y="592.29" font-size="8.14" text-anchor="middle" fill="#2c2c2c" textLength="62.00" lengthAdjust="spacingAndGlyphs" transform="rotate(-90 14.50 589.70)" stroke="#2c2c2c" stroke-width="0.06">MPP3 (−log<tspan font-size="5" dy="1.6">10</tspan><tspan dy="-1.6"> q-value)</tspan></text><circle cx="44.4" cy="543.8" r="2.3" fill="#3aa6b0" opacity="0.95"/><circle cx="43.3" cy="548.3" r="2.3" fill="#8a6aaa" opacity="0.95"/><circle cx="42.2" cy="618.6" r="2.7" fill="#e07aa8" opacity="0.95"/><circle cx="43.4" cy="618.2" r="2.6" fill="#e890b8" opacity="0.95"/><circle cx="43.7" cy="630.8" r="2.8" fill="#6a70b0" opacity="0.95"/><circle cx="48.8" cy="635.2" r="2" fill="#2aa898" opacity="0.95"/><circle cx="52.1" cy="635.7" r="1.8" fill="#2aa898" opacity="0.95"/><circle cx="61.0" cy="626.8" r="3" fill="#2a9a5a" opacity="0.95"/><circle cx="87.1" cy="633.0" r="2.2" fill="#9aa830" opacity="0.95"/><circle cx="94.8" cy="627.9" r="2.3" fill="#c8b02a" opacity="0.95"/><circle cx="94.8" cy="630.6" r="2.3" fill="#c8a82a" opacity="0.95"/><circle cx="135.1" cy="562.0" r="2.8" fill="#e06080" opacity="0.95"/><text x="56.50" y="560.04" font-size="7.04" text-anchor="middle" fill="#2c2c2c" textLength="20.00" lengthAdjust="spacingAndGlyphs" stroke="#2c2c2c" stroke-width="0.06">Positive</text><text x="56.50" y="567.14" font-size="7.04" text-anchor="middle" fill="#2c2c2c" textLength="33.00" lengthAdjust="spacingAndGlyphs" stroke="#2c2c2c" stroke-width="0.06">regulation of</text><text x="56.50" y="574.44" font-size="7.04" text-anchor="middle" fill="#2c2c2c" textLength="33.00" lengthAdjust="spacingAndGlyphs" stroke="#2c2c2c" stroke-width="0.06">transcription</text><line x1="48.80" y1="548.30" x2="52.10" y2="553.80" stroke="#333" stroke-width="0.6"/><text x="115.60" y="554.84" font-size="7.04" text-anchor="middle" fill="#2c2c2c" textLength="45.70" lengthAdjust="spacingAndGlyphs" stroke="#2c2c2c" stroke-width="0.06">mRNA metabolic</text><text x="115.50" y="562.14" font-size="7.04" text-anchor="middle" fill="#2c2c2c" textLength="19.70" lengthAdjust="spacingAndGlyphs" stroke="#2c2c2c" stroke-width="0.06">process</text><text x="71.00" y="596.44" font-size="7.04" text-anchor="middle" fill="#2c2c2c" textLength="24.00" lengthAdjust="spacingAndGlyphs" stroke="#2c2c2c" stroke-width="0.06">Positive</text><text x="71.00" y="604.04" font-size="7.04" text-anchor="middle" fill="#2c2c2c" textLength="48.50" lengthAdjust="spacingAndGlyphs" stroke="#2c2c2c" stroke-width="0.06">regulation of RNA</text><text x="71.00" y="611.24" font-size="7.04" text-anchor="middle" fill="#2c2c2c" textLength="47.00" lengthAdjust="spacingAndGlyphs" stroke="#2c2c2c" stroke-width="0.06">metabolic process</text><line x1="65.40" y1="623.50" x2="70.50" y2="615.80" stroke="#333" stroke-width="0.6"/><text x="115.60" y="624.04" font-size="7.04" text-anchor="middle" fill="#2c2c2c" textLength="38.80" lengthAdjust="spacingAndGlyphs" stroke="#2c2c2c" stroke-width="0.06">mRNA splicing</text><text x="115.30" y="631.34" font-size="7.04" text-anchor="middle" fill="#2c2c2c" textLength="32.50" lengthAdjust="spacingAndGlyphs" stroke="#2c2c2c" stroke-width="0.06">RNA splicing</text><text x="115.10" y="637.94" font-size="7.04" text-anchor="middle" fill="#2c2c2c" textLength="46.80" lengthAdjust="spacingAndGlyphs" stroke="#2c2c2c" stroke-width="0.06">mRNA processing</text><text x="156.50" y="547.17" font-size="6.82" text-anchor="middle" fill="#2c2c2c" textLength="25.00" lengthAdjust="spacingAndGlyphs" stroke="#2c2c2c" stroke-width="0.06">combined</text><text x="156.50" y="554.07" font-size="6.82" text-anchor="middle" fill="#2c2c2c" textLength="10.50" lengthAdjust="spacingAndGlyphs" stroke="#2c2c2c" stroke-width="0.06">hits</text><circle cx="147.1" cy="562.3" r="1.7" fill="#111"/><text x="153.60" y="564.54" font-size="7.04" fill="#2c2c2c" stroke="#2c2c2c" stroke-width="0.06">16</text><circle cx="147.1" cy="571.0" r="1.9" fill="#111"/><text x="153.60" y="573.24" font-size="7.04" fill="#2c2c2c" stroke="#2c2c2c" stroke-width="0.06">24</text><circle cx="147.1" cy="579.6" r="2.1" fill="#111"/><text x="153.60" y="581.84" font-size="7.04" fill="#2c2c2c" stroke="#2c2c2c" stroke-width="0.06">32</text><circle cx="147.1" cy="589.3" r="2.3" fill="#111"/><text x="153.60" y="591.54" font-size="7.04" fill="#2c2c2c" stroke="#2c2c2c" stroke-width="0.06">40</text><circle cx="147.1" cy="598.6" r="2.55" fill="#111"/><text x="153.60" y="600.84" font-size="7.04" fill="#2c2c2c" stroke="#2c2c2c" stroke-width="0.06">48</text><circle cx="147.1" cy="609.0" r="2.8" fill="#111"/><text x="153.60" y="611.24" font-size="7.04" fill="#2c2c2c" stroke="#2c2c2c" stroke-width="0.06">56</text><text x="183.60" y="534.80" font-size="10.50" fill="#111" font-weight="bold">I</text><text x="268.10" y="534.60" font-size="8.80" text-anchor="middle" fill="#2c2c2c" textLength="26.60" lengthAdjust="spacingAndGlyphs" stroke="#2c2c2c" stroke-width="0.06">Disease</text><rect x="215.30" y="538.80" width="103.70" height="101.60" fill="none" stroke="#222" stroke-width="0.9"/><line x1="212.70" y1="630.40" x2="214.90" y2="630.40" stroke="#222" stroke-width="0.7"/><text x="209.90" y="632.78" font-size="7.48" text-anchor="end" fill="#2c2c2c" textLength="8.20" lengthAdjust="spacingAndGlyphs" stroke="#2c2c2c" stroke-width="0.06">1.5</text><line x1="212.70" y1="584.70" x2="214.90" y2="584.70" stroke="#222" stroke-width="0.7"/><text x="209.90" y="587.08" font-size="7.48" text-anchor="end" fill="#2c2c2c" textLength="8.20" lengthAdjust="spacingAndGlyphs" stroke="#2c2c2c" stroke-width="0.06">2.5</text><line x1="212.70" y1="539.00" x2="214.90" y2="539.00" stroke="#222" stroke-width="0.7"/><text x="209.90" y="541.38" font-size="7.48" text-anchor="end" fill="#2c2c2c" textLength="8.20" lengthAdjust="spacingAndGlyphs" stroke="#2c2c2c" stroke-width="0.06">3.5</text><line x1="235.80" y1="639.60" x2="235.80" y2="641.80" stroke="#222" stroke-width="0.7"/><text x="235.80" y="651.38" font-size="7.48" text-anchor="middle" fill="#2c2c2c" textLength="9.00" lengthAdjust="spacingAndGlyphs" stroke="#2c2c2c" stroke-width="0.06">1.4</text><line x1="269.00" y1="639.60" x2="269.00" y2="641.80" stroke="#222" stroke-width="0.7"/><text x="269.00" y="651.38" font-size="7.48" text-anchor="middle" fill="#2c2c2c" textLength="9.00" lengthAdjust="spacingAndGlyphs" stroke="#2c2c2c" stroke-width="0.06">1.6</text><line x1="302.20" y1="639.60" x2="302.20" y2="641.80" stroke="#222" stroke-width="0.7"/><text x="302.20" y="651.38" font-size="7.48" text-anchor="middle" fill="#2c2c2c" textLength="9.00" lengthAdjust="spacingAndGlyphs" stroke="#2c2c2c" stroke-width="0.06">1.8</text><text x="268.20" y="662.59" font-size="8.14" text-anchor="middle" fill="#2c2c2c" textLength="57.70" lengthAdjust="spacingAndGlyphs" stroke="#2c2c2c" stroke-width="0.06">HSC (−log<tspan font-size="5" dy="1.6">10</tspan><tspan dy="-1.6"> q-value)</tspan></text><text x="191.80" y="592.29" font-size="8.14" text-anchor="middle" fill="#2c2c2c" textLength="61.70" lengthAdjust="spacingAndGlyphs" transform="rotate(-90 191.80 589.70)" stroke="#2c2c2c" stroke-width="0.06">MPP3 (−log<tspan font-size="5" dy="1.6">10</tspan><tspan dy="-1.6"> q-value)</tspan></text><circle cx="296.8" cy="555.9" r="3.3" fill="#7ab030" opacity="0.95"/><circle cx="315.4" cy="588.8" r="2" fill="#e06080" opacity="0.95"/><circle cx="315.4" cy="616.9" r="2.5" fill="#e08a3a" opacity="0.95"/><circle cx="307.0" cy="635.9" r="3" fill="#b8a028" opacity="0.95"/><circle cx="256.6" cy="616.9" r="2.5" fill="#2aa898" opacity="0.95"/><circle cx="220.4" cy="598.6" r="2.5" fill="#7a8ac0" opacity="0.95"/><circle cx="220.4" cy="603.4" r="3.3" fill="#a070c0" opacity="0.95"/><circle cx="220.4" cy="616.9" r="2.4" fill="#2aa8b0" opacity="0.95"/><circle cx="220.4" cy="620.6" r="2.4" fill="#2aa0b0" opacity="0.95"/><circle cx="220.4" cy="627.9" r="1.6" fill="#c050a0" opacity="0.95"/><text x="278.70" y="549.74" font-size="7.04" text-anchor="middle" fill="#2c2c2c" textLength="53.00" lengthAdjust="spacingAndGlyphs" stroke="#2c2c2c" stroke-width="0.06">Acute Promyelocytic</text><text x="278.20" y="557.04" font-size="7.04" text-anchor="middle" fill="#2c2c2c" textLength="24.90" lengthAdjust="spacingAndGlyphs" stroke="#2c2c2c" stroke-width="0.06">Leukemia</text><text x="238.40" y="579.74" font-size="7.04" text-anchor="middle" fill="#2c2c2c" textLength="43.10" lengthAdjust="spacingAndGlyphs" stroke="#2c2c2c" stroke-width="0.06">Leukemogenesis</text><text x="298.50" y="579.74" font-size="7.04" text-anchor="middle" fill="#2c2c2c" textLength="39.10" lengthAdjust="spacingAndGlyphs" stroke="#2c2c2c" stroke-width="0.06">Acute Myeloid</text><text x="298.80" y="586.24" font-size="7.04" text-anchor="middle" fill="#2c2c2c" textLength="36.20" lengthAdjust="spacingAndGlyphs" stroke="#2c2c2c" stroke-width="0.06">Leukemia, M1</text><text x="259.90" y="591.04" font-size="7.04" text-anchor="middle" fill="#2c2c2c" textLength="13.80" lengthAdjust="spacingAndGlyphs" stroke="#2c2c2c" stroke-width="0.06">Acute</text><text x="260.80" y="599.04" font-size="7.04" text-anchor="middle" fill="#2c2c2c" textLength="28.20" lengthAdjust="spacingAndGlyphs" stroke="#2c2c2c" stroke-width="0.06">Myelocytic</text><text x="260.80" y="606.34" font-size="7.04" text-anchor="middle" fill="#2c2c2c" textLength="24.40" lengthAdjust="spacingAndGlyphs" stroke="#2c2c2c" stroke-width="0.06">Leukemia</text><text x="297.50" y="610.74" font-size="7.04" text-anchor="middle" fill="#2c2c2c" textLength="37.20" lengthAdjust="spacingAndGlyphs" stroke="#2c2c2c" stroke-width="0.06">Acute Myeloid</text><text x="295.20" y="618.04" font-size="7.04" text-anchor="middle" fill="#2c2c2c" textLength="23.70" lengthAdjust="spacingAndGlyphs" stroke="#2c2c2c" stroke-width="0.06">Leukemia</text><text x="297.00" y="625.34" font-size="7.04" text-anchor="middle" fill="#2c2c2c" textLength="27.40" lengthAdjust="spacingAndGlyphs" stroke="#2c2c2c" stroke-width="0.06">(AML-M2)</text><text x="246.70" y="631.94" font-size="7.04" text-anchor="middle" fill="#2c2c2c" textLength="38.00" lengthAdjust="spacingAndGlyphs" stroke="#2c2c2c" stroke-width="0.06">Mixed Lineage</text><text x="247.30" y="639.24" font-size="7.04" text-anchor="middle" fill="#2c2c2c" textLength="24.50" lengthAdjust="spacingAndGlyphs" stroke="#2c2c2c" stroke-width="0.06">Leukemia</text><line x1="226.00" y1="579.50" x2="222.80" y2="598.00" stroke="#333" stroke-width="0.55"/><line x1="258.50" y1="607.50" x2="257.50" y2="613.50" stroke="#333" stroke-width="0.55"/><line x1="223.50" y1="621.50" x2="227.50" y2="625.50" stroke="#333" stroke-width="0.55"/><text x="336.20" y="547.87" font-size="6.82" text-anchor="middle" fill="#2c2c2c" textLength="25.00" lengthAdjust="spacingAndGlyphs" stroke="#2c2c2c" stroke-width="0.06">combined</text><text x="336.20" y="554.37" font-size="6.82" text-anchor="middle" fill="#2c2c2c" textLength="10.50" lengthAdjust="spacingAndGlyphs" stroke="#2c2c2c" stroke-width="0.06">hits</text><circle cx="325.3" cy="562.1" r="1.9" fill="#111"/><text x="331.20" y="564.34" font-size="7.04" fill="#2c2c2c" stroke="#2c2c2c" stroke-width="0.06">8</text><circle cx="325.3" cy="571.2" r="2.2" fill="#111"/><text x="331.20" y="573.44" font-size="7.04" fill="#2c2c2c" stroke="#2c2c2c" stroke-width="0.06">12</text><circle cx="325.3" cy="580.4" r="2.5" fill="#111"/><text x="331.20" y="582.64" font-size="7.04" fill="#2c2c2c" stroke="#2c2c2c" stroke-width="0.06">16</text><circle cx="325.3" cy="589.5" r="2.8" fill="#111"/><text x="331.20" y="591.74" font-size="7.04" fill="#2c2c2c" stroke="#2c2c2c" stroke-width="0.06">20</text><circle cx="325.3" cy="599.4" r="3.05" fill="#111"/><text x="331.20" y="601.64" font-size="7.04" fill="#2c2c2c" stroke="#2c2c2c" stroke-width="0.06">24</text><rect x="0.5" y="0.5" width="519" height="680" fill="none" stroke="#505050" stroke-width="1"/></svg></body></html>
